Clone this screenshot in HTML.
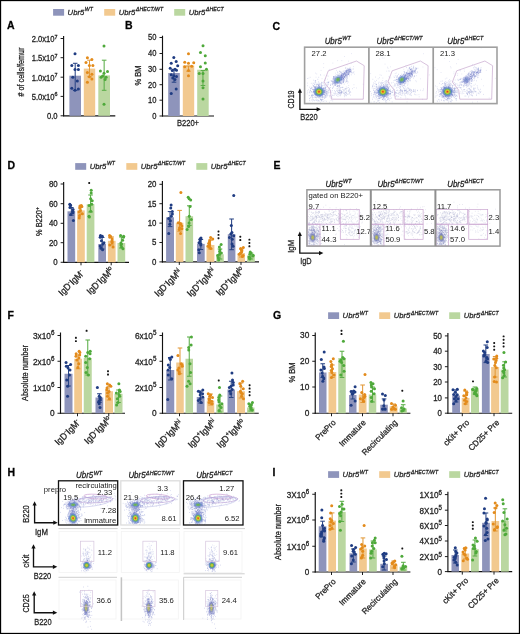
<!DOCTYPE html><html><head><meta charset="utf-8"><style>html,body{margin:0;padding:0;background:#fff;width:520px;height:634px;overflow:hidden}text{font-family:"Liberation Sans",sans-serif;stroke:#222;stroke-width:0.27px;paint-order:stroke}</style></head><body><svg width="520" height="634" viewBox="0 0 520 634" style="will-change:transform;position:absolute;left:0;top:0;font-family:'Liberation Sans', sans-serif">
<rect x="0.00" y="0.00" width="520.00" height="634.00" fill="#fff" stroke="none" stroke-width="1" />
<rect x="0.50" y="0.50" width="519.00" height="633.00" fill="none" stroke="#000" stroke-width="1.3" />
<rect x="53.10" y="9.00" width="11.00" height="6.70" fill="#8e94bb" stroke="none" stroke-width="1" />
<text transform="translate(67.60,14.70) scale(0.95,1)" font-size="8.1" text-anchor="start" font-weight="normal" font-style="italic" fill="#222" >Ubr5<tspan font-size="5.5" dx="0.6" dy="-3.4">WT</tspan></text>
<rect x="104.20" y="9.00" width="11.00" height="6.70" fill="#f2c98f" stroke="none" stroke-width="1" />
<text transform="translate(118.70,14.70) scale(0.95,1)" font-size="8.1" text-anchor="start" font-weight="normal" font-style="italic" fill="#222" >Ubr5<tspan font-size="5.5" dx="0.6" dy="-3.4">&#916;HECT/WT</tspan></text>
<rect x="174.20" y="9.00" width="11.00" height="6.70" fill="#bad7a0" stroke="none" stroke-width="1" />
<text transform="translate(188.70,14.70) scale(0.95,1)" font-size="8.1" text-anchor="start" font-weight="normal" font-style="italic" fill="#222" >Ubr5<tspan font-size="5.5" dx="0.6" dy="-3.4">&#916;HECT</tspan></text>
<text transform="translate(7.00,29.20) scale(1.0,1)" font-size="10.5" text-anchor="start" font-weight="bold" font-style="normal" fill="#000" class="pl">A</text>
<text transform="translate(125.00,29.20) scale(1.0,1)" font-size="10.5" text-anchor="start" font-weight="bold" font-style="normal" fill="#000" class="pl">B</text>
<text transform="translate(272.50,30.20) scale(1.0,1)" font-size="10.5" text-anchor="start" font-weight="bold" font-style="normal" fill="#000" class="pl">C</text>
<text transform="translate(7.50,169.40) scale(1.0,1)" font-size="10.5" text-anchor="start" font-weight="bold" font-style="normal" fill="#000" class="pl">D</text>
<text transform="translate(273.50,169.40) scale(1.0,1)" font-size="10.5" text-anchor="start" font-weight="bold" font-style="normal" fill="#000" class="pl">E</text>
<text transform="translate(7.50,318.80) scale(1.0,1)" font-size="10.5" text-anchor="start" font-weight="bold" font-style="normal" fill="#000" class="pl">F</text>
<text transform="translate(273.00,318.80) scale(1.0,1)" font-size="10.5" text-anchor="start" font-weight="bold" font-style="normal" fill="#000" class="pl">G</text>
<text transform="translate(7.50,476.40) scale(1.0,1)" font-size="10.5" text-anchor="start" font-weight="bold" font-style="normal" fill="#000" class="pl">H</text>
<text transform="translate(272.50,476.40) scale(1.0,1)" font-size="10.5" text-anchor="start" font-weight="bold" font-style="normal" fill="#000" class="pl">I</text>
<line x1="63.60" y1="36.00" x2="63.60" y2="116.30" stroke="#111" stroke-width="1.15"/>
<line x1="63.10" y1="115.80" x2="115.30" y2="115.80" stroke="#111" stroke-width="1.15"/>
<line x1="60.60" y1="38.50" x2="63.60" y2="38.50" stroke="#111" stroke-width="0.95"/>
<text transform="translate(57.60,41.90) scale(0.92,1)" font-size="8.3" text-anchor="end" font-weight="normal" font-style="normal" fill="#222" >2.0x10<tspan font-size="5.9" dy="-3.4">7</tspan></text>
<line x1="60.60" y1="57.70" x2="63.60" y2="57.70" stroke="#111" stroke-width="0.95"/>
<text transform="translate(57.60,61.10) scale(0.92,1)" font-size="8.3" text-anchor="end" font-weight="normal" font-style="normal" fill="#222" >1.5x10<tspan font-size="5.9" dy="-3.4">7</tspan></text>
<line x1="60.60" y1="77.20" x2="63.60" y2="77.20" stroke="#111" stroke-width="0.95"/>
<text transform="translate(57.60,80.60) scale(0.92,1)" font-size="8.3" text-anchor="end" font-weight="normal" font-style="normal" fill="#222" >1.0x10<tspan font-size="5.9" dy="-3.4">7</tspan></text>
<line x1="60.60" y1="96.40" x2="63.60" y2="96.40" stroke="#111" stroke-width="0.95"/>
<text transform="translate(57.60,99.80) scale(0.92,1)" font-size="8.3" text-anchor="end" font-weight="normal" font-style="normal" fill="#222" >5.0x10<tspan font-size="5.9" dy="-3.4">6</tspan></text>
<line x1="60.60" y1="115.80" x2="63.60" y2="115.80" stroke="#111" stroke-width="0.95"/>
<text transform="translate(57.60,118.70) scale(0.92,1)" font-size="8.3" text-anchor="end" font-weight="normal" font-style="normal" fill="#222" >0.0</text>
<rect x="69.40" y="75.70" width="11.60" height="40.10" fill="#8e94bb" stroke="none" stroke-width="1" />
<rect x="83.80" y="68.60" width="11.40" height="47.20" fill="#f2c98f" stroke="none" stroke-width="1" />
<rect x="98.30" y="75.40" width="11.70" height="40.40" fill="#bad7a0" stroke="none" stroke-width="1" />
<line x1="75.20" y1="63.30" x2="75.20" y2="90.30" stroke="#2a4585" stroke-width="1.05"/>
<line x1="72.90" y1="63.30" x2="77.50" y2="63.30" stroke="#2a4585" stroke-width="1.05"/>
<line x1="72.90" y1="90.30" x2="77.50" y2="90.30" stroke="#2a4585" stroke-width="1.05"/>
<circle cx="75.00" cy="53.80" r="1.5" fill="#1f3c82"/>
<circle cx="71.80" cy="65.50" r="1.5" fill="#1f3c82"/>
<circle cx="78.40" cy="65.50" r="1.5" fill="#1f3c82"/>
<circle cx="75.00" cy="69.40" r="1.5" fill="#1f3c82"/>
<circle cx="78.40" cy="69.40" r="1.5" fill="#1f3c82"/>
<circle cx="72.80" cy="77.20" r="1.5" fill="#1f3c82"/>
<circle cx="77.30" cy="81.10" r="1.5" fill="#1f3c82"/>
<circle cx="71.80" cy="88.20" r="1.5" fill="#1f3c82"/>
<circle cx="75.00" cy="90.30" r="1.5" fill="#1f3c82"/>
<circle cx="78.40" cy="88.90" r="1.5" fill="#1f3c82"/>
<line x1="89.50" y1="60.20" x2="89.50" y2="76.80" stroke="#e29a3a" stroke-width="1.05"/>
<line x1="87.20" y1="60.20" x2="91.80" y2="60.20" stroke="#e29a3a" stroke-width="1.05"/>
<line x1="87.20" y1="76.80" x2="91.80" y2="76.80" stroke="#e29a3a" stroke-width="1.05"/>
<circle cx="87.40" cy="57.70" r="1.5" fill="#e38b1b"/>
<circle cx="91.90" cy="59.50" r="1.5" fill="#e38b1b"/>
<circle cx="86.00" cy="62.60" r="1.5" fill="#e38b1b"/>
<circle cx="89.40" cy="65.50" r="1.5" fill="#e38b1b"/>
<circle cx="92.90" cy="65.50" r="1.5" fill="#e38b1b"/>
<circle cx="87.40" cy="72.60" r="1.5" fill="#e38b1b"/>
<circle cx="91.90" cy="74.30" r="1.5" fill="#e38b1b"/>
<circle cx="91.90" cy="78.90" r="1.5" fill="#e38b1b"/>
<circle cx="87.40" cy="82.20" r="1.5" fill="#e38b1b"/>
<circle cx="89.40" cy="76.80" r="1.5" fill="#e38b1b"/>
<line x1="104.15" y1="60.20" x2="104.15" y2="90.30" stroke="#5aae48" stroke-width="1.05"/>
<line x1="101.85" y1="60.20" x2="106.45" y2="60.20" stroke="#5aae48" stroke-width="1.05"/>
<line x1="101.85" y1="90.30" x2="106.45" y2="90.30" stroke="#5aae48" stroke-width="1.05"/>
<circle cx="104.00" cy="46.00" r="1.5" fill="#4ea93a"/>
<circle cx="100.40" cy="70.90" r="1.5" fill="#4ea93a"/>
<circle cx="107.50" cy="71.60" r="1.5" fill="#4ea93a"/>
<circle cx="104.00" cy="73.30" r="1.5" fill="#4ea93a"/>
<circle cx="101.10" cy="77.20" r="1.5" fill="#4ea93a"/>
<circle cx="106.10" cy="77.20" r="1.5" fill="#4ea93a"/>
<circle cx="105.10" cy="79.60" r="1.5" fill="#4ea93a"/>
<circle cx="102.60" cy="76.10" r="1.5" fill="#4ea93a"/>
<circle cx="104.00" cy="104.20" r="1.5" fill="#4ea93a"/>
<text font-size="8.4" text-anchor="middle" fill="#222" transform="translate(23.60,72.00) rotate(-90) scale(0.86,1)" ># of cells/femur</text>
<line x1="162.50" y1="35.70" x2="162.50" y2="116.50" stroke="#111" stroke-width="1.15"/>
<line x1="162.00" y1="116.00" x2="214.00" y2="116.00" stroke="#111" stroke-width="1.15"/>
<line x1="159.50" y1="37.50" x2="162.50" y2="37.50" stroke="#111" stroke-width="0.95"/>
<text transform="translate(156.50,40.40) scale(0.88,1)" font-size="8.6" text-anchor="end" font-weight="normal" font-style="normal" fill="#222" >50</text>
<line x1="159.50" y1="53.50" x2="162.50" y2="53.50" stroke="#111" stroke-width="0.95"/>
<text transform="translate(156.50,56.40) scale(0.88,1)" font-size="8.6" text-anchor="end" font-weight="normal" font-style="normal" fill="#222" >40</text>
<line x1="159.50" y1="69.30" x2="162.50" y2="69.30" stroke="#111" stroke-width="0.95"/>
<text transform="translate(156.50,72.20) scale(0.88,1)" font-size="8.6" text-anchor="end" font-weight="normal" font-style="normal" fill="#222" >30</text>
<line x1="159.50" y1="84.70" x2="162.50" y2="84.70" stroke="#111" stroke-width="0.95"/>
<text transform="translate(156.50,87.60) scale(0.88,1)" font-size="8.6" text-anchor="end" font-weight="normal" font-style="normal" fill="#222" >20</text>
<line x1="159.50" y1="100.20" x2="162.50" y2="100.20" stroke="#111" stroke-width="0.95"/>
<text transform="translate(156.50,103.10) scale(0.88,1)" font-size="8.6" text-anchor="end" font-weight="normal" font-style="normal" fill="#222" >10</text>
<line x1="159.50" y1="116.00" x2="162.50" y2="116.00" stroke="#111" stroke-width="0.95"/>
<text transform="translate(156.50,118.90) scale(0.88,1)" font-size="8.6" text-anchor="end" font-weight="normal" font-style="normal" fill="#222" >0</text>
<rect x="168.20" y="73.00" width="11.60" height="43.00" fill="#8e94bb" stroke="none" stroke-width="1" />
<rect x="182.80" y="65.50" width="11.40" height="50.50" fill="#f2c98f" stroke="none" stroke-width="1" />
<rect x="197.20" y="69.70" width="11.50" height="46.30" fill="#bad7a0" stroke="none" stroke-width="1" />
<line x1="174.00" y1="69.30" x2="174.00" y2="82.20" stroke="#2a4585" stroke-width="1.05"/>
<line x1="171.70" y1="69.30" x2="176.30" y2="69.30" stroke="#2a4585" stroke-width="1.05"/>
<line x1="171.70" y1="82.20" x2="176.30" y2="82.20" stroke="#2a4585" stroke-width="1.05"/>
<circle cx="173.79" cy="57.44" r="1.5" fill="#1f3c82"/>
<circle cx="171.24" cy="63.28" r="1.5" fill="#1f3c82"/>
<circle cx="176.19" cy="61.48" r="1.5" fill="#1f3c82"/>
<circle cx="177.69" cy="65.68" r="1.5" fill="#1f3c82"/>
<circle cx="170.19" cy="68.23" r="1.5" fill="#1f3c82"/>
<circle cx="174.99" cy="69.28" r="1.5" fill="#1f3c82"/>
<circle cx="172.29" cy="70.48" r="1.5" fill="#1f3c82"/>
<circle cx="176.49" cy="70.18" r="1.5" fill="#1f3c82"/>
<circle cx="171.24" cy="74.68" r="1.5" fill="#1f3c82"/>
<circle cx="173.79" cy="75.73" r="1.5" fill="#1f3c82"/>
<circle cx="176.49" cy="76.48" r="1.5" fill="#1f3c82"/>
<circle cx="172.74" cy="77.98" r="1.5" fill="#1f3c82"/>
<circle cx="174.99" cy="79.48" r="1.5" fill="#1f3c82"/>
<circle cx="176.19" cy="88.92" r="1.5" fill="#1f3c82"/>
<circle cx="171.24" cy="93.42" r="1.5" fill="#1f3c82"/>
<line x1="188.50" y1="66.00" x2="188.50" y2="71.20" stroke="#e29a3a" stroke-width="1.05"/>
<line x1="186.20" y1="66.00" x2="190.80" y2="66.00" stroke="#e29a3a" stroke-width="1.05"/>
<line x1="186.20" y1="71.20" x2="190.80" y2="71.20" stroke="#e29a3a" stroke-width="1.05"/>
<circle cx="188.49" cy="53.69" r="1.5" fill="#e38b1b"/>
<circle cx="184.74" cy="62.23" r="1.5" fill="#e38b1b"/>
<circle cx="188.49" cy="63.28" r="1.5" fill="#e38b1b"/>
<circle cx="193.73" cy="62.68" r="1.5" fill="#e38b1b"/>
<circle cx="184.74" cy="66.73" r="1.5" fill="#e38b1b"/>
<circle cx="191.78" cy="66.28" r="1.5" fill="#e38b1b"/>
<circle cx="188.49" cy="70.48" r="1.5" fill="#e38b1b"/>
<circle cx="188.49" cy="75.73" r="1.5" fill="#e38b1b"/>
<line x1="202.95" y1="70.50" x2="202.95" y2="85.50" stroke="#5aae48" stroke-width="1.05"/>
<line x1="200.65" y1="70.50" x2="205.25" y2="70.50" stroke="#5aae48" stroke-width="1.05"/>
<line x1="200.65" y1="85.50" x2="205.25" y2="85.50" stroke="#5aae48" stroke-width="1.05"/>
<circle cx="203.03" cy="45.74" r="1.5" fill="#4ea93a"/>
<circle cx="200.48" cy="52.49" r="1.5" fill="#4ea93a"/>
<circle cx="205.28" cy="55.79" r="1.5" fill="#4ea93a"/>
<circle cx="205.28" cy="62.98" r="1.5" fill="#4ea93a"/>
<circle cx="200.48" cy="66.73" r="1.5" fill="#4ea93a"/>
<circle cx="206.48" cy="69.28" r="1.5" fill="#4ea93a"/>
<circle cx="199.28" cy="73.48" r="1.5" fill="#4ea93a"/>
<circle cx="203.03" cy="73.48" r="1.5" fill="#4ea93a"/>
<circle cx="203.03" cy="80.97" r="1.5" fill="#4ea93a"/>
<circle cx="203.03" cy="87.72" r="1.5" fill="#4ea93a"/>
<circle cx="203.03" cy="98.97" r="1.5" fill="#4ea93a"/>
<text font-size="8.8" text-anchor="middle" fill="#222" transform="translate(141.00,75.50) rotate(-90) scale(0.86,1)" >% BM</text>
<text transform="translate(188.00,126.40) scale(0.88,1)" font-size="8.6" text-anchor="middle" font-weight="normal" font-style="normal" fill="#222" >B220+</text>
<defs>
<radialGradient id="gjet" cx="50%" cy="50%" r="50%">
<stop offset="0" stop-color="#d8241c"/>
<stop offset="0.12" stop-color="#ee8a1e"/>
<stop offset="0.25" stop-color="#d9d42e"/>
<stop offset="0.40" stop-color="#5cb04a"/>
<stop offset="0.58" stop-color="#4f7fc8"/>
<stop offset="0.78" stop-color="#7e8bd6" stop-opacity="0.55"/>
<stop offset="1" stop-color="#a8b0e6" stop-opacity="0"/>
</radialGradient>
<radialGradient id="ggrn" cx="50%" cy="50%" r="50%">
<stop offset="0" stop-color="#5cb04a"/>
<stop offset="0.22" stop-color="#78b858"/>
<stop offset="0.45" stop-color="#5584c8"/>
<stop offset="0.75" stop-color="#7d8ad4" stop-opacity="0.5"/>
<stop offset="1" stop-color="#a8b0e6" stop-opacity="0"/>
</radialGradient>
<radialGradient id="gyel" cx="50%" cy="50%" r="50%">
<stop offset="0" stop-color="#c8c040"/>
<stop offset="0.3" stop-color="#a8b060"/>
<stop offset="0.6" stop-color="#7078b8" stop-opacity="0.8"/>
<stop offset="1" stop-color="#a0a8d8" stop-opacity="0"/>
</radialGradient>
<radialGradient id="gblu" cx="50%" cy="50%" r="50%">
<stop offset="0" stop-color="#5a7cc0"/>
<stop offset="0.5" stop-color="#7f8cd0" stop-opacity="0.6"/>
<stop offset="1" stop-color="#a8b0e6" stop-opacity="0"/>
</radialGradient>
<radialGradient id="gjet2" cx="50%" cy="50%" r="50%">
<stop offset="0" stop-color="#d8281e"/>
<stop offset="0.14" stop-color="#ec7f22"/>
<stop offset="0.28" stop-color="#d8cf34"/>
<stop offset="0.45" stop-color="#6ab552" stop-opacity="0.95"/>
<stop offset="0.65" stop-color="#4f80c6" stop-opacity="0.7"/>
<stop offset="1" stop-color="#6a78cc" stop-opacity="0"/>
</radialGradient>
<radialGradient id="ggrn2" cx="50%" cy="50%" r="50%">
<stop offset="0" stop-color="#62b24e"/>
<stop offset="0.25" stop-color="#6fb25a" stop-opacity="0.9"/>
<stop offset="0.55" stop-color="#4f7fc6" stop-opacity="0.6"/>
<stop offset="1" stop-color="#6a78cc" stop-opacity="0"/>
</radialGradient>
<radialGradient id="gyg" cx="50%" cy="50%" r="50%">
<stop offset="0" stop-color="#e2c22e"/>
<stop offset="0.25" stop-color="#b8c438"/>
<stop offset="0.45" stop-color="#5fae58"/>
<stop offset="0.68" stop-color="#4f7fc8" stop-opacity="0.75"/>
<stop offset="1" stop-color="#6a78cc" stop-opacity="0"/>
</radialGradient>
</defs>
<path d="M326.5 86.6h.7M327.0 75.9h.7M315.7 77.2h.7M348.4 85.5h.7M347.2 83.2h.7M336.9 82.4h.7M338.7 86.5h.7M316.4 73.9h.7M335.5 79.4h.7M338.9 71.7h.7M335.5 85.1h.7M320.0 102.3h.7M339.5 95.6h.7M320.7 70.4h.7M325.1 78.6h.7M340.7 83.2h.7M323.4 67.6h.7M322.3 95.9h.7M317.7 83.2h.7M337.4 60.6h.7M331.4 97.0h.7M328.9 69.4h.7M338.6 79.2h.7M307.2 90.8h.7M341.3 92.3h.7M353.6 84.7h.7M332.5 63.1h.7M340.4 72.0h.7M323.4 63.6h.7M315.1 73.1h.7M351.2 53.6h.7M307.3 83.1h.7M353.7 87.5h.7M336.3 70.4h.7M312.7 92.7h.7M348.2 82.0h.7M334.5 85.6h.7M356.1 88.0h.7M338.9 87.1h.7M345.9 86.9h.7M344.1 56.5h.7M327.7 93.3h.7M309.6 100.9h.7M339.4 78.0h.7M335.8 88.4h.7M332.5 94.9h.7M320.0 74.6h.7M347.3 80.3h.7M316.5 92.3h.7M354.0 74.2h.7M308.5 78.2h.7M328.2 76.1h.7M353.1 66.6h.7M350.8 63.5h.7M318.0 88.2h.7M348.7 91.2h.7M336.1 81.9h.7M333.0 87.5h.7M327.8 83.6h.7M339.8 80.0h.7M342.8 87.4h.7M362.8 84.2h.7M323.8 75.2h.7M330.4 92.0h.7M325.2 85.0h.7M312.6 83.2h.7M337.0 83.1h.7M323.7 88.5h.7M335.1 73.2h.7M321.7 78.7h.7M327.0 79.2h.7M346.7 64.8h.7M329.5 92.4h.7M344.3 99.4h.7M325.1 88.1h.7M348.0 61.2h.7M341.5 60.6h.7M333.4 95.5h.7M328.2 82.5h.7" stroke="#9aa0d6" stroke-width="0.7" fill="none" opacity="0.45"/>
<path d="M322.2 92.2h.7M318.6 97.2h.7M323.2 90.6h.7M330.0 87.6h.7M322.7 90.7h.7M319.5 94.2h.7M319.9 94.0h.7M312.9 86.3h.7M321.5 88.2h.7M314.9 86.4h.7M324.1 94.4h.7M324.9 88.3h.7M319.0 87.6h.7M322.1 97.4h.7M315.4 97.3h.7M323.0 91.1h.7M311.1 96.8h.7M318.6 89.5h.7M320.6 93.2h.7M325.0 88.0h.7M323.5 97.1h.7M324.8 91.0h.7M316.0 95.4h.7M319.5 92.1h.7M324.7 90.8h.7M309.8 90.3h.7M311.6 94.6h.7M320.3 89.5h.7M319.0 94.7h.7M319.3 96.5h.7M318.8 95.4h.7M325.0 97.5h.7M316.3 94.9h.7M311.5 87.8h.7M311.1 95.5h.7M314.1 91.7h.7M318.2 91.6h.7M316.6 92.5h.7M326.2 91.9h.7M321.1 95.3h.7M318.2 87.2h.7M316.8 95.6h.7M312.4 89.5h.7M323.0 94.6h.7M319.0 94.6h.7M319.7 87.5h.7M312.7 89.4h.7M322.7 89.7h.7M315.4 88.9h.7M312.9 91.3h.7M314.3 93.0h.7M309.6 92.9h.7M316.4 84.7h.7M321.9 90.7h.7M310.1 88.5h.7M320.2 90.0h.7M322.1 94.4h.7M321.7 92.9h.7M324.3 94.1h.7M320.8 84.2h.7M322.6 96.4h.7M317.8 90.0h.7M326.8 85.4h.7M320.9 100.4h.7M315.3 94.2h.7M326.5 91.3h.7M321.2 94.9h.7M315.4 91.4h.7M320.2 94.7h.7M318.9 91.0h.7M314.9 90.4h.7M322.6 92.1h.7M315.6 88.7h.7M329.7 95.8h.7M321.5 82.4h.7M321.5 93.4h.7M325.7 93.2h.7M318.7 93.6h.7M311.2 95.4h.7M320.3 89.2h.7M324.3 98.2h.7M313.4 89.3h.7M320.2 92.4h.7M317.4 88.2h.7M327.5 95.4h.7M314.2 86.9h.7M325.8 95.3h.7M326.3 94.6h.7M315.5 92.6h.7M310.4 89.0h.7M318.8 93.6h.7M316.1 91.3h.7M320.8 93.1h.7M321.6 92.5h.7M317.7 94.5h.7M319.2 88.7h.7M316.5 91.7h.7M318.6 92.3h.7M319.0 92.3h.7M318.5 87.2h.7M320.7 95.5h.7M320.7 91.0h.7M320.8 88.2h.7M311.4 91.9h.7M315.3 94.4h.7M314.7 82.2h.7M314.8 97.4h.7M317.5 86.8h.7M315.9 93.6h.7M321.0 92.3h.7M324.9 94.2h.7M318.9 93.8h.7M325.6 95.2h.7M323.1 87.8h.7M318.4 94.3h.7M317.8 95.5h.7M321.4 95.0h.7M318.2 100.9h.7M324.0 90.9h.7M319.4 101.0h.7M317.6 94.8h.7M322.9 91.7h.7M314.3 92.4h.7M320.4 95.8h.7M322.1 91.8h.7M322.4 93.6h.7M319.8 91.9h.7M318.0 94.2h.7M314.8 89.4h.7M319.0 86.4h.7M317.3 84.5h.7M316.3 93.7h.7M321.3 91.5h.7M318.1 86.6h.7M326.3 93.6h.7M323.4 88.5h.7M318.3 85.1h.7M322.1 95.1h.7M311.4 91.5h.7M321.5 85.4h.7M311.7 87.9h.7M316.5 86.6h.7M319.1 92.6h.7M321.5 94.2h.7M325.0 95.9h.7M313.8 89.9h.7M314.8 87.8h.7M318.7 91.7h.7M321.0 86.0h.7M314.0 91.6h.7M318.2 90.6h.7M318.7 89.0h.7M321.8 93.0h.7M318.6 89.3h.7M318.3 81.9h.7M315.1 91.8h.7M313.0 92.4h.7M319.6 86.7h.7M318.0 90.6h.7M320.8 93.9h.7M318.9 88.6h.7M318.4 91.5h.7M321.9 92.8h.7M316.1 86.8h.7M317.5 89.0h.7M314.6 91.3h.7M317.0 92.1h.7M321.1 90.2h.7M328.3 90.5h.7M323.4 92.1h.7M323.5 83.1h.7M316.0 92.6h.7M321.4 100.1h.7M320.3 96.3h.7M322.1 95.1h.7M321.0 91.1h.7M321.0 87.8h.7M323.7 88.0h.7M320.0 99.3h.7M318.1 91.8h.7M323.7 91.8h.7M315.8 92.6h.7M321.3 94.3h.7M315.9 98.0h.7M325.7 91.8h.7M320.1 90.2h.7M324.7 89.2h.7M321.7 90.0h.7M316.2 94.3h.7M324.3 91.7h.7M316.3 94.6h.7M318.8 92.8h.7M325.1 95.8h.7M316.9 99.9h.7M319.0 94.5h.7M316.4 91.5h.7M312.0 98.1h.7M324.5 87.3h.7M313.0 85.9h.7M323.7 90.0h.7M318.8 90.6h.7M318.5 87.8h.7M319.1 86.5h.7M318.7 92.8h.7M320.9 90.9h.7M315.4 92.3h.7M317.1 97.3h.7M322.1 91.3h.7M317.1 89.2h.7M315.3 90.4h.7M320.2 93.6h.7M321.3 99.3h.7M316.2 91.7h.7M330.2 85.0h.7M316.9 92.3h.7M319.6 93.2h.7M318.0 93.0h.7M319.2 94.5h.7M311.4 88.5h.7M319.0 88.0h.7M314.8 94.0h.7M316.4 94.0h.7M322.0 92.8h.7M321.0 91.3h.7M313.4 91.6h.7M320.8 89.8h.7M318.6 94.4h.7M315.5 94.0h.7M326.5 89.7h.7M319.6 91.2h.7M325.2 92.8h.7M322.6 89.2h.7M318.9 91.7h.7M311.9 96.9h.7M322.6 85.4h.7M322.0 91.2h.7M320.8 93.0h.7M313.0 90.9h.7M325.0 89.6h.7M314.9 86.8h.7M314.1 92.9h.7M325.8 93.2h.7M320.0 99.7h.7M316.9 89.3h.7M321.1 93.7h.7M314.9 87.5h.7M320.2 92.6h.7M313.8 91.0h.7M316.8 93.4h.7M318.5 91.4h.7M317.6 95.5h.7M324.6 90.4h.7M322.4 89.0h.7M319.3 94.4h.7M325.1 90.3h.7M318.7 92.4h.7M313.0 91.8h.7M316.3 93.0h.7M314.5 84.6h.7M319.2 92.6h.7M316.8 94.9h.7M317.9 89.5h.7M320.9 86.1h.7M316.3 91.6h.7M322.4 91.1h.7M320.2 89.3h.7M320.2 97.7h.7M316.3 100.2h.7M316.4 91.8h.7M319.7 95.4h.7M314.1 84.1h.7M321.4 94.6h.7M321.5 101.2h.7M319.8 92.6h.7M322.7 93.0h.7M325.7 87.2h.7M317.5 79.3h.7M322.2 90.4h.7M322.7 99.5h.7M319.0 90.8h.7M317.0 88.7h.7M316.5 94.0h.7M319.1 91.9h.7M318.3 95.0h.7M321.0 91.2h.7M321.7 91.2h.7M314.4 96.9h.7M320.9 88.3h.7M323.3 92.9h.7M312.7 97.5h.7M320.3 94.9h.7M319.8 91.2h.7M312.8 95.2h.7M319.1 90.7h.7M320.4 92.0h.7M321.7 90.4h.7M318.9 84.0h.7M317.3 94.1h.7M324.3 90.4h.7M318.5 97.4h.7M317.7 94.3h.7M325.7 91.8h.7M323.9 89.1h.7M319.8 91.4h.7M319.5 95.8h.7M328.6 89.3h.7M316.7 93.5h.7M314.8 93.5h.7M321.3 90.7h.7M321.1 86.1h.7M322.0 86.1h.7M316.2 89.7h.7M317.4 94.8h.7M319.3 90.3h.7M321.2 97.4h.7M319.0 93.0h.7M324.0 92.7h.7M313.9 100.7h.7M327.8 84.6h.7M318.8 93.2h.7M322.9 94.1h.7M317.9 87.9h.7M319.4 95.4h.7M314.6 88.0h.7M318.9 84.7h.7M318.0 90.1h.7M320.8 89.2h.7M315.5 90.3h.7M318.8 89.3h.7M319.0 94.4h.7M323.7 97.8h.7M315.9 90.2h.7M309.1 98.5h.7M316.1 91.6h.7M321.1 86.8h.7M320.9 91.6h.7M311.7 92.8h.7M323.8 85.0h.7M322.2 92.5h.7M320.9 93.3h.7M324.2 90.9h.7M322.5 90.2h.7M321.9 88.8h.7M318.6 97.9h.7M320.8 91.1h.7M314.4 88.9h.7M319.8 95.1h.7M320.7 93.6h.7M318.8 96.6h.7M317.4 89.7h.7M322.6 91.9h.7M317.9 89.6h.7M318.0 93.9h.7M320.4 87.3h.7M320.7 92.3h.7M315.0 94.5h.7M317.9 90.5h.7M322.2 96.5h.7M316.2 93.3h.7M315.5 100.0h.7M317.0 96.0h.7M316.4 94.6h.7M327.9 82.6h.7M317.3 93.5h.7M318.6 89.3h.7M327.6 92.0h.7M312.4 94.8h.7M312.1 95.8h.7M316.7 92.2h.7M324.0 92.1h.7M313.4 85.6h.7M323.7 94.4h.7M315.7 94.8h.7M321.0 94.0h.7M310.0 90.6h.7M322.6 94.3h.7M322.5 82.9h.7M319.7 93.5h.7M329.2 88.3h.7M317.7 91.8h.7M322.5 90.1h.7M323.6 88.9h.7M320.1 89.8h.7M319.6 89.2h.7M312.6 95.6h.7M320.2 89.7h.7M319.8 95.3h.7M315.1 91.3h.7M321.2 93.6h.7M317.7 84.1h.7M324.0 92.9h.7M319.1 90.7h.7M320.1 90.2h.7M314.9 89.0h.7M316.6 89.5h.7M314.4 94.0h.7M313.8 94.1h.7M314.9 93.0h.7M324.5 92.4h.7M316.1 91.9h.7M319.6 85.5h.7M316.6 92.3h.7M317.1 92.0h.7M321.9 94.5h.7M322.6 93.8h.7M317.8 91.6h.7M317.9 90.6h.7M318.3 85.5h.7M317.7 91.6h.7M315.1 91.6h.7M321.1 91.1h.7M327.3 82.3h.7M318.2 85.1h.7M322.9 101.3h.7M309.0 92.2h.7M321.1 90.6h.7M321.2 83.6h.7M322.4 93.0h.7M319.1 89.6h.7M321.6 90.0h.7" stroke="#5565c0" stroke-width="0.7" fill="none" opacity="0.45"/>
<path d="M320.5 88.6h.7M320.3 96.2h.7M313.3 91.5h.7M323.0 92.6h.7M313.1 80.2h.7M324.6 100.9h.7M325.0 96.6h.7M315.0 87.4h.7M324.8 86.2h.7M307.2 85.7h.7M314.5 87.3h.7M320.5 87.2h.7M327.5 91.2h.7M311.9 99.6h.7M315.2 93.0h.7M318.9 89.8h.7M321.1 87.5h.7M307.0 78.5h.7M310.8 87.1h.7M318.9 92.0h.7M322.6 92.4h.7M313.8 87.4h.7M322.2 94.9h.7M318.2 90.7h.7M325.1 91.8h.7M323.8 95.2h.7M320.4 99.5h.7M315.3 89.5h.7M313.7 86.9h.7M329.1 102.3h.7M319.1 95.1h.7M326.6 96.5h.7M326.8 84.1h.7M314.8 94.4h.7M328.3 92.3h.7M313.4 89.6h.7M314.7 86.6h.7M328.8 87.9h.7M326.7 93.7h.7M315.0 94.2h.7M329.5 95.4h.7M327.2 92.3h.7M322.4 90.5h.7M321.8 99.5h.7M309.7 91.3h.7M320.6 88.3h.7M317.0 96.4h.7M332.0 95.5h.7M321.1 82.4h.7M331.5 92.2h.7M318.8 85.0h.7M318.6 85.1h.7M319.5 94.5h.7M319.2 93.4h.7M313.5 100.3h.7M314.8 80.8h.7M317.8 87.1h.7M312.4 89.6h.7M320.9 84.6h.7M318.1 100.3h.7M323.4 90.8h.7M319.8 91.0h.7M318.7 96.1h.7M318.4 77.3h.7M318.9 86.4h.7M323.2 88.0h.7M312.2 85.0h.7M309.8 77.3h.7M306.8 93.9h.7M314.9 80.5h.7M309.4 95.4h.7M314.0 89.5h.7M321.1 99.8h.7M331.6 97.9h.7M319.9 92.8h.7M330.7 100.3h.7M317.0 94.4h.7M320.9 92.0h.7M315.7 83.7h.7M315.5 82.4h.7M327.0 94.9h.7M311.2 100.1h.7M324.8 80.2h.7M331.0 96.6h.7M332.4 84.3h.7M322.4 94.2h.7M320.3 92.7h.7M325.8 82.7h.7M310.9 83.3h.7M315.4 88.1h.7M321.4 93.3h.7M319.2 87.6h.7M316.1 97.4h.7M324.0 92.3h.7M316.9 101.0h.7M315.1 95.6h.7M326.5 90.1h.7M324.4 85.0h.7M325.6 92.9h.7M308.7 95.7h.7M313.2 99.4h.7M314.6 90.7h.7M320.8 89.7h.7M320.7 88.4h.7M323.4 91.7h.7M320.4 75.2h.7M326.5 91.9h.7M307.4 92.3h.7M322.0 98.1h.7M312.0 101.0h.7M318.0 95.8h.7M316.6 85.0h.7M326.1 97.1h.7M329.0 96.8h.7M315.3 81.7h.7M314.8 87.6h.7M313.7 95.2h.7M321.1 90.1h.7M320.1 90.8h.7M320.4 96.2h.7M325.2 87.6h.7M309.2 100.3h.7M319.7 98.3h.7M308.3 89.7h.7M319.2 83.1h.7M315.6 96.0h.7M326.0 101.3h.7M313.4 83.3h.7M322.4 97.3h.7M320.3 83.9h.7M324.1 96.5h.7M322.6 88.8h.7M321.0 96.4h.7M315.4 80.6h.7M321.1 94.6h.7M319.1 97.0h.7M315.2 91.2h.7M317.0 95.1h.7M329.4 90.2h.7M332.4 100.9h.7M324.1 95.2h.7M330.5 90.6h.7M318.3 85.3h.7M322.1 99.8h.7M322.5 94.2h.7M317.7 92.7h.7M309.7 98.0h.7M316.3 85.1h.7M314.1 86.8h.7M324.6 98.0h.7M310.2 97.3h.7M324.8 88.2h.7M309.3 87.2h.7" stroke="#8088cc" stroke-width="0.7" fill="none" opacity="0.45"/>
<ellipse cx="0" cy="0" rx="6.2" ry="5.8" fill="url(#gjet2)" opacity="1" transform="translate(319.00,91.70) rotate(0)"/>
<path d="M334.3 82.9h.7M335.1 76.7h.7M336.8 78.0h.7M338.6 78.9h.7M334.2 79.8h.7M334.6 85.4h.7M338.5 83.6h.7M337.0 78.0h.7M334.6 80.6h.7M333.4 83.3h.7M334.0 80.2h.7M333.2 76.7h.7M337.8 85.5h.7M336.6 79.5h.7M328.5 82.4h.7M339.5 82.8h.7M338.7 85.8h.7M339.3 80.9h.7M339.0 84.0h.7M331.8 80.9h.7M332.1 81.7h.7M337.7 79.2h.7M330.3 85.4h.7M337.2 85.8h.7M332.4 84.8h.7M341.9 87.2h.7M335.5 82.7h.7M335.7 84.6h.7M339.0 82.2h.7M332.3 83.9h.7M334.8 83.6h.7M336.8 86.2h.7M339.3 80.8h.7M337.1 86.6h.7M334.6 83.1h.7M339.4 85.3h.7M337.6 78.6h.7M332.6 82.6h.7M337.2 88.6h.7M333.7 85.0h.7M338.3 77.7h.7M333.8 82.4h.7M334.7 81.6h.7M337.4 79.9h.7M337.4 80.3h.7M334.6 83.4h.7M334.5 82.7h.7M340.6 82.1h.7M335.7 83.9h.7M335.1 84.8h.7M332.5 83.6h.7M334.7 79.9h.7M341.1 79.8h.7M341.0 83.7h.7M340.2 79.5h.7M339.5 85.8h.7M335.8 81.7h.7M343.0 82.5h.7M334.9 80.4h.7M337.3 82.9h.7M336.6 86.5h.7M335.2 83.2h.7M340.2 79.4h.7M339.0 86.8h.7M332.3 79.1h.7M333.2 77.2h.7M337.4 77.2h.7M337.5 85.8h.7M331.6 81.2h.7M330.7 84.0h.7M334.0 81.3h.7M336.3 83.4h.7M335.1 82.0h.7M334.6 82.3h.7M332.8 82.2h.7M330.7 80.7h.7M341.5 82.2h.7M332.6 82.7h.7M333.4 77.7h.7M334.0 83.9h.7M337.2 81.7h.7M333.5 79.2h.7M339.9 82.6h.7M333.4 76.5h.7M332.3 88.4h.7M332.9 81.8h.7M336.7 81.6h.7M335.3 78.4h.7M333.2 86.4h.7M334.0 84.2h.7M331.4 81.3h.7M336.8 84.7h.7M333.0 83.5h.7M337.2 80.1h.7M337.4 79.7h.7M333.9 82.0h.7M328.5 81.7h.7M333.3 78.2h.7M334.9 84.0h.7M335.0 85.3h.7M332.9 78.6h.7M340.4 83.0h.7M338.7 79.9h.7M338.4 82.7h.7M337.9 82.1h.7M339.5 80.3h.7M333.4 78.2h.7M339.3 80.1h.7M333.2 79.6h.7M334.9 78.7h.7" stroke="#5a68c2" stroke-width="0.7" fill="none" opacity="0.42"/>
<path d="M338.0 78.2h.7M337.3 77.4h.7M338.9 78.6h.7M339.1 80.3h.7M339.7 74.4h.7M337.4 77.8h.7M340.8 75.9h.7M336.9 79.0h.7M337.9 82.1h.7M337.6 82.1h.7M334.9 75.3h.7M342.0 80.8h.7M340.1 80.0h.7M340.1 76.7h.7M341.3 78.4h.7M341.4 79.9h.7M333.6 76.6h.7M341.8 79.4h.7M337.8 80.3h.7M337.7 78.4h.7M339.1 80.1h.7M342.8 79.8h.7M343.8 84.1h.7M343.3 82.3h.7M339.1 80.0h.7M338.4 77.9h.7M338.6 78.1h.7M343.1 81.0h.7M337.6 75.0h.7M338.7 78.7h.7M335.9 76.9h.7M332.9 81.1h.7M338.6 86.0h.7M338.7 79.3h.7M342.6 80.0h.7M339.2 78.8h.7M337.2 83.4h.7M341.4 83.9h.7M337.9 79.8h.7M336.5 82.1h.7M335.1 81.1h.7M341.7 83.1h.7M336.3 82.4h.7M336.9 77.9h.7M335.3 82.5h.7M343.2 78.2h.7M336.8 78.9h.7M345.4 82.2h.7M337.4 75.3h.7M337.0 82.6h.7M343.7 79.0h.7M337.0 78.5h.7M333.8 81.9h.7M335.9 82.3h.7M334.3 76.6h.7M339.6 77.8h.7M340.9 79.7h.7M335.7 81.2h.7M341.0 75.0h.7M343.6 80.9h.7M340.8 75.2h.7M336.9 78.8h.7M341.6 76.1h.7M336.5 74.7h.7M338.2 80.5h.7M334.3 78.3h.7M340.1 83.6h.7M340.6 79.0h.7M335.7 77.4h.7M337.0 80.1h.7M338.7 83.8h.7M339.6 77.1h.7M342.9 82.0h.7M339.1 77.9h.7M333.9 77.2h.7M341.2 77.7h.7M335.3 80.2h.7M339.4 81.2h.7M340.5 83.1h.7M336.6 82.1h.7M336.2 81.4h.7M339.3 80.3h.7M341.4 79.7h.7M341.7 81.8h.7M339.2 78.3h.7M336.8 78.4h.7M338.3 79.6h.7M346.7 81.3h.7M340.8 77.6h.7M336.9 78.9h.7M339.3 77.2h.7M343.1 78.3h.7M341.6 74.0h.7M338.8 80.4h.7M339.3 81.2h.7M339.5 80.1h.7M333.8 78.0h.7M332.6 81.2h.7" stroke="#5a68c2" stroke-width="0.7" fill="none" opacity="0.42"/>
<path d="M342.3 77.0h.7M339.5 76.1h.7M346.1 81.3h.7M341.4 80.3h.7M337.6 73.0h.7M340.3 75.4h.7M340.1 77.8h.7M349.0 75.9h.7M341.6 78.0h.7M341.4 79.5h.7M345.9 74.6h.7M341.9 76.8h.7M342.4 73.9h.7M337.1 72.1h.7M342.8 77.8h.7M341.7 72.0h.7M340.6 75.7h.7M338.0 75.3h.7M343.2 78.6h.7M341.4 78.6h.7M340.0 77.6h.7M341.6 78.7h.7M341.3 77.1h.7M341.2 75.9h.7M347.0 78.6h.7M342.6 82.6h.7M345.0 73.9h.7M343.2 79.3h.7M346.2 80.4h.7M343.4 74.7h.7M339.3 78.0h.7M342.8 75.1h.7M340.5 76.5h.7M341.7 78.2h.7M340.8 74.6h.7M344.6 81.0h.7M341.2 79.7h.7M342.6 78.9h.7M342.7 75.7h.7M342.9 79.7h.7M339.3 81.9h.7M346.7 81.6h.7M346.4 79.1h.7M340.7 76.0h.7M339.5 77.7h.7M341.4 78.9h.7M336.5 82.7h.7M347.1 77.3h.7M343.2 78.5h.7M342.2 76.9h.7M341.2 75.5h.7M341.9 77.3h.7M342.3 75.5h.7M341.6 77.5h.7M343.0 75.0h.7M342.5 79.6h.7M343.0 76.6h.7M340.3 76.9h.7M343.3 80.9h.7M341.1 75.9h.7M342.4 77.9h.7M339.2 75.7h.7M341.2 78.9h.7M338.5 75.1h.7M342.7 74.6h.7M341.8 78.2h.7M341.2 75.1h.7M341.4 76.6h.7M342.3 75.5h.7M344.2 73.6h.7M341.1 77.4h.7M343.9 76.0h.7M342.9 76.1h.7M343.3 81.4h.7M340.5 78.4h.7M339.2 79.6h.7M344.5 77.5h.7M338.7 78.3h.7M344.3 79.9h.7M343.5 73.2h.7M339.8 80.6h.7M338.5 80.0h.7M346.2 79.1h.7M344.3 76.6h.7M338.5 77.2h.7M341.0 77.3h.7" stroke="#5a68c2" stroke-width="0.7" fill="none" opacity="0.42"/>
<path d="M345.8 74.8h.7M344.6 76.0h.7M344.2 79.0h.7M345.2 75.3h.7M343.7 73.8h.7M347.3 75.4h.7M341.7 73.9h.7M343.9 74.2h.7M346.7 72.6h.7M345.3 75.4h.7M341.5 75.2h.7M344.0 76.2h.7M343.2 75.7h.7M340.3 72.8h.7M346.0 77.3h.7M344.2 73.8h.7M346.7 70.7h.7M342.3 76.5h.7M345.7 72.9h.7M339.8 78.2h.7M344.6 73.2h.7M344.3 77.0h.7M338.2 77.5h.7M345.9 70.7h.7M346.0 71.3h.7M346.8 75.9h.7M349.4 73.8h.7M344.2 77.3h.7M342.7 73.6h.7M343.3 74.9h.7M341.7 76.1h.7M345.5 75.3h.7M348.1 74.4h.7M347.2 73.9h.7M346.0 71.0h.7M344.7 74.7h.7M343.1 73.8h.7M343.4 73.6h.7M339.1 73.8h.7M342.9 74.0h.7M341.7 74.8h.7M346.0 74.6h.7M343.1 78.0h.7M346.5 77.1h.7M346.9 74.4h.7M343.9 77.5h.7M342.9 74.8h.7M345.1 75.9h.7M343.6 77.2h.7M343.8 76.6h.7M346.7 76.5h.7M345.9 72.6h.7M341.2 73.8h.7M345.3 78.3h.7M341.4 75.8h.7M342.2 73.5h.7M343.6 76.6h.7M344.7 77.6h.7M341.9 77.0h.7M346.4 75.2h.7M345.3 73.9h.7M341.7 74.2h.7M342.7 81.2h.7M343.1 78.6h.7M344.7 75.8h.7M345.9 73.4h.7M346.3 75.9h.7M340.7 76.4h.7M345.5 76.1h.7M347.9 74.2h.7M345.4 76.7h.7M342.1 77.6h.7M340.8 72.3h.7M345.4 72.8h.7" stroke="#5a68c2" stroke-width="0.7" fill="none" opacity="0.42"/>
<path d="M346.6 69.6h.7M347.0 70.6h.7M347.6 69.8h.7M347.9 72.3h.7M347.0 72.7h.7M347.2 70.2h.7M341.4 72.9h.7M344.9 71.9h.7M347.8 68.9h.7M345.3 71.6h.7M344.6 73.4h.7M346.6 71.2h.7M344.8 74.4h.7M345.5 73.9h.7M347.9 69.1h.7M344.6 72.8h.7M347.6 74.3h.7M348.6 74.8h.7M346.1 72.4h.7M348.6 72.0h.7M349.2 69.7h.7M348.3 72.5h.7M342.7 74.7h.7M347.6 72.8h.7M344.6 71.9h.7M350.2 71.2h.7M339.4 71.1h.7M344.3 72.5h.7M346.1 71.0h.7M345.1 74.9h.7M343.8 76.6h.7M345.7 70.7h.7M348.6 73.9h.7M344.6 74.3h.7M342.9 71.0h.7M349.3 72.3h.7M344.1 73.8h.7M348.9 72.8h.7M343.0 72.1h.7M347.8 74.3h.7M350.9 72.3h.7M345.9 72.7h.7M349.5 71.0h.7M349.7 67.4h.7M348.6 71.5h.7M347.9 74.1h.7M344.3 72.6h.7M347.4 74.0h.7M344.9 70.9h.7M342.7 77.8h.7M346.5 72.4h.7M343.7 74.6h.7M345.7 75.6h.7M348.7 72.8h.7M348.5 70.6h.7M346.2 71.7h.7M344.2 72.8h.7M346.6 75.6h.7M339.7 71.5h.7M344.9 71.9h.7M347.8 73.6h.7M347.0 71.9h.7" stroke="#5a68c2" stroke-width="0.7" fill="none" opacity="0.42"/>
<path d="M350.6 71.1h.7M345.9 70.0h.7M346.9 68.4h.7M349.9 70.6h.7M349.8 68.9h.7M349.2 68.9h.7M350.4 71.7h.7M353.1 72.8h.7M348.0 69.7h.7M347.7 71.1h.7M353.6 71.8h.7M345.2 68.2h.7M347.0 71.4h.7M349.6 71.0h.7M353.2 69.0h.7M347.9 74.0h.7M350.3 69.1h.7M345.5 67.8h.7M344.7 70.6h.7M349.7 72.3h.7M349.3 69.3h.7M348.1 73.9h.7M346.1 70.8h.7M349.7 71.6h.7M348.8 71.4h.7M351.2 70.2h.7M348.7 70.2h.7M347.7 70.1h.7M349.0 70.9h.7M352.3 72.9h.7M348.7 71.6h.7M350.2 71.9h.7M349.6 71.0h.7M348.7 69.1h.7M351.3 72.8h.7M350.9 71.3h.7M350.1 69.7h.7M346.0 71.7h.7M350.0 69.5h.7M347.7 72.8h.7M346.0 73.7h.7M350.9 74.8h.7M348.2 70.5h.7M348.6 70.8h.7M349.2 69.2h.7M351.7 69.1h.7M348.6 71.5h.7M348.5 69.7h.7M350.3 69.8h.7M347.1 70.3h.7" stroke="#5a68c2" stroke-width="0.7" fill="none" opacity="0.42"/>
<ellipse cx="0" cy="0" rx="5.5" ry="4.5" fill="url(#ggrn2)" opacity="1.0" transform="translate(337.90,79.60) rotate(-40)"/>
<path d="M339.9 95.7h.7M335.1 94.0h.7M336.8 91.0h.7M339.3 92.4h.7M345.8 95.8h.7M337.6 94.9h.7M346.6 93.7h.7M336.9 93.9h.7M340.5 92.6h.7M339.6 93.3h.7M347.2 94.4h.7M340.0 94.1h.7M349.1 89.6h.7M349.2 88.7h.7M344.1 93.2h.7M349.3 92.4h.7M338.5 90.0h.7M334.2 93.6h.7M339.8 90.1h.7M344.0 90.0h.7M338.7 90.7h.7M350.2 95.2h.7M340.2 88.2h.7M342.6 92.0h.7M343.0 93.1h.7M339.3 93.9h.7M345.7 92.3h.7M338.9 90.7h.7M344.9 89.3h.7M340.2 90.1h.7M333.4 93.2h.7M341.0 91.9h.7M345.9 88.4h.7M340.7 92.5h.7M345.7 89.3h.7M345.0 92.3h.7M348.6 94.4h.7M344.1 96.7h.7M341.1 90.8h.7M339.2 89.6h.7M340.9 87.5h.7M340.6 92.8h.7M346.6 91.0h.7M348.7 90.3h.7M340.4 87.5h.7M336.9 90.0h.7M349.1 93.0h.7M335.2 93.0h.7M343.7 91.3h.7M341.2 91.1h.7M338.2 87.8h.7M340.6 94.7h.7M348.8 91.2h.7M337.1 91.3h.7M345.9 92.6h.7M338.0 92.6h.7M340.0 93.0h.7M338.9 88.5h.7M341.4 93.5h.7M335.2 91.6h.7M345.8 91.0h.7M337.6 96.4h.7M345.5 94.1h.7M336.0 95.5h.7M332.2 90.6h.7M345.1 94.8h.7M336.1 90.3h.7M342.2 87.5h.7M344.5 93.1h.7M338.7 93.0h.7M345.2 92.5h.7M343.9 95.2h.7M338.5 92.2h.7M338.3 94.1h.7M338.9 92.9h.7M341.8 91.9h.7M350.3 91.6h.7M348.7 93.6h.7M348.1 91.4h.7M346.0 93.5h.7M337.8 92.4h.7M340.4 91.7h.7M348.0 90.2h.7M332.2 87.9h.7M338.7 90.4h.7M341.2 93.1h.7M350.4 92.5h.7M343.6 90.2h.7M344.2 94.8h.7M348.2 87.5h.7M345.8 95.3h.7M345.5 88.5h.7M339.5 93.1h.7M343.3 90.0h.7M336.4 93.9h.7M334.0 95.0h.7M341.2 92.5h.7M334.0 90.5h.7M344.7 88.5h.7M352.1 88.7h.7M334.6 91.9h.7M343.6 93.4h.7M339.1 91.3h.7M339.9 90.5h.7M327.5 93.9h.7M342.4 92.2h.7M337.8 92.4h.7M341.0 91.6h.7M346.9 88.0h.7M342.4 89.4h.7" stroke="#7a84c8" stroke-width="0.7" fill="none" opacity="0.45"/>
<polygon points="324.0,82.0 328.3,70.8 356.5,61.0 364.2,65.7 363.3,99.2 331.4,99.2 330.3,90.1" fill="none" stroke="#c3a0cb" stroke-width="0.65"/>
<text transform="translate(311.60,55.70) scale(0.95,1)" font-size="8.1" text-anchor="start" font-weight="normal" font-style="normal" fill="#1a1a1a" style="stroke:none">27.2</text>
<text transform="translate(337.70,43.70) scale(0.92,1)" font-size="8.6" font-style="italic" fill="#222" text-anchor="middle">Ubr5<tspan font-size="5.9" dx="0.6" dy="-3.4">WT</tspan></text>
<path d="M389.6 98.7h.7M377.8 78.8h.7M385.4 91.9h.7M379.4 59.0h.7M402.4 75.6h.7M389.6 93.5h.7M380.9 75.3h.7M396.8 85.2h.7M386.6 92.9h.7M428.9 74.9h.7M423.2 53.7h.7M416.1 75.7h.7M396.6 75.8h.7M384.7 64.1h.7M388.4 96.2h.7M412.0 75.7h.7M386.4 71.2h.7M376.1 102.5h.7M404.7 81.5h.7M387.0 67.2h.7M414.7 89.7h.7M379.9 92.3h.7M377.5 88.0h.7M379.7 74.8h.7M402.1 85.4h.7M410.0 69.6h.7M418.8 96.8h.7M394.3 85.8h.7M382.5 78.1h.7M374.2 81.1h.7M397.6 96.8h.7M409.1 90.2h.7M388.9 77.2h.7M389.3 82.8h.7M370.4 73.6h.7M394.8 73.6h.7M420.0 78.8h.7M418.6 94.6h.7M386.9 85.0h.7M414.4 75.8h.7M395.9 73.0h.7M395.4 75.6h.7M395.8 92.5h.7M415.9 81.7h.7M397.6 90.7h.7M390.0 66.8h.7M411.6 68.3h.7M408.8 68.0h.7M422.6 67.0h.7M407.5 98.7h.7M379.7 98.5h.7M381.9 58.0h.7M405.6 88.8h.7M391.4 48.5h.7M393.7 76.2h.7M388.7 76.4h.7M422.1 99.3h.7M388.9 71.1h.7M400.6 93.3h.7M405.6 65.4h.7M397.0 81.8h.7M416.6 94.9h.7M402.5 95.2h.7M388.4 99.2h.7M388.0 84.9h.7M408.6 68.6h.7M383.7 58.1h.7M397.0 79.3h.7M389.5 86.2h.7M395.8 76.7h.7M406.7 101.9h.7M387.7 68.3h.7M385.2 81.2h.7M403.5 69.3h.7M409.8 67.2h.7M407.2 85.3h.7M390.5 77.9h.7M401.8 90.8h.7M373.9 83.4h.7M383.1 87.9h.7M415.5 80.6h.7M392.9 82.3h.7M403.1 82.1h.7M388.4 70.9h.7M391.7 95.1h.7" stroke="#9aa0d6" stroke-width="0.7" fill="none" opacity="0.45"/>
<path d="M382.5 96.4h.7M373.0 90.1h.7M384.0 91.7h.7M376.5 89.4h.7M387.7 87.2h.7M379.1 87.9h.7M380.8 93.9h.7M385.2 84.7h.7M388.5 89.7h.7M380.6 97.5h.7M382.6 87.4h.7M380.4 89.2h.7M379.0 90.5h.7M386.3 92.9h.7M377.6 101.3h.7M379.1 92.1h.7M383.0 94.3h.7M381.6 93.3h.7M391.0 92.0h.7M378.7 92.8h.7M379.8 90.4h.7M383.6 92.9h.7M381.8 94.6h.7M382.2 87.2h.7M386.3 90.4h.7M387.6 89.4h.7M385.1 92.8h.7M372.5 86.5h.7M378.6 96.6h.7M375.6 94.9h.7M387.1 93.4h.7M385.5 90.0h.7M382.9 92.5h.7M384.5 94.1h.7M382.1 89.3h.7M380.7 93.1h.7M376.5 87.4h.7M381.3 89.8h.7M381.9 82.5h.7M381.6 90.8h.7M385.9 84.9h.7M381.7 93.3h.7M384.8 95.8h.7M387.0 88.1h.7M385.3 90.5h.7M379.8 97.0h.7M380.5 88.7h.7M381.3 88.8h.7M386.8 93.0h.7M388.3 93.1h.7M380.5 95.3h.7M380.4 90.1h.7M382.3 91.8h.7M387.5 89.6h.7M384.3 91.6h.7M378.1 87.9h.7M382.1 93.1h.7M384.1 93.4h.7M383.1 90.1h.7M384.5 88.2h.7M377.7 90.5h.7M377.4 89.9h.7M380.0 89.8h.7M382.7 88.9h.7M381.3 85.8h.7M383.5 88.6h.7M384.5 81.9h.7M379.8 92.5h.7M373.5 90.4h.7M383.3 92.1h.7M377.1 92.5h.7M383.5 88.3h.7M385.8 91.5h.7M383.0 90.1h.7M385.0 92.0h.7M387.3 93.3h.7M380.5 90.9h.7M386.4 90.4h.7M384.4 93.5h.7M382.2 83.6h.7M383.4 92.4h.7M383.4 89.1h.7M387.6 91.2h.7M380.5 89.2h.7M384.3 87.9h.7M379.0 98.7h.7M388.0 95.4h.7M388.2 93.8h.7M376.4 95.9h.7M387.7 93.4h.7M375.3 96.0h.7M388.2 90.0h.7M383.4 94.4h.7M382.6 95.5h.7M383.2 94.1h.7M383.2 86.5h.7M379.0 102.7h.7M384.0 96.3h.7M387.3 97.7h.7M385.0 89.6h.7M383.0 85.0h.7M382.2 94.9h.7M374.5 92.4h.7M386.1 96.3h.7M379.3 89.4h.7M375.6 88.1h.7M385.0 98.9h.7M378.5 96.5h.7M384.6 90.0h.7M391.4 82.9h.7M382.6 92.5h.7M391.2 98.0h.7M391.7 92.2h.7M386.7 96.5h.7M384.9 93.0h.7M382.2 90.3h.7M378.1 98.5h.7M381.2 84.4h.7M383.9 91.6h.7M383.6 98.1h.7M382.5 90.8h.7M380.0 91.6h.7M381.2 92.4h.7M395.0 93.1h.7M379.6 98.5h.7M386.3 94.6h.7M385.7 94.6h.7M385.5 96.6h.7M386.8 96.4h.7M380.9 91.7h.7M380.1 95.1h.7M386.1 90.1h.7M385.2 100.9h.7M387.7 87.8h.7M382.5 93.9h.7M382.8 93.1h.7M387.5 92.9h.7M378.6 94.2h.7M382.5 92.1h.7M380.7 86.9h.7M378.0 90.5h.7M378.7 82.2h.7M387.4 87.6h.7M380.1 93.6h.7M373.5 96.4h.7M379.9 94.0h.7M381.0 92.8h.7M383.3 91.7h.7M375.8 86.5h.7M382.7 96.6h.7M380.8 93.6h.7M383.5 93.4h.7M386.8 86.4h.7M384.0 91.1h.7M381.7 88.7h.7M379.8 88.1h.7M378.6 100.5h.7M389.5 91.7h.7M385.8 88.3h.7M372.1 85.3h.7M383.5 96.7h.7M382.7 88.2h.7M382.0 88.2h.7M377.5 90.9h.7M381.3 88.9h.7M379.4 88.4h.7M383.8 96.6h.7M382.1 99.5h.7M376.6 92.7h.7M378.4 91.1h.7M383.3 93.7h.7M387.3 89.8h.7M378.1 91.0h.7M384.0 89.2h.7M386.4 97.6h.7M377.4 93.0h.7M386.9 85.0h.7M383.7 90.9h.7M377.4 96.3h.7M383.7 90.0h.7M384.6 94.0h.7M385.9 93.7h.7M384.5 87.6h.7M381.3 92.2h.7M372.1 99.2h.7M381.4 88.0h.7M375.8 92.6h.7M383.0 89.7h.7M381.3 88.6h.7M380.0 91.4h.7M380.4 94.1h.7M382.3 92.2h.7M384.5 96.2h.7M385.2 92.5h.7M382.3 88.9h.7M381.6 94.1h.7M383.8 90.3h.7M377.7 86.3h.7M384.2 95.3h.7M384.4 86.9h.7M382.1 92.5h.7M379.3 92.9h.7M382.1 88.8h.7M378.1 94.5h.7M384.3 88.6h.7M378.9 94.8h.7M385.2 90.6h.7M389.1 90.7h.7M378.8 95.5h.7M382.2 92.9h.7M383.0 88.2h.7M378.3 91.0h.7M388.4 88.2h.7M388.2 92.5h.7M378.6 92.6h.7M385.1 88.5h.7M374.6 92.9h.7M378.6 93.2h.7M375.5 91.2h.7M379.7 86.5h.7M382.0 92.3h.7M380.7 87.6h.7M383.7 85.6h.7M385.0 93.4h.7M389.4 94.8h.7M384.3 92.6h.7M383.0 87.1h.7M388.6 93.5h.7M381.8 87.7h.7M388.7 93.6h.7M378.3 94.1h.7M390.3 91.6h.7M384.5 90.2h.7M380.5 95.5h.7M394.9 92.1h.7M382.4 94.5h.7M381.7 94.2h.7M386.1 88.1h.7M378.7 91.4h.7M386.1 92.7h.7M387.7 86.9h.7M384.8 89.5h.7M383.3 92.8h.7M379.1 90.9h.7M378.4 92.6h.7M379.6 90.0h.7M383.7 89.4h.7M387.4 89.5h.7M386.2 92.7h.7M378.9 90.9h.7M379.7 90.4h.7M381.8 98.0h.7M381.3 97.2h.7M384.6 87.1h.7M373.9 94.1h.7M375.2 94.2h.7M386.9 93.1h.7M382.1 90.8h.7M383.9 90.6h.7M380.8 90.4h.7M387.4 89.5h.7M384.4 87.7h.7M380.1 86.9h.7M382.1 94.1h.7M384.1 90.0h.7M385.3 90.5h.7M384.3 92.7h.7M385.0 83.1h.7M377.9 94.4h.7M382.5 99.5h.7M382.0 89.8h.7M388.7 93.6h.7M390.2 93.5h.7M382.1 94.2h.7M379.9 90.1h.7M380.8 90.9h.7M385.9 90.0h.7M384.1 90.0h.7M386.3 82.1h.7M382.1 92.3h.7M378.7 95.2h.7M383.7 96.2h.7M386.6 93.9h.7M382.3 87.9h.7M382.0 90.1h.7M383.9 90.1h.7M394.7 86.1h.7M387.4 90.1h.7M382.0 94.9h.7M382.9 87.5h.7M384.5 91.0h.7M374.9 92.4h.7M378.8 89.1h.7M384.8 92.7h.7M381.8 99.2h.7M384.5 89.6h.7M383.8 91.3h.7M374.4 86.2h.7M377.5 98.9h.7M382.2 90.7h.7M380.7 95.1h.7M383.0 97.6h.7M385.9 97.4h.7M382.4 93.0h.7M381.2 91.1h.7M376.2 89.7h.7M379.2 89.4h.7M387.6 92.6h.7M387.6 94.7h.7M386.4 95.2h.7M380.6 94.5h.7M381.7 89.9h.7M387.5 99.2h.7M379.1 97.7h.7M386.1 88.8h.7M384.0 93.0h.7M384.3 90.5h.7M377.9 91.8h.7M386.2 94.4h.7M385.4 95.5h.7M379.1 91.6h.7M384.2 95.2h.7M383.5 93.5h.7M383.4 99.0h.7M374.5 91.6h.7M392.4 92.5h.7M375.8 92.2h.7M377.4 89.3h.7M383.8 97.6h.7M384.7 94.0h.7M386.8 92.4h.7M379.6 91.4h.7M384.2 90.7h.7M380.3 90.5h.7M377.1 88.1h.7M382.6 90.4h.7M383.0 96.6h.7M384.1 91.6h.7M378.4 88.0h.7M384.3 88.7h.7M384.6 88.0h.7M383.4 91.4h.7M386.7 90.3h.7M381.5 92.6h.7M383.1 97.6h.7M381.9 89.8h.7M381.7 93.3h.7M383.8 94.1h.7M377.6 100.3h.7M390.0 91.6h.7M378.2 92.2h.7M384.5 84.0h.7M383.0 86.6h.7M384.7 96.5h.7M386.9 86.5h.7M388.2 94.8h.7M381.5 93.4h.7M388.7 90.6h.7M382.8 89.8h.7M387.4 84.2h.7M388.4 88.3h.7M386.5 86.1h.7M379.3 89.6h.7M386.1 86.1h.7M385.2 89.5h.7M387.7 90.6h.7M384.8 91.1h.7M389.8 90.5h.7M382.8 98.6h.7M383.2 94.1h.7M380.1 92.4h.7M374.2 92.1h.7M380.4 86.5h.7M377.4 95.7h.7M384.5 86.4h.7M389.9 89.3h.7M381.5 92.6h.7M378.5 86.1h.7M380.0 95.8h.7M386.6 86.2h.7M387.5 91.8h.7M384.8 91.9h.7M384.5 88.2h.7M379.4 89.3h.7M381.5 93.8h.7M378.2 97.2h.7M380.5 89.7h.7M385.6 93.2h.7M381.6 88.0h.7M379.1 86.2h.7M387.3 95.5h.7M390.1 93.4h.7M384.2 94.3h.7M386.6 90.8h.7M384.3 99.2h.7M376.4 86.8h.7M379.2 94.3h.7M387.5 90.5h.7M385.5 91.5h.7M384.1 89.8h.7M382.8 91.7h.7M387.3 99.4h.7M375.9 93.5h.7M382.9 95.1h.7M387.0 94.4h.7M386.0 88.4h.7M376.3 97.5h.7M387.6 88.4h.7M387.9 94.0h.7M373.4 94.8h.7M379.1 95.7h.7M380.3 89.1h.7M376.9 90.9h.7M386.8 89.4h.7M375.7 99.1h.7M390.0 94.1h.7M380.8 87.5h.7M376.6 93.6h.7M387.9 88.0h.7M382.9 90.7h.7" stroke="#5565c0" stroke-width="0.7" fill="none" opacity="0.45"/>
<path d="M381.3 94.6h.7M396.0 88.0h.7M388.2 98.0h.7M381.1 90.8h.7M374.5 97.9h.7M379.6 87.9h.7M383.3 86.7h.7M376.4 90.0h.7M392.2 90.5h.7M386.2 83.2h.7M370.7 102.2h.7M380.4 82.8h.7M382.2 95.2h.7M372.1 86.6h.7M384.5 86.4h.7M387.9 97.3h.7M385.7 89.2h.7M382.6 88.0h.7M382.1 93.5h.7M381.0 97.3h.7M399.2 88.5h.7M385.1 96.5h.7M386.9 90.3h.7M379.9 97.5h.7M386.8 94.6h.7M377.9 95.4h.7M387.9 90.6h.7M371.1 95.2h.7M375.5 83.8h.7M381.4 94.9h.7M383.2 84.9h.7M373.9 88.5h.7M383.0 86.9h.7M373.5 101.9h.7M377.6 90.8h.7M379.5 88.3h.7M383.2 90.0h.7M386.8 84.8h.7M382.4 96.2h.7M390.3 94.9h.7M383.1 82.7h.7M372.8 97.4h.7M387.2 95.0h.7M372.5 79.3h.7M376.3 84.8h.7M383.9 85.8h.7M392.9 88.1h.7M379.4 96.7h.7M385.0 86.5h.7M375.2 90.3h.7M376.1 80.4h.7M386.8 95.8h.7M389.0 94.2h.7M370.2 91.5h.7M378.7 84.8h.7M375.9 96.2h.7M385.9 80.6h.7M388.5 99.0h.7M383.1 84.6h.7M394.1 84.0h.7M382.4 80.6h.7M375.0 81.8h.7M389.8 98.6h.7M380.3 83.8h.7M382.5 93.9h.7M373.2 84.9h.7M382.3 95.8h.7M383.4 94.3h.7M375.0 77.1h.7M384.9 86.3h.7M382.1 89.5h.7M385.9 87.2h.7M392.1 91.9h.7M386.3 95.4h.7M389.5 94.1h.7M371.8 88.0h.7M394.7 94.5h.7M386.5 94.4h.7M378.8 87.7h.7M378.8 98.5h.7M385.2 102.1h.7M386.1 102.8h.7M385.8 84.8h.7M394.0 93.7h.7M390.5 93.0h.7M380.8 92.7h.7M375.8 84.7h.7M377.2 88.6h.7M374.3 91.1h.7M394.6 91.4h.7M388.5 90.4h.7M385.4 91.5h.7M379.5 92.1h.7M373.5 94.3h.7M381.1 85.3h.7M380.6 95.0h.7M378.6 94.5h.7M386.5 100.9h.7M376.0 91.0h.7M386.2 100.6h.7M384.6 96.2h.7M373.5 88.3h.7M393.5 90.0h.7M396.7 87.4h.7M381.1 82.3h.7M387.0 93.3h.7M395.8 92.7h.7M381.3 83.4h.7M382.4 97.3h.7M387.6 99.0h.7M388.4 91.4h.7M386.8 92.7h.7M374.4 101.8h.7M385.3 85.5h.7M385.4 93.4h.7M389.3 100.3h.7M392.7 86.1h.7M371.0 93.4h.7M385.1 93.8h.7M375.8 88.9h.7M384.2 96.1h.7M397.0 93.4h.7M379.0 77.7h.7M389.8 90.9h.7M382.2 85.8h.7M387.6 81.0h.7M383.6 92.4h.7M384.8 99.5h.7M382.3 92.3h.7M388.4 82.5h.7M381.0 92.1h.7M389.1 86.9h.7M388.1 94.0h.7M373.3 82.9h.7M373.7 92.5h.7M384.2 96.0h.7M388.2 88.4h.7M389.8 96.6h.7M385.9 94.6h.7M374.6 93.9h.7M376.2 84.6h.7M380.6 92.5h.7M382.6 89.7h.7M376.4 92.8h.7M378.1 83.3h.7M383.5 100.4h.7M380.3 85.4h.7M391.8 101.9h.7M381.0 90.4h.7M383.8 97.6h.7M385.8 80.8h.7M375.8 84.3h.7M385.7 92.3h.7" stroke="#8088cc" stroke-width="0.7" fill="none" opacity="0.45"/>
<ellipse cx="0" cy="0" rx="6.2" ry="5.8" fill="url(#gjet2)" opacity="1" transform="translate(382.90,91.70) rotate(0)"/>
<path d="M405.0 81.3h.7M400.9 82.2h.7M400.4 88.0h.7M400.8 85.8h.7M403.6 80.4h.7M401.9 81.0h.7M400.3 82.4h.7M400.1 80.8h.7M404.3 81.3h.7M402.0 86.4h.7M401.7 84.7h.7M403.9 84.8h.7M404.8 78.3h.7M405.5 82.1h.7M395.1 80.3h.7M396.1 81.9h.7M395.8 79.4h.7M400.8 82.4h.7M397.8 81.4h.7M399.7 82.2h.7M400.0 81.4h.7M402.5 77.8h.7M398.6 82.3h.7M398.9 80.6h.7M398.8 82.5h.7M403.5 81.5h.7M399.3 82.9h.7M399.3 77.0h.7M400.8 81.0h.7M398.4 83.6h.7M400.1 80.5h.7M393.9 77.5h.7M400.0 81.7h.7M401.2 82.6h.7M398.7 78.7h.7M396.9 81.6h.7M396.8 84.0h.7M396.3 77.3h.7M399.5 77.4h.7M404.6 79.4h.7M399.9 81.4h.7M397.7 77.4h.7M394.8 84.2h.7M402.9 87.6h.7M395.9 83.5h.7M400.0 84.2h.7M398.6 83.9h.7M402.5 83.6h.7M404.1 81.5h.7M404.3 80.2h.7M404.7 74.9h.7M400.0 79.9h.7M400.0 84.7h.7M402.0 82.2h.7M404.8 78.2h.7M397.7 85.9h.7M400.9 76.6h.7M401.0 78.9h.7M404.1 85.0h.7M398.5 85.4h.7M397.7 84.4h.7M401.6 81.7h.7M396.0 81.3h.7M393.6 80.5h.7M394.8 85.2h.7M397.3 75.7h.7M401.6 83.0h.7M398.6 87.5h.7M402.2 82.2h.7M398.2 74.3h.7M401.3 84.5h.7M398.3 78.3h.7M399.9 77.7h.7M400.0 84.0h.7M404.2 82.7h.7M400.6 83.9h.7M403.9 81.2h.7M396.6 79.9h.7M396.5 79.7h.7M399.7 82.9h.7M400.4 82.2h.7M399.0 83.1h.7M402.5 84.0h.7M404.2 81.2h.7M399.3 86.4h.7M400.6 83.1h.7M399.1 84.5h.7M398.9 79.4h.7M399.8 80.9h.7M402.3 81.0h.7M400.3 81.4h.7M401.0 80.4h.7M403.1 78.3h.7M398.9 80.2h.7M401.8 82.1h.7M401.4 81.1h.7M398.0 79.1h.7M399.1 80.6h.7M400.8 82.9h.7M402.7 81.7h.7M397.9 79.2h.7M400.2 82.9h.7M405.5 82.5h.7M404.9 86.9h.7M397.1 85.1h.7M403.2 85.5h.7M400.0 84.5h.7M398.7 81.8h.7M400.1 86.6h.7M399.4 84.5h.7" stroke="#5a68c2" stroke-width="0.7" fill="none" opacity="0.42"/>
<path d="M402.9 78.0h.7M403.3 81.3h.7M400.8 81.2h.7M400.8 77.6h.7M403.3 79.1h.7M400.1 75.7h.7M402.8 80.3h.7M401.5 80.2h.7M398.7 80.7h.7M403.8 80.4h.7M401.1 79.9h.7M403.0 82.3h.7M403.4 80.3h.7M400.8 81.8h.7M405.8 78.5h.7M404.4 80.5h.7M402.6 76.6h.7M407.3 75.1h.7M403.5 78.8h.7M405.7 78.7h.7M402.8 81.2h.7M403.9 78.4h.7M404.5 80.7h.7M405.3 78.5h.7M402.6 78.7h.7M400.5 80.3h.7M403.8 83.2h.7M401.8 80.6h.7M405.7 79.4h.7M402.9 80.0h.7M400.9 77.3h.7M405.6 80.1h.7M402.5 76.7h.7M403.0 82.6h.7M399.7 77.5h.7M405.6 83.2h.7M406.8 78.4h.7M404.3 77.9h.7M404.1 78.8h.7M403.2 83.0h.7M403.6 79.1h.7M402.8 80.3h.7M401.4 80.2h.7M404.3 83.5h.7M397.3 76.8h.7M399.5 81.8h.7M409.1 80.2h.7M403.0 82.5h.7M396.3 79.3h.7M394.5 80.1h.7M401.4 78.5h.7M403.6 78.3h.7M405.6 79.7h.7M403.7 85.9h.7M401.5 81.9h.7M400.5 82.7h.7M405.2 80.0h.7M405.3 83.6h.7M406.3 79.7h.7M402.6 82.4h.7M398.8 78.2h.7M404.0 81.1h.7M407.6 84.0h.7M403.5 80.8h.7M399.2 79.3h.7M403.4 79.2h.7M402.9 81.2h.7M400.2 78.3h.7M398.1 82.5h.7M399.9 75.6h.7M404.7 79.2h.7M405.2 78.8h.7M408.3 81.4h.7M403.1 80.0h.7M402.2 81.7h.7M407.9 78.7h.7M399.9 81.1h.7M405.5 76.1h.7M400.9 77.3h.7M404.2 80.9h.7M400.8 77.0h.7M404.5 74.7h.7M404.4 79.3h.7M407.7 82.1h.7M401.2 79.0h.7M402.0 77.9h.7M402.9 82.0h.7M398.8 79.2h.7M406.6 81.5h.7M400.6 77.8h.7M400.5 75.8h.7M405.7 79.9h.7M400.9 76.3h.7M401.7 78.5h.7M407.2 78.6h.7M403.0 82.3h.7M404.4 79.3h.7M397.0 83.1h.7" stroke="#5a68c2" stroke-width="0.7" fill="none" opacity="0.42"/>
<path d="M406.9 76.4h.7M405.2 75.3h.7M403.2 74.1h.7M406.6 78.6h.7M405.8 79.1h.7M406.7 77.7h.7M403.2 78.7h.7M408.3 78.8h.7M408.4 76.3h.7M403.0 80.2h.7M404.0 77.9h.7M404.9 77.4h.7M404.7 76.2h.7M401.1 81.7h.7M405.9 73.1h.7M403.2 74.9h.7M403.6 71.7h.7M406.8 81.1h.7M404.8 79.1h.7M406.9 74.6h.7M408.4 73.6h.7M404.0 76.6h.7M408.5 77.7h.7M405.1 75.6h.7M405.6 77.5h.7M407.2 80.5h.7M407.2 77.4h.7M405.0 81.0h.7M405.9 77.4h.7M409.8 80.9h.7M406.8 77.2h.7M403.9 79.8h.7M404.3 79.5h.7M403.5 77.6h.7M406.4 77.7h.7M406.0 78.3h.7M402.7 74.9h.7M405.0 81.4h.7M405.1 75.3h.7M403.8 77.5h.7M408.3 76.1h.7M406.8 77.8h.7M404.5 75.3h.7M405.0 75.8h.7M406.7 73.5h.7M408.1 79.1h.7M406.8 80.7h.7M406.9 73.6h.7M405.5 78.4h.7M403.7 74.9h.7M406.4 78.5h.7M404.4 76.9h.7M404.2 76.1h.7M405.3 79.8h.7M401.5 76.6h.7M409.3 78.1h.7M405.8 79.3h.7M403.0 74.7h.7M401.4 74.2h.7M406.0 79.3h.7M404.4 75.9h.7M406.4 78.8h.7M406.0 73.2h.7M404.1 71.8h.7M406.0 75.5h.7M403.8 80.7h.7M408.6 78.5h.7M406.1 77.8h.7M404.0 77.3h.7M410.0 75.5h.7M403.8 77.8h.7M407.6 79.3h.7M403.1 77.1h.7M404.8 74.7h.7M405.6 76.3h.7M407.6 78.4h.7M403.5 77.6h.7M404.5 76.0h.7M404.2 79.8h.7M404.4 73.6h.7M403.5 79.2h.7M410.6 75.1h.7M404.5 76.7h.7M402.0 78.3h.7M405.3 78.0h.7M410.8 76.8h.7" stroke="#5a68c2" stroke-width="0.7" fill="none" opacity="0.42"/>
<path d="M409.9 76.8h.7M406.7 73.9h.7M411.6 76.6h.7M408.4 72.8h.7M410.1 76.2h.7M413.1 78.1h.7M409.9 75.7h.7M408.2 74.0h.7M408.8 75.6h.7M409.6 77.3h.7M408.8 74.0h.7M409.9 78.3h.7M406.2 76.0h.7M409.3 76.2h.7M409.2 74.9h.7M407.9 78.6h.7M412.0 72.2h.7M402.4 76.0h.7M406.6 74.0h.7M404.5 75.8h.7M408.0 74.0h.7M410.1 80.1h.7M411.4 77.5h.7M407.2 76.5h.7M408.0 77.5h.7M409.4 75.0h.7M409.3 73.6h.7M409.9 78.2h.7M407.3 76.2h.7M404.3 77.0h.7M410.1 73.0h.7M412.0 75.3h.7M404.2 72.3h.7M410.1 74.5h.7M410.6 71.9h.7M407.9 77.1h.7M406.6 76.5h.7M407.3 75.8h.7M408.8 79.7h.7M405.3 76.7h.7M411.1 72.8h.7M408.3 79.9h.7M410.5 69.0h.7M407.6 71.6h.7M408.8 73.6h.7M406.8 73.4h.7M408.8 74.1h.7M406.1 74.6h.7M409.0 73.3h.7M410.6 71.7h.7M409.0 74.3h.7M411.6 73.8h.7M406.6 72.3h.7M412.6 76.4h.7M405.7 74.4h.7M405.9 78.2h.7M409.0 70.9h.7M408.6 77.0h.7M408.1 76.1h.7M407.9 75.5h.7M408.6 73.6h.7M408.9 75.4h.7M408.0 73.7h.7M405.8 75.6h.7M410.0 70.1h.7M406.9 77.9h.7M410.2 73.6h.7M411.1 73.1h.7M406.3 79.1h.7M407.1 74.7h.7M404.4 73.0h.7M405.4 74.8h.7M404.0 77.3h.7M407.3 73.9h.7" stroke="#5a68c2" stroke-width="0.7" fill="none" opacity="0.42"/>
<path d="M409.5 74.2h.7M414.0 72.0h.7M414.2 75.9h.7M413.6 73.4h.7M407.7 74.1h.7M409.9 73.2h.7M406.8 72.3h.7M411.3 71.0h.7M411.4 76.0h.7M411.3 71.5h.7M415.8 68.7h.7M408.9 73.6h.7M409.6 68.4h.7M411.3 74.4h.7M409.1 75.6h.7M411.9 75.1h.7M407.6 72.8h.7M414.2 76.6h.7M413.6 72.8h.7M411.2 71.6h.7M413.1 71.5h.7M411.1 68.9h.7M407.6 76.2h.7M410.9 73.2h.7M406.2 72.7h.7M415.2 69.9h.7M405.8 72.5h.7M409.7 72.4h.7M408.2 70.2h.7M408.2 74.0h.7M410.7 74.4h.7M408.5 73.9h.7M409.9 73.0h.7M412.8 72.9h.7M410.1 69.6h.7M410.9 74.3h.7M409.5 72.7h.7M407.1 70.2h.7M411.7 75.3h.7M410.1 69.6h.7M410.0 69.8h.7M410.2 76.5h.7M411.4 72.5h.7M413.0 72.1h.7M411.5 73.2h.7M411.7 70.0h.7M412.3 74.5h.7M406.0 67.6h.7M408.9 75.7h.7M410.8 74.1h.7M412.0 74.5h.7M409.4 71.7h.7M411.6 74.0h.7M412.0 73.5h.7M409.8 74.9h.7M411.8 74.8h.7M405.4 74.7h.7M405.6 73.2h.7M409.4 73.0h.7M409.8 72.2h.7M411.2 73.5h.7M409.1 67.9h.7" stroke="#5a68c2" stroke-width="0.7" fill="none" opacity="0.42"/>
<path d="M412.0 71.5h.7M411.8 71.3h.7M412.8 68.8h.7M415.8 73.4h.7M413.3 70.4h.7M415.4 68.1h.7M411.8 72.5h.7M415.3 69.6h.7M412.0 71.1h.7M410.7 69.6h.7M413.0 66.1h.7M414.7 71.9h.7M415.6 67.9h.7M411.0 69.0h.7M410.9 74.2h.7M411.6 69.9h.7M413.9 71.3h.7M416.4 68.6h.7M415.2 70.8h.7M411.2 70.8h.7M410.7 73.4h.7M412.1 72.3h.7M416.1 69.4h.7M411.7 70.7h.7M411.4 72.1h.7M413.8 69.1h.7M412.1 71.8h.7M410.6 73.5h.7M411.9 70.1h.7M411.7 73.4h.7M415.1 72.8h.7M414.8 70.7h.7M416.9 71.7h.7M414.4 71.5h.7M415.0 71.0h.7M413.2 67.6h.7M417.6 68.2h.7M409.2 69.2h.7M417.4 72.7h.7M412.3 71.0h.7M413.5 66.9h.7M412.8 71.0h.7M415.8 68.3h.7M409.0 67.7h.7M414.2 70.6h.7M413.8 70.8h.7M412.8 68.0h.7M414.4 71.2h.7M414.7 72.7h.7M411.0 66.3h.7" stroke="#5a68c2" stroke-width="0.7" fill="none" opacity="0.42"/>
<ellipse cx="0" cy="0" rx="5.5" ry="4.5" fill="url(#ggrn2)" opacity="1.0" transform="translate(401.80,79.60) rotate(-40)"/>
<path d="M395.2 96.7h.7M400.0 92.7h.7M404.9 93.5h.7M422.6 90.6h.7M404.1 90.4h.7M406.3 93.0h.7M399.7 94.8h.7M411.3 92.8h.7M404.4 91.3h.7M396.0 93.3h.7M399.6 90.6h.7M410.5 89.7h.7M402.1 93.8h.7M415.2 90.2h.7M411.1 90.3h.7M407.1 92.9h.7M398.7 94.2h.7M414.9 91.9h.7M406.5 89.1h.7M414.8 91.9h.7M398.0 93.6h.7M397.0 90.2h.7M393.3 95.0h.7M417.2 90.3h.7M401.4 90.5h.7M401.9 93.1h.7M413.0 89.5h.7M407.4 87.7h.7M413.4 91.6h.7M401.1 95.3h.7M404.4 95.0h.7M410.9 95.6h.7M400.6 91.9h.7M407.0 91.4h.7M413.4 90.2h.7M410.5 94.9h.7M394.3 89.6h.7M400.0 90.5h.7M407.1 91.4h.7M405.4 90.7h.7M404.5 92.9h.7M409.1 90.0h.7M404.4 90.0h.7M404.0 88.5h.7M410.2 93.3h.7M404.3 90.2h.7M402.5 90.3h.7M396.5 95.6h.7M423.1 89.0h.7M398.6 93.1h.7M408.3 88.2h.7M394.4 93.0h.7M394.0 95.1h.7M402.3 92.0h.7M405.0 90.5h.7M404.2 91.1h.7M411.8 91.6h.7M404.8 90.6h.7M401.5 90.1h.7M405.1 96.0h.7M411.1 92.3h.7M414.2 94.1h.7M406.1 91.4h.7M399.0 92.4h.7M403.3 88.2h.7M397.9 96.3h.7M406.2 92.9h.7M406.1 90.7h.7M407.5 94.3h.7M403.3 93.0h.7M410.6 90.7h.7M405.9 90.1h.7M408.3 91.0h.7M411.3 90.0h.7M414.3 91.1h.7M400.4 89.7h.7M408.6 89.8h.7M414.9 94.7h.7M407.8 88.5h.7M404.9 90.1h.7M395.0 92.8h.7M417.1 90.6h.7M409.5 94.8h.7M399.7 91.0h.7M406.5 92.9h.7M398.7 92.3h.7M404.4 94.0h.7M396.2 90.5h.7M402.2 91.1h.7M409.0 90.4h.7M420.1 90.2h.7M409.6 94.1h.7M410.3 91.3h.7M400.4 91.2h.7M408.7 92.1h.7M408.2 93.1h.7M400.1 89.6h.7M412.9 90.7h.7M396.3 96.1h.7M400.4 89.7h.7M410.3 89.2h.7M400.2 94.2h.7M400.5 97.6h.7M405.5 98.0h.7M405.7 91.9h.7M401.5 91.3h.7M402.2 91.7h.7M409.2 88.9h.7M400.0 87.0h.7M413.3 91.6h.7" stroke="#7a84c8" stroke-width="0.7" fill="none" opacity="0.45"/>
<polygon points="387.9,82.0 392.2,70.8 420.4,61.0 428.1,65.7 427.2,99.2 395.3,99.2 394.2,90.1" fill="none" stroke="#c3a0cb" stroke-width="0.65"/>
<text transform="translate(375.50,55.70) scale(0.95,1)" font-size="8.1" text-anchor="start" font-weight="normal" font-style="normal" fill="#1a1a1a" style="stroke:none">28.1</text>
<text transform="translate(399.60,43.70) scale(0.92,1)" font-size="8.6" font-style="italic" fill="#222" text-anchor="middle">Ubr5<tspan font-size="5.9" dx="0.6" dy="-3.4">&#916;HECT/WT</tspan></text>
<path d="M458.8 79.2h.7M475.1 84.2h.7M472.6 77.8h.7M457.1 79.3h.7M469.7 80.7h.7M472.0 102.2h.7M488.8 98.0h.7M444.9 78.9h.7M474.9 77.2h.7M457.1 75.4h.7M480.8 47.9h.7M479.4 93.8h.7M457.8 87.3h.7M443.5 94.4h.7M481.3 79.3h.7M453.6 73.7h.7M456.0 63.7h.7M437.3 101.6h.7M458.7 87.2h.7M464.0 86.2h.7M434.6 67.7h.7M469.1 93.0h.7M440.7 72.5h.7M441.9 88.5h.7M464.5 80.4h.7M448.6 84.5h.7M459.5 70.3h.7M464.3 71.4h.7M474.2 88.1h.7M448.0 87.6h.7M460.1 70.8h.7M444.4 58.4h.7M440.9 84.5h.7M478.3 71.8h.7M461.6 84.5h.7M471.5 85.8h.7M478.6 90.0h.7M446.8 85.2h.7M459.3 87.5h.7M454.2 90.8h.7M480.1 69.1h.7M450.3 83.4h.7M466.8 81.9h.7M472.3 64.6h.7M471.4 95.2h.7M476.8 85.5h.7M455.2 85.2h.7M457.8 59.4h.7M449.3 79.5h.7M450.7 67.9h.7M455.3 75.2h.7M460.1 79.4h.7M461.8 92.9h.7M461.2 85.3h.7M452.6 88.8h.7M453.6 71.9h.7M439.2 91.6h.7M450.6 83.2h.7M477.1 87.0h.7M494.9 78.3h.7M474.3 89.0h.7M448.5 80.6h.7M450.0 66.7h.7M463.8 69.9h.7M485.9 70.4h.7M450.3 81.2h.7M450.7 80.7h.7M449.3 61.5h.7M483.3 85.8h.7M461.5 74.0h.7M456.7 83.9h.7M436.8 69.6h.7M444.8 96.4h.7M442.1 95.2h.7M457.7 80.4h.7M480.6 91.4h.7M474.0 66.1h.7M477.2 101.8h.7M457.4 73.7h.7M441.5 93.2h.7M463.7 80.1h.7M439.2 101.1h.7" stroke="#9aa0d6" stroke-width="0.7" fill="none" opacity="0.45"/>
<path d="M450.9 91.6h.7M453.3 88.3h.7M450.9 88.1h.7M453.0 90.7h.7M452.3 90.2h.7M449.0 95.8h.7M443.8 92.0h.7M444.0 94.8h.7M445.0 90.4h.7M446.6 95.9h.7M443.2 91.6h.7M446.1 89.7h.7M444.3 91.1h.7M448.2 86.1h.7M448.3 87.4h.7M447.5 99.9h.7M443.5 91.5h.7M446.4 95.2h.7M445.5 85.3h.7M441.0 92.3h.7M448.4 95.5h.7M445.3 94.1h.7M443.1 96.4h.7M447.1 89.3h.7M448.1 98.0h.7M444.0 87.2h.7M443.3 87.5h.7M447.2 93.0h.7M446.7 92.4h.7M452.1 90.7h.7M442.4 83.5h.7M448.4 89.3h.7M446.4 93.2h.7M449.3 86.1h.7M443.6 92.0h.7M446.8 95.8h.7M445.4 84.3h.7M452.1 85.8h.7M443.5 93.1h.7M443.2 100.7h.7M448.4 93.6h.7M445.7 99.7h.7M449.6 89.1h.7M452.4 85.6h.7M445.1 92.7h.7M448.0 88.2h.7M453.7 97.0h.7M443.7 93.0h.7M444.9 90.1h.7M451.3 92.2h.7M447.0 92.1h.7M442.7 96.1h.7M444.4 96.4h.7M445.6 90.1h.7M453.3 92.4h.7M444.8 89.8h.7M449.8 98.4h.7M449.9 90.3h.7M442.9 89.3h.7M446.9 92.6h.7M444.8 96.3h.7M443.6 89.1h.7M449.4 93.4h.7M445.8 95.2h.7M441.8 97.6h.7M456.1 98.7h.7M447.9 98.8h.7M447.6 96.5h.7M446.6 92.4h.7M449.5 85.4h.7M446.6 97.9h.7M435.7 93.1h.7M451.1 92.9h.7M448.2 96.7h.7M448.7 84.9h.7M443.6 90.6h.7M448.0 90.1h.7M447.0 97.7h.7M435.7 95.8h.7M451.1 93.9h.7M447.5 91.9h.7M448.9 92.6h.7M444.5 94.5h.7M444.1 91.6h.7M446.0 87.6h.7M449.8 91.5h.7M442.7 91.4h.7M441.9 96.9h.7M449.5 98.8h.7M445.1 94.2h.7M443.5 88.6h.7M447.0 93.2h.7M451.1 90.7h.7M451.8 95.2h.7M443.9 91.1h.7M443.7 97.8h.7M445.2 94.9h.7M451.0 90.8h.7M445.5 92.9h.7M444.3 87.2h.7M443.5 92.9h.7M448.2 98.0h.7M440.1 93.5h.7M442.8 95.8h.7M450.2 92.2h.7M453.3 90.4h.7M445.3 87.9h.7M444.8 92.1h.7M450.1 96.3h.7M446.3 89.1h.7M446.1 90.2h.7M445.5 90.3h.7M443.9 91.5h.7M445.4 91.1h.7M441.9 92.2h.7M449.7 94.0h.7M445.2 87.6h.7M442.2 87.5h.7M444.8 90.6h.7M440.4 94.1h.7M441.3 89.3h.7M444.5 94.7h.7M454.7 90.4h.7M446.3 90.3h.7M446.6 91.1h.7M457.2 87.8h.7M447.0 88.9h.7M448.8 89.8h.7M449.7 87.8h.7M455.8 92.4h.7M440.4 94.2h.7M445.5 87.6h.7M449.1 89.9h.7M450.3 89.8h.7M451.0 92.2h.7M448.8 92.3h.7M446.0 90.4h.7M449.2 94.2h.7M445.8 99.7h.7M454.1 87.6h.7M451.7 91.5h.7M448.3 88.9h.7M453.9 88.8h.7M447.1 89.1h.7M455.0 96.2h.7M442.2 90.1h.7M448.8 90.2h.7M446.0 87.9h.7M448.4 87.8h.7M450.7 100.2h.7M446.1 97.5h.7M448.9 89.3h.7M446.0 88.3h.7M447.9 94.2h.7M451.1 90.7h.7M442.7 91.4h.7M454.0 92.7h.7M447.2 84.3h.7M445.7 93.6h.7M443.7 96.5h.7M445.2 88.6h.7M445.1 91.4h.7M451.3 89.7h.7M440.4 91.4h.7M449.5 97.2h.7M443.0 96.9h.7M450.1 93.3h.7M444.4 88.6h.7M443.6 95.0h.7M448.3 95.5h.7M454.6 91.8h.7M447.2 98.5h.7M442.3 90.1h.7M445.9 90.4h.7M448.0 88.8h.7M452.0 86.9h.7M444.2 85.7h.7M441.9 93.8h.7M449.9 91.0h.7M450.7 93.9h.7M445.1 91.6h.7M448.8 98.8h.7M445.7 93.0h.7M449.5 96.0h.7M449.1 95.5h.7M443.2 90.8h.7M439.8 91.5h.7M456.6 92.6h.7M447.8 92.7h.7M448.0 87.1h.7M444.7 91.1h.7M448.1 88.7h.7M447.0 89.1h.7M442.2 89.4h.7M444.2 94.7h.7M452.7 93.8h.7M446.6 89.8h.7M441.2 89.9h.7M453.6 95.8h.7M448.3 90.9h.7M447.4 93.2h.7M447.4 93.2h.7M444.4 91.9h.7M446.0 95.5h.7M442.5 96.3h.7M447.1 90.0h.7M447.5 92.2h.7M446.5 93.2h.7M445.1 85.8h.7M450.1 91.6h.7M453.9 93.1h.7M439.5 96.1h.7M444.7 93.6h.7M456.1 95.6h.7M443.1 91.4h.7M441.1 94.1h.7M449.6 88.1h.7M449.2 95.0h.7M450.6 89.4h.7M444.7 87.8h.7M442.3 92.8h.7M447.6 96.3h.7M448.5 90.6h.7M441.8 97.1h.7M448.0 91.6h.7M443.5 88.1h.7M449.9 88.3h.7M449.7 93.9h.7M445.9 86.0h.7M449.0 96.7h.7M444.2 87.3h.7M451.7 92.2h.7M445.0 96.0h.7M446.3 93.3h.7M445.8 89.1h.7M448.3 88.7h.7M440.4 89.8h.7M452.2 95.6h.7M455.9 95.2h.7M453.7 92.6h.7M445.7 93.4h.7M443.7 94.3h.7M445.6 92.6h.7M444.1 91.3h.7M451.2 91.0h.7M444.8 92.7h.7M450.9 91.1h.7M442.8 86.3h.7M442.1 95.5h.7M447.1 93.4h.7M451.6 92.7h.7M449.3 90.0h.7M441.1 93.9h.7M447.0 93.7h.7M443.2 91.2h.7M455.3 88.8h.7M447.8 96.3h.7M446.5 92.2h.7M439.0 94.4h.7M445.7 96.2h.7M447.0 90.4h.7M449.1 90.9h.7M445.4 97.1h.7M451.3 92.1h.7M450.6 94.6h.7M449.7 91.9h.7M447.7 93.2h.7M449.6 93.0h.7M445.2 91.5h.7M449.2 88.3h.7M447.4 94.4h.7M448.1 90.8h.7M447.3 90.1h.7M451.3 90.4h.7M440.9 87.6h.7M448.6 92.5h.7M445.6 87.2h.7M446.8 88.8h.7M444.8 91.7h.7M444.4 92.8h.7M444.5 90.1h.7M446.5 96.8h.7M453.6 95.0h.7M444.5 91.8h.7M451.0 94.5h.7M441.0 91.6h.7M444.5 94.3h.7M449.9 89.9h.7M455.8 90.8h.7M457.0 91.2h.7M447.1 98.3h.7M445.3 90.1h.7M453.2 91.6h.7M449.3 87.4h.7M454.4 95.1h.7M448.8 94.2h.7M445.4 90.1h.7M441.2 93.0h.7M452.2 94.7h.7M451.0 94.2h.7M443.8 87.3h.7M449.9 92.3h.7M451.3 90.8h.7M443.9 93.3h.7M445.2 86.1h.7M445.0 88.7h.7M443.0 89.9h.7M451.1 99.8h.7M454.2 90.3h.7M451.9 91.5h.7M449.0 89.4h.7M447.1 86.0h.7M454.4 89.1h.7M449.7 89.7h.7M448.5 87.7h.7M445.9 94.9h.7M449.7 85.1h.7M450.7 87.3h.7M448.5 93.5h.7M444.9 90.7h.7M446.4 93.1h.7M451.0 96.4h.7M448.7 98.6h.7M443.7 97.9h.7M446.4 94.4h.7M446.9 92.0h.7M443.8 93.1h.7M455.3 92.3h.7M447.3 91.8h.7M450.2 91.1h.7M447.4 92.5h.7M452.5 95.0h.7M443.3 89.6h.7M447.5 94.7h.7M451.2 91.1h.7M455.7 91.2h.7M452.9 96.6h.7M453.6 92.4h.7M449.7 86.5h.7M440.4 89.7h.7M450.2 95.4h.7M447.0 95.3h.7M449.7 97.0h.7M441.2 88.9h.7M443.7 88.2h.7M453.9 88.6h.7M444.2 90.4h.7M450.9 90.2h.7M450.3 93.6h.7M444.9 83.7h.7M443.8 87.5h.7M453.8 89.3h.7M443.2 93.0h.7M447.6 88.6h.7M451.7 94.9h.7M448.5 89.2h.7M444.0 84.7h.7M448.9 93.1h.7M443.8 91.8h.7M460.2 87.9h.7M440.7 93.8h.7M445.7 90.1h.7M449.8 91.3h.7M451.3 93.5h.7M452.0 92.2h.7M438.9 96.4h.7M440.7 95.3h.7M448.4 87.0h.7M447.7 94.8h.7M443.4 91.9h.7M444.5 88.3h.7M445.0 96.1h.7M450.1 91.6h.7M447.1 92.2h.7M448.5 92.4h.7M440.7 94.9h.7M444.0 82.8h.7M450.2 87.6h.7M446.8 91.4h.7M445.1 93.6h.7M446.3 90.8h.7M443.7 90.8h.7M443.3 91.9h.7M452.6 95.2h.7M449.1 87.1h.7M451.4 94.9h.7M455.5 84.0h.7M447.5 90.6h.7M451.7 88.0h.7M445.9 99.7h.7M451.3 84.9h.7M447.5 96.4h.7M445.0 93.8h.7M447.8 86.7h.7M444.9 95.6h.7M452.1 89.7h.7M451.8 89.3h.7M448.4 91.7h.7M442.5 92.8h.7M445.9 82.3h.7M444.1 88.8h.7M444.1 88.4h.7M444.7 83.3h.7M450.9 92.0h.7M448.4 90.8h.7M447.7 90.8h.7M443.1 86.5h.7M447.7 95.2h.7M448.3 97.3h.7M442.0 90.8h.7M445.0 96.0h.7M454.1 89.9h.7M450.3 90.9h.7M443.5 91.3h.7M443.3 97.0h.7M449.7 95.8h.7M448.8 83.4h.7M450.6 92.0h.7M438.0 92.1h.7M451.4 97.6h.7" stroke="#5565c0" stroke-width="0.7" fill="none" opacity="0.45"/>
<path d="M440.9 96.3h.7M449.5 90.7h.7M445.6 94.8h.7M451.1 95.5h.7M444.8 84.2h.7M455.8 99.2h.7M443.8 91.5h.7M452.6 81.6h.7M449.1 87.7h.7M460.5 91.8h.7M448.8 89.3h.7M448.6 81.4h.7M439.2 83.3h.7M453.2 91.2h.7M454.8 80.0h.7M443.6 100.1h.7M442.3 81.0h.7M442.6 89.7h.7M447.3 99.2h.7M455.9 100.6h.7M451.1 88.8h.7M444.2 83.2h.7M455.5 98.9h.7M448.0 86.6h.7M451.7 94.5h.7M448.4 85.0h.7M448.9 88.5h.7M452.1 95.1h.7M450.2 89.3h.7M457.1 96.2h.7M455.5 96.5h.7M451.6 94.0h.7M440.6 81.3h.7M441.4 95.2h.7M453.2 92.8h.7M448.0 102.3h.7M444.9 81.5h.7M437.5 89.9h.7M451.9 95.9h.7M446.0 96.4h.7M447.1 87.5h.7M445.0 96.1h.7M453.5 85.2h.7M441.1 92.4h.7M461.0 85.0h.7M439.4 94.1h.7M450.6 88.2h.7M447.2 94.5h.7M436.3 91.6h.7M451.2 97.0h.7M454.8 91.3h.7M438.2 99.4h.7M452.3 88.0h.7M454.0 97.7h.7M446.5 78.1h.7M444.4 87.4h.7M442.1 91.2h.7M440.5 93.9h.7M459.4 84.9h.7M454.0 88.6h.7M450.9 91.0h.7M455.6 87.6h.7M452.1 87.2h.7M448.9 91.6h.7M454.3 82.6h.7M438.8 99.7h.7M449.9 101.5h.7M440.8 92.9h.7M451.2 101.9h.7M447.1 89.1h.7M452.0 91.1h.7M442.6 96.1h.7M435.3 85.9h.7M456.1 88.8h.7M445.3 93.8h.7M454.5 94.7h.7M441.3 88.4h.7M454.1 91.0h.7M443.4 96.7h.7M440.6 87.6h.7M443.0 93.7h.7M444.4 98.1h.7M443.3 90.1h.7M451.0 92.9h.7M441.0 100.3h.7M451.1 88.9h.7M448.7 85.3h.7M439.6 90.0h.7M449.7 92.3h.7M442.5 83.7h.7M436.8 100.9h.7M449.7 87.1h.7M454.9 94.8h.7M444.8 88.2h.7M454.6 93.6h.7M457.8 93.8h.7M443.7 88.3h.7M442.9 93.2h.7M449.0 95.2h.7M450.3 85.7h.7M446.1 86.3h.7M450.5 84.1h.7M443.7 86.8h.7M443.5 90.2h.7M457.0 90.2h.7M438.3 90.0h.7M452.1 94.9h.7M454.4 92.2h.7M455.1 84.0h.7M446.3 86.7h.7M448.5 101.0h.7M444.3 100.9h.7M440.9 99.9h.7M436.7 86.8h.7M453.7 91.2h.7M448.3 91.6h.7M448.5 90.7h.7M441.2 90.0h.7M448.1 86.5h.7M450.4 101.8h.7M437.0 88.6h.7M445.6 91.8h.7M448.0 87.5h.7M447.2 91.7h.7M446.9 100.6h.7M448.2 83.2h.7M437.5 95.1h.7M445.2 88.1h.7M438.8 89.9h.7M446.8 87.8h.7M445.2 96.8h.7M452.4 94.8h.7M446.3 83.9h.7M452.3 100.3h.7M455.5 98.4h.7M449.2 93.9h.7M447.3 98.9h.7M452.3 89.9h.7M447.4 82.4h.7M442.8 90.0h.7M462.9 87.0h.7M453.2 92.1h.7M445.5 95.3h.7M434.8 97.1h.7M459.6 93.4h.7M447.0 92.6h.7M451.6 88.9h.7M448.2 94.6h.7M445.2 93.9h.7M449.5 95.8h.7M441.2 88.6h.7M444.7 98.6h.7M449.0 82.2h.7M449.5 84.3h.7" stroke="#8088cc" stroke-width="0.7" fill="none" opacity="0.45"/>
<ellipse cx="0" cy="0" rx="6.2" ry="5.8" fill="url(#gjet2)" opacity="1" transform="translate(447.40,91.70) rotate(0)"/>
<path d="M462.0 82.4h.7M468.4 86.0h.7M463.5 81.3h.7M469.7 79.6h.7M468.8 82.8h.7M464.8 85.2h.7M465.8 79.9h.7M460.4 82.0h.7M465.9 85.4h.7M457.4 85.3h.7M466.2 85.8h.7M466.7 82.5h.7M465.7 83.0h.7M462.8 81.7h.7M464.8 80.9h.7M460.5 78.4h.7M465.9 83.3h.7M464.8 79.1h.7M466.8 81.0h.7M458.9 85.9h.7M460.4 87.6h.7M465.9 80.9h.7M458.1 80.2h.7M468.5 85.4h.7M465.2 77.7h.7M463.5 81.3h.7M465.8 81.7h.7M465.4 77.9h.7M462.8 85.6h.7M460.5 84.3h.7M470.8 83.6h.7M460.7 85.1h.7M459.5 82.8h.7M463.4 85.1h.7M467.7 82.5h.7M469.4 84.5h.7M463.2 79.5h.7M471.2 81.0h.7M465.6 81.7h.7M463.2 78.0h.7M464.1 81.7h.7M467.2 80.7h.7M460.2 79.3h.7M464.4 82.6h.7M466.5 81.0h.7M466.0 82.4h.7M469.1 81.9h.7M464.9 83.4h.7M467.8 79.7h.7M463.2 81.3h.7M458.7 85.3h.7M467.4 82.1h.7M473.7 85.2h.7M470.0 85.9h.7M467.0 78.5h.7M468.7 83.1h.7M461.2 82.1h.7M466.6 84.5h.7M465.0 80.7h.7M466.6 80.1h.7M464.3 83.9h.7M460.6 82.9h.7M459.2 79.7h.7M461.2 81.8h.7M466.4 81.9h.7M467.0 82.2h.7M463.9 83.2h.7M463.9 82.3h.7M467.3 80.6h.7M467.6 79.2h.7M463.9 77.7h.7M463.1 86.0h.7M465.5 85.2h.7M460.5 79.5h.7M465.8 84.1h.7M466.8 77.8h.7M465.9 81.8h.7M464.8 83.2h.7M463.7 77.8h.7M461.6 78.4h.7" stroke="#5a68c2" stroke-width="0.7" fill="none" opacity="0.42"/>
<path d="M463.8 79.4h.7M470.6 78.0h.7M465.2 77.0h.7M462.8 79.9h.7M466.0 79.1h.7M464.7 80.8h.7M464.1 81.0h.7M465.5 81.6h.7M464.9 80.7h.7M468.3 79.5h.7M471.4 80.1h.7M464.9 81.3h.7M465.1 78.4h.7M467.2 80.1h.7M471.6 75.6h.7M466.5 82.4h.7M466.8 80.5h.7M471.1 76.8h.7M467.3 81.6h.7M465.7 75.6h.7M464.6 80.2h.7M467.7 84.0h.7M470.6 76.1h.7M469.9 81.9h.7M471.4 79.3h.7M465.8 80.0h.7M471.2 81.2h.7M471.6 81.6h.7M465.7 77.3h.7M472.0 76.1h.7M466.3 79.0h.7M464.9 78.4h.7M467.2 85.3h.7M467.0 78.5h.7M467.5 81.9h.7M465.1 78.7h.7M462.7 81.4h.7M469.0 83.2h.7M464.1 84.8h.7M469.4 79.1h.7M466.2 79.0h.7M464.1 81.5h.7M465.6 78.0h.7M468.5 80.0h.7M465.7 79.1h.7M465.9 82.9h.7M469.8 78.0h.7M467.1 82.9h.7M466.5 83.9h.7M468.3 81.3h.7M461.9 81.7h.7M468.1 81.1h.7M468.4 80.9h.7M465.9 81.8h.7M467.4 77.2h.7M464.6 80.1h.7M468.1 74.5h.7M461.9 82.2h.7M467.2 86.4h.7M463.3 79.1h.7M465.7 81.0h.7M470.8 83.5h.7M464.6 82.6h.7M464.1 80.4h.7M467.6 81.2h.7M465.1 82.9h.7M467.0 79.7h.7M466.5 77.2h.7M469.1 80.5h.7M468.4 84.1h.7M465.0 79.0h.7M467.2 81.7h.7" stroke="#5a68c2" stroke-width="0.7" fill="none" opacity="0.42"/>
<path d="M469.5 79.5h.7M471.0 73.5h.7M468.2 72.9h.7M469.2 76.5h.7M471.3 77.8h.7M469.7 80.2h.7M471.3 74.7h.7M468.2 78.1h.7M474.0 77.0h.7M469.5 78.0h.7M471.8 77.2h.7M470.6 76.5h.7M468.6 75.6h.7M471.5 76.2h.7M471.2 78.3h.7M472.3 71.5h.7M467.6 74.7h.7M469.5 79.2h.7M476.0 80.8h.7M473.2 78.2h.7M469.0 78.6h.7M464.6 79.5h.7M469.9 78.8h.7M467.4 75.0h.7M468.3 77.3h.7M470.7 76.6h.7M470.7 78.9h.7M467.1 77.2h.7M466.1 76.2h.7M472.1 75.8h.7M474.4 78.5h.7M472.1 77.6h.7M472.0 79.8h.7M470.2 76.2h.7M468.6 81.7h.7M469.5 76.4h.7M468.2 73.7h.7M468.7 78.1h.7M468.7 75.7h.7M470.9 78.4h.7M468.8 78.1h.7M467.5 79.3h.7M467.5 76.7h.7M470.2 76.5h.7M467.1 82.1h.7M473.6 73.5h.7M470.2 74.6h.7M470.7 74.5h.7M471.3 78.6h.7M474.0 80.1h.7M468.8 79.5h.7M468.8 77.1h.7M468.7 73.5h.7M471.4 72.9h.7M469.3 78.6h.7M470.2 73.9h.7M468.3 78.9h.7M472.6 80.9h.7M465.5 78.4h.7M468.7 79.1h.7M465.8 77.1h.7M471.6 76.0h.7M469.0 75.2h.7M472.6 74.5h.7" stroke="#5a68c2" stroke-width="0.7" fill="none" opacity="0.42"/>
<path d="M470.5 74.4h.7M471.9 79.5h.7M473.2 73.4h.7M473.9 75.8h.7M473.2 75.0h.7M473.6 72.7h.7M469.9 74.2h.7M470.1 76.5h.7M477.0 77.7h.7M473.6 75.8h.7M471.0 72.4h.7M473.8 72.0h.7M473.3 74.8h.7M474.3 75.2h.7M472.8 73.9h.7M468.7 74.4h.7M474.2 77.3h.7M475.7 73.0h.7M470.5 76.5h.7M471.6 80.4h.7M473.3 72.0h.7M471.3 78.3h.7M468.5 75.4h.7M469.5 78.4h.7M471.6 73.0h.7M468.7 73.6h.7M466.8 74.1h.7M477.5 75.3h.7M472.0 72.7h.7M473.4 74.1h.7M470.7 78.0h.7M473.6 73.3h.7M476.0 75.0h.7M473.7 75.4h.7M475.3 76.4h.7M471.8 76.6h.7M471.7 75.4h.7M476.3 72.9h.7M470.3 74.3h.7M471.5 77.8h.7M469.0 79.8h.7M476.2 74.2h.7M473.0 74.4h.7M474.1 76.5h.7M474.3 76.7h.7M477.0 74.7h.7M474.2 74.7h.7M472.7 75.6h.7M472.5 75.8h.7M470.7 74.8h.7M471.2 72.7h.7M471.0 74.1h.7M472.3 71.9h.7M472.0 72.8h.7M470.7 75.5h.7M475.1 75.7h.7" stroke="#5a68c2" stroke-width="0.7" fill="none" opacity="0.42"/>
<path d="M474.3 72.0h.7M478.1 69.7h.7M477.7 69.9h.7M474.0 72.9h.7M474.8 76.0h.7M476.3 72.7h.7M477.3 72.9h.7M473.6 74.9h.7M478.5 75.2h.7M472.8 76.4h.7M474.4 74.3h.7M477.8 77.3h.7M471.9 70.8h.7M477.8 73.7h.7M474.6 67.2h.7M476.2 72.4h.7M469.8 77.9h.7M470.0 71.7h.7M475.3 73.2h.7M476.9 72.3h.7M473.4 72.1h.7M470.9 70.7h.7M479.5 71.5h.7M475.1 76.4h.7M477.5 73.0h.7M476.9 72.3h.7M473.4 74.7h.7M475.6 75.9h.7M474.7 72.1h.7M476.0 72.4h.7M474.6 71.1h.7M475.8 73.4h.7M479.2 72.8h.7M471.6 73.7h.7M480.1 72.0h.7M473.6 72.5h.7M469.2 72.2h.7M474.9 69.9h.7M476.5 71.1h.7M471.4 71.4h.7M476.6 76.5h.7M477.9 73.2h.7M474.2 72.3h.7M477.4 71.8h.7M476.2 74.7h.7M473.4 71.7h.7M476.3 72.8h.7M475.0 71.8h.7" stroke="#5a68c2" stroke-width="0.7" fill="none" opacity="0.42"/>
<path d="M477.9 73.8h.7M480.7 67.7h.7M478.1 70.7h.7M478.1 68.1h.7M477.7 70.8h.7M476.7 71.1h.7M473.2 67.8h.7M478.2 71.2h.7M477.7 69.7h.7M478.4 72.4h.7M479.8 70.4h.7M477.1 72.4h.7M479.1 72.1h.7M477.5 69.0h.7M478.4 69.4h.7M480.3 72.0h.7M473.7 71.7h.7M480.6 72.3h.7M477.1 69.0h.7M479.9 72.3h.7M478.1 68.5h.7M475.0 71.0h.7M476.4 69.3h.7M478.9 72.3h.7M473.9 69.3h.7M480.6 70.4h.7M477.3 71.6h.7M475.8 68.3h.7M478.0 73.3h.7M480.0 70.5h.7M480.0 69.8h.7M475.7 67.5h.7M478.5 72.1h.7M478.7 70.4h.7M477.2 72.4h.7M477.9 68.0h.7M480.7 69.4h.7M478.8 70.5h.7M480.1 70.9h.7M480.4 70.9h.7" stroke="#5a68c2" stroke-width="0.7" fill="none" opacity="0.42"/>
<ellipse cx="0" cy="0" rx="5.5" ry="4.5" fill="url(#gblu)" opacity="0.8" transform="translate(466.30,79.60) rotate(-40)"/>
<path d="M467.0 90.7h.7M473.0 89.9h.7M474.5 91.3h.7M464.5 89.8h.7M468.7 95.8h.7M473.7 91.8h.7M464.6 96.1h.7M468.0 91.8h.7M467.2 94.8h.7M470.5 90.8h.7M470.5 89.5h.7M463.8 91.4h.7M454.0 94.4h.7M480.2 89.3h.7M468.7 88.2h.7M470.4 92.3h.7M473.5 88.8h.7M466.3 90.3h.7M468.2 97.0h.7M468.4 91.7h.7M466.8 93.6h.7M483.3 94.4h.7M477.8 89.4h.7M475.2 91.9h.7M476.3 94.2h.7M473.0 88.0h.7M470.2 90.7h.7M471.9 91.9h.7M475.2 88.2h.7M465.5 91.6h.7M471.2 90.9h.7M469.3 91.9h.7M475.2 91.5h.7M470.8 87.7h.7M455.4 88.5h.7M471.4 86.6h.7M471.7 91.6h.7M469.5 90.2h.7M467.2 93.7h.7M471.4 91.7h.7M466.9 92.3h.7M475.9 91.8h.7M467.5 89.1h.7M470.0 89.7h.7M461.7 93.8h.7M466.1 87.2h.7M465.6 96.0h.7M468.9 88.8h.7M463.5 93.4h.7M471.7 92.3h.7M468.4 92.9h.7M477.8 92.9h.7M468.6 88.6h.7M471.9 95.3h.7M473.0 89.0h.7M470.5 94.7h.7M466.1 92.9h.7M476.0 95.5h.7M460.9 87.9h.7M471.5 93.4h.7M467.6 91.8h.7M467.3 94.5h.7M457.5 92.4h.7M462.6 90.3h.7M461.2 89.7h.7M469.4 91.9h.7M479.2 91.3h.7M471.4 92.6h.7M470.9 95.1h.7M470.3 92.1h.7M468.9 91.8h.7M469.2 94.1h.7M469.6 92.0h.7M469.2 93.5h.7M466.9 93.9h.7M466.4 93.4h.7M479.9 92.3h.7M469.0 89.1h.7M473.5 91.8h.7M474.4 90.3h.7M472.3 95.9h.7M471.7 91.1h.7M462.4 91.8h.7M473.1 93.2h.7M463.4 89.5h.7M464.2 89.5h.7M468.0 92.4h.7M479.9 92.2h.7M477.4 88.1h.7M477.9 93.6h.7" stroke="#7a84c8" stroke-width="0.7" fill="none" opacity="0.45"/>
<polygon points="452.4,82.0 456.7,70.8 484.9,61.0 492.6,65.7 491.7,99.2 459.8,99.2 458.7,90.1" fill="none" stroke="#c3a0cb" stroke-width="0.65"/>
<text transform="translate(440.00,55.70) scale(0.95,1)" font-size="8.1" text-anchor="start" font-weight="normal" font-style="normal" fill="#1a1a1a" style="stroke:none">21.3</text>
<text transform="translate(465.20,43.70) scale(0.92,1)" font-size="8.6" font-style="italic" fill="#222" text-anchor="middle">Ubr5<tspan font-size="5.9" dx="0.6" dy="-3.4">&#916;HECT</tspan></text>
<rect x="304.60" y="47.20" width="192.40" height="56.40" fill="none" stroke="#a0a0a0" stroke-width="1.6" />
<line x1="368.90" y1="47.20" x2="368.90" y2="103.60" stroke="#9c9c9c" stroke-width="1.7"/>
<line x1="433.20" y1="47.20" x2="433.20" y2="103.60" stroke="#9c9c9c" stroke-width="1.7"/>
<path d="M299.9 91.3V109.3H318" fill="none" stroke="#111" stroke-width="1.35"/>
<path d="M297.79999999999995 92.7L299.9 88.3L302.0 92.7z" fill="#111"/>
<path d="M316.6 107.2L321 109.3L316.6 111.39999999999999z" fill="#111"/>
<text font-size="9.8" text-anchor="middle" fill="#222" transform="translate(294.40,99.50) rotate(-90) scale(0.72,1)" >CD19</text>
<text transform="translate(300.20,120.20) scale(0.78,1)" font-size="9.6" text-anchor="start" font-weight="normal" font-style="normal" fill="#222" >B220</text>
<rect x="75.20" y="163.10" width="11.00" height="6.70" fill="#8e94bb" stroke="none" stroke-width="1" />
<text transform="translate(89.70,168.80) scale(0.95,1)" font-size="8.1" text-anchor="start" font-weight="normal" font-style="italic" fill="#222" >Ubr5<tspan font-size="5.5" dx="0.6" dy="-3.4">WT</tspan></text>
<rect x="126.30" y="163.10" width="11.00" height="6.70" fill="#f2c98f" stroke="none" stroke-width="1" />
<text transform="translate(140.80,168.80) scale(0.95,1)" font-size="8.1" text-anchor="start" font-weight="normal" font-style="italic" fill="#222" >Ubr5<tspan font-size="5.5" dx="0.6" dy="-3.4">&#916;HECT/WT</tspan></text>
<rect x="196.30" y="163.10" width="11.00" height="6.70" fill="#bad7a0" stroke="none" stroke-width="1" />
<text transform="translate(210.80,168.80) scale(0.95,1)" font-size="8.1" text-anchor="start" font-weight="normal" font-style="italic" fill="#222" >Ubr5<tspan font-size="5.5" dx="0.6" dy="-3.4">&#916;HECT</tspan></text>
<line x1="63.65" y1="181.90" x2="63.65" y2="262.80" stroke="#111" stroke-width="1.15"/>
<line x1="63.15" y1="262.30" x2="129.00" y2="262.30" stroke="#111" stroke-width="1.15"/>
<line x1="60.65" y1="184.00" x2="63.65" y2="184.00" stroke="#111" stroke-width="0.95"/>
<text transform="translate(57.65,186.90) scale(0.95,1)" font-size="8.3" text-anchor="end" font-weight="normal" font-style="normal" fill="#222" >80</text>
<line x1="60.65" y1="203.70" x2="63.65" y2="203.70" stroke="#111" stroke-width="0.95"/>
<text transform="translate(57.65,206.60) scale(0.95,1)" font-size="8.3" text-anchor="end" font-weight="normal" font-style="normal" fill="#222" >60</text>
<line x1="60.65" y1="223.30" x2="63.65" y2="223.30" stroke="#111" stroke-width="0.95"/>
<text transform="translate(57.65,226.20) scale(0.95,1)" font-size="8.3" text-anchor="end" font-weight="normal" font-style="normal" fill="#222" >40</text>
<line x1="60.65" y1="242.70" x2="63.65" y2="242.70" stroke="#111" stroke-width="0.95"/>
<text transform="translate(57.65,245.60) scale(0.95,1)" font-size="8.3" text-anchor="end" font-weight="normal" font-style="normal" fill="#222" >20</text>
<line x1="60.65" y1="262.30" x2="63.65" y2="262.30" stroke="#111" stroke-width="0.95"/>
<text transform="translate(57.65,265.20) scale(0.95,1)" font-size="8.3" text-anchor="end" font-weight="normal" font-style="normal" fill="#222" >0</text>
<rect x="67.50" y="211.30" width="7.70" height="51.00" fill="#8e94bb" stroke="none" stroke-width="1" />
<rect x="77.10" y="210.40" width="7.70" height="51.90" fill="#f2c98f" stroke="none" stroke-width="1" />
<rect x="86.70" y="204.20" width="7.70" height="58.10" fill="#bad7a0" stroke="none" stroke-width="1" />
<rect x="98.30" y="244.00" width="7.70" height="18.30" fill="#8e94bb" stroke="none" stroke-width="1" />
<rect x="107.90" y="240.80" width="7.70" height="21.50" fill="#f2c98f" stroke="none" stroke-width="1" />
<rect x="117.50" y="243.00" width="7.70" height="19.30" fill="#bad7a0" stroke="none" stroke-width="1" />
<line x1="71.35" y1="207.50" x2="71.35" y2="215.20" stroke="#2a4585" stroke-width="1.05"/>
<line x1="69.05" y1="207.50" x2="73.65" y2="207.50" stroke="#2a4585" stroke-width="1.05"/>
<line x1="69.05" y1="215.20" x2="73.65" y2="215.20" stroke="#2a4585" stroke-width="1.05"/>
<circle cx="69.81" cy="204.20" r="1.5" fill="#1f3c82"/>
<circle cx="70.63" cy="205.60" r="1.5" fill="#1f3c82"/>
<circle cx="69.94" cy="207.50" r="1.5" fill="#1f3c82"/>
<circle cx="73.04" cy="209.40" r="1.5" fill="#1f3c82"/>
<circle cx="72.85" cy="211.30" r="1.5" fill="#1f3c82"/>
<circle cx="72.91" cy="212.70" r="1.5" fill="#1f3c82"/>
<circle cx="70.79" cy="214.60" r="1.5" fill="#1f3c82"/>
<circle cx="73.40" cy="220.40" r="1.5" fill="#1f3c82"/>
<circle cx="70.22" cy="204.90" r="1.5" fill="#1f3c82"/>
<line x1="80.95" y1="207.00" x2="80.95" y2="214.50" stroke="#e29a3a" stroke-width="1.05"/>
<line x1="78.65" y1="207.00" x2="83.25" y2="207.00" stroke="#e29a3a" stroke-width="1.05"/>
<line x1="78.65" y1="214.50" x2="83.25" y2="214.50" stroke="#e29a3a" stroke-width="1.05"/>
<circle cx="81.30" cy="205.60" r="1.5" fill="#e38b1b"/>
<circle cx="81.76" cy="206.50" r="1.5" fill="#e38b1b"/>
<circle cx="79.70" cy="208.00" r="1.5" fill="#e38b1b"/>
<circle cx="80.39" cy="210.40" r="1.5" fill="#e38b1b"/>
<circle cx="79.07" cy="211.90" r="1.5" fill="#e38b1b"/>
<circle cx="82.34" cy="213.80" r="1.5" fill="#e38b1b"/>
<circle cx="79.47" cy="215.80" r="1.5" fill="#e38b1b"/>
<circle cx="79.24" cy="218.00" r="1.5" fill="#e38b1b"/>
<circle cx="79.91" cy="206.05" r="1.5" fill="#e38b1b"/>
<line x1="90.55" y1="195.00" x2="90.55" y2="212.00" stroke="#5aae48" stroke-width="1.05"/>
<line x1="88.25" y1="195.00" x2="92.85" y2="195.00" stroke="#5aae48" stroke-width="1.05"/>
<line x1="88.25" y1="212.00" x2="92.85" y2="212.00" stroke="#5aae48" stroke-width="1.05"/>
<circle cx="91.21" cy="190.20" r="1.5" fill="#4ea93a"/>
<circle cx="91.19" cy="193.10" r="1.5" fill="#4ea93a"/>
<circle cx="90.67" cy="198.80" r="1.5" fill="#4ea93a"/>
<circle cx="92.21" cy="200.80" r="1.5" fill="#4ea93a"/>
<circle cx="91.74" cy="204.20" r="1.5" fill="#4ea93a"/>
<circle cx="89.19" cy="205.60" r="1.5" fill="#4ea93a"/>
<circle cx="90.71" cy="211.30" r="1.5" fill="#4ea93a"/>
<circle cx="89.00" cy="216.20" r="1.5" fill="#4ea93a"/>
<circle cx="89.34" cy="217.10" r="1.5" fill="#4ea93a"/>
<line x1="102.15" y1="237.50" x2="102.15" y2="249.00" stroke="#2a4585" stroke-width="1.05"/>
<line x1="99.85" y1="237.50" x2="104.45" y2="237.50" stroke="#2a4585" stroke-width="1.05"/>
<line x1="99.85" y1="249.00" x2="104.45" y2="249.00" stroke="#2a4585" stroke-width="1.05"/>
<circle cx="100.49" cy="235.40" r="1.5" fill="#1f3c82"/>
<circle cx="100.16" cy="237.30" r="1.5" fill="#1f3c82"/>
<circle cx="101.45" cy="240.80" r="1.5" fill="#1f3c82"/>
<circle cx="103.97" cy="242.70" r="1.5" fill="#1f3c82"/>
<circle cx="102.88" cy="244.00" r="1.5" fill="#1f3c82"/>
<circle cx="100.21" cy="246.00" r="1.5" fill="#1f3c82"/>
<circle cx="100.83" cy="247.90" r="1.5" fill="#1f3c82"/>
<circle cx="102.58" cy="249.80" r="1.5" fill="#1f3c82"/>
<circle cx="102.29" cy="236.35" r="1.5" fill="#1f3c82"/>
<line x1="111.75" y1="237.00" x2="111.75" y2="245.00" stroke="#e29a3a" stroke-width="1.05"/>
<line x1="109.45" y1="237.00" x2="114.05" y2="237.00" stroke="#e29a3a" stroke-width="1.05"/>
<line x1="109.45" y1="245.00" x2="114.05" y2="245.00" stroke="#e29a3a" stroke-width="1.05"/>
<circle cx="109.53" cy="235.40" r="1.5" fill="#e38b1b"/>
<circle cx="109.84" cy="237.30" r="1.5" fill="#e38b1b"/>
<circle cx="112.06" cy="240.80" r="1.5" fill="#e38b1b"/>
<circle cx="112.23" cy="242.70" r="1.5" fill="#e38b1b"/>
<circle cx="109.78" cy="245.00" r="1.5" fill="#e38b1b"/>
<circle cx="113.03" cy="246.90" r="1.5" fill="#e38b1b"/>
<circle cx="110.53" cy="236.35" r="1.5" fill="#e38b1b"/>
<circle cx="112.17" cy="239.05" r="1.5" fill="#e38b1b"/>
<circle cx="111.89" cy="241.75" r="1.5" fill="#e38b1b"/>
<line x1="121.35" y1="237.00" x2="121.35" y2="248.00" stroke="#5aae48" stroke-width="1.05"/>
<line x1="119.05" y1="237.00" x2="123.65" y2="237.00" stroke="#5aae48" stroke-width="1.05"/>
<line x1="119.05" y1="248.00" x2="123.65" y2="248.00" stroke="#5aae48" stroke-width="1.05"/>
<circle cx="120.60" cy="235.40" r="1.5" fill="#4ea93a"/>
<circle cx="123.45" cy="237.30" r="1.5" fill="#4ea93a"/>
<circle cx="120.86" cy="243.00" r="1.5" fill="#4ea93a"/>
<circle cx="120.99" cy="245.00" r="1.5" fill="#4ea93a"/>
<circle cx="121.54" cy="246.90" r="1.5" fill="#4ea93a"/>
<circle cx="122.95" cy="248.80" r="1.5" fill="#4ea93a"/>
<circle cx="123.64" cy="236.35" r="1.5" fill="#4ea93a"/>
<circle cx="122.62" cy="240.15" r="1.5" fill="#4ea93a"/>
<circle cx="121.53" cy="244.00" r="1.5" fill="#4ea93a"/>
<line x1="81.00" y1="262.30" x2="81.00" y2="265.30" stroke="#111" stroke-width="0.95"/>
<line x1="111.20" y1="262.30" x2="111.20" y2="265.30" stroke="#111" stroke-width="0.95"/>
<rect x="88.25" y="182.05" width="1.9" height="1.9" rx="0.6" fill="#151515"/>
<text font-size="8.6" text-anchor="middle" fill="#222" transform="translate(42.20,221.50) rotate(-90) scale(0.86,1)" >% B220<tspan font-size="6" dy="-3.4">+</tspan></text>
<text font-size="9.4" text-anchor="end" fill="#222" transform="translate(84.70,274.00) rotate(-45) scale(0.92,1)">IgD<tspan font-size="6.4" dy="-3.6">-</tspan><tspan dy="3.6">IgM</tspan><tspan font-size="6.4" dy="-3.6">-</tspan></text>
<text font-size="9.4" text-anchor="end" fill="#222" transform="translate(114.70,271.00) rotate(-45) scale(0.92,1)">IgD<tspan font-size="6.4" dy="-3.6">-</tspan><tspan dy="3.6">IgM</tspan><tspan font-size="6.4" dy="-3.6">lo</tspan></text>
<line x1="162.40" y1="181.10" x2="162.40" y2="262.40" stroke="#111" stroke-width="1.15"/>
<line x1="161.90" y1="261.90" x2="259.00" y2="261.90" stroke="#111" stroke-width="1.15"/>
<line x1="159.40" y1="184.30" x2="162.40" y2="184.30" stroke="#111" stroke-width="0.95"/>
<text transform="translate(156.40,187.20) scale(0.95,1)" font-size="8.3" text-anchor="end" font-weight="normal" font-style="normal" fill="#222" >20</text>
<line x1="159.40" y1="203.70" x2="162.40" y2="203.70" stroke="#111" stroke-width="0.95"/>
<text transform="translate(156.40,206.60) scale(0.95,1)" font-size="8.3" text-anchor="end" font-weight="normal" font-style="normal" fill="#222" >15</text>
<line x1="159.40" y1="223.10" x2="162.40" y2="223.10" stroke="#111" stroke-width="0.95"/>
<text transform="translate(156.40,226.00) scale(0.95,1)" font-size="8.3" text-anchor="end" font-weight="normal" font-style="normal" fill="#222" >10</text>
<line x1="159.40" y1="242.50" x2="162.40" y2="242.50" stroke="#111" stroke-width="0.95"/>
<text transform="translate(156.40,245.40) scale(0.95,1)" font-size="8.3" text-anchor="end" font-weight="normal" font-style="normal" fill="#222" >5</text>
<line x1="159.40" y1="261.90" x2="162.40" y2="261.90" stroke="#111" stroke-width="0.95"/>
<text transform="translate(156.40,264.80) scale(0.95,1)" font-size="8.3" text-anchor="end" font-weight="normal" font-style="normal" fill="#222" >0</text>
<rect x="166.10" y="217.30" width="7.90" height="44.60" fill="#8e94bb" stroke="none" stroke-width="1" />
<rect x="175.80" y="222.70" width="7.60" height="39.20" fill="#f2c98f" stroke="none" stroke-width="1" />
<rect x="185.50" y="216.20" width="7.60" height="45.70" fill="#bad7a0" stroke="none" stroke-width="1" />
<rect x="197.00" y="243.90" width="7.70" height="18.00" fill="#8e94bb" stroke="none" stroke-width="1" />
<rect x="206.50" y="245.00" width="7.90" height="16.90" fill="#f2c98f" stroke="none" stroke-width="1" />
<rect x="216.20" y="254.30" width="7.60" height="7.60" fill="#bad7a0" stroke="none" stroke-width="1" />
<rect x="227.80" y="234.20" width="7.60" height="27.70" fill="#8e94bb" stroke="none" stroke-width="1" />
<rect x="237.50" y="253.10" width="7.50" height="8.80" fill="#f2c98f" stroke="none" stroke-width="1" />
<rect x="247.00" y="255.50" width="7.80" height="6.40" fill="#bad7a0" stroke="none" stroke-width="1" />
<line x1="170.05" y1="211.60" x2="170.05" y2="226.60" stroke="#2a4585" stroke-width="1.05"/>
<line x1="167.75" y1="211.60" x2="172.35" y2="211.60" stroke="#2a4585" stroke-width="1.05"/>
<line x1="167.75" y1="226.60" x2="172.35" y2="226.60" stroke="#2a4585" stroke-width="1.05"/>
<circle cx="171.11" cy="205.10" r="1.5" fill="#1f3c82"/>
<circle cx="170.73" cy="208.10" r="1.5" fill="#1f3c82"/>
<circle cx="172.30" cy="211.60" r="1.5" fill="#1f3c82"/>
<circle cx="172.36" cy="213.90" r="1.5" fill="#1f3c82"/>
<circle cx="171.32" cy="216.20" r="1.5" fill="#1f3c82"/>
<circle cx="168.66" cy="218.50" r="1.5" fill="#1f3c82"/>
<circle cx="170.39" cy="220.80" r="1.5" fill="#1f3c82"/>
<circle cx="169.75" cy="224.30" r="1.5" fill="#1f3c82"/>
<circle cx="168.73" cy="233.50" r="1.5" fill="#1f3c82"/>
<line x1="179.60" y1="210.40" x2="179.60" y2="231.20" stroke="#e29a3a" stroke-width="1.05"/>
<line x1="177.30" y1="210.40" x2="181.90" y2="210.40" stroke="#e29a3a" stroke-width="1.05"/>
<line x1="177.30" y1="231.20" x2="181.90" y2="231.20" stroke="#e29a3a" stroke-width="1.05"/>
<circle cx="180.89" cy="192.60" r="1.5" fill="#e38b1b"/>
<circle cx="178.32" cy="222.70" r="1.5" fill="#e38b1b"/>
<circle cx="180.56" cy="224.30" r="1.5" fill="#e38b1b"/>
<circle cx="179.55" cy="227.70" r="1.5" fill="#e38b1b"/>
<circle cx="179.26" cy="229.60" r="1.5" fill="#e38b1b"/>
<circle cx="180.55" cy="233.50" r="1.5" fill="#e38b1b"/>
<circle cx="180.63" cy="223.50" r="1.5" fill="#e38b1b"/>
<circle cx="181.85" cy="226.00" r="1.5" fill="#e38b1b"/>
<circle cx="181.89" cy="228.65" r="1.5" fill="#e38b1b"/>
<line x1="189.30" y1="205.80" x2="189.30" y2="225.40" stroke="#5aae48" stroke-width="1.05"/>
<line x1="187.00" y1="205.80" x2="191.60" y2="205.80" stroke="#5aae48" stroke-width="1.05"/>
<line x1="187.00" y1="225.40" x2="191.60" y2="225.40" stroke="#5aae48" stroke-width="1.05"/>
<circle cx="190.68" cy="200.00" r="1.5" fill="#4ea93a"/>
<circle cx="188.21" cy="197.30" r="1.5" fill="#4ea93a"/>
<circle cx="190.08" cy="206.50" r="1.5" fill="#4ea93a"/>
<circle cx="189.28" cy="216.20" r="1.5" fill="#4ea93a"/>
<circle cx="191.33" cy="219.60" r="1.5" fill="#4ea93a"/>
<circle cx="189.06" cy="223.10" r="1.5" fill="#4ea93a"/>
<circle cx="188.64" cy="226.60" r="1.5" fill="#4ea93a"/>
<circle cx="187.12" cy="229.60" r="1.5" fill="#4ea93a"/>
<circle cx="189.16" cy="198.65" r="1.5" fill="#4ea93a"/>
<line x1="200.85" y1="239.50" x2="200.85" y2="249.50" stroke="#2a4585" stroke-width="1.05"/>
<line x1="198.55" y1="239.50" x2="203.15" y2="239.50" stroke="#2a4585" stroke-width="1.05"/>
<line x1="198.55" y1="249.50" x2="203.15" y2="249.50" stroke="#2a4585" stroke-width="1.05"/>
<circle cx="201.00" cy="238.10" r="1.5" fill="#1f3c82"/>
<circle cx="199.95" cy="239.30" r="1.5" fill="#1f3c82"/>
<circle cx="198.99" cy="242.70" r="1.5" fill="#1f3c82"/>
<circle cx="200.77" cy="245.00" r="1.5" fill="#1f3c82"/>
<circle cx="198.83" cy="249.70" r="1.5" fill="#1f3c82"/>
<circle cx="199.31" cy="252.70" r="1.5" fill="#1f3c82"/>
<circle cx="200.59" cy="238.70" r="1.5" fill="#1f3c82"/>
<circle cx="200.14" cy="241.00" r="1.5" fill="#1f3c82"/>
<circle cx="200.85" cy="243.85" r="1.5" fill="#1f3c82"/>
<line x1="210.45" y1="240.00" x2="210.45" y2="249.00" stroke="#e29a3a" stroke-width="1.05"/>
<line x1="208.15" y1="240.00" x2="212.75" y2="240.00" stroke="#e29a3a" stroke-width="1.05"/>
<line x1="208.15" y1="249.00" x2="212.75" y2="249.00" stroke="#e29a3a" stroke-width="1.05"/>
<circle cx="210.60" cy="237.40" r="1.5" fill="#e38b1b"/>
<circle cx="209.90" cy="240.40" r="1.5" fill="#e38b1b"/>
<circle cx="208.65" cy="243.40" r="1.5" fill="#e38b1b"/>
<circle cx="208.09" cy="246.20" r="1.5" fill="#e38b1b"/>
<circle cx="210.74" cy="248.50" r="1.5" fill="#e38b1b"/>
<circle cx="212.75" cy="238.90" r="1.5" fill="#e38b1b"/>
<circle cx="209.38" cy="241.90" r="1.5" fill="#e38b1b"/>
<circle cx="209.72" cy="244.80" r="1.5" fill="#e38b1b"/>
<circle cx="209.57" cy="247.35" r="1.5" fill="#e38b1b"/>
<line x1="220.00" y1="249.00" x2="220.00" y2="259.00" stroke="#5aae48" stroke-width="1.05"/>
<line x1="217.70" y1="249.00" x2="222.30" y2="249.00" stroke="#5aae48" stroke-width="1.05"/>
<line x1="217.70" y1="259.00" x2="222.30" y2="259.00" stroke="#5aae48" stroke-width="1.05"/>
<circle cx="221.12" cy="244.40" r="1.5" fill="#4ea93a"/>
<circle cx="219.97" cy="249.70" r="1.5" fill="#4ea93a"/>
<circle cx="221.36" cy="253.10" r="1.5" fill="#4ea93a"/>
<circle cx="217.72" cy="255.50" r="1.5" fill="#4ea93a"/>
<circle cx="218.31" cy="257.80" r="1.5" fill="#4ea93a"/>
<circle cx="218.65" cy="260.00" r="1.5" fill="#4ea93a"/>
<circle cx="219.40" cy="247.05" r="1.5" fill="#4ea93a"/>
<circle cx="219.54" cy="251.40" r="1.5" fill="#4ea93a"/>
<circle cx="219.47" cy="254.30" r="1.5" fill="#4ea93a"/>
<line x1="231.60" y1="219.00" x2="231.60" y2="249.70" stroke="#2a4585" stroke-width="1.05"/>
<line x1="229.30" y1="219.00" x2="233.90" y2="219.00" stroke="#2a4585" stroke-width="1.05"/>
<line x1="229.30" y1="249.70" x2="233.90" y2="249.70" stroke="#2a4585" stroke-width="1.05"/>
<circle cx="233.74" cy="195.40" r="1.5" fill="#1f3c82"/>
<circle cx="231.32" cy="225.40" r="1.5" fill="#1f3c82"/>
<circle cx="231.95" cy="232.40" r="1.5" fill="#1f3c82"/>
<circle cx="233.73" cy="235.80" r="1.5" fill="#1f3c82"/>
<circle cx="232.25" cy="239.30" r="1.5" fill="#1f3c82"/>
<circle cx="232.04" cy="243.90" r="1.5" fill="#1f3c82"/>
<circle cx="233.11" cy="246.20" r="1.5" fill="#1f3c82"/>
<circle cx="230.84" cy="234.10" r="1.5" fill="#1f3c82"/>
<circle cx="229.47" cy="237.55" r="1.5" fill="#1f3c82"/>
<line x1="241.25" y1="249.00" x2="241.25" y2="257.00" stroke="#e29a3a" stroke-width="1.05"/>
<line x1="238.95" y1="249.00" x2="243.55" y2="249.00" stroke="#e29a3a" stroke-width="1.05"/>
<line x1="238.95" y1="257.00" x2="243.55" y2="257.00" stroke="#e29a3a" stroke-width="1.05"/>
<circle cx="243.31" cy="247.40" r="1.5" fill="#e38b1b"/>
<circle cx="241.40" cy="249.70" r="1.5" fill="#e38b1b"/>
<circle cx="241.62" cy="252.00" r="1.5" fill="#e38b1b"/>
<circle cx="239.30" cy="254.30" r="1.5" fill="#e38b1b"/>
<circle cx="242.35" cy="256.60" r="1.5" fill="#e38b1b"/>
<circle cx="240.68" cy="248.55" r="1.5" fill="#e38b1b"/>
<circle cx="241.89" cy="250.85" r="1.5" fill="#e38b1b"/>
<circle cx="240.28" cy="253.15" r="1.5" fill="#e38b1b"/>
<circle cx="243.13" cy="255.45" r="1.5" fill="#e38b1b"/>
<line x1="250.90" y1="253.00" x2="250.90" y2="259.00" stroke="#5aae48" stroke-width="1.05"/>
<line x1="248.60" y1="253.00" x2="253.20" y2="253.00" stroke="#5aae48" stroke-width="1.05"/>
<line x1="248.60" y1="259.00" x2="253.20" y2="259.00" stroke="#5aae48" stroke-width="1.05"/>
<circle cx="250.27" cy="252.00" r="1.5" fill="#4ea93a"/>
<circle cx="249.82" cy="254.30" r="1.5" fill="#4ea93a"/>
<circle cx="252.79" cy="256.00" r="1.5" fill="#4ea93a"/>
<circle cx="249.57" cy="257.80" r="1.5" fill="#4ea93a"/>
<circle cx="249.80" cy="258.90" r="1.5" fill="#4ea93a"/>
<circle cx="250.84" cy="253.15" r="1.5" fill="#4ea93a"/>
<circle cx="253.21" cy="255.15" r="1.5" fill="#4ea93a"/>
<circle cx="249.05" cy="256.90" r="1.5" fill="#4ea93a"/>
<circle cx="249.51" cy="258.35" r="1.5" fill="#4ea93a"/>
<line x1="179.30" y1="261.90" x2="179.30" y2="264.90" stroke="#111" stroke-width="0.95"/>
<line x1="210.40" y1="261.90" x2="210.40" y2="264.90" stroke="#111" stroke-width="0.95"/>
<line x1="241.00" y1="261.90" x2="241.00" y2="264.90" stroke="#111" stroke-width="0.95"/>
<rect x="217.55" y="230.55" width="1.9" height="1.9" rx="0.6" fill="#151515"/>
<rect x="217.55" y="233.90" width="1.9" height="1.9" rx="0.6" fill="#151515"/>
<rect x="217.55" y="237.25" width="1.9" height="1.9" rx="0.6" fill="#151515"/>
<rect x="239.35" y="235.75" width="1.9" height="1.9" rx="0.6" fill="#151515"/>
<rect x="239.35" y="239.10" width="1.9" height="1.9" rx="0.6" fill="#151515"/>
<rect x="248.45" y="238.65" width="1.9" height="1.9" rx="0.6" fill="#151515"/>
<rect x="248.45" y="242.00" width="1.9" height="1.9" rx="0.6" fill="#151515"/>
<rect x="248.45" y="245.35" width="1.9" height="1.9" rx="0.6" fill="#151515"/>
<text font-size="9.4" text-anchor="end" fill="#222" transform="translate(182.50,273.00) rotate(-45) scale(0.92,1)">IgD<tspan font-size="6.4" dy="-3.6">-</tspan><tspan dy="3.6">IgM</tspan><tspan font-size="6.4" dy="-3.6">hi</tspan></text>
<text font-size="9.4" text-anchor="end" fill="#222" transform="translate(216.20,272.00) rotate(-45) scale(0.92,1)">IgD<tspan font-size="6.4" dy="-3.6">+</tspan><tspan dy="3.6">IgM</tspan><tspan font-size="6.4" dy="-3.6">hi</tspan></text>
<text font-size="9.4" text-anchor="end" fill="#222" transform="translate(245.00,271.00) rotate(-45) scale(0.92,1)">IgD<tspan font-size="6.4" dy="-3.6">+</tspan><tspan dy="3.6">IgM</tspan><tspan font-size="6.4" dy="-3.6">lo</tspan></text>
<path d="M325.0 215.3h.7M308.9 221.0h.7M319.8 209.2h.7M339.5 223.4h.7M312.5 223.5h.7M316.3 217.5h.7M330.7 221.3h.7M329.6 217.8h.7M333.1 212.8h.7M327.6 215.0h.7M312.7 217.6h.7M330.0 219.2h.7M338.0 213.6h.7M310.2 216.7h.7M339.8 208.4h.7M321.2 216.2h.7M328.1 215.1h.7M324.2 219.4h.7M310.7 216.5h.7M313.0 218.3h.7M334.0 222.5h.7M315.5 216.1h.7M335.8 207.8h.7M349.5 210.9h.7M332.9 218.9h.7M316.6 218.1h.7M323.1 207.2h.7M331.6 221.1h.7M344.4 215.1h.7M319.4 217.6h.7M312.3 218.5h.7M325.3 214.2h.7M318.6 229.8h.7M337.6 217.5h.7M337.7 221.2h.7M327.3 226.1h.7M324.3 218.4h.7M327.3 217.9h.7M314.2 222.7h.7M335.7 218.2h.7M319.5 216.5h.7M314.4 214.6h.7M315.1 224.5h.7M322.1 214.9h.7M326.5 217.9h.7M322.7 223.4h.7M349.7 214.7h.7M327.3 215.3h.7M328.3 209.6h.7M319.8 215.7h.7M325.0 219.3h.7M313.1 213.0h.7M324.8 216.5h.7M350.7 217.7h.7M323.3 220.5h.7M327.2 215.4h.7M329.6 207.8h.7M311.2 214.7h.7M337.6 217.2h.7M310.9 211.9h.7M319.0 216.8h.7M326.4 223.5h.7M328.1 218.0h.7M323.8 225.0h.7M314.9 215.8h.7M336.8 215.7h.7M324.8 222.8h.7M329.8 213.6h.7M311.9 219.4h.7M338.1 216.5h.7M329.4 222.4h.7M319.0 221.6h.7M323.4 216.1h.7M315.2 216.8h.7M308.8 212.1h.7M310.1 218.3h.7M322.0 220.4h.7M311.6 216.6h.7M326.7 224.6h.7M314.5 217.0h.7M323.5 225.6h.7M343.2 210.9h.7M323.9 218.7h.7M322.4 216.3h.7M333.2 211.7h.7M318.3 221.2h.7M321.5 214.6h.7M312.3 222.9h.7M318.3 211.6h.7M329.5 218.9h.7M323.8 218.1h.7M315.6 212.5h.7M335.2 214.4h.7M333.7 214.5h.7M315.8 216.6h.7M323.2 217.0h.7M319.9 219.4h.7M315.4 213.2h.7M324.2 215.1h.7M339.1 218.3h.7M312.0 213.3h.7M321.2 217.0h.7M321.5 216.2h.7M339.3 223.9h.7M318.1 216.2h.7M317.8 207.1h.7M333.4 212.1h.7M325.4 215.2h.7M320.9 219.1h.7M334.3 211.7h.7M327.5 217.1h.7M308.8 210.8h.7M334.2 220.6h.7M327.6 220.7h.7M330.5 221.1h.7M337.9 218.9h.7M310.8 209.2h.7M324.3 215.2h.7M332.4 212.9h.7M334.6 215.0h.7M337.5 220.4h.7M337.2 228.5h.7M315.0 217.2h.7M315.7 211.0h.7M316.1 217.9h.7M310.0 220.4h.7M324.7 219.6h.7M309.3 217.7h.7M331.2 218.5h.7M331.7 216.4h.7M325.1 213.2h.7M333.8 219.7h.7M335.7 211.3h.7M338.8 219.1h.7M315.6 213.4h.7M317.7 212.3h.7M330.2 223.3h.7M329.8 219.8h.7M331.6 212.3h.7M308.2 216.5h.7M314.1 217.2h.7M321.9 216.7h.7M322.2 218.0h.7M345.7 216.7h.7M320.6 214.8h.7M328.9 214.1h.7M328.8 210.9h.7M310.9 212.5h.7M321.8 225.5h.7M328.0 214.1h.7M315.9 219.3h.7M342.0 221.3h.7M319.3 212.2h.7M332.4 218.8h.7M319.1 211.9h.7M316.2 217.1h.7M326.4 223.6h.7M311.2 225.9h.7M345.5 210.1h.7M321.9 222.3h.7M331.4 219.6h.7M334.4 219.4h.7M340.2 215.0h.7M318.6 219.7h.7M326.9 216.4h.7M335.0 209.7h.7M346.2 221.6h.7M317.9 213.5h.7M311.7 219.8h.7M330.9 214.6h.7M341.2 217.4h.7M315.2 211.7h.7M327.4 217.8h.7M331.5 214.5h.7M328.7 223.0h.7M335.8 219.2h.7M323.5 214.4h.7M325.5 205.2h.7M332.0 209.9h.7M338.9 214.7h.7M328.8 211.1h.7M320.8 214.5h.7M319.2 220.4h.7M334.9 210.9h.7M315.8 230.9h.7M327.2 217.6h.7M322.0 218.6h.7M332.9 215.7h.7M308.9 222.7h.7M310.1 215.7h.7M313.6 218.8h.7M331.7 216.0h.7M312.6 216.2h.7M327.5 219.0h.7M320.7 217.6h.7M328.9 216.0h.7M326.2 216.1h.7M320.6 215.0h.7M323.2 221.7h.7M324.3 212.2h.7M315.1 219.2h.7M315.9 216.5h.7M330.1 216.2h.7M332.4 221.2h.7M314.4 222.8h.7M338.5 218.7h.7M308.8 224.8h.7M320.6 221.6h.7M318.8 222.1h.7M321.0 223.6h.7M310.6 220.7h.7M321.1 221.8h.7M309.0 214.5h.7M317.8 213.1h.7M328.1 218.1h.7M327.8 219.3h.7M329.9 223.1h.7M312.1 225.3h.7M324.7 220.4h.7M326.2 219.3h.7M318.5 211.6h.7M323.8 225.2h.7M319.1 212.7h.7M312.5 212.9h.7M319.8 217.7h.7M308.0 225.2h.7M313.9 221.6h.7M338.6 221.1h.7M330.3 213.7h.7M315.6 220.9h.7M323.8 220.1h.7M334.4 222.0h.7M343.7 214.9h.7M341.8 214.1h.7M329.1 217.4h.7M344.0 215.6h.7M313.5 212.8h.7M314.2 218.8h.7M331.6 221.5h.7M323.1 219.3h.7M332.9 212.7h.7M329.8 214.4h.7M316.8 215.3h.7M327.2 214.3h.7M316.3 212.4h.7M322.0 218.6h.7M311.8 217.5h.7M326.7 214.2h.7M327.3 220.5h.7M326.3 213.9h.7M322.2 216.1h.7M337.6 220.5h.7M319.0 217.0h.7M314.0 220.6h.7M313.5 219.6h.7M343.8 219.5h.7M315.8 215.0h.7M322.5 219.8h.7M341.4 213.5h.7M314.1 221.2h.7M317.6 216.0h.7M339.9 218.5h.7M330.6 222.0h.7M326.0 217.1h.7M331.4 222.6h.7M317.4 212.4h.7M349.0 217.9h.7M342.2 219.2h.7M317.0 217.5h.7M320.6 218.0h.7M317.8 215.5h.7M322.1 214.3h.7M318.8 211.2h.7M318.1 206.3h.7M319.6 223.5h.7M331.6 210.2h.7M317.6 214.9h.7M345.9 210.5h.7M332.5 215.7h.7" stroke="#8a8cbc" stroke-width="0.7" fill="none" opacity="0.4"/>
<path d="M354.5 211.2h.7M356.6 210.4h.7M343.2 219.4h.7M352.8 211.0h.7M336.1 215.5h.7M351.0 218.2h.7M346.8 218.5h.7M351.5 216.2h.7M353.6 215.6h.7M357.7 224.2h.7M346.7 213.4h.7M342.6 214.4h.7M357.8 216.1h.7M342.3 216.6h.7M340.8 222.0h.7M358.1 222.9h.7M360.6 214.3h.7M343.6 216.8h.7M352.4 219.3h.7M335.9 215.5h.7M352.9 215.6h.7M349.8 208.9h.7M336.2 219.2h.7M352.4 222.2h.7M338.7 217.3h.7M344.3 219.3h.7M354.6 214.3h.7M345.5 219.7h.7M339.0 218.8h.7M343.2 223.6h.7M348.8 218.0h.7M355.5 217.0h.7M332.9 214.4h.7M350.6 219.8h.7M351.0 220.8h.7M354.9 213.1h.7M355.3 219.0h.7M345.6 217.8h.7M344.6 228.2h.7M345.1 219.2h.7M347.1 216.6h.7M339.9 217.1h.7M357.4 221.3h.7M345.7 225.7h.7M338.4 210.7h.7M346.4 216.0h.7M354.2 225.2h.7M350.8 216.3h.7M345.0 220.0h.7M336.0 220.1h.7M339.1 215.0h.7M350.4 214.0h.7M344.9 214.7h.7M341.4 219.0h.7M347.8 215.4h.7M352.1 215.5h.7M344.6 227.0h.7M356.6 217.6h.7M351.7 217.6h.7M354.4 217.1h.7M361.5 219.8h.7M356.1 225.1h.7M353.5 218.1h.7M348.1 219.6h.7M343.6 218.8h.7M349.3 212.2h.7M363.1 215.9h.7M357.3 227.8h.7M357.0 214.0h.7M345.7 217.5h.7M347.8 221.2h.7M353.1 224.5h.7M344.5 225.6h.7M338.1 213.8h.7M361.5 223.1h.7M340.0 217.7h.7M350.7 225.7h.7M340.6 222.4h.7M346.6 216.6h.7M346.2 225.9h.7M359.7 218.7h.7M339.3 215.8h.7M346.1 223.0h.7M338.4 219.2h.7M357.4 220.6h.7M349.3 224.7h.7M349.6 221.4h.7M351.6 228.5h.7M340.5 225.8h.7M349.4 214.1h.7M349.0 217.8h.7M358.9 215.1h.7M356.3 221.9h.7M339.5 218.2h.7M346.1 228.6h.7M347.9 216.6h.7M356.0 208.6h.7M346.2 225.4h.7M359.1 210.0h.7M361.9 222.1h.7M350.0 227.0h.7M346.9 212.8h.7M360.2 212.8h.7M367.6 217.6h.7M339.7 214.4h.7M346.5 213.6h.7M341.6 218.0h.7M351.1 221.8h.7M357.5 210.0h.7M346.4 210.8h.7" stroke="#9092c0" stroke-width="0.7" fill="none" opacity="0.4"/>
<path d="M342.1 230.7h.7M349.5 230.6h.7M335.0 234.7h.7M351.8 235.3h.7M354.0 232.4h.7M350.6 230.1h.7M353.1 224.2h.7M353.0 228.7h.7M355.2 229.4h.7M335.9 234.0h.7M341.2 229.3h.7M350.4 231.2h.7M349.6 232.9h.7M351.9 228.3h.7M358.6 229.4h.7M353.3 236.9h.7M346.9 235.5h.7M360.0 234.5h.7M351.7 225.9h.7M347.9 227.6h.7M353.6 233.6h.7M349.4 225.9h.7M352.9 233.2h.7M348.9 231.1h.7M356.2 232.2h.7M358.3 237.3h.7M356.8 235.8h.7M351.3 227.7h.7M331.9 227.8h.7M345.5 228.3h.7M354.5 230.5h.7M354.9 230.0h.7M345.3 232.6h.7M342.7 224.2h.7M348.5 228.6h.7M359.5 230.6h.7M338.2 230.7h.7M356.2 234.4h.7M352.2 224.2h.7M348.9 229.7h.7M345.2 231.4h.7M345.2 228.5h.7M342.7 232.4h.7M339.2 226.6h.7M348.9 234.1h.7M351.1 232.8h.7M357.8 223.7h.7M353.9 233.7h.7M359.8 226.5h.7M368.5 229.3h.7M349.2 232.4h.7M349.9 235.7h.7M354.5 231.3h.7M341.0 232.0h.7M351.6 232.7h.7M348.6 232.5h.7M351.9 232.3h.7M353.7 223.2h.7M360.4 232.9h.7M354.7 226.2h.7M346.5 238.0h.7M351.5 231.6h.7M354.0 230.2h.7M358.6 227.6h.7M352.5 231.5h.7M347.9 229.2h.7M345.4 225.8h.7M350.7 235.5h.7M352.8 238.9h.7M343.6 226.5h.7M348.4 230.0h.7M357.8 226.4h.7M341.9 230.5h.7M339.8 231.3h.7M345.2 230.3h.7M345.8 230.7h.7M357.2 231.2h.7M356.5 226.4h.7M351.7 235.6h.7M343.1 228.4h.7M343.0 232.2h.7M345.2 223.4h.7M339.4 230.3h.7M348.6 229.2h.7M349.6 234.5h.7M345.7 234.7h.7M344.1 244.5h.7M349.3 227.2h.7M345.7 222.4h.7M354.4 235.7h.7M355.5 230.0h.7M357.7 226.0h.7M348.5 233.0h.7M352.1 227.1h.7M346.0 234.6h.7M348.2 222.6h.7M358.8 227.6h.7M352.5 234.4h.7M353.9 231.1h.7M347.9 233.1h.7" stroke="#9092c0" stroke-width="0.7" fill="none" opacity="0.4"/>
<path d="M311.1 236.5h.7M310.9 230.9h.7M313.0 245.1h.7M312.5 237.2h.7M315.9 227.5h.7M314.9 232.5h.7M312.4 245.2h.7M310.5 229.8h.7M315.5 237.6h.7M315.7 242.3h.7M320.9 243.5h.7M312.8 225.0h.7M312.9 232.2h.7M313.0 237.7h.7M311.6 235.2h.7M313.7 239.4h.7M318.2 230.9h.7M313.9 238.8h.7M308.4 243.4h.7M317.8 242.1h.7M312.4 237.5h.7M317.3 241.6h.7M313.8 240.6h.7M312.3 232.7h.7M312.8 234.3h.7M310.3 237.0h.7M313.4 226.5h.7M312.0 232.4h.7M317.6 238.3h.7M312.7 235.2h.7M316.7 225.1h.7M310.3 241.6h.7M308.4 224.9h.7M310.5 230.2h.7M313.4 229.1h.7M317.1 237.5h.7M310.3 238.8h.7M311.0 238.6h.7M310.8 245.2h.7M315.7 231.6h.7M313.9 233.4h.7M313.6 230.2h.7M309.1 230.5h.7M312.0 238.4h.7M309.8 233.4h.7M316.8 230.4h.7M313.1 228.2h.7M312.9 232.8h.7M317.4 235.8h.7M311.1 233.8h.7M317.4 241.1h.7M312.2 227.2h.7M312.8 242.9h.7M313.5 227.5h.7M314.1 234.6h.7M313.0 235.0h.7M309.9 230.8h.7M316.1 238.8h.7M309.5 225.5h.7M316.5 239.3h.7M313.4 233.1h.7M319.2 227.1h.7M311.6 239.4h.7M314.4 239.3h.7M308.2 240.6h.7M316.9 233.0h.7M316.3 234.2h.7M312.9 235.9h.7M312.3 236.6h.7M317.1 244.1h.7M315.1 239.3h.7M308.8 234.8h.7M314.5 236.6h.7M311.4 230.5h.7M316.1 239.7h.7M314.9 237.1h.7M316.7 239.4h.7M318.6 233.4h.7M316.1 240.8h.7M311.7 228.1h.7M312.7 242.4h.7M309.6 235.0h.7M311.5 235.0h.7M309.6 240.2h.7M313.0 225.0h.7M312.6 230.1h.7M312.4 232.1h.7M312.4 235.3h.7M313.6 239.5h.7M309.6 243.9h.7M319.8 237.6h.7M319.9 244.0h.7M317.4 233.4h.7M317.3 224.0h.7M318.7 238.3h.7M309.4 227.7h.7M313.7 238.0h.7M308.3 234.8h.7M312.1 232.5h.7M317.8 233.8h.7M309.6 238.3h.7M311.2 236.6h.7M315.4 238.2h.7M308.4 245.3h.7M317.2 230.3h.7M310.5 237.4h.7M310.2 234.0h.7M313.4 234.4h.7M310.9 231.9h.7M309.2 239.6h.7M323.6 233.9h.7M316.9 234.0h.7M310.8 234.5h.7M313.9 229.3h.7M313.5 222.5h.7M309.2 229.5h.7M311.2 235.0h.7M311.7 236.5h.7M311.6 238.2h.7M311.8 236.8h.7M311.0 233.3h.7M313.9 244.4h.7M313.4 235.6h.7M311.9 228.3h.7M309.4 236.5h.7M316.1 236.4h.7M309.9 235.2h.7M316.0 235.8h.7M316.4 227.0h.7M314.0 229.3h.7M314.7 238.9h.7M316.8 236.6h.7M316.0 233.4h.7M311.3 236.1h.7M313.0 228.7h.7M315.0 237.0h.7M314.6 239.6h.7M313.7 230.7h.7M313.5 235.5h.7M313.1 241.2h.7M313.8 233.7h.7M309.6 224.9h.7M319.0 234.3h.7M316.6 238.2h.7M313.2 239.0h.7M311.3 234.6h.7M312.6 238.2h.7M318.0 231.5h.7M315.2 235.4h.7M312.8 239.9h.7M309.7 230.2h.7M310.0 235.0h.7M308.8 223.2h.7M316.6 238.1h.7M316.5 243.6h.7M308.7 222.7h.7M308.9 232.1h.7M319.0 234.3h.7M312.1 238.4h.7M314.0 235.0h.7M319.9 229.5h.7M308.5 223.6h.7M308.5 229.8h.7M310.9 233.6h.7M317.8 240.7h.7M311.2 236.9h.7M310.4 234.3h.7M308.7 229.3h.7M314.4 230.1h.7M309.5 237.9h.7M309.2 244.1h.7M315.0 232.6h.7M312.3 231.9h.7M318.1 236.5h.7M313.4 230.7h.7M318.3 235.7h.7M310.4 245.1h.7M313.9 233.3h.7M316.0 232.6h.7M312.4 241.8h.7M308.8 234.7h.7M312.6 238.0h.7M309.2 229.0h.7M311.7 230.3h.7M313.3 235.1h.7M313.3 236.8h.7M309.0 233.6h.7M313.5 243.3h.7M313.8 236.0h.7M319.8 233.1h.7M317.4 239.7h.7M308.7 235.6h.7M315.5 228.8h.7M317.7 232.7h.7M314.4 234.5h.7M314.2 231.3h.7M318.2 230.9h.7M318.5 233.9h.7M309.7 240.6h.7M313.1 234.0h.7M308.6 234.1h.7M312.3 230.6h.7M308.5 229.9h.7M309.1 242.1h.7M315.6 232.7h.7M309.0 234.9h.7M314.3 232.0h.7M312.1 241.8h.7M311.8 233.2h.7M316.9 235.0h.7M312.5 229.9h.7M316.2 237.0h.7M311.6 234.9h.7M317.4 235.0h.7M312.1 236.4h.7M313.0 241.4h.7M311.7 233.0h.7M310.2 236.4h.7M308.1 232.4h.7M311.9 234.3h.7M310.7 230.3h.7M313.4 221.9h.7M309.0 245.4h.7M313.5 244.6h.7M319.2 236.4h.7M309.4 238.2h.7M309.6 236.1h.7M313.6 245.1h.7M312.1 234.6h.7M312.3 240.9h.7M310.0 233.3h.7M322.1 230.5h.7M314.6 239.1h.7M314.7 241.7h.7M311.8 244.8h.7M313.9 234.5h.7M314.5 236.5h.7M312.2 239.0h.7M310.0 238.4h.7M311.6 220.5h.7M316.4 235.1h.7M311.8 233.5h.7M314.3 233.8h.7M311.0 226.4h.7M317.2 239.4h.7M318.4 237.4h.7M313.7 230.9h.7M318.4 236.2h.7M317.6 235.9h.7M310.9 240.0h.7M316.3 221.4h.7M311.3 239.2h.7M316.5 235.9h.7M310.2 237.8h.7M311.4 219.1h.7M310.0 239.7h.7M315.8 220.9h.7M313.1 226.6h.7M316.5 224.1h.7M316.9 233.9h.7M312.6 236.5h.7M309.8 235.1h.7M323.6 236.0h.7M316.1 236.6h.7M314.0 227.2h.7M311.1 229.9h.7M318.3 242.1h.7M313.2 229.2h.7M309.0 236.2h.7M312.6 230.6h.7M313.4 230.3h.7M311.4 230.8h.7M319.4 227.6h.7M313.5 230.2h.7M310.7 241.1h.7M312.2 235.0h.7M319.5 241.0h.7M312.0 226.6h.7M313.0 229.7h.7M317.8 244.0h.7M316.8 229.3h.7M313.7 242.9h.7M309.7 235.5h.7M309.1 236.4h.7M317.6 235.0h.7M320.3 234.1h.7M315.5 245.3h.7M309.5 241.5h.7M307.8 232.2h.7M311.3 244.6h.7M308.8 243.7h.7M308.0 236.3h.7M315.7 235.9h.7M320.1 236.4h.7M308.1 234.7h.7M316.4 225.0h.7M308.7 242.1h.7M314.5 231.0h.7M310.1 238.8h.7M311.0 241.2h.7M313.6 234.3h.7M318.9 235.3h.7M308.4 232.9h.7M315.2 231.8h.7M310.5 236.0h.7M310.6 230.9h.7M311.5 233.0h.7M316.1 236.1h.7M311.0 234.3h.7M310.0 234.6h.7M309.3 243.6h.7M312.9 230.2h.7M319.3 238.3h.7M308.7 233.5h.7M311.2 229.0h.7M313.3 235.6h.7M317.5 234.4h.7M316.5 231.1h.7M317.6 236.5h.7M309.1 240.1h.7M313.8 233.2h.7M314.5 231.7h.7M312.9 237.7h.7M315.0 238.9h.7M314.2 240.4h.7M309.5 242.1h.7M309.8 243.1h.7M313.5 237.5h.7M308.1 231.4h.7M313.6 237.4h.7M312.3 234.1h.7M317.6 231.9h.7M314.8 241.2h.7M314.3 236.9h.7M317.7 230.6h.7M310.0 230.0h.7M307.9 235.4h.7M309.5 236.1h.7M314.4 231.7h.7M308.6 241.0h.7M315.9 234.8h.7M309.8 238.5h.7M313.7 241.4h.7M313.4 232.2h.7M310.1 236.7h.7M307.7 231.1h.7M315.8 240.6h.7M314.8 244.0h.7M311.8 232.2h.7M313.3 241.1h.7M317.1 228.4h.7M309.9 240.1h.7M314.0 242.4h.7M314.3 235.2h.7M311.1 238.4h.7M314.5 231.8h.7M311.8 236.2h.7M311.4 229.3h.7M314.6 226.9h.7M312.8 231.3h.7M312.9 244.1h.7M320.5 240.3h.7M312.2 229.1h.7M312.0 237.8h.7M314.0 237.8h.7M311.4 229.8h.7M313.8 230.0h.7M319.8 234.6h.7M311.1 242.7h.7M309.7 232.6h.7M315.1 227.5h.7M314.0 231.8h.7M308.6 235.8h.7M312.4 235.5h.7M314.3 230.0h.7M312.6 227.6h.7M313.9 235.0h.7M311.9 239.1h.7M311.3 232.8h.7M314.7 236.6h.7M314.8 242.7h.7M309.2 237.9h.7M317.1 236.6h.7M312.9 238.6h.7M314.7 237.2h.7M311.2 238.1h.7M310.9 236.8h.7M312.2 223.8h.7M312.3 238.1h.7M314.3 235.5h.7M309.5 227.8h.7M316.2 243.7h.7M318.9 228.9h.7M315.0 230.8h.7M311.0 239.2h.7M315.2 236.8h.7M311.8 241.2h.7M318.0 234.5h.7M311.4 237.1h.7" stroke="#7478b8" stroke-width="0.7" fill="none" opacity="0.45"/>
<path d="M310.7 237.6h.7M316.9 229.0h.7M316.0 230.8h.7M321.1 237.7h.7M319.2 239.2h.7M310.2 227.9h.7M315.0 223.8h.7M318.0 230.8h.7M321.6 224.8h.7M308.5 241.7h.7M312.1 219.0h.7M318.9 234.0h.7M313.1 226.1h.7M314.1 233.9h.7M311.1 230.8h.7M315.3 224.4h.7M319.4 231.6h.7M310.6 234.5h.7M308.0 237.5h.7M318.3 217.5h.7M312.5 233.7h.7M309.8 220.2h.7M308.6 219.0h.7M315.0 220.3h.7M313.8 227.8h.7M318.5 227.6h.7M314.9 235.1h.7M310.7 226.0h.7M315.9 229.2h.7M308.2 232.9h.7M316.1 229.2h.7M317.9 223.0h.7M317.9 222.0h.7M311.8 231.2h.7M314.0 244.8h.7M317.2 240.7h.7M310.6 239.3h.7M316.3 216.5h.7M312.8 222.2h.7M317.8 226.5h.7M320.5 241.2h.7M314.8 233.3h.7M311.5 227.0h.7M313.0 218.3h.7M318.8 231.9h.7M320.0 230.2h.7M318.6 226.8h.7M316.2 236.4h.7M311.8 223.8h.7M315.1 240.6h.7M315.8 239.9h.7M318.1 240.4h.7M317.3 239.9h.7M311.2 227.3h.7M309.4 223.9h.7M311.0 228.2h.7M310.7 227.5h.7M317.2 235.4h.7M308.7 231.2h.7M314.8 232.1h.7M315.3 223.7h.7M311.8 241.5h.7M314.5 233.2h.7M316.1 218.6h.7M314.0 239.4h.7M316.0 235.6h.7M318.1 231.9h.7M315.0 233.3h.7M311.9 227.8h.7M314.0 230.2h.7M325.3 242.2h.7M308.7 238.3h.7M311.2 229.4h.7M310.9 239.4h.7M312.4 216.3h.7M312.0 226.7h.7M314.6 239.4h.7M319.0 234.2h.7M308.1 234.7h.7" stroke="#9092c0" stroke-width="0.7" fill="none" opacity="0.4"/>
<ellipse cx="0" cy="0" rx="3.6" ry="5.2" fill="url(#gyel)" opacity="0.9" transform="translate(312.70,237.50) rotate(0)"/>
<rect x="307.70" y="209.60" width="31.50" height="14.60" fill="none" stroke="#c9a4cf" stroke-width="0.7" />
<rect x="340.30" y="209.60" width="18.90" height="14.60" fill="none" stroke="#c9a4cf" stroke-width="0.7" />
<rect x="307.70" y="224.20" width="12.30" height="21.80" fill="none" stroke="#c9a4cf" stroke-width="0.7" />
<rect x="340.30" y="224.20" width="18.90" height="15.10" fill="none" stroke="#c9a4cf" stroke-width="0.7" />
<text transform="translate(308.50,209.30) scale(0.95,1)" font-size="8.1" text-anchor="start" font-weight="normal" font-style="normal" fill="#1a1a1a" style="stroke:none">9.7</text>
<text transform="translate(370.00,219.80) scale(0.95,1)" font-size="8.1" text-anchor="end" font-weight="normal" font-style="normal" fill="#1a1a1a" style="stroke:none">5.2</text>
<text transform="translate(321.50,230.80) scale(0.95,1)" font-size="8.1" text-anchor="start" font-weight="normal" font-style="normal" fill="#1a1a1a" style="stroke:none">11.1</text>
<text transform="translate(321.50,241.60) scale(0.95,1)" font-size="8.1" text-anchor="start" font-weight="normal" font-style="normal" fill="#1a1a1a" style="stroke:none">44.3</text>
<text transform="translate(371.10,234.30) scale(0.95,1)" font-size="8.1" text-anchor="end" font-weight="normal" font-style="normal" fill="#1a1a1a" style="stroke:none">12.7</text>
<text transform="translate(338.50,186.60) scale(0.92,1)" font-size="8.6" font-style="italic" fill="#222" text-anchor="middle">Ubr5<tspan font-size="5.9" dx="0.6" dy="-3.4">WT</tspan></text>
<path d="M390.2 215.3h.7M380.7 214.7h.7M388.3 209.9h.7M382.8 218.3h.7M389.2 210.0h.7M372.6 214.1h.7M394.9 215.9h.7M381.1 209.4h.7M385.6 226.7h.7M378.1 227.4h.7M400.8 211.8h.7M380.2 220.6h.7M372.4 212.8h.7M390.3 222.3h.7M391.5 219.2h.7M387.0 218.4h.7M375.2 214.3h.7M373.6 221.9h.7M373.3 215.1h.7M395.5 219.1h.7M393.7 217.4h.7M391.0 215.0h.7M379.8 214.5h.7M378.3 208.9h.7M400.2 206.8h.7M397.7 216.0h.7M404.7 216.4h.7M386.2 221.0h.7M404.9 222.5h.7M381.4 211.7h.7M379.6 219.4h.7M374.6 221.0h.7M373.0 219.5h.7M390.8 215.7h.7M411.4 218.3h.7M394.2 224.7h.7M381.9 218.8h.7M398.3 217.4h.7M385.1 216.1h.7M396.0 217.3h.7M400.0 211.9h.7M387.4 221.6h.7M374.2 220.5h.7M385.8 221.1h.7M380.4 216.9h.7M372.8 220.2h.7M384.4 217.0h.7M380.2 221.8h.7M388.9 221.4h.7M378.9 215.4h.7M396.2 225.4h.7M407.7 220.9h.7M398.3 220.2h.7M377.9 215.7h.7M373.2 210.4h.7M386.3 218.4h.7M394.2 225.8h.7M374.2 212.6h.7M381.0 219.5h.7M383.0 211.6h.7M392.9 215.6h.7M379.3 222.7h.7M397.1 214.2h.7M388.9 214.9h.7M382.1 213.9h.7M384.9 213.5h.7M390.9 220.3h.7M385.2 210.0h.7M396.6 214.6h.7M404.5 220.3h.7M387.2 224.2h.7M377.0 217.3h.7M394.8 217.6h.7M387.7 212.0h.7M401.2 211.5h.7M397.9 217.1h.7M384.5 216.7h.7M391.7 215.1h.7M380.8 215.3h.7M379.6 220.4h.7M386.3 219.7h.7M380.8 211.5h.7M411.3 222.9h.7M393.4 219.0h.7M385.9 221.2h.7M398.3 220.5h.7M382.3 214.6h.7M381.1 220.9h.7M400.9 211.9h.7M384.0 217.2h.7M376.3 223.5h.7M378.7 218.8h.7M386.0 216.0h.7M378.7 211.5h.7M395.7 220.0h.7M392.6 214.2h.7M378.8 216.2h.7M378.4 215.5h.7M375.1 225.5h.7M375.0 201.6h.7M382.1 221.3h.7M374.5 223.8h.7M377.7 222.0h.7M393.3 222.0h.7M385.1 226.9h.7M379.5 215.3h.7M381.3 209.1h.7M375.1 214.5h.7M399.8 223.5h.7M378.6 212.0h.7M382.2 224.2h.7M379.1 216.3h.7M405.0 216.6h.7M379.5 209.2h.7M384.5 212.8h.7M408.7 214.3h.7M382.7 212.8h.7M384.7 217.0h.7M402.3 211.6h.7M378.5 214.2h.7M388.5 216.1h.7M381.6 219.0h.7M380.5 214.4h.7M383.6 218.2h.7M406.7 217.7h.7M377.2 218.0h.7M392.4 217.4h.7M409.1 217.0h.7M396.2 218.2h.7M374.9 218.0h.7M390.3 223.4h.7M394.8 219.1h.7M394.4 219.2h.7M388.4 218.1h.7M390.6 213.6h.7M387.2 208.8h.7M388.4 216.0h.7M378.6 212.5h.7M378.7 216.1h.7M376.5 217.1h.7M393.5 223.2h.7M395.2 211.3h.7M398.0 217.3h.7M388.3 214.6h.7M372.6 216.8h.7M379.0 216.1h.7M403.3 217.7h.7M394.6 222.3h.7M372.0 215.9h.7M408.4 224.9h.7M387.5 207.9h.7M394.2 223.6h.7M376.6 221.8h.7M384.5 212.6h.7M398.0 215.4h.7M372.3 218.5h.7M400.1 224.8h.7M377.5 225.2h.7M391.0 218.8h.7M381.5 215.2h.7M381.6 218.1h.7M385.2 209.7h.7M385.7 214.8h.7M400.4 218.7h.7M401.6 220.5h.7M393.9 211.0h.7M393.4 212.3h.7M386.9 218.5h.7M383.5 210.6h.7M379.7 213.0h.7M383.9 218.7h.7M403.9 214.7h.7M410.9 209.1h.7M382.4 218.0h.7M376.2 217.2h.7M374.4 222.1h.7M387.8 228.9h.7M389.7 220.6h.7M391.3 214.1h.7M386.5 213.4h.7M378.3 219.7h.7M388.2 225.4h.7M409.0 213.3h.7M389.0 217.9h.7M372.5 219.7h.7M402.9 216.5h.7M387.1 221.5h.7M397.0 218.8h.7M387.9 213.1h.7M392.7 222.1h.7M399.2 213.1h.7M396.0 220.0h.7M390.2 225.2h.7M378.4 219.4h.7M393.8 214.4h.7M383.5 222.3h.7M382.4 213.7h.7M380.6 213.6h.7M394.0 212.0h.7M385.9 211.2h.7M384.6 212.8h.7M393.5 220.4h.7M387.0 217.7h.7M389.3 211.6h.7M372.3 217.9h.7M392.5 217.9h.7M387.2 215.7h.7M395.9 213.1h.7M407.2 215.2h.7M380.1 219.3h.7M372.1 220.1h.7M372.3 218.7h.7M404.4 216.6h.7M374.6 217.2h.7M400.7 216.5h.7M383.4 216.2h.7M388.6 224.8h.7M387.3 224.1h.7M385.1 222.9h.7M388.2 215.9h.7M394.3 212.4h.7M388.1 220.9h.7M372.3 214.5h.7M389.5 218.5h.7M389.5 223.3h.7M373.9 221.4h.7M386.4 212.7h.7M383.1 215.7h.7M376.6 212.9h.7M389.1 223.6h.7M405.0 226.2h.7M384.4 214.3h.7M386.3 210.8h.7M376.7 221.8h.7M388.8 210.2h.7M393.0 228.4h.7M396.8 214.4h.7M416.2 210.7h.7M384.2 219.4h.7M388.2 222.2h.7M392.3 219.6h.7M387.6 216.1h.7M380.0 214.0h.7M385.9 213.6h.7M380.9 217.4h.7M407.7 217.9h.7M382.2 219.8h.7M396.6 215.3h.7M382.5 216.4h.7M396.1 209.6h.7M394.0 215.3h.7M392.8 217.8h.7M380.5 212.4h.7M377.1 222.2h.7M390.4 223.0h.7M383.0 218.2h.7M388.8 214.2h.7M393.1 209.8h.7M377.7 218.9h.7M389.3 219.4h.7M384.6 212.9h.7M379.0 215.3h.7M387.2 219.7h.7M388.6 212.2h.7M399.5 224.5h.7M391.9 219.7h.7M394.9 221.8h.7M388.2 215.9h.7M401.7 213.8h.7M392.9 212.9h.7M383.7 217.8h.7M386.2 226.1h.7M383.1 226.4h.7M399.1 208.2h.7M394.5 220.6h.7M392.1 213.6h.7M387.9 217.9h.7M375.4 215.8h.7M389.6 220.4h.7M383.7 214.9h.7" stroke="#8a8cbc" stroke-width="0.7" fill="none" opacity="0.4"/>
<path d="M417.0 208.1h.7M410.6 219.3h.7M408.5 216.2h.7M422.5 222.8h.7M408.6 216.6h.7M414.0 226.0h.7M419.4 215.7h.7M409.6 216.2h.7M404.8 219.4h.7M410.6 224.4h.7M411.8 217.6h.7M419.1 221.5h.7M419.1 223.0h.7M405.6 214.1h.7M421.0 213.5h.7M414.3 215.5h.7M425.1 209.7h.7M402.8 212.9h.7M406.7 216.3h.7M418.1 222.8h.7M411.0 209.3h.7M420.4 214.3h.7M420.2 216.4h.7M421.1 218.6h.7M402.1 215.8h.7M414.0 219.1h.7M413.0 214.8h.7M419.2 212.8h.7M419.4 222.6h.7M414.5 214.5h.7M416.1 217.5h.7M419.4 223.4h.7M409.6 211.9h.7M418.0 216.4h.7M422.1 219.8h.7M409.6 222.0h.7M402.3 224.3h.7M411.4 225.5h.7M408.6 216.3h.7M418.4 216.0h.7M412.4 221.1h.7M410.5 210.7h.7M411.5 219.9h.7M408.6 215.4h.7M404.1 215.7h.7M415.9 218.0h.7M419.7 208.9h.7M418.0 219.9h.7M402.0 222.2h.7M407.5 229.7h.7M426.6 223.9h.7M422.7 220.4h.7M424.8 216.6h.7M419.4 215.6h.7M428.3 215.0h.7M412.0 226.5h.7M418.0 216.3h.7M404.5 223.4h.7M399.8 213.0h.7M406.8 220.2h.7M416.6 221.5h.7M417.6 215.2h.7M423.8 212.5h.7M408.4 216.2h.7M417.3 218.0h.7M422.1 206.9h.7M419.3 217.1h.7M420.8 215.9h.7M403.5 226.1h.7M418.3 211.2h.7M413.1 220.3h.7M416.0 221.6h.7M417.0 224.1h.7M411.9 221.2h.7M418.6 214.7h.7M414.8 218.0h.7M412.2 217.6h.7M412.3 217.6h.7M404.3 219.3h.7M409.1 217.1h.7M423.7 206.6h.7M420.1 207.3h.7M420.4 217.2h.7M406.8 216.6h.7M414.8 215.0h.7M414.9 223.4h.7M393.2 213.8h.7M413.5 218.4h.7M402.9 224.6h.7M420.8 221.4h.7M403.0 212.4h.7M409.3 224.0h.7M431.7 214.1h.7M408.0 216.2h.7M407.2 211.4h.7M409.3 211.2h.7M405.5 223.3h.7M410.8 220.9h.7M421.0 221.7h.7M416.5 221.6h.7M411.8 222.6h.7M397.4 224.8h.7M405.1 217.0h.7M406.7 221.7h.7M417.1 212.4h.7M407.3 217.6h.7M415.7 221.2h.7M418.6 220.2h.7M420.8 219.3h.7M410.7 216.9h.7" stroke="#9092c0" stroke-width="0.7" fill="none" opacity="0.4"/>
<path d="M414.0 226.6h.7M409.3 228.0h.7M416.3 225.2h.7M419.3 234.5h.7M412.9 237.6h.7M410.9 233.1h.7M430.9 233.5h.7M417.1 233.1h.7M415.6 230.5h.7M408.4 233.3h.7M409.4 224.7h.7M419.0 230.4h.7M417.4 232.4h.7M418.5 231.1h.7M404.5 225.2h.7M417.6 232.8h.7M419.9 227.6h.7M411.9 231.9h.7M417.7 232.0h.7M412.3 230.1h.7M402.7 230.9h.7M418.7 231.0h.7M406.8 233.8h.7M413.0 225.0h.7M408.8 232.5h.7M409.1 227.8h.7M420.4 228.9h.7M406.2 228.0h.7M406.9 231.5h.7M409.6 226.4h.7M418.9 231.0h.7M397.6 231.4h.7M416.8 226.3h.7M412.5 233.4h.7M408.3 233.1h.7M409.6 232.3h.7M406.0 231.6h.7M420.9 234.5h.7M412.8 228.4h.7M413.8 232.1h.7M404.9 232.1h.7M407.0 233.8h.7M412.4 230.3h.7M420.5 232.6h.7M422.2 228.1h.7M409.4 232.0h.7M419.6 235.2h.7M414.3 227.0h.7M418.0 232.6h.7M411.1 224.4h.7M403.6 235.9h.7M412.8 231.6h.7M417.3 239.1h.7M413.1 229.4h.7M412.4 234.9h.7M412.5 231.1h.7M420.3 228.7h.7M413.7 232.0h.7M401.2 227.0h.7M411.5 223.2h.7M420.0 226.8h.7M418.6 232.2h.7M408.4 229.0h.7M414.3 232.5h.7M419.7 226.6h.7M411.8 235.3h.7M416.1 229.4h.7M410.8 228.9h.7M422.7 227.0h.7M419.4 229.7h.7M408.5 230.8h.7M405.0 239.0h.7M432.7 228.6h.7M419.6 228.5h.7M406.8 223.6h.7M401.6 234.8h.7M415.2 227.9h.7M408.0 235.7h.7M416.2 233.6h.7M414.8 232.8h.7M431.3 223.4h.7M416.8 226.7h.7M413.6 224.9h.7M407.0 232.7h.7M416.9 233.1h.7M410.7 234.1h.7M411.4 228.5h.7M414.7 239.1h.7M416.6 221.9h.7M414.5 228.4h.7M402.5 231.6h.7M415.3 228.3h.7M405.8 231.6h.7M418.3 231.2h.7M413.3 225.1h.7M406.4 232.7h.7M408.4 230.4h.7M422.3 234.4h.7M414.7 226.8h.7M415.2 223.6h.7" stroke="#9092c0" stroke-width="0.7" fill="none" opacity="0.4"/>
<path d="M374.6 225.8h.7M377.7 235.6h.7M380.3 233.7h.7M377.8 226.3h.7M380.5 240.6h.7M381.5 241.2h.7M375.1 240.9h.7M375.0 232.1h.7M376.7 232.2h.7M378.3 228.3h.7M377.3 227.7h.7M382.0 235.2h.7M372.4 237.8h.7M374.3 234.0h.7M380.4 221.8h.7M375.2 229.4h.7M372.6 241.7h.7M372.0 224.4h.7M376.7 230.1h.7M376.6 237.8h.7M377.5 229.8h.7M375.9 237.2h.7M377.1 227.2h.7M374.7 233.4h.7M374.7 228.9h.7M380.8 234.5h.7M374.6 232.1h.7M375.6 233.2h.7M377.6 242.6h.7M374.0 232.6h.7M375.0 238.7h.7M378.1 244.9h.7M376.2 238.6h.7M374.0 240.3h.7M380.1 235.6h.7M376.1 229.5h.7M374.9 238.6h.7M379.0 241.6h.7M375.8 233.8h.7M374.7 236.5h.7M374.3 232.7h.7M373.8 226.9h.7M374.0 239.3h.7M378.9 238.0h.7M372.3 228.5h.7M379.6 233.1h.7M371.9 233.8h.7M375.2 241.0h.7M376.1 229.2h.7M372.8 239.0h.7M379.7 240.5h.7M376.2 239.5h.7M372.9 234.9h.7M375.1 230.5h.7M379.1 235.5h.7M381.2 236.4h.7M375.7 230.5h.7M374.3 239.3h.7M378.6 232.3h.7M373.3 233.4h.7M380.5 243.2h.7M383.0 229.0h.7M376.7 238.9h.7M377.4 233.3h.7M376.0 232.6h.7M376.5 234.1h.7M382.6 242.3h.7M373.1 235.4h.7M382.7 234.2h.7M377.6 245.3h.7M373.9 240.4h.7M375.9 240.0h.7M375.9 240.5h.7M373.6 241.3h.7M378.7 227.6h.7M382.7 231.2h.7M376.3 234.8h.7M373.0 242.5h.7M378.4 225.0h.7M379.9 235.3h.7M377.0 235.8h.7M377.2 233.5h.7M373.1 236.0h.7M381.2 239.7h.7M377.4 231.9h.7M376.2 235.8h.7M376.3 240.9h.7M378.0 230.5h.7M376.4 234.8h.7M379.8 238.3h.7M375.6 233.5h.7M383.2 239.1h.7M377.2 237.9h.7M378.0 237.2h.7M375.8 243.7h.7M375.3 231.9h.7M373.8 235.5h.7M375.4 234.6h.7M376.7 235.9h.7M378.9 234.1h.7M374.7 234.7h.7M374.3 237.6h.7M373.1 227.9h.7M381.9 222.6h.7M372.7 238.1h.7M375.1 240.0h.7M382.1 239.4h.7M374.8 243.3h.7M373.9 236.1h.7M376.5 236.2h.7M382.9 243.6h.7M379.8 239.0h.7M376.4 234.6h.7M378.9 234.3h.7M380.3 234.5h.7M372.8 231.8h.7M380.2 239.8h.7M376.8 225.4h.7M376.3 227.0h.7M379.2 240.4h.7M375.8 235.9h.7M377.0 233.2h.7M374.3 234.1h.7M372.8 229.3h.7M373.4 231.2h.7M377.7 234.4h.7M375.1 238.9h.7M374.0 232.6h.7M379.0 233.9h.7M376.1 229.8h.7M372.9 243.0h.7M380.0 243.7h.7M383.5 242.0h.7M377.3 235.0h.7M378.0 231.5h.7M378.2 228.5h.7M376.9 245.2h.7M375.2 237.7h.7M380.0 228.3h.7M376.9 242.3h.7M375.5 230.7h.7M376.6 243.3h.7M378.2 235.2h.7M376.8 242.9h.7M387.4 234.2h.7M381.7 236.5h.7M378.3 239.1h.7M379.4 241.3h.7M385.6 235.4h.7M376.3 233.8h.7M379.0 233.2h.7M378.6 235.6h.7M380.1 231.8h.7M374.6 235.6h.7M380.5 243.3h.7M374.9 241.7h.7M377.8 231.7h.7M372.2 244.4h.7M374.5 230.4h.7M382.5 237.0h.7M374.6 238.3h.7M375.4 238.1h.7M380.1 227.0h.7M381.8 234.1h.7M378.7 241.3h.7M376.9 236.0h.7M375.7 238.9h.7M378.1 240.2h.7M375.9 234.5h.7M379.2 231.3h.7M377.5 238.5h.7M373.7 235.1h.7M375.2 236.0h.7M374.3 241.6h.7M380.3 239.6h.7M379.2 229.3h.7M380.1 242.1h.7M378.4 237.7h.7M381.0 236.4h.7M378.0 240.4h.7M382.0 244.8h.7M379.9 243.1h.7M378.1 229.9h.7M374.1 233.3h.7M379.0 227.7h.7M381.5 240.4h.7M379.3 241.3h.7M378.4 242.3h.7M373.7 227.9h.7M376.3 237.8h.7M372.3 233.3h.7M377.3 227.5h.7M384.8 231.3h.7M376.4 225.1h.7M378.5 239.7h.7M375.7 228.3h.7M380.6 228.1h.7M375.8 239.2h.7M375.9 233.6h.7M374.1 236.2h.7M372.8 241.1h.7M373.7 229.8h.7M383.5 240.7h.7M374.7 223.4h.7M373.1 230.4h.7M381.1 229.6h.7M376.2 234.7h.7M382.1 237.4h.7M378.7 231.1h.7M377.7 242.3h.7M379.9 227.5h.7M378.4 238.9h.7M374.9 238.1h.7M375.2 237.7h.7M377.3 235.1h.7M373.9 238.9h.7M379.1 237.0h.7M383.5 235.2h.7M382.4 229.5h.7M376.1 228.3h.7M376.9 229.5h.7M378.4 232.0h.7M373.3 241.0h.7M379.3 235.2h.7M379.7 228.8h.7M379.3 233.6h.7M373.1 225.2h.7M380.7 229.8h.7M379.4 228.8h.7M374.7 234.7h.7M377.7 235.4h.7M376.0 240.2h.7M378.0 232.8h.7M377.0 232.1h.7M380.0 241.6h.7M381.5 239.7h.7M374.4 243.9h.7M384.7 238.6h.7M371.8 226.1h.7M376.8 233.9h.7M376.7 230.1h.7M375.2 231.2h.7M381.2 239.8h.7M379.1 237.6h.7M378.8 237.1h.7M376.8 231.3h.7M379.5 235.6h.7M378.5 226.7h.7M373.9 229.6h.7M380.9 244.7h.7M380.5 232.5h.7M377.4 238.3h.7M375.7 240.4h.7M375.9 235.7h.7M378.3 225.9h.7M376.5 237.4h.7M381.8 229.6h.7M377.0 231.9h.7M381.5 233.6h.7M386.2 239.4h.7M376.1 232.4h.7M380.3 230.9h.7M376.3 234.9h.7M379.0 236.3h.7M380.9 239.4h.7M380.7 244.0h.7M384.6 227.7h.7M378.0 241.3h.7M377.6 230.8h.7M379.6 233.9h.7M375.0 232.7h.7M376.3 231.2h.7M372.0 240.5h.7M377.7 233.1h.7M377.9 239.7h.7M377.4 227.1h.7M375.5 225.3h.7M377.2 243.0h.7M380.0 236.2h.7M374.7 233.2h.7M377.5 232.0h.7M372.0 239.2h.7M377.7 244.7h.7M375.9 237.1h.7M380.7 241.4h.7M379.1 227.9h.7M380.1 229.3h.7M378.0 224.7h.7M373.3 231.8h.7M378.1 239.7h.7M378.2 237.5h.7M374.6 239.1h.7M377.9 232.6h.7M374.9 233.9h.7M379.0 237.7h.7M376.9 236.7h.7M382.9 237.7h.7M381.3 227.0h.7M377.5 236.6h.7M378.9 231.5h.7M373.8 243.7h.7M373.8 235.0h.7M377.8 238.4h.7M375.1 223.3h.7M379.1 237.0h.7M374.2 235.3h.7M372.8 236.5h.7M376.7 239.0h.7M379.5 241.7h.7M378.4 228.8h.7M379.1 216.0h.7M375.6 242.6h.7M373.7 230.8h.7M375.7 238.5h.7M377.9 240.0h.7M384.5 245.3h.7M372.8 238.1h.7M373.8 238.9h.7M376.5 223.9h.7M380.7 235.9h.7M374.8 237.8h.7M373.9 236.7h.7M374.0 242.8h.7M376.3 238.8h.7M377.9 225.8h.7M375.5 228.1h.7M378.6 242.3h.7M379.8 226.9h.7M372.8 231.4h.7M377.3 237.8h.7M377.2 235.1h.7M376.7 242.1h.7M375.2 227.2h.7M382.0 225.7h.7M376.5 240.5h.7M379.0 239.7h.7M383.7 245.2h.7M373.3 232.8h.7M383.8 240.7h.7M377.6 240.6h.7M379.5 241.6h.7M375.9 243.6h.7M376.3 231.8h.7M379.6 241.3h.7M373.8 239.8h.7M375.4 238.7h.7M380.7 242.7h.7M373.4 229.2h.7M374.2 230.5h.7M373.1 234.6h.7M376.6 241.8h.7M380.2 235.3h.7M377.4 233.1h.7M374.6 233.2h.7M377.1 241.1h.7M372.9 241.2h.7M374.7 238.8h.7M380.6 230.7h.7M376.1 228.8h.7M374.7 221.4h.7M376.3 220.2h.7M375.1 240.1h.7M381.6 228.4h.7M379.6 231.9h.7M377.4 239.5h.7M378.2 240.5h.7M373.9 238.9h.7M375.9 236.4h.7M374.6 242.0h.7M380.5 238.3h.7M380.9 231.1h.7M383.2 232.0h.7M376.1 236.0h.7M380.9 238.9h.7M378.5 231.5h.7M380.7 243.4h.7M373.1 234.4h.7M379.8 241.5h.7M372.0 231.8h.7M377.9 234.6h.7M378.3 231.4h.7M374.1 238.8h.7M378.1 229.9h.7M380.3 238.9h.7M377.2 236.9h.7M380.0 237.8h.7M376.7 236.1h.7" stroke="#7478b8" stroke-width="0.7" fill="none" opacity="0.45"/>
<path d="M375.4 223.7h.7M379.0 233.6h.7M378.3 219.2h.7M376.1 237.1h.7M374.1 230.7h.7M379.4 244.9h.7M379.2 229.3h.7M377.0 237.0h.7M377.5 238.2h.7M374.2 235.3h.7M375.3 226.3h.7M376.4 241.3h.7M377.4 234.5h.7M377.1 232.5h.7M376.2 229.5h.7M374.2 226.9h.7M373.4 237.5h.7M376.2 234.7h.7M378.0 236.2h.7M377.7 239.8h.7M381.2 239.5h.7M378.3 242.2h.7M375.2 222.1h.7M376.4 216.4h.7M374.2 234.0h.7M382.7 235.6h.7M374.6 237.5h.7M379.0 234.8h.7M380.3 225.6h.7M381.2 217.8h.7M376.8 238.4h.7M379.0 227.7h.7M372.7 234.0h.7M384.5 227.3h.7M382.4 225.8h.7M377.0 234.8h.7M385.8 234.8h.7M379.6 230.3h.7M379.9 230.7h.7M378.2 238.5h.7M386.3 231.4h.7M374.0 240.3h.7M380.0 217.5h.7M379.8 226.9h.7M377.3 242.7h.7M381.8 227.0h.7M378.6 227.7h.7M378.3 222.9h.7M374.5 219.2h.7M372.3 236.0h.7M379.8 214.7h.7M380.6 231.3h.7M374.5 221.8h.7M378.6 226.6h.7M373.8 233.4h.7M378.9 218.6h.7M378.7 232.2h.7M380.2 241.4h.7M377.4 223.8h.7M381.5 237.7h.7M373.6 225.7h.7M376.3 240.2h.7M372.1 241.6h.7M374.0 230.0h.7M375.7 245.2h.7M382.6 216.8h.7M378.6 237.7h.7M378.9 235.4h.7M372.0 241.4h.7M381.4 225.9h.7M379.2 238.9h.7M378.8 237.7h.7M372.6 227.2h.7M378.3 238.4h.7M381.3 224.3h.7M374.0 227.3h.7M382.6 233.2h.7M382.3 228.5h.7M377.8 232.7h.7" stroke="#9092c0" stroke-width="0.7" fill="none" opacity="0.4"/>
<ellipse cx="0" cy="0" rx="3.6" ry="5.2" fill="url(#gyel)" opacity="0.9" transform="translate(376.60,237.50) rotate(0)"/>
<rect x="371.60" y="209.60" width="31.50" height="14.60" fill="none" stroke="#c9a4cf" stroke-width="0.7" />
<rect x="404.20" y="209.60" width="18.90" height="14.60" fill="none" stroke="#c9a4cf" stroke-width="0.7" />
<rect x="371.60" y="224.20" width="12.30" height="21.80" fill="none" stroke="#c9a4cf" stroke-width="0.7" />
<rect x="404.20" y="224.20" width="18.90" height="15.10" fill="none" stroke="#c9a4cf" stroke-width="0.7" />
<text transform="translate(372.40,209.30) scale(0.95,1)" font-size="8.1" text-anchor="start" font-weight="normal" font-style="normal" fill="#1a1a1a" style="stroke:none">12.5</text>
<text transform="translate(434.60,219.80) scale(0.95,1)" font-size="8.1" text-anchor="end" font-weight="normal" font-style="normal" fill="#1a1a1a" style="stroke:none">3.6</text>
<text transform="translate(385.40,230.80) scale(0.95,1)" font-size="8.1" text-anchor="start" font-weight="normal" font-style="normal" fill="#1a1a1a" style="stroke:none">11.6</text>
<text transform="translate(385.40,241.60) scale(0.95,1)" font-size="8.1" text-anchor="start" font-weight="normal" font-style="normal" fill="#1a1a1a" style="stroke:none">50.9</text>
<text transform="translate(434.60,234.30) scale(0.95,1)" font-size="8.1" text-anchor="end" font-weight="normal" font-style="normal" fill="#1a1a1a" style="stroke:none">5.8</text>
<text transform="translate(400.40,186.60) scale(0.92,1)" font-size="8.6" font-style="italic" fill="#222" text-anchor="middle">Ubr5<tspan font-size="5.9" dx="0.6" dy="-3.4">&#916;HECT/WT</tspan></text>
<path d="M453.8 214.2h.7M439.6 220.1h.7M448.7 213.7h.7M443.3 207.9h.7M442.6 217.9h.7M444.4 208.6h.7M443.6 207.5h.7M457.3 205.9h.7M452.4 223.7h.7M453.7 219.2h.7M439.3 226.1h.7M450.0 220.7h.7M477.8 211.3h.7M452.8 212.8h.7M454.0 215.5h.7M456.0 217.1h.7M448.6 219.9h.7M459.3 213.2h.7M459.3 212.8h.7M446.1 219.9h.7M462.9 218.5h.7M477.8 213.4h.7M456.5 216.2h.7M454.5 218.4h.7M453.5 218.8h.7M451.4 209.9h.7M455.6 216.9h.7M447.2 209.4h.7M454.2 218.6h.7M469.9 216.0h.7M458.2 218.2h.7M449.1 214.7h.7M447.2 218.0h.7M462.1 219.8h.7M461.8 217.1h.7M463.8 219.5h.7M457.0 220.5h.7M466.6 215.8h.7M445.7 211.6h.7M456.9 223.5h.7M456.7 216.6h.7M457.3 213.5h.7M456.8 223.3h.7M456.0 214.8h.7M456.2 222.0h.7M455.7 222.1h.7M454.7 216.9h.7M446.4 218.3h.7M459.1 222.2h.7M463.1 215.4h.7M437.9 214.5h.7M468.9 207.9h.7M449.3 219.4h.7M464.2 213.9h.7M456.6 215.3h.7M453.6 214.8h.7M455.8 218.7h.7M445.7 220.6h.7M439.5 208.1h.7M440.5 219.5h.7M444.1 219.3h.7M452.3 217.5h.7M451.8 224.2h.7M457.0 210.5h.7M442.8 218.7h.7M455.2 220.1h.7M465.7 216.9h.7M442.2 220.2h.7M444.1 217.2h.7M443.2 219.4h.7M469.3 211.4h.7M449.8 221.8h.7M456.7 227.9h.7M459.9 220.9h.7M463.5 217.4h.7M450.8 217.2h.7M459.2 221.3h.7M444.0 217.6h.7M460.7 218.3h.7M449.7 218.7h.7M446.7 215.1h.7M437.0 215.6h.7M464.1 217.5h.7M438.6 209.8h.7M445.4 209.0h.7M448.7 214.3h.7M458.9 210.0h.7M473.2 220.0h.7M444.6 221.4h.7M454.2 214.4h.7M450.7 217.0h.7M476.8 219.5h.7M454.4 221.7h.7M469.3 224.2h.7M450.9 222.0h.7M452.7 223.0h.7M448.9 211.3h.7M445.0 215.0h.7M454.3 216.7h.7M459.8 222.8h.7M471.5 215.5h.7M453.0 227.8h.7M439.9 218.6h.7M444.1 212.0h.7M468.0 210.4h.7M443.9 225.7h.7M446.3 223.3h.7M460.2 222.4h.7M442.3 230.8h.7M447.4 213.2h.7M457.2 216.5h.7M452.1 210.5h.7M463.4 217.5h.7M483.3 229.5h.7M463.9 220.7h.7M447.4 216.4h.7M464.4 214.6h.7M446.6 214.6h.7M457.4 220.3h.7M458.9 217.7h.7M442.5 217.1h.7M452.8 214.5h.7M455.7 222.3h.7M449.1 213.4h.7M453.8 219.2h.7M446.0 220.3h.7M454.6 213.8h.7M443.5 223.3h.7M453.1 218.2h.7M474.2 215.3h.7M449.1 220.4h.7M445.7 217.8h.7M457.1 207.9h.7M450.0 212.6h.7M465.0 208.1h.7M458.4 223.1h.7M466.1 228.6h.7M455.3 212.6h.7M451.9 213.3h.7M463.5 219.1h.7M462.2 219.3h.7M460.3 212.3h.7M451.7 220.1h.7M441.3 215.1h.7M457.4 215.4h.7M441.8 218.0h.7M447.8 219.0h.7M443.1 220.8h.7M455.4 220.7h.7M443.2 217.5h.7M464.2 218.2h.7M449.6 218.9h.7M438.7 218.0h.7M442.7 222.9h.7M450.0 215.8h.7M464.0 218.7h.7M442.3 213.5h.7M453.6 221.1h.7M450.4 212.6h.7M445.3 216.4h.7M444.5 213.3h.7M469.2 217.1h.7M462.0 204.5h.7M467.0 214.5h.7M444.7 217.7h.7M449.4 212.5h.7M450.2 219.0h.7M440.0 212.6h.7M453.1 214.4h.7M456.4 223.2h.7M466.7 223.8h.7M465.1 214.2h.7M451.5 222.8h.7M453.3 212.9h.7M444.4 212.1h.7M466.9 212.8h.7M446.3 212.1h.7M462.9 213.1h.7M449.2 213.4h.7M462.4 220.6h.7M457.0 228.7h.7M456.2 226.4h.7M449.1 219.5h.7M444.6 215.1h.7M466.3 216.8h.7M459.3 219.3h.7M461.3 220.4h.7M443.8 216.3h.7M447.3 212.7h.7M458.8 210.9h.7M451.4 225.5h.7M459.6 217.6h.7M476.6 219.0h.7M456.8 216.9h.7M454.1 216.5h.7M447.0 209.4h.7M436.7 223.3h.7M453.6 211.7h.7M451.3 219.6h.7M463.5 219.6h.7M446.0 216.5h.7M448.4 216.7h.7M447.6 223.3h.7M459.5 221.5h.7M466.2 223.9h.7M458.0 227.1h.7M474.9 211.3h.7M449.4 223.7h.7M476.6 222.1h.7M451.4 215.8h.7M455.4 218.6h.7M438.8 225.7h.7M454.6 213.1h.7M452.9 216.4h.7M442.9 215.8h.7M472.4 221.6h.7M443.5 212.2h.7M460.3 220.7h.7M462.6 213.5h.7M445.2 213.2h.7M451.4 217.5h.7M453.7 219.8h.7M455.2 217.8h.7M453.6 202.2h.7M446.3 209.0h.7M457.3 225.5h.7M438.0 223.0h.7M453.0 220.8h.7M445.4 216.5h.7M451.5 224.2h.7M459.4 204.5h.7M447.2 213.5h.7M439.4 218.2h.7M441.6 217.7h.7M461.1 217.7h.7M450.9 217.1h.7M447.8 217.8h.7M450.1 226.3h.7M456.7 215.9h.7M442.6 214.3h.7M460.3 218.2h.7M442.1 216.0h.7M449.1 216.3h.7M442.0 213.0h.7M457.2 222.4h.7M471.7 213.2h.7M443.4 213.3h.7M452.4 212.1h.7M449.8 212.8h.7M437.1 214.5h.7M440.7 213.9h.7M445.5 219.8h.7M446.3 213.0h.7M443.3 218.6h.7M448.9 223.1h.7M457.1 214.9h.7M445.1 212.5h.7M442.8 212.0h.7M451.2 217.4h.7M444.5 221.1h.7M436.7 209.5h.7M444.4 211.5h.7M441.9 223.5h.7M466.7 223.8h.7M441.4 217.3h.7M447.9 211.7h.7M457.5 216.9h.7M464.8 219.4h.7M453.5 220.2h.7M464.7 216.9h.7M449.9 221.1h.7M453.6 220.4h.7M470.5 226.2h.7M451.5 212.8h.7M473.5 224.7h.7M455.8 215.7h.7M461.0 212.8h.7M463.1 216.5h.7M451.2 217.2h.7M445.8 215.5h.7M457.6 214.8h.7M459.1 214.3h.7M457.9 210.3h.7M464.4 214.6h.7M447.4 219.7h.7M452.8 219.1h.7M449.7 220.7h.7M452.9 216.5h.7M440.5 216.9h.7M460.8 222.8h.7M456.8 224.2h.7" stroke="#8a8cbc" stroke-width="0.7" fill="none" opacity="0.4"/>
<path d="M485.4 227.0h.7M477.2 220.1h.7M481.2 220.7h.7M482.5 221.2h.7M485.1 217.1h.7M469.2 223.2h.7M481.1 219.0h.7M482.7 214.8h.7M480.4 220.8h.7M477.6 204.2h.7M469.5 222.7h.7M473.8 218.8h.7M475.9 222.2h.7M478.4 226.9h.7M484.2 220.7h.7M478.2 216.7h.7M487.8 216.4h.7M475.8 215.3h.7M482.3 227.2h.7M479.6 217.9h.7M480.3 215.0h.7M486.8 221.1h.7M489.5 223.4h.7M481.6 214.6h.7M483.6 222.7h.7M478.4 216.6h.7M477.4 215.5h.7M475.4 220.1h.7M486.0 221.0h.7M473.7 228.5h.7M487.7 213.4h.7M468.3 217.5h.7M474.5 222.9h.7M471.4 216.5h.7M465.5 221.3h.7M489.8 217.4h.7M482.2 214.7h.7M482.8 219.6h.7M466.5 218.0h.7M476.8 207.0h.7M479.5 213.9h.7M486.0 220.0h.7M471.6 226.9h.7M485.6 214.5h.7M480.1 210.0h.7M470.9 217.3h.7M490.4 215.4h.7M459.8 211.6h.7M485.5 224.9h.7M472.5 216.6h.7M484.9 222.7h.7M481.4 215.7h.7M495.0 209.2h.7M481.5 224.0h.7M472.1 218.4h.7M482.4 220.7h.7M490.9 214.6h.7M486.2 216.2h.7M475.9 218.0h.7M470.1 220.9h.7" stroke="#9092c0" stroke-width="0.7" fill="none" opacity="0.4"/>
<path d="M480.6 230.9h.7M477.4 230.0h.7M482.4 230.5h.7M475.5 225.7h.7M480.2 235.3h.7M475.1 232.2h.7M476.7 231.9h.7M474.2 220.7h.7M472.5 230.0h.7M475.1 230.8h.7M477.8 224.9h.7M483.0 233.4h.7M485.1 235.3h.7M490.5 231.8h.7M488.9 234.0h.7M481.0 235.6h.7M475.0 221.8h.7M480.8 229.4h.7M477.0 226.9h.7M481.7 234.9h.7M479.5 230.7h.7M476.0 226.3h.7M483.4 227.9h.7M478.5 238.8h.7M485.5 234.8h.7M477.9 232.3h.7M484.2 237.8h.7M485.8 238.5h.7M486.7 238.3h.7M486.7 232.9h.7M470.5 229.9h.7M482.2 229.7h.7M486.2 230.8h.7M480.0 228.2h.7M488.0 230.9h.7" stroke="#9092c0" stroke-width="0.7" fill="none" opacity="0.4"/>
<path d="M439.1 236.8h.7M444.6 230.7h.7M448.4 235.2h.7M441.4 226.4h.7M441.1 233.3h.7M442.8 237.2h.7M442.0 226.8h.7M442.8 239.5h.7M438.9 237.7h.7M440.8 224.7h.7M441.3 230.7h.7M438.8 233.5h.7M437.4 233.8h.7M445.2 245.5h.7M443.7 226.4h.7M443.5 238.4h.7M441.4 225.1h.7M439.2 237.9h.7M438.6 236.8h.7M437.1 243.1h.7M439.0 244.5h.7M440.8 235.3h.7M437.4 226.6h.7M444.9 237.5h.7M440.0 244.5h.7M441.0 235.1h.7M439.1 232.5h.7M441.3 244.6h.7M439.8 232.9h.7M441.1 233.7h.7M448.1 240.3h.7M448.8 229.7h.7M447.0 235.7h.7M437.6 232.9h.7M445.0 234.7h.7M442.7 243.1h.7M445.6 232.1h.7M445.1 239.7h.7M444.3 241.4h.7M443.5 227.9h.7M439.4 236.7h.7M447.7 230.9h.7M440.3 236.1h.7M439.9 230.6h.7M438.8 239.5h.7M441.1 239.3h.7M439.0 230.1h.7M436.3 240.2h.7M439.4 235.9h.7M440.9 243.6h.7M439.0 228.6h.7M441.3 230.4h.7M441.9 228.1h.7M441.4 239.1h.7M436.8 227.7h.7M447.4 232.6h.7M443.4 228.8h.7M441.5 241.0h.7M443.2 232.3h.7M437.1 236.8h.7M443.0 236.3h.7M441.7 233.5h.7M444.5 245.3h.7M441.3 233.3h.7M442.1 226.6h.7M449.2 239.7h.7M440.4 242.5h.7M437.1 234.8h.7M440.3 235.1h.7M443.9 230.2h.7M444.7 240.1h.7M442.7 241.9h.7M440.3 226.1h.7M442.9 240.2h.7M446.1 234.3h.7M443.2 243.6h.7M441.4 238.4h.7M440.5 233.5h.7M444.7 243.0h.7M442.7 235.5h.7M441.4 232.7h.7M442.0 236.4h.7M446.9 237.2h.7M441.9 235.5h.7M442.0 237.5h.7M438.9 238.9h.7M445.2 241.2h.7M444.5 242.9h.7M442.9 238.9h.7M444.1 235.7h.7M436.6 238.7h.7M445.7 236.0h.7M445.2 242.0h.7M439.6 228.7h.7M436.7 243.4h.7M445.3 238.9h.7M441.9 231.6h.7M438.0 241.4h.7M440.5 237.5h.7M445.1 235.7h.7M442.6 238.7h.7M448.8 237.3h.7M444.2 241.9h.7M446.9 232.5h.7M439.1 233.3h.7M438.6 226.3h.7M442.1 240.2h.7M437.5 240.3h.7M444.9 230.9h.7M442.3 238.3h.7M445.8 236.5h.7M438.1 232.8h.7M439.3 234.7h.7M442.5 243.7h.7M438.1 240.0h.7M444.7 232.6h.7M441.4 233.9h.7M440.3 236.1h.7M442.1 239.7h.7M439.9 238.3h.7M444.0 234.0h.7M441.0 238.2h.7M437.3 243.7h.7M437.8 230.2h.7M439.6 237.0h.7M443.4 237.3h.7M437.8 229.5h.7M436.6 237.9h.7M437.4 239.9h.7M444.8 237.5h.7M445.8 234.7h.7M438.8 243.1h.7M445.2 235.0h.7M442.8 232.5h.7M440.0 231.6h.7M437.7 244.6h.7M443.8 240.4h.7M448.0 238.5h.7M444.4 231.6h.7M439.2 239.4h.7M442.7 229.1h.7M440.6 224.7h.7M440.6 233.5h.7M437.3 226.2h.7M437.9 237.0h.7M440.0 232.9h.7M442.2 245.0h.7M443.1 235.9h.7M439.4 229.9h.7M443.4 236.8h.7M439.6 244.7h.7M443.6 240.3h.7M437.3 229.1h.7M447.9 235.7h.7M443.0 243.2h.7M438.0 231.3h.7M438.7 232.6h.7M441.8 244.9h.7M445.0 229.5h.7M436.7 223.4h.7M441.3 243.8h.7M443.7 228.3h.7M445.5 236.1h.7M442.3 232.3h.7M437.3 238.1h.7M440.4 230.2h.7M439.2 232.6h.7M445.1 238.2h.7M444.1 237.4h.7M446.4 222.7h.7M442.1 239.4h.7M439.2 241.2h.7M445.3 244.5h.7M443.7 242.2h.7M440.7 244.6h.7M444.4 240.7h.7M441.8 235.1h.7M441.9 238.2h.7M444.0 228.3h.7M443.2 242.2h.7M440.8 227.9h.7M442.4 236.7h.7M443.7 233.0h.7M446.0 238.5h.7M446.6 230.9h.7M442.4 225.7h.7M443.0 230.9h.7M441.3 235.1h.7M440.1 229.9h.7M447.3 235.0h.7M436.3 238.7h.7M437.4 231.8h.7M443.8 236.2h.7M441.2 245.3h.7M445.5 231.8h.7M441.6 227.5h.7M443.0 239.7h.7M436.4 231.1h.7M436.8 240.5h.7M439.9 240.5h.7M443.1 241.4h.7M440.0 234.6h.7M441.8 235.7h.7M441.0 230.5h.7M444.0 234.1h.7M446.5 237.5h.7M436.9 243.7h.7M439.6 230.4h.7M438.7 228.3h.7M440.3 239.5h.7M438.9 229.6h.7M443.3 237.1h.7M440.1 237.1h.7M438.0 235.1h.7M441.3 233.8h.7M441.7 240.2h.7M440.2 239.9h.7M442.8 239.9h.7M441.5 234.3h.7M441.9 227.5h.7M441.4 236.7h.7M442.6 233.5h.7M441.3 241.1h.7M443.8 222.1h.7M447.1 230.1h.7M443.6 230.4h.7M443.7 237.5h.7M442.5 238.3h.7M443.4 239.9h.7M444.1 237.6h.7M443.0 232.5h.7M446.9 236.9h.7M440.6 235.6h.7M446.1 229.2h.7M448.4 245.1h.7M437.1 232.0h.7M441.6 237.5h.7M439.9 226.9h.7M441.8 237.4h.7M438.8 233.7h.7M439.8 234.8h.7M439.7 226.9h.7M436.5 237.3h.7M444.1 237.7h.7M440.3 242.0h.7M439.7 235.8h.7M441.0 234.1h.7M441.3 244.0h.7M444.4 236.8h.7M443.4 226.9h.7M439.9 238.6h.7M441.4 223.9h.7M444.5 239.1h.7M436.4 233.3h.7M436.7 229.2h.7M446.3 233.1h.7M440.0 231.6h.7M440.9 241.7h.7M443.1 228.5h.7M438.2 228.0h.7M436.4 237.1h.7M438.0 240.2h.7M442.9 241.2h.7M436.6 241.1h.7M442.6 239.3h.7M439.0 230.7h.7M441.9 235.2h.7M441.5 230.4h.7M438.0 235.4h.7M442.8 236.1h.7M442.4 240.6h.7M436.5 232.7h.7M439.7 231.9h.7M441.1 236.8h.7M442.3 230.4h.7M440.8 239.9h.7M439.5 236.1h.7M440.7 238.5h.7M442.9 242.8h.7M440.6 238.5h.7M442.2 234.5h.7M439.0 238.6h.7M444.1 237.8h.7M436.6 239.3h.7M441.2 241.9h.7M445.3 231.0h.7M439.2 237.4h.7M443.1 222.5h.7M438.7 240.9h.7M443.9 236.7h.7M441.5 240.0h.7M445.2 222.9h.7M440.0 243.5h.7M436.9 235.2h.7M442.5 229.0h.7M437.0 237.3h.7M440.8 239.3h.7M440.8 235.4h.7M443.1 243.3h.7M442.5 234.7h.7M444.8 219.9h.7M441.2 221.2h.7M437.9 241.7h.7M439.0 226.2h.7M440.1 225.1h.7M438.2 245.1h.7M439.3 243.5h.7M445.1 228.2h.7M440.8 232.8h.7M443.1 240.4h.7M440.9 234.7h.7M440.5 233.4h.7M442.4 240.5h.7M436.2 233.1h.7M443.7 234.6h.7M447.2 242.1h.7M441.0 232.9h.7M439.9 239.2h.7M438.7 237.5h.7M446.1 226.2h.7M444.7 234.6h.7M447.2 225.7h.7M441.1 230.3h.7M437.4 228.6h.7M439.3 241.8h.7M443.1 237.9h.7M442.2 231.1h.7M440.3 229.9h.7M440.7 231.2h.7M445.7 240.6h.7M441.3 240.1h.7M437.5 237.6h.7M445.5 230.1h.7M438.0 238.5h.7M439.9 234.1h.7M440.0 243.8h.7M445.7 233.0h.7M442.1 231.9h.7M440.8 237.2h.7M441.6 231.8h.7M443.9 227.5h.7M442.1 228.4h.7M441.4 237.6h.7M440.9 235.5h.7M443.7 241.0h.7M439.5 235.1h.7M442.8 243.9h.7M442.3 239.1h.7M442.7 234.2h.7M438.3 233.3h.7M443.9 236.9h.7M441.0 235.0h.7M444.1 234.7h.7M442.6 238.4h.7M438.5 236.9h.7M439.5 243.2h.7M444.7 234.1h.7M444.6 237.6h.7M443.6 230.9h.7M443.8 237.7h.7M441.9 241.5h.7M439.3 244.1h.7M441.2 234.2h.7M445.3 244.8h.7M445.7 228.5h.7M443.7 244.3h.7M445.9 240.1h.7M443.5 230.4h.7M440.1 221.7h.7M445.2 230.6h.7M439.0 232.2h.7M440.6 233.0h.7M440.0 236.7h.7M445.6 240.9h.7M439.3 237.8h.7M444.1 234.4h.7M437.6 234.3h.7M441.8 223.4h.7M448.2 228.3h.7M442.3 239.1h.7M442.7 237.3h.7M441.1 234.2h.7M438.3 237.2h.7M441.3 234.2h.7M439.8 221.1h.7M440.4 241.8h.7M441.2 230.9h.7M447.9 219.5h.7M442.1 242.7h.7M444.0 242.1h.7M439.9 217.5h.7" stroke="#7478b8" stroke-width="0.7" fill="none" opacity="0.45"/>
<path d="M444.2 216.4h.7M437.0 241.0h.7M444.2 237.4h.7M451.2 220.0h.7M443.6 241.3h.7M436.8 239.0h.7M438.8 228.1h.7M444.6 225.3h.7M442.4 217.8h.7M446.2 230.7h.7M441.6 234.7h.7M443.8 219.2h.7M441.4 215.8h.7M443.7 233.9h.7M440.2 234.3h.7M442.6 229.7h.7M443.6 227.8h.7M439.9 220.4h.7M441.7 240.0h.7M441.7 243.1h.7M440.5 243.1h.7M441.0 236.5h.7M440.4 225.4h.7M445.3 229.1h.7M444.5 227.0h.7M441.0 224.0h.7M444.8 231.7h.7M441.7 232.2h.7M440.5 241.1h.7M438.2 236.6h.7M443.3 242.5h.7M440.9 230.2h.7M443.7 227.3h.7M438.6 233.0h.7M439.5 223.9h.7M437.8 227.5h.7M439.7 231.8h.7M445.6 230.9h.7M439.6 234.1h.7M438.5 228.7h.7M445.6 228.1h.7M443.5 219.5h.7M440.7 236.5h.7M439.1 229.1h.7M441.6 219.9h.7M445.9 229.9h.7M445.7 230.2h.7M445.8 233.1h.7M443.5 239.5h.7M442.7 232.3h.7M441.1 229.7h.7M442.1 241.5h.7M444.0 228.8h.7M447.6 232.4h.7M440.7 227.4h.7M448.6 224.1h.7M448.3 225.5h.7M445.5 241.1h.7M439.2 238.4h.7M440.8 235.4h.7M443.9 217.8h.7M446.2 232.6h.7M446.4 233.6h.7M439.4 242.0h.7M444.8 232.4h.7M440.4 236.1h.7M439.8 233.1h.7M444.2 241.0h.7M438.9 229.2h.7M443.5 241.9h.7M437.1 235.5h.7M440.3 227.6h.7" stroke="#9092c0" stroke-width="0.7" fill="none" opacity="0.4"/>
<ellipse cx="0" cy="0" rx="3.6" ry="5.2" fill="url(#gyel)" opacity="0.9" transform="translate(441.20,237.50) rotate(0)"/>
<rect x="436.20" y="209.60" width="31.50" height="14.60" fill="none" stroke="#c9a4cf" stroke-width="0.7" />
<rect x="468.80" y="209.60" width="18.90" height="14.60" fill="none" stroke="#c9a4cf" stroke-width="0.7" />
<rect x="436.20" y="224.20" width="12.30" height="21.80" fill="none" stroke="#c9a4cf" stroke-width="0.7" />
<rect x="468.80" y="224.20" width="18.90" height="15.10" fill="none" stroke="#c9a4cf" stroke-width="0.7" />
<text transform="translate(437.00,209.30) scale(0.95,1)" font-size="8.1" text-anchor="start" font-weight="normal" font-style="normal" fill="#1a1a1a" style="stroke:none">11.7</text>
<text transform="translate(499.20,219.80) scale(0.95,1)" font-size="8.1" text-anchor="end" font-weight="normal" font-style="normal" fill="#1a1a1a" style="stroke:none">2.3</text>
<text transform="translate(450.00,230.80) scale(0.95,1)" font-size="8.1" text-anchor="start" font-weight="normal" font-style="normal" fill="#1a1a1a" style="stroke:none">14.6</text>
<text transform="translate(450.00,241.60) scale(0.95,1)" font-size="8.1" text-anchor="start" font-weight="normal" font-style="normal" fill="#1a1a1a" style="stroke:none">57.0</text>
<text transform="translate(499.20,234.30) scale(0.95,1)" font-size="8.1" text-anchor="end" font-weight="normal" font-style="normal" fill="#1a1a1a" style="stroke:none">1.4</text>
<text transform="translate(465.20,186.60) scale(0.92,1)" font-size="8.6" font-style="italic" fill="#222" text-anchor="middle">Ubr5<tspan font-size="5.9" dx="0.6" dy="-3.4">&#916;HECT</tspan></text>
<rect x="306.90" y="189.80" width="193.10" height="56.30" fill="none" stroke="#9a9a9a" stroke-width="1.5" />
<line x1="370.80" y1="189.80" x2="370.80" y2="246.10" stroke="#8f8f8f" stroke-width="2.0"/>
<line x1="435.40" y1="189.80" x2="435.40" y2="246.10" stroke="#8f8f8f" stroke-width="2.0"/>
<text transform="translate(308.50,198.10) scale(0.95,1)" font-size="8.1" text-anchor="start" font-weight="normal" font-style="normal" fill="#1a1a1a" style="stroke:none">gated on B220+</text>
<path d="M299.8 234.6V253.1H320.4" fill="none" stroke="#111" stroke-width="1.35"/>
<path d="M297.7 236.0L299.8 231.6L301.90000000000003 236.0z" fill="#111"/>
<path d="M319.0 251.0L323.4 253.1L319.0 255.2z" fill="#111"/>
<text font-size="9.2" text-anchor="middle" fill="#222" transform="translate(294.20,246.30) rotate(-90) scale(0.85,1)" >IgM</text>
<text transform="translate(300.20,263.90) scale(0.8,1)" font-size="9.2" text-anchor="start" font-weight="normal" font-style="normal" fill="#222" >IgD</text>
<line x1="60.50" y1="332.50" x2="60.50" y2="413.75" stroke="#111" stroke-width="1.15"/>
<line x1="60.00" y1="413.25" x2="125.00" y2="413.25" stroke="#111" stroke-width="1.15"/>
<line x1="57.50" y1="335.50" x2="60.50" y2="335.50" stroke="#111" stroke-width="0.95"/>
<text transform="translate(54.50,338.90) scale(1.0,1)" font-size="8.3" text-anchor="end" font-weight="normal" font-style="normal" fill="#222" >3x10<tspan font-size="6.3" dy="-3.5">6</tspan></text>
<line x1="57.50" y1="361.25" x2="60.50" y2="361.25" stroke="#111" stroke-width="0.95"/>
<text transform="translate(54.50,364.65) scale(1.0,1)" font-size="8.3" text-anchor="end" font-weight="normal" font-style="normal" fill="#222" >2x10<tspan font-size="6.3" dy="-3.5">6</tspan></text>
<line x1="57.50" y1="387.50" x2="60.50" y2="387.50" stroke="#111" stroke-width="0.95"/>
<text transform="translate(54.50,390.90) scale(1.0,1)" font-size="8.3" text-anchor="end" font-weight="normal" font-style="normal" fill="#222" >1x10<tspan font-size="6.3" dy="-3.5">6</tspan></text>
<line x1="57.50" y1="413.25" x2="60.50" y2="413.25" stroke="#111" stroke-width="0.95"/>
<text transform="translate(54.50,416.15) scale(1.0,1)" font-size="8.3" text-anchor="end" font-weight="normal" font-style="normal" fill="#222" >0</text>
<rect x="64.50" y="373.75" width="8.00" height="39.50" fill="#8e94bb" stroke="none" stroke-width="1" />
<rect x="74.25" y="358.75" width="7.75" height="54.50" fill="#f2c98f" stroke="none" stroke-width="1" />
<rect x="83.75" y="358.00" width="8.00" height="55.25" fill="#bad7a0" stroke="none" stroke-width="1" />
<rect x="95.50" y="397.50" width="7.75" height="15.75" fill="#8e94bb" stroke="none" stroke-width="1" />
<rect x="105.00" y="391.25" width="8.00" height="22.00" fill="#f2c98f" stroke="none" stroke-width="1" />
<rect x="114.50" y="393.75" width="8.00" height="19.50" fill="#bad7a0" stroke="none" stroke-width="1" />
<line x1="68.50" y1="365.50" x2="68.50" y2="386.00" stroke="#2a4585" stroke-width="1.05"/>
<line x1="66.20" y1="365.50" x2="70.80" y2="365.50" stroke="#2a4585" stroke-width="1.05"/>
<line x1="66.20" y1="386.00" x2="70.80" y2="386.00" stroke="#2a4585" stroke-width="1.05"/>
<circle cx="66.06" cy="362.50" r="1.5" fill="#1f3c82"/>
<circle cx="66.32" cy="366.25" r="1.5" fill="#1f3c82"/>
<circle cx="69.97" cy="370.00" r="1.5" fill="#1f3c82"/>
<circle cx="69.51" cy="375.00" r="1.5" fill="#1f3c82"/>
<circle cx="66.77" cy="380.00" r="1.5" fill="#1f3c82"/>
<circle cx="67.65" cy="386.25" r="1.5" fill="#1f3c82"/>
<circle cx="67.54" cy="396.25" r="1.5" fill="#1f3c82"/>
<circle cx="70.61" cy="364.38" r="1.5" fill="#1f3c82"/>
<circle cx="68.06" cy="368.12" r="1.5" fill="#1f3c82"/>
<line x1="78.12" y1="355.00" x2="78.12" y2="368.75" stroke="#e29a3a" stroke-width="1.05"/>
<line x1="75.83" y1="355.00" x2="80.42" y2="355.00" stroke="#e29a3a" stroke-width="1.05"/>
<line x1="75.83" y1="368.75" x2="80.42" y2="368.75" stroke="#e29a3a" stroke-width="1.05"/>
<circle cx="79.14" cy="351.25" r="1.5" fill="#e38b1b"/>
<circle cx="76.16" cy="353.75" r="1.5" fill="#e38b1b"/>
<circle cx="75.95" cy="356.25" r="1.5" fill="#e38b1b"/>
<circle cx="76.82" cy="360.00" r="1.5" fill="#e38b1b"/>
<circle cx="78.80" cy="363.75" r="1.5" fill="#e38b1b"/>
<circle cx="77.87" cy="367.50" r="1.5" fill="#e38b1b"/>
<circle cx="79.89" cy="352.50" r="1.5" fill="#e38b1b"/>
<circle cx="79.66" cy="355.00" r="1.5" fill="#e38b1b"/>
<circle cx="78.91" cy="358.12" r="1.5" fill="#e38b1b"/>
<line x1="87.75" y1="340.00" x2="87.75" y2="375.00" stroke="#5aae48" stroke-width="1.05"/>
<line x1="85.45" y1="340.00" x2="90.05" y2="340.00" stroke="#5aae48" stroke-width="1.05"/>
<line x1="85.45" y1="375.00" x2="90.05" y2="375.00" stroke="#5aae48" stroke-width="1.05"/>
<circle cx="90.24" cy="351.25" r="1.5" fill="#4ea93a"/>
<circle cx="90.05" cy="353.75" r="1.5" fill="#4ea93a"/>
<circle cx="89.66" cy="358.75" r="1.5" fill="#4ea93a"/>
<circle cx="85.70" cy="362.50" r="1.5" fill="#4ea93a"/>
<circle cx="87.25" cy="367.50" r="1.5" fill="#4ea93a"/>
<circle cx="85.98" cy="372.50" r="1.5" fill="#4ea93a"/>
<circle cx="88.31" cy="375.00" r="1.5" fill="#4ea93a"/>
<circle cx="87.78" cy="352.50" r="1.5" fill="#4ea93a"/>
<circle cx="85.71" cy="356.25" r="1.5" fill="#4ea93a"/>
<line x1="99.38" y1="393.75" x2="99.38" y2="402.50" stroke="#2a4585" stroke-width="1.05"/>
<line x1="97.08" y1="393.75" x2="101.67" y2="393.75" stroke="#2a4585" stroke-width="1.05"/>
<line x1="97.08" y1="402.50" x2="101.67" y2="402.50" stroke="#2a4585" stroke-width="1.05"/>
<circle cx="97.38" cy="387.50" r="1.5" fill="#1f3c82"/>
<circle cx="99.21" cy="396.25" r="1.5" fill="#1f3c82"/>
<circle cx="99.97" cy="398.75" r="1.5" fill="#1f3c82"/>
<circle cx="98.93" cy="401.25" r="1.5" fill="#1f3c82"/>
<circle cx="99.24" cy="403.75" r="1.5" fill="#1f3c82"/>
<circle cx="100.01" cy="407.50" r="1.5" fill="#1f3c82"/>
<circle cx="100.32" cy="397.50" r="1.5" fill="#1f3c82"/>
<circle cx="100.36" cy="400.00" r="1.5" fill="#1f3c82"/>
<circle cx="98.97" cy="402.50" r="1.5" fill="#1f3c82"/>
<line x1="109.00" y1="386.25" x2="109.00" y2="400.00" stroke="#e29a3a" stroke-width="1.05"/>
<line x1="106.70" y1="386.25" x2="111.30" y2="386.25" stroke="#e29a3a" stroke-width="1.05"/>
<line x1="106.70" y1="400.00" x2="111.30" y2="400.00" stroke="#e29a3a" stroke-width="1.05"/>
<circle cx="107.36" cy="383.75" r="1.5" fill="#e38b1b"/>
<circle cx="110.85" cy="386.25" r="1.5" fill="#e38b1b"/>
<circle cx="106.70" cy="390.00" r="1.5" fill="#e38b1b"/>
<circle cx="107.53" cy="393.00" r="1.5" fill="#e38b1b"/>
<circle cx="107.45" cy="396.25" r="1.5" fill="#e38b1b"/>
<circle cx="109.47" cy="398.75" r="1.5" fill="#e38b1b"/>
<circle cx="109.61" cy="385.00" r="1.5" fill="#e38b1b"/>
<circle cx="107.00" cy="388.12" r="1.5" fill="#e38b1b"/>
<circle cx="109.07" cy="391.50" r="1.5" fill="#e38b1b"/>
<line x1="118.50" y1="390.00" x2="118.50" y2="402.50" stroke="#5aae48" stroke-width="1.05"/>
<line x1="116.20" y1="390.00" x2="120.80" y2="390.00" stroke="#5aae48" stroke-width="1.05"/>
<line x1="116.20" y1="402.50" x2="120.80" y2="402.50" stroke="#5aae48" stroke-width="1.05"/>
<circle cx="118.87" cy="383.75" r="1.5" fill="#4ea93a"/>
<circle cx="119.43" cy="390.00" r="1.5" fill="#4ea93a"/>
<circle cx="116.37" cy="393.00" r="1.5" fill="#4ea93a"/>
<circle cx="119.64" cy="396.25" r="1.5" fill="#4ea93a"/>
<circle cx="117.35" cy="398.75" r="1.5" fill="#4ea93a"/>
<circle cx="117.92" cy="402.50" r="1.5" fill="#4ea93a"/>
<circle cx="116.62" cy="405.00" r="1.5" fill="#4ea93a"/>
<circle cx="120.21" cy="391.50" r="1.5" fill="#4ea93a"/>
<circle cx="119.09" cy="394.62" r="1.5" fill="#4ea93a"/>
<line x1="77.50" y1="413.25" x2="77.50" y2="416.25" stroke="#111" stroke-width="0.95"/>
<line x1="108.75" y1="413.25" x2="108.75" y2="416.25" stroke="#111" stroke-width="0.95"/>
<rect x="74.95" y="336.85" width="1.9" height="1.9" rx="0.6" fill="#151515"/>
<rect x="74.95" y="340.20" width="1.9" height="1.9" rx="0.6" fill="#151515"/>
<rect x="85.65" y="329.85" width="1.9" height="1.9" rx="0.6" fill="#151515"/>
<rect x="107.05" y="370.25" width="1.9" height="1.9" rx="0.6" fill="#151515"/>
<rect x="107.05" y="373.60" width="1.9" height="1.9" rx="0.6" fill="#151515"/>
<text font-size="8.6" text-anchor="middle" fill="#222" transform="translate(28.00,373.10) rotate(-90) scale(0.86,1)" >Absolute number</text>
<text font-size="9.4" text-anchor="end" fill="#222" transform="translate(81.00,423.40) rotate(-45) scale(0.92,1)">IgD<tspan font-size="6.4" dy="-3.6">-</tspan><tspan dy="3.6">IgM</tspan><tspan font-size="6.4" dy="-3.6">-</tspan></text>
<text font-size="9.4" text-anchor="end" fill="#222" transform="translate(112.30,420.40) rotate(-45) scale(0.92,1)">IgD<tspan font-size="6.4" dy="-3.6">-</tspan><tspan dy="3.6">IgM</tspan><tspan font-size="6.4" dy="-3.6">lo</tspan></text>
<line x1="162.50" y1="332.50" x2="162.50" y2="413.75" stroke="#111" stroke-width="1.15"/>
<line x1="162.00" y1="413.25" x2="258.75" y2="413.25" stroke="#111" stroke-width="1.15"/>
<line x1="159.50" y1="335.50" x2="162.50" y2="335.50" stroke="#111" stroke-width="0.95"/>
<text transform="translate(156.50,338.90) scale(1.0,1)" font-size="8.3" text-anchor="end" font-weight="normal" font-style="normal" fill="#222" >6x10<tspan font-size="6.3" dy="-3.5">5</tspan></text>
<line x1="159.50" y1="361.25" x2="162.50" y2="361.25" stroke="#111" stroke-width="0.95"/>
<text transform="translate(156.50,364.65) scale(1.0,1)" font-size="8.3" text-anchor="end" font-weight="normal" font-style="normal" fill="#222" >4x10<tspan font-size="6.3" dy="-3.5">5</tspan></text>
<line x1="159.50" y1="387.50" x2="162.50" y2="387.50" stroke="#111" stroke-width="0.95"/>
<text transform="translate(156.50,390.90) scale(1.0,1)" font-size="8.3" text-anchor="end" font-weight="normal" font-style="normal" fill="#222" >2x10<tspan font-size="6.3" dy="-3.5">5</tspan></text>
<line x1="159.50" y1="413.25" x2="162.50" y2="413.25" stroke="#111" stroke-width="0.95"/>
<text transform="translate(156.50,416.15) scale(1.0,1)" font-size="8.3" text-anchor="end" font-weight="normal" font-style="normal" fill="#222" >0</text>
<rect x="166.25" y="370.00" width="8.00" height="43.25" fill="#8e94bb" stroke="none" stroke-width="1" />
<rect x="176.25" y="362.50" width="7.50" height="50.75" fill="#f2c98f" stroke="none" stroke-width="1" />
<rect x="185.50" y="358.75" width="7.50" height="54.50" fill="#bad7a0" stroke="none" stroke-width="1" />
<rect x="196.75" y="397.00" width="7.75" height="16.25" fill="#8e94bb" stroke="none" stroke-width="1" />
<rect x="206.75" y="400.50" width="7.50" height="12.75" fill="#f2c98f" stroke="none" stroke-width="1" />
<rect x="216.25" y="404.50" width="7.50" height="8.75" fill="#bad7a0" stroke="none" stroke-width="1" />
<rect x="227.50" y="389.50" width="7.50" height="23.75" fill="#8e94bb" stroke="none" stroke-width="1" />
<rect x="237.00" y="391.25" width="8.00" height="22.00" fill="#f2c98f" stroke="none" stroke-width="1" />
<rect x="247.00" y="407.50" width="7.50" height="5.75" fill="#bad7a0" stroke="none" stroke-width="1" />
<line x1="170.25" y1="357.50" x2="170.25" y2="380.00" stroke="#2a4585" stroke-width="1.05"/>
<line x1="167.95" y1="357.50" x2="172.55" y2="357.50" stroke="#2a4585" stroke-width="1.05"/>
<line x1="167.95" y1="380.00" x2="172.55" y2="380.00" stroke="#2a4585" stroke-width="1.05"/>
<circle cx="171.81" cy="357.00" r="1.5" fill="#1f3c82"/>
<circle cx="170.32" cy="359.50" r="1.5" fill="#1f3c82"/>
<circle cx="168.30" cy="365.00" r="1.5" fill="#1f3c82"/>
<circle cx="169.76" cy="367.50" r="1.5" fill="#1f3c82"/>
<circle cx="168.14" cy="370.00" r="1.5" fill="#1f3c82"/>
<circle cx="168.24" cy="375.00" r="1.5" fill="#1f3c82"/>
<circle cx="171.78" cy="378.75" r="1.5" fill="#1f3c82"/>
<circle cx="167.75" cy="399.50" r="1.5" fill="#1f3c82"/>
<circle cx="169.70" cy="358.25" r="1.5" fill="#1f3c82"/>
<line x1="180.00" y1="348.00" x2="180.00" y2="373.75" stroke="#e29a3a" stroke-width="1.05"/>
<line x1="177.70" y1="348.00" x2="182.30" y2="348.00" stroke="#e29a3a" stroke-width="1.05"/>
<line x1="177.70" y1="373.75" x2="182.30" y2="373.75" stroke="#e29a3a" stroke-width="1.05"/>
<circle cx="177.94" cy="355.50" r="1.5" fill="#e38b1b"/>
<circle cx="181.19" cy="363.75" r="1.5" fill="#e38b1b"/>
<circle cx="182.21" cy="366.25" r="1.5" fill="#e38b1b"/>
<circle cx="177.90" cy="370.00" r="1.5" fill="#e38b1b"/>
<circle cx="179.39" cy="373.75" r="1.5" fill="#e38b1b"/>
<circle cx="182.14" cy="365.00" r="1.5" fill="#e38b1b"/>
<circle cx="178.88" cy="368.12" r="1.5" fill="#e38b1b"/>
<circle cx="179.15" cy="371.88" r="1.5" fill="#e38b1b"/>
<line x1="189.25" y1="337.00" x2="189.25" y2="376.25" stroke="#5aae48" stroke-width="1.05"/>
<line x1="186.95" y1="337.00" x2="191.55" y2="337.00" stroke="#5aae48" stroke-width="1.05"/>
<line x1="186.95" y1="376.25" x2="191.55" y2="376.25" stroke="#5aae48" stroke-width="1.05"/>
<circle cx="191.44" cy="337.00" r="1.5" fill="#4ea93a"/>
<circle cx="191.15" cy="345.00" r="1.5" fill="#4ea93a"/>
<circle cx="188.74" cy="350.00" r="1.5" fill="#4ea93a"/>
<circle cx="190.02" cy="363.75" r="1.5" fill="#4ea93a"/>
<circle cx="190.57" cy="372.50" r="1.5" fill="#4ea93a"/>
<circle cx="188.60" cy="381.25" r="1.5" fill="#4ea93a"/>
<circle cx="187.01" cy="386.25" r="1.5" fill="#4ea93a"/>
<circle cx="188.68" cy="347.50" r="1.5" fill="#4ea93a"/>
<circle cx="190.12" cy="383.75" r="1.5" fill="#4ea93a"/>
<line x1="200.62" y1="391.00" x2="200.62" y2="403.00" stroke="#2a4585" stroke-width="1.05"/>
<line x1="198.32" y1="391.00" x2="202.93" y2="391.00" stroke="#2a4585" stroke-width="1.05"/>
<line x1="198.32" y1="403.00" x2="202.93" y2="403.00" stroke="#2a4585" stroke-width="1.05"/>
<circle cx="202.83" cy="390.00" r="1.5" fill="#1f3c82"/>
<circle cx="200.35" cy="392.50" r="1.5" fill="#1f3c82"/>
<circle cx="200.20" cy="395.00" r="1.5" fill="#1f3c82"/>
<circle cx="200.06" cy="398.75" r="1.5" fill="#1f3c82"/>
<circle cx="201.13" cy="402.50" r="1.5" fill="#1f3c82"/>
<circle cx="198.36" cy="391.25" r="1.5" fill="#1f3c82"/>
<circle cx="202.59" cy="393.75" r="1.5" fill="#1f3c82"/>
<circle cx="202.78" cy="396.88" r="1.5" fill="#1f3c82"/>
<circle cx="198.40" cy="400.62" r="1.5" fill="#1f3c82"/>
<line x1="210.50" y1="394.00" x2="210.50" y2="405.00" stroke="#e29a3a" stroke-width="1.05"/>
<line x1="208.20" y1="394.00" x2="212.80" y2="394.00" stroke="#e29a3a" stroke-width="1.05"/>
<line x1="208.20" y1="405.00" x2="212.80" y2="405.00" stroke="#e29a3a" stroke-width="1.05"/>
<circle cx="208.28" cy="393.75" r="1.5" fill="#e38b1b"/>
<circle cx="209.66" cy="396.25" r="1.5" fill="#e38b1b"/>
<circle cx="208.91" cy="398.75" r="1.5" fill="#e38b1b"/>
<circle cx="211.71" cy="401.25" r="1.5" fill="#e38b1b"/>
<circle cx="212.16" cy="403.75" r="1.5" fill="#e38b1b"/>
<circle cx="210.71" cy="395.00" r="1.5" fill="#e38b1b"/>
<circle cx="212.50" cy="397.50" r="1.5" fill="#e38b1b"/>
<circle cx="209.28" cy="400.00" r="1.5" fill="#e38b1b"/>
<circle cx="209.13" cy="402.50" r="1.5" fill="#e38b1b"/>
<line x1="220.00" y1="396.00" x2="220.00" y2="412.00" stroke="#5aae48" stroke-width="1.05"/>
<line x1="217.70" y1="396.00" x2="222.30" y2="396.00" stroke="#5aae48" stroke-width="1.05"/>
<line x1="217.70" y1="412.00" x2="222.30" y2="412.00" stroke="#5aae48" stroke-width="1.05"/>
<circle cx="219.48" cy="387.50" r="1.5" fill="#4ea93a"/>
<circle cx="219.78" cy="395.00" r="1.5" fill="#4ea93a"/>
<circle cx="218.64" cy="400.00" r="1.5" fill="#4ea93a"/>
<circle cx="221.89" cy="403.75" r="1.5" fill="#4ea93a"/>
<circle cx="221.13" cy="407.50" r="1.5" fill="#4ea93a"/>
<circle cx="219.05" cy="410.50" r="1.5" fill="#4ea93a"/>
<circle cx="218.77" cy="397.50" r="1.5" fill="#4ea93a"/>
<circle cx="219.03" cy="401.88" r="1.5" fill="#4ea93a"/>
<circle cx="219.53" cy="405.62" r="1.5" fill="#4ea93a"/>
<line x1="231.25" y1="381.25" x2="231.25" y2="397.50" stroke="#2a4585" stroke-width="1.05"/>
<line x1="228.95" y1="381.25" x2="233.55" y2="381.25" stroke="#2a4585" stroke-width="1.05"/>
<line x1="228.95" y1="397.50" x2="233.55" y2="397.50" stroke="#2a4585" stroke-width="1.05"/>
<circle cx="231.94" cy="373.00" r="1.5" fill="#1f3c82"/>
<circle cx="232.49" cy="380.00" r="1.5" fill="#1f3c82"/>
<circle cx="233.27" cy="385.00" r="1.5" fill="#1f3c82"/>
<circle cx="229.36" cy="387.50" r="1.5" fill="#1f3c82"/>
<circle cx="229.88" cy="391.25" r="1.5" fill="#1f3c82"/>
<circle cx="230.71" cy="393.75" r="1.5" fill="#1f3c82"/>
<circle cx="233.28" cy="382.50" r="1.5" fill="#1f3c82"/>
<circle cx="231.06" cy="386.25" r="1.5" fill="#1f3c82"/>
<circle cx="232.24" cy="389.38" r="1.5" fill="#1f3c82"/>
<line x1="241.00" y1="383.00" x2="241.00" y2="398.00" stroke="#e29a3a" stroke-width="1.05"/>
<line x1="238.70" y1="383.00" x2="243.30" y2="383.00" stroke="#e29a3a" stroke-width="1.05"/>
<line x1="238.70" y1="398.00" x2="243.30" y2="398.00" stroke="#e29a3a" stroke-width="1.05"/>
<circle cx="242.65" cy="381.25" r="1.5" fill="#e38b1b"/>
<circle cx="240.80" cy="386.25" r="1.5" fill="#e38b1b"/>
<circle cx="240.39" cy="391.25" r="1.5" fill="#e38b1b"/>
<circle cx="242.38" cy="393.75" r="1.5" fill="#e38b1b"/>
<circle cx="241.70" cy="396.25" r="1.5" fill="#e38b1b"/>
<circle cx="243.46" cy="398.75" r="1.5" fill="#e38b1b"/>
<circle cx="239.85" cy="383.75" r="1.5" fill="#e38b1b"/>
<circle cx="243.27" cy="388.75" r="1.5" fill="#e38b1b"/>
<circle cx="240.93" cy="392.50" r="1.5" fill="#e38b1b"/>
<line x1="250.75" y1="404.00" x2="250.75" y2="411.00" stroke="#5aae48" stroke-width="1.05"/>
<line x1="248.45" y1="404.00" x2="253.05" y2="404.00" stroke="#5aae48" stroke-width="1.05"/>
<line x1="248.45" y1="411.00" x2="253.05" y2="411.00" stroke="#5aae48" stroke-width="1.05"/>
<circle cx="252.41" cy="402.50" r="1.5" fill="#4ea93a"/>
<circle cx="251.39" cy="405.00" r="1.5" fill="#4ea93a"/>
<circle cx="251.04" cy="407.50" r="1.5" fill="#4ea93a"/>
<circle cx="252.35" cy="410.00" r="1.5" fill="#4ea93a"/>
<circle cx="248.86" cy="403.75" r="1.5" fill="#4ea93a"/>
<circle cx="249.76" cy="406.25" r="1.5" fill="#4ea93a"/>
<circle cx="250.69" cy="408.75" r="1.5" fill="#4ea93a"/>
<line x1="179.50" y1="413.25" x2="179.50" y2="416.25" stroke="#111" stroke-width="0.95"/>
<line x1="209.50" y1="413.25" x2="209.50" y2="416.25" stroke="#111" stroke-width="0.95"/>
<line x1="240.00" y1="413.25" x2="240.00" y2="416.25" stroke="#111" stroke-width="0.95"/>
<rect x="217.80" y="379.55" width="1.9" height="1.9" rx="0.6" fill="#151515"/>
<rect x="248.65" y="384.25" width="1.9" height="1.9" rx="0.6" fill="#151515"/>
<rect x="248.65" y="387.60" width="1.9" height="1.9" rx="0.6" fill="#151515"/>
<rect x="248.65" y="390.95" width="1.9" height="1.9" rx="0.6" fill="#151515"/>
<rect x="248.65" y="394.30" width="1.9" height="1.9" rx="0.6" fill="#151515"/>
<text font-size="9.4" text-anchor="end" fill="#222" transform="translate(183.30,424.20) rotate(-45) scale(0.92,1)">IgD<tspan font-size="6.4" dy="-3.6">-</tspan><tspan dy="3.6">IgM</tspan><tspan font-size="6.4" dy="-3.6">hi</tspan></text>
<text font-size="9.4" text-anchor="end" fill="#222" transform="translate(217.00,423.20) rotate(-45) scale(0.92,1)">IgD<tspan font-size="6.4" dy="-3.6">+</tspan><tspan dy="3.6">IgM</tspan><tspan font-size="6.4" dy="-3.6">hi</tspan></text>
<text font-size="9.4" text-anchor="end" fill="#222" transform="translate(245.80,423.20) rotate(-45) scale(0.92,1)">IgD<tspan font-size="6.4" dy="-3.6">+</tspan><tspan dy="3.6">IgM</tspan><tspan font-size="6.4" dy="-3.6">lo</tspan></text>
<rect x="328.10" y="312.30" width="11.00" height="6.70" fill="#8e94bb" stroke="none" stroke-width="1" />
<text transform="translate(342.60,318.00) scale(0.95,1)" font-size="8.1" text-anchor="start" font-weight="normal" font-style="italic" fill="#222" >Ubr5<tspan font-size="5.5" dx="0.6" dy="-3.4">WT</tspan></text>
<rect x="379.20" y="312.30" width="11.00" height="6.70" fill="#f2c98f" stroke="none" stroke-width="1" />
<text transform="translate(393.70,318.00) scale(0.95,1)" font-size="8.1" text-anchor="start" font-weight="normal" font-style="italic" fill="#222" >Ubr5<tspan font-size="5.5" dx="0.6" dy="-3.4">&#916;HECT/WT</tspan></text>
<rect x="449.20" y="312.30" width="11.00" height="6.70" fill="#bad7a0" stroke="none" stroke-width="1" />
<text transform="translate(463.70,318.00) scale(0.95,1)" font-size="8.1" text-anchor="start" font-weight="normal" font-style="italic" fill="#222" >Ubr5<tspan font-size="5.5" dx="0.6" dy="-3.4">&#916;HECT</tspan></text>
<line x1="315.25" y1="332.50" x2="315.25" y2="413.75" stroke="#111" stroke-width="1.15"/>
<line x1="314.75" y1="413.25" x2="410.40" y2="413.25" stroke="#111" stroke-width="1.15"/>
<line x1="312.25" y1="335.50" x2="315.25" y2="335.50" stroke="#111" stroke-width="0.95"/>
<text transform="translate(309.25,338.40) scale(1.0,1)" font-size="8.3" text-anchor="end" font-weight="normal" font-style="normal" fill="#222" >30</text>
<line x1="312.25" y1="361.25" x2="315.25" y2="361.25" stroke="#111" stroke-width="0.95"/>
<text transform="translate(309.25,364.15) scale(1.0,1)" font-size="8.3" text-anchor="end" font-weight="normal" font-style="normal" fill="#222" >20</text>
<line x1="312.25" y1="387.00" x2="315.25" y2="387.00" stroke="#111" stroke-width="0.95"/>
<text transform="translate(309.25,389.90) scale(1.0,1)" font-size="8.3" text-anchor="end" font-weight="normal" font-style="normal" fill="#222" >10</text>
<line x1="312.25" y1="413.25" x2="315.25" y2="413.25" stroke="#111" stroke-width="0.95"/>
<text transform="translate(309.25,416.15) scale(1.0,1)" font-size="8.3" text-anchor="end" font-weight="normal" font-style="normal" fill="#222" >0</text>
<rect x="319.00" y="372.50" width="7.50" height="40.75" fill="#8e94bb" stroke="none" stroke-width="1" />
<rect x="328.50" y="372.00" width="7.75" height="41.25" fill="#f2c98f" stroke="none" stroke-width="1" />
<rect x="338.25" y="358.00" width="7.50" height="55.25" fill="#bad7a0" stroke="none" stroke-width="1" />
<rect x="349.00" y="395.00" width="7.50" height="18.25" fill="#8e94bb" stroke="none" stroke-width="1" />
<rect x="358.75" y="394.50" width="7.75" height="18.75" fill="#f2c98f" stroke="none" stroke-width="1" />
<rect x="368.75" y="394.50" width="7.50" height="18.75" fill="#bad7a0" stroke="none" stroke-width="1" />
<rect x="380.30" y="404.70" width="7.50" height="8.55" fill="#8e94bb" stroke="none" stroke-width="1" />
<rect x="389.70" y="406.30" width="7.80" height="6.95" fill="#f2c98f" stroke="none" stroke-width="1" />
<rect x="399.50" y="408.50" width="7.40" height="4.75" fill="#bad7a0" stroke="none" stroke-width="1" />
<line x1="322.75" y1="363.75" x2="322.75" y2="377.50" stroke="#2a4585" stroke-width="1.05"/>
<line x1="320.45" y1="363.75" x2="325.05" y2="363.75" stroke="#2a4585" stroke-width="1.05"/>
<line x1="320.45" y1="377.50" x2="325.05" y2="377.50" stroke="#2a4585" stroke-width="1.05"/>
<circle cx="324.19" cy="352.00" r="1.5" fill="#1f3c82"/>
<circle cx="321.34" cy="359.50" r="1.5" fill="#1f3c82"/>
<circle cx="324.01" cy="367.00" r="1.5" fill="#1f3c82"/>
<circle cx="320.90" cy="370.00" r="1.5" fill="#1f3c82"/>
<circle cx="322.08" cy="373.00" r="1.5" fill="#1f3c82"/>
<circle cx="322.59" cy="376.25" r="1.5" fill="#1f3c82"/>
<circle cx="323.72" cy="378.75" r="1.5" fill="#1f3c82"/>
<circle cx="322.85" cy="381.25" r="1.5" fill="#1f3c82"/>
<circle cx="324.32" cy="368.50" r="1.5" fill="#1f3c82"/>
<line x1="332.38" y1="365.00" x2="332.38" y2="377.50" stroke="#e29a3a" stroke-width="1.05"/>
<line x1="330.07" y1="365.00" x2="334.68" y2="365.00" stroke="#e29a3a" stroke-width="1.05"/>
<line x1="330.07" y1="377.50" x2="334.68" y2="377.50" stroke="#e29a3a" stroke-width="1.05"/>
<circle cx="333.29" cy="358.75" r="1.5" fill="#e38b1b"/>
<circle cx="331.82" cy="364.50" r="1.5" fill="#e38b1b"/>
<circle cx="332.47" cy="368.75" r="1.5" fill="#e38b1b"/>
<circle cx="331.85" cy="372.50" r="1.5" fill="#e38b1b"/>
<circle cx="334.14" cy="375.00" r="1.5" fill="#e38b1b"/>
<circle cx="331.44" cy="377.50" r="1.5" fill="#e38b1b"/>
<circle cx="330.86" cy="361.62" r="1.5" fill="#e38b1b"/>
<circle cx="331.16" cy="366.62" r="1.5" fill="#e38b1b"/>
<circle cx="331.19" cy="370.62" r="1.5" fill="#e38b1b"/>
<line x1="342.00" y1="351.25" x2="342.00" y2="377.50" stroke="#5aae48" stroke-width="1.05"/>
<line x1="339.70" y1="351.25" x2="344.30" y2="351.25" stroke="#5aae48" stroke-width="1.05"/>
<line x1="339.70" y1="377.50" x2="344.30" y2="377.50" stroke="#5aae48" stroke-width="1.05"/>
<circle cx="343.39" cy="341.25" r="1.5" fill="#4ea93a"/>
<circle cx="342.84" cy="357.50" r="1.5" fill="#4ea93a"/>
<circle cx="340.85" cy="360.00" r="1.5" fill="#4ea93a"/>
<circle cx="341.64" cy="362.50" r="1.5" fill="#4ea93a"/>
<circle cx="343.78" cy="365.50" r="1.5" fill="#4ea93a"/>
<circle cx="344.07" cy="371.25" r="1.5" fill="#4ea93a"/>
<circle cx="340.75" cy="375.00" r="1.5" fill="#4ea93a"/>
<circle cx="344.00" cy="358.75" r="1.5" fill="#4ea93a"/>
<circle cx="340.01" cy="361.25" r="1.5" fill="#4ea93a"/>
<line x1="352.75" y1="391.00" x2="352.75" y2="399.00" stroke="#2a4585" stroke-width="1.05"/>
<line x1="350.45" y1="391.00" x2="355.05" y2="391.00" stroke="#2a4585" stroke-width="1.05"/>
<line x1="350.45" y1="399.00" x2="355.05" y2="399.00" stroke="#2a4585" stroke-width="1.05"/>
<circle cx="355.10" cy="386.80" r="1.5" fill="#1f3c82"/>
<circle cx="351.10" cy="391.50" r="1.5" fill="#1f3c82"/>
<circle cx="353.70" cy="390.90" r="1.5" fill="#1f3c82"/>
<circle cx="353.10" cy="393.50" r="1.5" fill="#1f3c82"/>
<circle cx="355.10" cy="401.00" r="1.5" fill="#1f3c82"/>
<circle cx="351.10" cy="405.30" r="1.5" fill="#1f3c82"/>
<circle cx="352.00" cy="394.00" r="1.5" fill="#1f3c82"/>
<circle cx="355.00" cy="392.00" r="1.5" fill="#1f3c82"/>
<line x1="362.62" y1="385.00" x2="362.62" y2="402.50" stroke="#e29a3a" stroke-width="1.05"/>
<line x1="360.32" y1="385.00" x2="364.93" y2="385.00" stroke="#e29a3a" stroke-width="1.05"/>
<line x1="360.32" y1="402.50" x2="364.93" y2="402.50" stroke="#e29a3a" stroke-width="1.05"/>
<circle cx="364.99" cy="374.50" r="1.5" fill="#e38b1b"/>
<circle cx="361.77" cy="392.50" r="1.5" fill="#e38b1b"/>
<circle cx="364.78" cy="396.25" r="1.5" fill="#e38b1b"/>
<circle cx="360.40" cy="398.75" r="1.5" fill="#e38b1b"/>
<circle cx="363.52" cy="401.25" r="1.5" fill="#e38b1b"/>
<circle cx="364.64" cy="394.38" r="1.5" fill="#e38b1b"/>
<circle cx="364.15" cy="397.50" r="1.5" fill="#e38b1b"/>
<circle cx="362.97" cy="400.00" r="1.5" fill="#e38b1b"/>
<line x1="372.50" y1="387.00" x2="372.50" y2="402.00" stroke="#5aae48" stroke-width="1.05"/>
<line x1="370.20" y1="387.00" x2="374.80" y2="387.00" stroke="#5aae48" stroke-width="1.05"/>
<line x1="370.20" y1="402.00" x2="374.80" y2="402.00" stroke="#5aae48" stroke-width="1.05"/>
<circle cx="370.95" cy="382.50" r="1.5" fill="#4ea93a"/>
<circle cx="371.32" cy="385.00" r="1.5" fill="#4ea93a"/>
<circle cx="374.49" cy="388.75" r="1.5" fill="#4ea93a"/>
<circle cx="374.15" cy="393.75" r="1.5" fill="#4ea93a"/>
<circle cx="371.25" cy="397.50" r="1.5" fill="#4ea93a"/>
<circle cx="371.80" cy="401.25" r="1.5" fill="#4ea93a"/>
<circle cx="373.01" cy="383.75" r="1.5" fill="#4ea93a"/>
<circle cx="371.61" cy="386.88" r="1.5" fill="#4ea93a"/>
<circle cx="371.21" cy="391.25" r="1.5" fill="#4ea93a"/>
<line x1="384.05" y1="398.90" x2="384.05" y2="410.00" stroke="#2a4585" stroke-width="1.05"/>
<line x1="381.75" y1="398.90" x2="386.35" y2="398.90" stroke="#2a4585" stroke-width="1.05"/>
<line x1="381.75" y1="410.00" x2="386.35" y2="410.00" stroke="#2a4585" stroke-width="1.05"/>
<circle cx="382.50" cy="394.00" r="1.5" fill="#1f3c82"/>
<circle cx="385.30" cy="395.60" r="1.5" fill="#1f3c82"/>
<circle cx="383.80" cy="405.70" r="1.5" fill="#1f3c82"/>
<circle cx="382.50" cy="409.00" r="1.5" fill="#1f3c82"/>
<circle cx="385.20" cy="409.00" r="1.5" fill="#1f3c82"/>
<circle cx="384.00" cy="400.00" r="1.5" fill="#1f3c82"/>
<line x1="393.60" y1="404.00" x2="393.60" y2="410.00" stroke="#e29a3a" stroke-width="1.05"/>
<line x1="391.30" y1="404.00" x2="395.90" y2="404.00" stroke="#e29a3a" stroke-width="1.05"/>
<line x1="391.30" y1="410.00" x2="395.90" y2="410.00" stroke="#e29a3a" stroke-width="1.05"/>
<circle cx="391.50" cy="403.60" r="1.5" fill="#e38b1b"/>
<circle cx="395.50" cy="405.30" r="1.5" fill="#e38b1b"/>
<circle cx="392.80" cy="407.00" r="1.5" fill="#e38b1b"/>
<circle cx="394.10" cy="408.40" r="1.5" fill="#e38b1b"/>
<circle cx="391.50" cy="409.30" r="1.5" fill="#e38b1b"/>
<circle cx="395.50" cy="409.30" r="1.5" fill="#e38b1b"/>
<line x1="403.20" y1="404.70" x2="403.20" y2="411.00" stroke="#5aae48" stroke-width="1.05"/>
<line x1="400.90" y1="404.70" x2="405.50" y2="404.70" stroke="#5aae48" stroke-width="1.05"/>
<line x1="400.90" y1="411.00" x2="405.50" y2="411.00" stroke="#5aae48" stroke-width="1.05"/>
<circle cx="403.10" cy="401.00" r="1.5" fill="#4ea93a"/>
<circle cx="401.50" cy="407.70" r="1.5" fill="#4ea93a"/>
<circle cx="404.20" cy="409.00" r="1.5" fill="#4ea93a"/>
<circle cx="402.90" cy="410.40" r="1.5" fill="#4ea93a"/>
<circle cx="401.80" cy="411.00" r="1.5" fill="#4ea93a"/>
<line x1="331.50" y1="413.25" x2="331.50" y2="416.25" stroke="#111" stroke-width="0.95"/>
<line x1="362.50" y1="413.25" x2="362.50" y2="416.25" stroke="#111" stroke-width="0.95"/>
<line x1="393.00" y1="413.25" x2="393.00" y2="416.25" stroke="#111" stroke-width="0.95"/>
<rect x="340.55" y="329.75" width="1.9" height="1.9" rx="0.6" fill="#151515"/>
<rect x="340.55" y="333.10" width="1.9" height="1.9" rx="0.6" fill="#151515"/>
<rect x="401.35" y="389.75" width="1.9" height="1.9" rx="0.6" fill="#151515"/>
<text font-size="8.8" text-anchor="middle" fill="#222" transform="translate(294.60,372.50) rotate(-90) scale(0.86,1)" >% BM</text>
<text font-size="8.4" text-anchor="end" fill="#222" transform="translate(336.30,423.20) rotate(-45) scale(0.95,1)">PrePro</text>
<text font-size="8.4" text-anchor="end" fill="#222" transform="translate(366.30,423.20) rotate(-45) scale(0.95,1)">Immature</text>
<text font-size="8.4" text-anchor="end" fill="#222" transform="translate(397.80,423.20) rotate(-45) scale(0.95,1)">Recirculating</text>
<line x1="447.90" y1="333.00" x2="447.90" y2="413.70" stroke="#111" stroke-width="1.15"/>
<line x1="447.40" y1="413.20" x2="512.20" y2="413.20" stroke="#111" stroke-width="1.15"/>
<line x1="444.90" y1="335.90" x2="447.90" y2="335.90" stroke="#111" stroke-width="0.95"/>
<text transform="translate(441.90,338.80) scale(0.95,1)" font-size="8.3" text-anchor="end" font-weight="normal" font-style="normal" fill="#222" >50</text>
<line x1="444.90" y1="351.20" x2="447.90" y2="351.20" stroke="#111" stroke-width="0.95"/>
<text transform="translate(441.90,354.10) scale(0.95,1)" font-size="8.3" text-anchor="end" font-weight="normal" font-style="normal" fill="#222" >40</text>
<line x1="444.90" y1="366.70" x2="447.90" y2="366.70" stroke="#111" stroke-width="0.95"/>
<text transform="translate(441.90,369.60) scale(0.95,1)" font-size="8.3" text-anchor="end" font-weight="normal" font-style="normal" fill="#222" >30</text>
<line x1="444.90" y1="382.00" x2="447.90" y2="382.00" stroke="#111" stroke-width="0.95"/>
<text transform="translate(441.90,384.90) scale(0.95,1)" font-size="8.3" text-anchor="end" font-weight="normal" font-style="normal" fill="#222" >20</text>
<line x1="444.90" y1="397.90" x2="447.90" y2="397.90" stroke="#111" stroke-width="0.95"/>
<text transform="translate(441.90,400.80) scale(0.95,1)" font-size="8.3" text-anchor="end" font-weight="normal" font-style="normal" fill="#222" >10</text>
<line x1="444.90" y1="413.20" x2="447.90" y2="413.20" stroke="#111" stroke-width="0.95"/>
<text transform="translate(441.90,416.10) scale(0.95,1)" font-size="8.3" text-anchor="end" font-weight="normal" font-style="normal" fill="#222" >0</text>
<rect x="452.20" y="395.60" width="7.80" height="17.60" fill="#8e94bb" stroke="none" stroke-width="1" />
<rect x="461.70" y="397.90" width="7.80" height="15.30" fill="#f2c98f" stroke="none" stroke-width="1" />
<rect x="471.00" y="389.20" width="8.00" height="24.00" fill="#bad7a0" stroke="none" stroke-width="1" />
<rect x="481.90" y="354.00" width="7.80" height="59.20" fill="#8e94bb" stroke="none" stroke-width="1" />
<rect x="491.10" y="367.00" width="8.10" height="46.20" fill="#f2c98f" stroke="none" stroke-width="1" />
<rect x="500.70" y="369.60" width="7.80" height="43.60" fill="#bad7a0" stroke="none" stroke-width="1" />
<line x1="456.10" y1="390.00" x2="456.10" y2="402.00" stroke="#2a4585" stroke-width="1.05"/>
<line x1="453.80" y1="390.00" x2="458.40" y2="390.00" stroke="#2a4585" stroke-width="1.05"/>
<line x1="453.80" y1="402.00" x2="458.40" y2="402.00" stroke="#2a4585" stroke-width="1.05"/>
<circle cx="453.00" cy="389.80" r="1.5" fill="#1f3c82"/>
<circle cx="457.30" cy="389.30" r="1.5" fill="#1f3c82"/>
<circle cx="455.20" cy="392.20" r="1.5" fill="#1f3c82"/>
<circle cx="453.70" cy="394.40" r="1.5" fill="#1f3c82"/>
<circle cx="457.30" cy="394.70" r="1.5" fill="#1f3c82"/>
<circle cx="455.90" cy="396.50" r="1.5" fill="#1f3c82"/>
<circle cx="458.00" cy="398.70" r="1.5" fill="#1f3c82"/>
<circle cx="454.40" cy="398.70" r="1.5" fill="#1f3c82"/>
<circle cx="453.70" cy="403.80" r="1.5" fill="#1f3c82"/>
<circle cx="456.00" cy="401.00" r="1.5" fill="#1f3c82"/>
<line x1="465.60" y1="391.00" x2="465.60" y2="404.00" stroke="#e29a3a" stroke-width="1.05"/>
<line x1="463.30" y1="391.00" x2="467.90" y2="391.00" stroke="#e29a3a" stroke-width="1.05"/>
<line x1="463.30" y1="404.00" x2="467.90" y2="404.00" stroke="#e29a3a" stroke-width="1.05"/>
<circle cx="464.80" cy="390.00" r="1.5" fill="#e38b1b"/>
<circle cx="466.70" cy="394.70" r="1.5" fill="#e38b1b"/>
<circle cx="463.80" cy="395.80" r="1.5" fill="#e38b1b"/>
<circle cx="466.00" cy="398.00" r="1.5" fill="#e38b1b"/>
<circle cx="464.50" cy="400.20" r="1.5" fill="#e38b1b"/>
<circle cx="466.70" cy="401.60" r="1.5" fill="#e38b1b"/>
<circle cx="465.30" cy="403.80" r="1.5" fill="#e38b1b"/>
<circle cx="467.00" cy="392.50" r="1.5" fill="#e38b1b"/>
<line x1="475.00" y1="387.00" x2="475.00" y2="394.00" stroke="#5aae48" stroke-width="1.05"/>
<line x1="472.70" y1="387.00" x2="477.30" y2="387.00" stroke="#5aae48" stroke-width="1.05"/>
<line x1="472.70" y1="394.00" x2="477.30" y2="394.00" stroke="#5aae48" stroke-width="1.05"/>
<circle cx="476.84" cy="388.60" r="1.5" fill="#4ea93a"/>
<circle cx="473.06" cy="389.80" r="1.5" fill="#4ea93a"/>
<circle cx="475.66" cy="391.50" r="1.5" fill="#4ea93a"/>
<circle cx="474.53" cy="393.70" r="1.5" fill="#4ea93a"/>
<circle cx="474.85" cy="392.20" r="1.5" fill="#4ea93a"/>
<circle cx="476.86" cy="395.80" r="1.5" fill="#4ea93a"/>
<circle cx="476.23" cy="390.50" r="1.5" fill="#4ea93a"/>
<circle cx="476.37" cy="394.50" r="1.5" fill="#4ea93a"/>
<circle cx="472.58" cy="389.20" r="1.5" fill="#4ea93a"/>
<line x1="485.80" y1="345.00" x2="485.80" y2="362.60" stroke="#2a4585" stroke-width="1.05"/>
<line x1="483.50" y1="345.00" x2="488.10" y2="345.00" stroke="#2a4585" stroke-width="1.05"/>
<line x1="483.50" y1="362.60" x2="488.10" y2="362.60" stroke="#2a4585" stroke-width="1.05"/>
<circle cx="487.29" cy="341.70" r="1.5" fill="#1f3c82"/>
<circle cx="487.20" cy="347.50" r="1.5" fill="#1f3c82"/>
<circle cx="483.40" cy="351.10" r="1.5" fill="#1f3c82"/>
<circle cx="484.48" cy="354.70" r="1.5" fill="#1f3c82"/>
<circle cx="486.91" cy="357.60" r="1.5" fill="#1f3c82"/>
<circle cx="487.57" cy="359.00" r="1.5" fill="#1f3c82"/>
<circle cx="485.99" cy="361.20" r="1.5" fill="#1f3c82"/>
<circle cx="487.67" cy="362.60" r="1.5" fill="#1f3c82"/>
<circle cx="483.82" cy="356.00" r="1.5" fill="#1f3c82"/>
<circle cx="484.65" cy="352.50" r="1.5" fill="#1f3c82"/>
<line x1="495.15" y1="356.50" x2="495.15" y2="377.00" stroke="#e29a3a" stroke-width="1.05"/>
<line x1="492.85" y1="356.50" x2="497.45" y2="356.50" stroke="#e29a3a" stroke-width="1.05"/>
<line x1="492.85" y1="377.00" x2="497.45" y2="377.00" stroke="#e29a3a" stroke-width="1.05"/>
<circle cx="496.78" cy="356.10" r="1.5" fill="#e38b1b"/>
<circle cx="496.65" cy="358.30" r="1.5" fill="#e38b1b"/>
<circle cx="493.74" cy="359.00" r="1.5" fill="#e38b1b"/>
<circle cx="495.50" cy="362.60" r="1.5" fill="#e38b1b"/>
<circle cx="494.84" cy="365.50" r="1.5" fill="#e38b1b"/>
<circle cx="496.37" cy="367.70" r="1.5" fill="#e38b1b"/>
<circle cx="494.63" cy="377.10" r="1.5" fill="#e38b1b"/>
<circle cx="494.23" cy="381.40" r="1.5" fill="#e38b1b"/>
<circle cx="496.49" cy="382.10" r="1.5" fill="#e38b1b"/>
<circle cx="496.15" cy="360.50" r="1.5" fill="#e38b1b"/>
<line x1="504.60" y1="361.80" x2="504.60" y2="377.00" stroke="#5aae48" stroke-width="1.05"/>
<line x1="502.30" y1="361.80" x2="506.90" y2="361.80" stroke="#5aae48" stroke-width="1.05"/>
<line x1="502.30" y1="377.00" x2="506.90" y2="377.00" stroke="#5aae48" stroke-width="1.05"/>
<circle cx="503.94" cy="352.50" r="1.5" fill="#4ea93a"/>
<circle cx="505.63" cy="361.90" r="1.5" fill="#4ea93a"/>
<circle cx="503.46" cy="365.20" r="1.5" fill="#4ea93a"/>
<circle cx="504.60" cy="369.80" r="1.5" fill="#4ea93a"/>
<circle cx="503.10" cy="371.30" r="1.5" fill="#4ea93a"/>
<circle cx="503.85" cy="372.70" r="1.5" fill="#4ea93a"/>
<circle cx="504.21" cy="375.60" r="1.5" fill="#4ea93a"/>
<circle cx="502.62" cy="377.80" r="1.5" fill="#4ea93a"/>
<circle cx="503.70" cy="368.00" r="1.5" fill="#4ea93a"/>
<line x1="462.30" y1="413.20" x2="462.30" y2="416.20" stroke="#111" stroke-width="0.95"/>
<line x1="494.00" y1="413.20" x2="494.00" y2="416.20" stroke="#111" stroke-width="0.95"/>
<rect x="472.05" y="380.45" width="1.9" height="1.9" rx="0.6" fill="#151515"/>
<rect x="493.25" y="342.05" width="1.9" height="1.9" rx="0.6" fill="#151515"/>
<rect x="493.25" y="345.40" width="1.9" height="1.9" rx="0.6" fill="#151515"/>
<rect x="493.25" y="348.75" width="1.9" height="1.9" rx="0.6" fill="#151515"/>
<rect x="502.65" y="335.45" width="1.9" height="1.9" rx="0.6" fill="#151515"/>
<rect x="502.65" y="338.80" width="1.9" height="1.9" rx="0.6" fill="#151515"/>
<rect x="502.65" y="342.15" width="1.9" height="1.9" rx="0.6" fill="#151515"/>
<rect x="502.65" y="345.50" width="1.9" height="1.9" rx="0.6" fill="#151515"/>
<text font-size="8.4" text-anchor="end" fill="#222" transform="translate(469.80,423.20) rotate(-45) scale(0.95,1)">cKit+ Pro</text>
<text font-size="8.4" text-anchor="end" fill="#222" transform="translate(499.80,423.20) rotate(-45) scale(0.95,1)">CD25+ Pre</text>
<rect x="328.10" y="471.20" width="11.00" height="6.70" fill="#8e94bb" stroke="none" stroke-width="1" />
<text transform="translate(342.60,476.90) scale(0.95,1)" font-size="8.1" text-anchor="start" font-weight="normal" font-style="italic" fill="#222" >Ubr5<tspan font-size="5.5" dx="0.6" dy="-3.4">WT</tspan></text>
<rect x="379.20" y="471.20" width="11.00" height="6.70" fill="#f2c98f" stroke="none" stroke-width="1" />
<text transform="translate(393.70,476.90) scale(0.95,1)" font-size="8.1" text-anchor="start" font-weight="normal" font-style="italic" fill="#222" >Ubr5<tspan font-size="5.5" dx="0.6" dy="-3.4">&#916;HECT/WT</tspan></text>
<rect x="449.20" y="471.20" width="11.00" height="6.70" fill="#bad7a0" stroke="none" stroke-width="1" />
<text transform="translate(463.70,476.90) scale(0.95,1)" font-size="8.1" text-anchor="start" font-weight="normal" font-style="italic" fill="#222" >Ubr5<tspan font-size="5.5" dx="0.6" dy="-3.4">&#916;HECT</tspan></text>
<line x1="315.25" y1="492.00" x2="315.25" y2="572.50" stroke="#111" stroke-width="1.15"/>
<line x1="314.75" y1="572.00" x2="410.40" y2="572.00" stroke="#111" stroke-width="1.15"/>
<line x1="312.25" y1="494.25" x2="315.25" y2="494.25" stroke="#111" stroke-width="0.95"/>
<text transform="translate(309.25,497.65) scale(0.98,1)" font-size="8.3" text-anchor="end" font-weight="normal" font-style="normal" fill="#222" >3X10<tspan font-size="6.3" dy="-3.5">6</tspan></text>
<line x1="312.25" y1="520.00" x2="315.25" y2="520.00" stroke="#111" stroke-width="0.95"/>
<text transform="translate(309.25,523.40) scale(0.98,1)" font-size="8.3" text-anchor="end" font-weight="normal" font-style="normal" fill="#222" >2X10<tspan font-size="6.3" dy="-3.5">6</tspan></text>
<line x1="312.25" y1="546.25" x2="315.25" y2="546.25" stroke="#111" stroke-width="0.95"/>
<text transform="translate(309.25,549.65) scale(0.98,1)" font-size="8.3" text-anchor="end" font-weight="normal" font-style="normal" fill="#222" >1X10<tspan font-size="6.3" dy="-3.5">6</tspan></text>
<line x1="312.25" y1="572.00" x2="315.25" y2="572.00" stroke="#111" stroke-width="0.95"/>
<text transform="translate(309.25,574.90) scale(0.98,1)" font-size="8.3" text-anchor="end" font-weight="normal" font-style="normal" fill="#222" >0</text>
<rect x="318.70" y="526.30" width="7.70" height="45.20" fill="#8e94bb" stroke="none" stroke-width="1" />
<rect x="328.30" y="520.60" width="7.70" height="50.90" fill="#f2c98f" stroke="none" stroke-width="1" />
<rect x="338.00" y="511.90" width="7.70" height="59.60" fill="#bad7a0" stroke="none" stroke-width="1" />
<rect x="349.50" y="553.30" width="7.70" height="18.20" fill="#8e94bb" stroke="none" stroke-width="1" />
<rect x="359.10" y="548.50" width="7.70" height="23.00" fill="#f2c98f" stroke="none" stroke-width="1" />
<rect x="369.10" y="549.40" width="7.70" height="22.10" fill="#bad7a0" stroke="none" stroke-width="1" />
<rect x="380.30" y="563.80" width="7.70" height="7.70" fill="#8e94bb" stroke="none" stroke-width="1" />
<rect x="389.90" y="564.80" width="7.70" height="6.70" fill="#f2c98f" stroke="none" stroke-width="1" />
<rect x="399.50" y="566.70" width="7.70" height="4.80" fill="#bad7a0" stroke="none" stroke-width="1" />
<line x1="322.55" y1="521.20" x2="322.55" y2="537.00" stroke="#2a4585" stroke-width="1.05"/>
<line x1="320.25" y1="521.20" x2="324.85" y2="521.20" stroke="#2a4585" stroke-width="1.05"/>
<line x1="320.25" y1="537.00" x2="324.85" y2="537.00" stroke="#2a4585" stroke-width="1.05"/>
<circle cx="321.85" cy="510.00" r="1.5" fill="#1f3c82"/>
<circle cx="321.74" cy="517.70" r="1.5" fill="#1f3c82"/>
<circle cx="322.58" cy="525.40" r="1.5" fill="#1f3c82"/>
<circle cx="324.43" cy="528.30" r="1.5" fill="#1f3c82"/>
<circle cx="324.19" cy="530.20" r="1.5" fill="#1f3c82"/>
<circle cx="321.59" cy="532.10" r="1.5" fill="#1f3c82"/>
<circle cx="320.83" cy="534.00" r="1.5" fill="#1f3c82"/>
<circle cx="320.61" cy="536.00" r="1.5" fill="#1f3c82"/>
<circle cx="324.36" cy="537.90" r="1.5" fill="#1f3c82"/>
<circle cx="323.77" cy="539.80" r="1.5" fill="#1f3c82"/>
<circle cx="323.67" cy="541.20" r="1.5" fill="#1f3c82"/>
<circle cx="324.47" cy="531.00" r="1.5" fill="#1f3c82"/>
<line x1="332.15" y1="512.90" x2="332.15" y2="529.20" stroke="#e29a3a" stroke-width="1.05"/>
<line x1="329.85" y1="512.90" x2="334.45" y2="512.90" stroke="#e29a3a" stroke-width="1.05"/>
<line x1="329.85" y1="529.20" x2="334.45" y2="529.20" stroke="#e29a3a" stroke-width="1.05"/>
<circle cx="331.69" cy="505.80" r="1.5" fill="#e38b1b"/>
<circle cx="330.60" cy="512.90" r="1.5" fill="#e38b1b"/>
<circle cx="330.23" cy="518.70" r="1.5" fill="#e38b1b"/>
<circle cx="331.68" cy="520.60" r="1.5" fill="#e38b1b"/>
<circle cx="333.41" cy="523.50" r="1.5" fill="#e38b1b"/>
<circle cx="330.20" cy="525.40" r="1.5" fill="#e38b1b"/>
<circle cx="331.86" cy="528.30" r="1.5" fill="#e38b1b"/>
<circle cx="330.18" cy="529.20" r="1.5" fill="#e38b1b"/>
<circle cx="330.81" cy="522.00" r="1.5" fill="#e38b1b"/>
<line x1="341.85" y1="501.30" x2="341.85" y2="521.50" stroke="#5aae48" stroke-width="1.05"/>
<line x1="339.55" y1="501.30" x2="344.15" y2="501.30" stroke="#5aae48" stroke-width="1.05"/>
<line x1="339.55" y1="521.50" x2="344.15" y2="521.50" stroke="#5aae48" stroke-width="1.05"/>
<circle cx="342.10" cy="504.20" r="1.5" fill="#4ea93a"/>
<circle cx="342.56" cy="509.00" r="1.5" fill="#4ea93a"/>
<circle cx="343.93" cy="509.00" r="1.5" fill="#4ea93a"/>
<circle cx="341.01" cy="511.90" r="1.5" fill="#4ea93a"/>
<circle cx="340.59" cy="515.80" r="1.5" fill="#4ea93a"/>
<circle cx="339.79" cy="521.50" r="1.5" fill="#4ea93a"/>
<circle cx="340.38" cy="530.20" r="1.5" fill="#4ea93a"/>
<circle cx="339.66" cy="513.50" r="1.5" fill="#4ea93a"/>
<circle cx="339.51" cy="506.60" r="1.5" fill="#4ea93a"/>
<line x1="353.35" y1="549.00" x2="353.35" y2="562.00" stroke="#2a4585" stroke-width="1.05"/>
<line x1="351.05" y1="549.00" x2="355.65" y2="549.00" stroke="#2a4585" stroke-width="1.05"/>
<line x1="351.05" y1="562.00" x2="355.65" y2="562.00" stroke="#2a4585" stroke-width="1.05"/>
<circle cx="351.54" cy="545.60" r="1.5" fill="#1f3c82"/>
<circle cx="353.52" cy="549.40" r="1.5" fill="#1f3c82"/>
<circle cx="353.15" cy="551.30" r="1.5" fill="#1f3c82"/>
<circle cx="355.26" cy="554.20" r="1.5" fill="#1f3c82"/>
<circle cx="353.28" cy="560.00" r="1.5" fill="#1f3c82"/>
<circle cx="351.41" cy="563.80" r="1.5" fill="#1f3c82"/>
<circle cx="351.69" cy="556.00" r="1.5" fill="#1f3c82"/>
<circle cx="354.29" cy="552.00" r="1.5" fill="#1f3c82"/>
<circle cx="355.61" cy="547.50" r="1.5" fill="#1f3c82"/>
<line x1="362.95" y1="537.90" x2="362.95" y2="558.00" stroke="#e29a3a" stroke-width="1.05"/>
<line x1="360.65" y1="537.90" x2="365.25" y2="537.90" stroke="#e29a3a" stroke-width="1.05"/>
<line x1="360.65" y1="558.00" x2="365.25" y2="558.00" stroke="#e29a3a" stroke-width="1.05"/>
<circle cx="364.12" cy="525.40" r="1.5" fill="#e38b1b"/>
<circle cx="361.70" cy="544.60" r="1.5" fill="#e38b1b"/>
<circle cx="362.22" cy="547.50" r="1.5" fill="#e38b1b"/>
<circle cx="362.66" cy="551.30" r="1.5" fill="#e38b1b"/>
<circle cx="362.64" cy="555.20" r="1.5" fill="#e38b1b"/>
<circle cx="361.93" cy="557.10" r="1.5" fill="#e38b1b"/>
<circle cx="361.33" cy="558.10" r="1.5" fill="#e38b1b"/>
<circle cx="360.72" cy="549.00" r="1.5" fill="#e38b1b"/>
<circle cx="364.74" cy="546.05" r="1.5" fill="#e38b1b"/>
<line x1="372.95" y1="541.00" x2="372.95" y2="558.00" stroke="#5aae48" stroke-width="1.05"/>
<line x1="370.65" y1="541.00" x2="375.25" y2="541.00" stroke="#5aae48" stroke-width="1.05"/>
<line x1="370.65" y1="558.00" x2="375.25" y2="558.00" stroke="#5aae48" stroke-width="1.05"/>
<circle cx="375.18" cy="537.90" r="1.5" fill="#4ea93a"/>
<circle cx="375.20" cy="542.70" r="1.5" fill="#4ea93a"/>
<circle cx="372.39" cy="542.70" r="1.5" fill="#4ea93a"/>
<circle cx="373.83" cy="548.50" r="1.5" fill="#4ea93a"/>
<circle cx="371.57" cy="551.30" r="1.5" fill="#4ea93a"/>
<circle cx="371.13" cy="553.30" r="1.5" fill="#4ea93a"/>
<circle cx="370.61" cy="558.10" r="1.5" fill="#4ea93a"/>
<circle cx="372.17" cy="546.00" r="1.5" fill="#4ea93a"/>
<circle cx="374.35" cy="540.30" r="1.5" fill="#4ea93a"/>
<line x1="384.15" y1="556.00" x2="384.15" y2="570.00" stroke="#2a4585" stroke-width="1.05"/>
<line x1="381.85" y1="556.00" x2="386.45" y2="556.00" stroke="#2a4585" stroke-width="1.05"/>
<line x1="381.85" y1="570.00" x2="386.45" y2="570.00" stroke="#2a4585" stroke-width="1.05"/>
<circle cx="384.28" cy="553.30" r="1.5" fill="#1f3c82"/>
<circle cx="382.90" cy="554.20" r="1.5" fill="#1f3c82"/>
<circle cx="384.06" cy="561.00" r="1.5" fill="#1f3c82"/>
<circle cx="384.34" cy="563.80" r="1.5" fill="#1f3c82"/>
<circle cx="382.72" cy="566.70" r="1.5" fill="#1f3c82"/>
<circle cx="383.90" cy="558.00" r="1.5" fill="#1f3c82"/>
<circle cx="386.17" cy="553.75" r="1.5" fill="#1f3c82"/>
<circle cx="383.90" cy="556.10" r="1.5" fill="#1f3c82"/>
<circle cx="386.45" cy="559.50" r="1.5" fill="#1f3c82"/>
<line x1="393.75" y1="561.00" x2="393.75" y2="568.00" stroke="#e29a3a" stroke-width="1.05"/>
<line x1="391.45" y1="561.00" x2="396.05" y2="561.00" stroke="#e29a3a" stroke-width="1.05"/>
<line x1="391.45" y1="568.00" x2="396.05" y2="568.00" stroke="#e29a3a" stroke-width="1.05"/>
<circle cx="394.80" cy="561.00" r="1.5" fill="#e38b1b"/>
<circle cx="392.00" cy="562.90" r="1.5" fill="#e38b1b"/>
<circle cx="395.72" cy="564.80" r="1.5" fill="#e38b1b"/>
<circle cx="394.65" cy="567.70" r="1.5" fill="#e38b1b"/>
<circle cx="393.48" cy="561.95" r="1.5" fill="#e38b1b"/>
<circle cx="392.29" cy="563.85" r="1.5" fill="#e38b1b"/>
<circle cx="394.49" cy="566.25" r="1.5" fill="#e38b1b"/>
<line x1="403.35" y1="562.30" x2="403.35" y2="570.00" stroke="#5aae48" stroke-width="1.05"/>
<line x1="401.05" y1="562.30" x2="405.65" y2="562.30" stroke="#5aae48" stroke-width="1.05"/>
<line x1="401.05" y1="570.00" x2="405.65" y2="570.00" stroke="#5aae48" stroke-width="1.05"/>
<circle cx="401.89" cy="556.20" r="1.5" fill="#4ea93a"/>
<circle cx="403.17" cy="565.80" r="1.5" fill="#4ea93a"/>
<circle cx="401.71" cy="568.70" r="1.5" fill="#4ea93a"/>
<circle cx="402.94" cy="567.00" r="1.5" fill="#4ea93a"/>
<circle cx="405.55" cy="566.40" r="1.5" fill="#4ea93a"/>
<circle cx="403.81" cy="567.85" r="1.5" fill="#4ea93a"/>
<line x1="331.50" y1="572.00" x2="331.50" y2="575.00" stroke="#111" stroke-width="0.95"/>
<line x1="362.50" y1="572.00" x2="362.50" y2="575.00" stroke="#111" stroke-width="0.95"/>
<line x1="393.00" y1="572.00" x2="393.00" y2="575.00" stroke="#111" stroke-width="0.95"/>
<rect x="340.35" y="489.35" width="1.9" height="1.9" rx="0.6" fill="#151515"/>
<rect x="340.35" y="492.70" width="1.9" height="1.9" rx="0.6" fill="#151515"/>
<rect x="340.35" y="496.05" width="1.9" height="1.9" rx="0.6" fill="#151515"/>
<rect x="401.35" y="547.55" width="1.9" height="1.9" rx="0.6" fill="#151515"/>
<text font-size="8.6" text-anchor="middle" fill="#222" transform="translate(281.20,532.00) rotate(-90) scale(0.86,1)" >Absolute number</text>
<text font-size="8.4" text-anchor="end" fill="#222" transform="translate(336.30,582.20) rotate(-45) scale(0.95,1)">PrePro</text>
<text font-size="8.4" text-anchor="end" fill="#222" transform="translate(366.30,582.20) rotate(-45) scale(0.95,1)">Immature</text>
<text font-size="8.4" text-anchor="end" fill="#222" transform="translate(397.80,582.20) rotate(-45) scale(0.95,1)">Recirculating</text>
<line x1="447.90" y1="491.70" x2="447.90" y2="572.10" stroke="#111" stroke-width="1.15"/>
<line x1="447.40" y1="571.60" x2="512.20" y2="571.60" stroke="#111" stroke-width="1.15"/>
<line x1="444.90" y1="494.60" x2="447.90" y2="494.60" stroke="#111" stroke-width="0.95"/>
<text transform="translate(441.90,498.00) scale(0.98,1)" font-size="8.3" text-anchor="end" font-weight="normal" font-style="normal" fill="#222" >1X10<tspan font-size="6.3" dy="-3.5">6</tspan></text>
<line x1="444.90" y1="510.20" x2="447.90" y2="510.20" stroke="#111" stroke-width="0.95"/>
<text transform="translate(441.90,513.60) scale(0.98,1)" font-size="8.3" text-anchor="end" font-weight="normal" font-style="normal" fill="#222" >8X10<tspan font-size="6.3" dy="-3.5">5</tspan></text>
<line x1="444.90" y1="525.50" x2="447.90" y2="525.50" stroke="#111" stroke-width="0.95"/>
<text transform="translate(441.90,528.90) scale(0.98,1)" font-size="8.3" text-anchor="end" font-weight="normal" font-style="normal" fill="#222" >6X10<tspan font-size="6.3" dy="-3.5">5</tspan></text>
<line x1="444.90" y1="541.00" x2="447.90" y2="541.00" stroke="#111" stroke-width="0.95"/>
<text transform="translate(441.90,544.40) scale(0.98,1)" font-size="8.3" text-anchor="end" font-weight="normal" font-style="normal" fill="#222" >4X10<tspan font-size="6.3" dy="-3.5">5</tspan></text>
<line x1="444.90" y1="556.60" x2="447.90" y2="556.60" stroke="#111" stroke-width="0.95"/>
<text transform="translate(441.90,560.00) scale(0.98,1)" font-size="8.3" text-anchor="end" font-weight="normal" font-style="normal" fill="#222" >2X10<tspan font-size="6.3" dy="-3.5">5</tspan></text>
<line x1="444.90" y1="571.60" x2="447.90" y2="571.60" stroke="#111" stroke-width="0.95"/>
<text transform="translate(441.90,574.50) scale(0.98,1)" font-size="8.3" text-anchor="end" font-weight="normal" font-style="normal" fill="#222" >0</text>
<rect x="451.50" y="555.00" width="7.50" height="16.60" fill="#8e94bb" stroke="none" stroke-width="1" />
<rect x="461.30" y="553.50" width="7.90" height="18.10" fill="#f2c98f" stroke="none" stroke-width="1" />
<rect x="471.00" y="549.20" width="7.80" height="22.40" fill="#bad7a0" stroke="none" stroke-width="1" />
<rect x="482.10" y="522.80" width="7.70" height="48.80" fill="#8e94bb" stroke="none" stroke-width="1" />
<rect x="491.50" y="521.00" width="7.70" height="50.60" fill="#f2c98f" stroke="none" stroke-width="1" />
<rect x="501.00" y="520.80" width="7.80" height="50.80" fill="#bad7a0" stroke="none" stroke-width="1" />
<line x1="455.25" y1="550.00" x2="455.25" y2="563.00" stroke="#2a4585" stroke-width="1.05"/>
<line x1="452.95" y1="550.00" x2="457.55" y2="550.00" stroke="#2a4585" stroke-width="1.05"/>
<line x1="452.95" y1="563.00" x2="457.55" y2="563.00" stroke="#2a4585" stroke-width="1.05"/>
<circle cx="455.31" cy="547.80" r="1.5" fill="#1f3c82"/>
<circle cx="455.78" cy="551.40" r="1.5" fill="#1f3c82"/>
<circle cx="455.95" cy="555.00" r="1.5" fill="#1f3c82"/>
<circle cx="455.71" cy="556.40" r="1.5" fill="#1f3c82"/>
<circle cx="454.28" cy="557.20" r="1.5" fill="#1f3c82"/>
<circle cx="453.96" cy="560.00" r="1.5" fill="#1f3c82"/>
<circle cx="455.73" cy="562.20" r="1.5" fill="#1f3c82"/>
<circle cx="457.18" cy="565.10" r="1.5" fill="#1f3c82"/>
<circle cx="456.92" cy="553.00" r="1.5" fill="#1f3c82"/>
<circle cx="455.20" cy="558.50" r="1.5" fill="#1f3c82"/>
<line x1="465.25" y1="548.00" x2="465.25" y2="559.00" stroke="#e29a3a" stroke-width="1.05"/>
<line x1="462.95" y1="548.00" x2="467.55" y2="548.00" stroke="#e29a3a" stroke-width="1.05"/>
<line x1="462.95" y1="559.00" x2="467.55" y2="559.00" stroke="#e29a3a" stroke-width="1.05"/>
<circle cx="464.25" cy="548.50" r="1.5" fill="#e38b1b"/>
<circle cx="465.68" cy="547.80" r="1.5" fill="#e38b1b"/>
<circle cx="463.03" cy="552.10" r="1.5" fill="#e38b1b"/>
<circle cx="465.23" cy="555.00" r="1.5" fill="#e38b1b"/>
<circle cx="466.64" cy="557.90" r="1.5" fill="#e38b1b"/>
<circle cx="467.54" cy="559.30" r="1.5" fill="#e38b1b"/>
<circle cx="463.25" cy="560.80" r="1.5" fill="#e38b1b"/>
<circle cx="463.78" cy="554.00" r="1.5" fill="#e38b1b"/>
<circle cx="465.15" cy="550.00" r="1.5" fill="#e38b1b"/>
<line x1="474.90" y1="540.00" x2="474.90" y2="556.00" stroke="#5aae48" stroke-width="1.05"/>
<line x1="472.60" y1="540.00" x2="477.20" y2="540.00" stroke="#5aae48" stroke-width="1.05"/>
<line x1="472.60" y1="556.00" x2="477.20" y2="556.00" stroke="#5aae48" stroke-width="1.05"/>
<circle cx="475.42" cy="538.10" r="1.5" fill="#4ea93a"/>
<circle cx="477.13" cy="541.30" r="1.5" fill="#4ea93a"/>
<circle cx="473.02" cy="544.90" r="1.5" fill="#4ea93a"/>
<circle cx="473.12" cy="548.50" r="1.5" fill="#4ea93a"/>
<circle cx="474.83" cy="548.50" r="1.5" fill="#4ea93a"/>
<circle cx="476.31" cy="551.40" r="1.5" fill="#4ea93a"/>
<circle cx="472.64" cy="560.00" r="1.5" fill="#4ea93a"/>
<circle cx="474.33" cy="546.00" r="1.5" fill="#4ea93a"/>
<circle cx="475.91" cy="553.00" r="1.5" fill="#4ea93a"/>
<line x1="485.95" y1="513.00" x2="485.95" y2="535.50" stroke="#2a4585" stroke-width="1.05"/>
<line x1="483.65" y1="513.00" x2="488.25" y2="513.00" stroke="#2a4585" stroke-width="1.05"/>
<line x1="483.65" y1="535.50" x2="488.25" y2="535.50" stroke="#2a4585" stroke-width="1.05"/>
<circle cx="485.58" cy="498.30" r="1.5" fill="#1f3c82"/>
<circle cx="484.44" cy="508.80" r="1.5" fill="#1f3c82"/>
<circle cx="483.93" cy="513.10" r="1.5" fill="#1f3c82"/>
<circle cx="487.18" cy="518.90" r="1.5" fill="#1f3c82"/>
<circle cx="486.00" cy="522.50" r="1.5" fill="#1f3c82"/>
<circle cx="486.13" cy="523.20" r="1.5" fill="#1f3c82"/>
<circle cx="486.81" cy="528.30" r="1.5" fill="#1f3c82"/>
<circle cx="487.18" cy="532.60" r="1.5" fill="#1f3c82"/>
<circle cx="485.49" cy="534.80" r="1.5" fill="#1f3c82"/>
<circle cx="485.32" cy="540.60" r="1.5" fill="#1f3c82"/>
<circle cx="487.92" cy="539.10" r="1.5" fill="#1f3c82"/>
<circle cx="483.96" cy="526.00" r="1.5" fill="#1f3c82"/>
<circle cx="487.25" cy="520.00" r="1.5" fill="#1f3c82"/>
<line x1="495.35" y1="508.00" x2="495.35" y2="531.00" stroke="#e29a3a" stroke-width="1.05"/>
<line x1="493.05" y1="508.00" x2="497.65" y2="508.00" stroke="#e29a3a" stroke-width="1.05"/>
<line x1="493.05" y1="531.00" x2="497.65" y2="531.00" stroke="#e29a3a" stroke-width="1.05"/>
<circle cx="495.17" cy="503.00" r="1.5" fill="#e38b1b"/>
<circle cx="495.50" cy="508.10" r="1.5" fill="#e38b1b"/>
<circle cx="494.18" cy="512.40" r="1.5" fill="#e38b1b"/>
<circle cx="497.43" cy="526.80" r="1.5" fill="#e38b1b"/>
<circle cx="494.43" cy="529.70" r="1.5" fill="#e38b1b"/>
<circle cx="494.51" cy="529.70" r="1.5" fill="#e38b1b"/>
<circle cx="493.28" cy="524.00" r="1.5" fill="#e38b1b"/>
<circle cx="497.19" cy="527.50" r="1.5" fill="#e38b1b"/>
<circle cx="496.90" cy="505.55" r="1.5" fill="#e38b1b"/>
<line x1="504.90" y1="508.80" x2="504.90" y2="531.00" stroke="#5aae48" stroke-width="1.05"/>
<line x1="502.60" y1="508.80" x2="507.20" y2="508.80" stroke="#5aae48" stroke-width="1.05"/>
<line x1="502.60" y1="531.00" x2="507.20" y2="531.00" stroke="#5aae48" stroke-width="1.05"/>
<circle cx="502.74" cy="499.70" r="1.5" fill="#4ea93a"/>
<circle cx="503.21" cy="503.80" r="1.5" fill="#4ea93a"/>
<circle cx="503.88" cy="512.40" r="1.5" fill="#4ea93a"/>
<circle cx="502.64" cy="521.10" r="1.5" fill="#4ea93a"/>
<circle cx="504.89" cy="524.70" r="1.5" fill="#4ea93a"/>
<circle cx="506.57" cy="528.30" r="1.5" fill="#4ea93a"/>
<circle cx="505.96" cy="534.10" r="1.5" fill="#4ea93a"/>
<circle cx="504.91" cy="534.80" r="1.5" fill="#4ea93a"/>
<circle cx="507.20" cy="519.00" r="1.5" fill="#4ea93a"/>
<circle cx="503.96" cy="530.00" r="1.5" fill="#4ea93a"/>
<line x1="462.30" y1="571.60" x2="462.30" y2="574.60" stroke="#111" stroke-width="0.95"/>
<line x1="494.00" y1="571.60" x2="494.00" y2="574.60" stroke="#111" stroke-width="0.95"/>
<rect x="471.85" y="521.15" width="1.9" height="1.9" rx="0.6" fill="#151515"/>
<rect x="471.85" y="524.50" width="1.9" height="1.9" rx="0.6" fill="#151515"/>
<rect x="471.85" y="527.85" width="1.9" height="1.9" rx="0.6" fill="#151515"/>
<text font-size="8.4" text-anchor="end" fill="#222" transform="translate(468.80,581.20) rotate(-45) scale(0.95,1)">cKit+ Pro</text>
<text font-size="8.4" text-anchor="end" fill="#222" transform="translate(499.30,581.20) rotate(-45) scale(0.95,1)">CD25+ Pre</text>
<path d="M87.8 502.4h.7M80.6 499.8h.7M101.6 501.2h.7M115.3 496.8h.7M74.2 498.7h.7M77.6 502.0h.7M88.7 499.1h.7M79.6 500.0h.7M87.6 503.4h.7M99.3 502.6h.7M101.4 501.0h.7M105.6 499.9h.7M110.0 500.9h.7M113.1 498.5h.7M83.1 506.9h.7M88.5 501.8h.7M87.0 499.2h.7M96.5 497.2h.7M90.1 503.7h.7M93.3 502.0h.7M99.2 500.4h.7M93.0 501.5h.7M80.4 502.8h.7M78.8 499.9h.7M84.4 498.0h.7M68.6 503.6h.7M97.7 501.2h.7M100.2 497.7h.7M99.7 496.9h.7M114.6 495.7h.7M87.0 502.5h.7M66.1 506.0h.7M80.5 501.9h.7M103.2 499.4h.7M102.5 498.0h.7M98.1 494.7h.7M109.2 496.9h.7M81.4 501.4h.7M111.4 496.6h.7M91.2 499.5h.7M80.3 498.5h.7M98.7 501.2h.7M82.8 501.7h.7M96.9 500.6h.7M89.6 500.6h.7M94.6 497.6h.7M90.1 502.3h.7M85.3 503.9h.7M88.5 498.1h.7M87.8 497.6h.7M98.4 496.0h.7M91.7 499.7h.7M88.1 501.6h.7M94.8 498.7h.7M101.1 498.3h.7M102.4 502.2h.7M96.2 501.9h.7M76.0 503.2h.7M73.9 501.7h.7M99.1 493.4h.7M82.2 499.5h.7M80.5 501.5h.7M98.8 496.9h.7M83.8 496.9h.7M82.8 496.5h.7M73.9 503.2h.7M101.7 497.4h.7M95.5 498.1h.7M104.5 502.9h.7M62.4 501.4h.7M83.9 500.0h.7M110.3 501.9h.7M91.5 501.7h.7M72.7 501.6h.7M88.1 500.3h.7M94.7 496.4h.7M79.8 506.4h.7M71.1 502.6h.7M100.2 500.5h.7M91.8 496.6h.7M85.6 497.4h.7M114.7 498.7h.7M100.1 499.9h.7M87.2 503.4h.7M102.1 500.6h.7M98.6 501.2h.7M88.3 501.6h.7M92.4 499.6h.7M99.6 504.3h.7M68.0 506.0h.7M86.7 503.5h.7M79.5 501.1h.7M103.6 498.9h.7M95.3 497.1h.7M78.4 505.5h.7M93.3 499.9h.7M75.0 499.7h.7M79.4 501.5h.7M90.0 499.1h.7M83.7 501.4h.7M105.0 495.7h.7M75.1 504.6h.7M74.6 501.1h.7M93.3 504.2h.7M66.8 496.3h.7M90.8 502.8h.7M93.0 498.3h.7M93.3 495.4h.7M101.5 502.6h.7M89.3 502.4h.7M79.4 504.9h.7M83.7 499.3h.7M82.1 497.3h.7M99.9 504.0h.7M74.6 501.6h.7M96.7 498.5h.7M73.2 503.0h.7M103.4 499.3h.7M78.8 500.9h.7M68.8 502.6h.7M106.1 501.3h.7M90.6 501.4h.7M85.4 501.2h.7M84.5 501.4h.7M85.5 501.4h.7M99.7 499.4h.7M76.4 503.0h.7M88.5 499.5h.7M97.9 497.7h.7M102.6 500.4h.7M83.2 499.6h.7M89.9 498.4h.7M102.1 494.1h.7M93.2 499.3h.7M78.8 503.1h.7M85.9 501.9h.7M86.3 500.2h.7M97.9 501.8h.7M103.2 499.0h.7M108.9 497.7h.7M75.1 497.8h.7M74.3 500.1h.7M70.6 503.2h.7M91.9 500.2h.7M94.3 499.8h.7M88.5 499.9h.7M91.7 497.7h.7M106.9 502.2h.7M92.4 505.4h.7M80.3 503.5h.7M72.6 503.7h.7M83.0 503.5h.7M93.1 502.3h.7M98.8 500.7h.7M88.7 504.2h.7M95.8 500.9h.7M108.3 497.9h.7M112.2 500.6h.7M92.1 496.9h.7M105.8 498.1h.7M92.7 500.5h.7M102.9 500.6h.7M70.0 501.1h.7M95.7 500.3h.7M101.0 500.6h.7M110.5 496.7h.7M107.0 499.6h.7M95.2 501.5h.7M87.8 502.3h.7M89.3 502.2h.7M82.9 503.9h.7M73.5 500.7h.7M91.0 500.9h.7M82.1 500.4h.7M94.8 502.4h.7M106.6 497.6h.7M90.7 499.7h.7M73.6 501.2h.7M104.5 495.9h.7M111.9 498.6h.7M64.6 504.1h.7M110.1 497.0h.7M106.6 500.4h.7M100.9 501.0h.7M98.6 501.0h.7M105.7 499.8h.7M99.1 500.5h.7M93.0 498.2h.7M70.3 500.2h.7M76.7 498.5h.7M99.6 498.7h.7M107.2 505.8h.7M100.5 498.3h.7M96.0 499.4h.7M95.4 504.7h.7M110.6 501.2h.7M95.4 504.0h.7M101.5 501.3h.7M77.7 500.4h.7M93.5 499.6h.7M85.0 496.4h.7M82.8 501.0h.7M95.0 497.5h.7M90.5 504.6h.7M93.0 495.7h.7M89.4 500.5h.7M106.5 499.2h.7M107.8 499.4h.7M105.6 501.9h.7M109.7 498.9h.7M100.1 508.4h.7M77.3 502.3h.7M97.0 498.1h.7M101.3 498.9h.7M101.0 499.8h.7M80.9 503.8h.7M115.4 499.9h.7M94.5 496.1h.7M95.4 499.8h.7M81.9 496.9h.7M97.1 502.0h.7M100.5 504.6h.7M69.5 503.4h.7M91.6 503.6h.7M91.0 498.1h.7M91.0 501.4h.7M82.8 499.4h.7M94.9 502.0h.7M89.0 501.7h.7M85.6 500.1h.7M94.1 502.3h.7M110.2 498.1h.7M97.4 504.2h.7M101.3 498.5h.7M96.1 496.6h.7M66.9 501.1h.7M82.9 498.1h.7M103.5 498.0h.7M92.7 500.4h.7M89.0 497.9h.7M113.8 493.4h.7M91.4 501.9h.7M89.3 500.3h.7M95.3 500.5h.7M88.0 503.2h.7M97.9 503.1h.7M92.3 495.7h.7M72.2 501.2h.7M96.6 496.0h.7M85.4 503.8h.7M95.4 498.3h.7M90.4 500.7h.7M86.7 500.1h.7M84.3 501.6h.7M110.5 501.7h.7M77.7 507.1h.7M90.0 497.3h.7M74.3 502.4h.7" stroke="#6f78c6" stroke-width="0.7" fill="none" opacity="0.42"/>
<path d="M74.0 503.2h.7M69.8 504.3h.7M74.1 506.5h.7M75.4 498.9h.7M70.6 505.5h.7M74.6 506.8h.7M67.0 508.7h.7M68.2 504.3h.7M71.2 503.6h.7M69.9 506.8h.7M76.3 505.7h.7M67.9 503.3h.7M72.8 505.8h.7M70.8 504.2h.7M83.8 505.0h.7M71.9 498.7h.7M70.0 508.9h.7M76.5 501.9h.7M76.3 505.2h.7M69.8 506.8h.7M70.6 504.1h.7M73.2 505.3h.7M71.3 505.6h.7M73.1 505.3h.7M74.7 503.2h.7M67.5 504.6h.7M78.1 505.6h.7M74.0 503.0h.7M68.4 501.7h.7M69.3 503.9h.7M66.8 504.5h.7M66.7 506.4h.7M73.0 500.5h.7M70.8 505.4h.7M74.6 506.7h.7M71.6 504.5h.7M72.1 506.2h.7M70.3 504.4h.7M73.7 504.0h.7M68.7 508.2h.7M75.1 502.6h.7M81.1 502.9h.7M69.5 503.9h.7M75.3 508.5h.7M78.7 506.2h.7M73.3 506.5h.7M69.9 503.1h.7M75.2 505.3h.7M74.0 502.3h.7M74.1 501.3h.7M76.8 504.8h.7M70.5 503.7h.7M84.4 512.6h.7M70.2 508.2h.7M61.3 507.6h.7M73.2 505.5h.7M69.2 501.6h.7M74.0 503.7h.7M75.1 507.4h.7M72.6 506.1h.7M73.8 505.4h.7M71.0 505.4h.7M74.8 505.0h.7M71.2 501.2h.7M68.7 508.7h.7M77.2 505.6h.7M74.3 504.4h.7M75.8 507.2h.7M72.1 505.6h.7M77.0 500.9h.7M69.3 503.4h.7M68.4 503.7h.7M69.6 503.8h.7M75.0 501.9h.7M73.5 508.2h.7M73.9 501.8h.7M70.6 507.7h.7M72.0 503.3h.7M76.3 503.1h.7M68.6 506.3h.7M73.2 503.2h.7M75.0 507.6h.7M77.5 505.1h.7M74.9 506.0h.7M67.1 508.9h.7M70.4 503.4h.7M69.8 502.4h.7M77.5 504.8h.7M70.7 500.3h.7M73.8 504.7h.7M68.9 504.6h.7M65.7 506.4h.7M68.2 506.1h.7M73.5 499.6h.7M68.6 503.2h.7M76.3 506.3h.7M75.6 509.0h.7M71.9 503.6h.7M65.5 502.3h.7M75.4 502.7h.7M69.5 507.2h.7M63.1 508.3h.7M78.3 500.4h.7M75.0 504.8h.7M76.8 504.0h.7M72.6 508.3h.7M70.7 505.9h.7M75.6 504.5h.7M76.6 506.1h.7M76.4 500.6h.7M68.9 505.6h.7M77.8 508.4h.7M73.1 503.0h.7M68.7 500.0h.7M71.1 506.3h.7M72.8 501.2h.7M72.7 505.0h.7M70.1 508.4h.7M74.9 507.5h.7M73.5 502.4h.7M77.5 507.6h.7M70.7 501.5h.7M76.4 503.4h.7M68.4 504.6h.7M75.3 503.0h.7M73.2 507.3h.7M76.1 501.0h.7M76.0 509.2h.7M76.8 504.6h.7M74.6 500.9h.7M70.7 503.5h.7M81.5 504.8h.7M69.2 509.0h.7M78.0 500.7h.7M72.3 500.6h.7M77.3 499.2h.7M80.6 502.2h.7M68.9 510.1h.7M75.2 505.7h.7M76.5 502.4h.7M76.6 504.1h.7M75.2 505.4h.7M78.7 501.6h.7M67.5 506.4h.7M82.6 506.2h.7M72.4 506.5h.7M68.2 505.1h.7M66.3 505.1h.7M76.0 509.0h.7M71.1 507.1h.7M78.5 502.2h.7M72.0 500.2h.7M69.6 505.9h.7M64.9 504.1h.7M76.0 508.4h.7M63.0 505.8h.7M70.6 499.1h.7M69.0 506.3h.7M73.0 506.6h.7M71.9 506.5h.7M69.2 502.4h.7M72.4 500.5h.7M78.1 504.2h.7M69.1 502.7h.7M69.2 505.1h.7M71.6 507.0h.7M68.5 504.6h.7M67.0 503.7h.7M78.5 504.5h.7M76.7 504.7h.7M68.7 502.6h.7M68.6 505.7h.7M74.0 512.1h.7M79.8 506.9h.7M69.2 505.1h.7M69.4 510.7h.7M70.2 507.7h.7M67.7 506.7h.7M68.2 503.7h.7M73.8 505.2h.7M72.8 504.7h.7M69.6 504.6h.7M72.8 502.5h.7M75.4 505.3h.7M70.0 508.1h.7M70.8 500.1h.7M78.2 503.9h.7M79.0 505.9h.7M69.5 507.6h.7M74.9 507.1h.7M73.2 508.7h.7M76.8 504.0h.7M67.0 504.7h.7M73.3 502.4h.7M72.3 508.6h.7M71.2 507.6h.7M69.3 502.4h.7M76.8 504.4h.7M73.9 507.4h.7M79.6 501.7h.7M75.4 505.4h.7M73.6 509.3h.7M72.1 503.3h.7M75.1 499.8h.7M74.5 502.6h.7M74.4 503.0h.7M75.1 504.2h.7M70.2 506.2h.7M76.1 500.8h.7M67.9 504.2h.7M71.5 508.1h.7M79.4 506.0h.7M77.5 504.0h.7M67.6 505.6h.7M66.0 508.9h.7M74.1 507.7h.7M70.5 500.8h.7M72.3 506.0h.7M72.2 503.5h.7M73.4 504.3h.7M78.6 501.5h.7M64.2 504.6h.7M74.1 501.0h.7M72.9 505.9h.7M74.4 505.6h.7M70.0 501.2h.7M76.9 503.9h.7M67.5 508.7h.7M76.0 497.8h.7M83.4 505.2h.7M66.6 507.2h.7M74.4 507.9h.7M73.1 500.7h.7M72.4 503.7h.7M74.2 504.4h.7M75.3 501.8h.7M70.9 503.5h.7M74.7 500.5h.7M73.1 510.8h.7M65.8 507.4h.7M73.4 507.3h.7M73.3 505.5h.7M74.5 506.0h.7M68.2 504.5h.7M80.4 508.4h.7M69.6 502.4h.7M72.4 507.5h.7M76.7 503.3h.7M63.5 504.7h.7M66.4 507.8h.7M79.0 506.5h.7M75.4 506.2h.7M80.4 507.5h.7M78.8 501.9h.7M71.0 504.8h.7M64.1 504.1h.7M73.0 504.6h.7M83.2 504.3h.7M72.2 504.5h.7M71.7 501.3h.7" stroke="#5f6cc2" stroke-width="0.7" fill="none" opacity="0.45"/>
<path d="M76.0 511.6h.7M74.0 511.6h.7M70.9 505.7h.7M72.3 513.5h.7M72.7 514.2h.7M70.9 510.4h.7M73.4 511.1h.7M73.5 516.8h.7M71.9 512.0h.7M71.3 513.5h.7M73.6 508.8h.7M70.3 507.1h.7M72.3 512.1h.7M71.7 511.1h.7M73.4 520.1h.7M76.2 520.0h.7M73.4 512.3h.7M78.3 512.9h.7M74.8 509.7h.7M71.6 514.4h.7M71.4 509.1h.7M69.0 512.6h.7M72.8 513.5h.7M70.7 507.0h.7M76.0 511.6h.7M75.1 507.3h.7M69.5 502.2h.7M73.8 515.1h.7M76.6 518.0h.7M68.1 507.5h.7M71.6 508.6h.7M72.4 508.6h.7M69.1 511.4h.7M73.3 508.7h.7M73.1 506.7h.7M72.1 510.3h.7M71.8 511.2h.7M69.6 506.6h.7M70.8 514.2h.7M70.5 508.1h.7M78.3 510.6h.7M72.0 508.3h.7M77.0 513.4h.7M73.7 517.4h.7M69.8 505.3h.7M76.0 513.1h.7M71.6 514.4h.7M72.8 518.7h.7M69.6 512.8h.7M75.6 514.8h.7M72.0 510.0h.7M71.8 514.0h.7M71.9 511.0h.7M75.8 511.1h.7M73.7 511.0h.7M73.0 503.4h.7M70.5 512.9h.7M71.3 509.2h.7M73.1 519.9h.7M71.0 508.0h.7M68.2 513.2h.7M72.9 508.4h.7M71.9 515.1h.7M75.7 512.9h.7M76.1 515.2h.7M71.8 514.4h.7M73.4 514.3h.7M73.8 519.4h.7M69.6 512.8h.7M70.1 520.0h.7M71.6 510.2h.7M72.9 511.3h.7M77.6 511.3h.7M73.7 515.4h.7M77.1 508.0h.7M73.8 506.6h.7M74.3 516.7h.7M71.6 510.5h.7M76.2 513.1h.7M75.2 509.8h.7M72.1 510.1h.7M77.2 506.0h.7M71.6 517.2h.7M72.8 507.5h.7M73.6 510.7h.7M72.7 513.3h.7M75.1 506.0h.7M73.5 517.0h.7M69.4 511.1h.7M69.9 514.0h.7M70.7 510.3h.7M71.9 513.2h.7M69.5 506.3h.7M73.5 516.5h.7M71.6 513.0h.7M73.7 511.9h.7M72.9 509.5h.7M72.3 515.9h.7M74.2 516.2h.7M71.0 511.9h.7M71.3 506.6h.7M75.4 510.5h.7M73.6 506.3h.7M72.3 511.0h.7M71.9 515.3h.7M74.2 512.0h.7M73.6 509.9h.7M71.1 510.5h.7M70.2 510.9h.7M72.7 515.7h.7M71.8 520.5h.7M71.6 512.0h.7M72.9 509.2h.7M72.8 504.9h.7M76.0 509.4h.7M72.9 504.8h.7M74.5 506.7h.7M76.6 507.6h.7M71.0 514.0h.7M76.4 504.2h.7M68.4 517.5h.7M74.2 505.9h.7M71.8 514.1h.7M71.9 517.1h.7M71.1 512.1h.7M76.1 517.0h.7M73.6 513.7h.7M72.1 511.3h.7M71.4 512.9h.7M75.2 507.8h.7M69.9 511.7h.7M78.4 512.3h.7M73.3 511.3h.7M68.5 508.9h.7M77.0 503.7h.7M77.8 507.0h.7M78.5 521.3h.7M77.0 511.0h.7M74.6 509.4h.7M71.8 512.3h.7" stroke="#6f78c6" stroke-width="0.7" fill="none" opacity="0.45"/>
<path d="M62.1 520.5h.7M71.9 513.7h.7M72.0 520.9h.7M70.3 519.7h.7M68.3 518.6h.7M69.0 521.4h.7M69.4 520.7h.7M66.1 518.9h.7M76.8 514.8h.7M73.2 514.6h.7M74.6 521.3h.7M76.9 523.7h.7M77.5 515.2h.7M73.4 520.4h.7M73.6 512.8h.7M73.2 507.4h.7M79.3 517.4h.7M80.8 513.9h.7M74.8 521.5h.7M68.0 516.8h.7M74.7 520.9h.7M74.3 507.4h.7M64.7 519.7h.7M78.5 511.8h.7M74.3 522.0h.7M69.6 511.6h.7M73.9 516.3h.7M72.6 517.3h.7M72.6 519.5h.7M71.1 518.0h.7M71.0 514.6h.7M74.2 514.7h.7M74.8 518.1h.7M76.7 520.6h.7M66.0 518.1h.7M75.2 518.6h.7M73.1 522.7h.7M75.3 512.6h.7M73.3 522.3h.7M73.5 512.9h.7M75.7 520.7h.7M76.9 518.9h.7M73.4 521.7h.7M74.3 519.1h.7M75.6 521.5h.7M65.4 522.0h.7M72.6 514.9h.7M76.1 522.1h.7M74.3 515.6h.7M73.3 514.2h.7M81.7 515.4h.7M70.0 516.0h.7M65.2 517.2h.7M68.4 518.8h.7M72.2 518.2h.7M73.1 516.2h.7M73.3 517.9h.7M70.5 516.9h.7M71.0 512.8h.7M72.9 510.4h.7M74.8 518.0h.7M73.5 523.0h.7M76.3 516.4h.7M74.2 523.1h.7M72.4 519.8h.7M74.4 513.9h.7M73.9 516.6h.7M72.1 520.0h.7M75.2 514.4h.7M72.1 517.4h.7M69.7 519.7h.7M72.3 515.2h.7M76.2 517.8h.7M69.0 517.8h.7M72.3 519.4h.7M80.7 520.5h.7M77.9 517.5h.7M74.6 520.2h.7M72.6 519.2h.7M71.4 521.1h.7M60.1 512.4h.7M72.5 519.7h.7M73.5 511.4h.7M74.4 514.5h.7M73.6 516.4h.7M72.0 511.9h.7M68.4 515.9h.7M69.3 519.2h.7M68.1 519.1h.7M74.9 515.1h.7M69.6 516.7h.7M75.7 524.0h.7M80.4 518.5h.7M75.1 519.0h.7M72.9 513.7h.7M71.7 522.8h.7M77.7 515.7h.7M73.1 520.1h.7M72.4 510.7h.7M74.0 514.2h.7M72.0 515.6h.7M78.1 510.0h.7M67.6 516.1h.7M70.7 521.4h.7M78.3 515.1h.7M74.9 517.3h.7M66.1 523.1h.7M79.0 514.8h.7M75.1 516.0h.7M72.6 516.3h.7M72.5 518.4h.7M70.8 519.3h.7M68.5 521.6h.7M69.7 510.4h.7M75.8 516.7h.7M71.1 522.0h.7M74.4 512.2h.7M71.2 515.4h.7M74.5 520.5h.7M73.5 509.0h.7M71.1 518.1h.7M70.5 517.3h.7M70.0 513.5h.7M77.1 510.1h.7M76.5 513.4h.7M72.1 509.8h.7M75.2 514.0h.7M81.6 514.3h.7M73.8 520.9h.7M69.6 514.7h.7M69.3 520.5h.7M74.0 522.4h.7M68.0 514.3h.7M72.5 516.3h.7M74.0 522.9h.7M73.4 514.9h.7M72.8 515.2h.7M72.2 517.9h.7M68.6 519.2h.7M75.5 521.1h.7M68.9 518.6h.7M76.1 516.2h.7M75.4 516.1h.7M72.9 515.8h.7M67.8 514.7h.7M73.5 517.0h.7M72.9 515.8h.7M76.0 517.4h.7M74.3 516.2h.7M77.5 517.8h.7M74.4 511.7h.7M70.7 519.5h.7M68.4 512.0h.7M72.5 511.6h.7M76.7 520.0h.7M71.9 523.2h.7M70.6 513.2h.7M76.1 518.3h.7M72.2 522.5h.7M72.5 520.9h.7M73.7 523.0h.7M74.9 516.2h.7M78.2 516.7h.7M78.9 512.9h.7M73.1 508.9h.7M74.8 523.8h.7M71.6 520.2h.7M72.2 524.2h.7M74.1 519.7h.7M76.8 511.8h.7M75.4 518.7h.7M77.4 518.3h.7M75.1 518.0h.7M69.6 516.1h.7M72.3 512.6h.7M72.8 516.2h.7M79.3 517.2h.7M73.4 518.6h.7M75.4 511.5h.7M70.1 514.5h.7M77.0 519.4h.7M70.2 521.3h.7M71.9 519.6h.7M69.7 517.8h.7M80.4 509.7h.7M71.3 519.3h.7M72.2 520.0h.7M77.0 513.5h.7M70.7 523.7h.7M79.7 507.1h.7M74.8 522.3h.7M70.7 514.6h.7M69.1 517.4h.7M69.0 521.1h.7M70.6 520.4h.7M67.6 521.9h.7M75.3 522.1h.7M76.3 518.4h.7M78.5 516.7h.7M71.4 518.2h.7M73.9 519.0h.7M72.2 522.4h.7M80.4 516.6h.7M67.9 516.3h.7M68.2 512.9h.7M69.4 522.6h.7M73.5 521.2h.7M72.6 522.4h.7M71.6 523.6h.7M76.0 519.1h.7M67.9 513.6h.7M73.9 513.9h.7M72.4 517.5h.7M77.7 515.4h.7M73.5 516.3h.7M70.4 520.0h.7M76.3 512.3h.7M73.5 520.4h.7M69.4 516.5h.7M74.1 517.8h.7M77.8 514.5h.7M72.2 520.4h.7M72.8 517.2h.7M72.6 519.9h.7M75.6 513.8h.7M69.9 513.5h.7M74.5 510.5h.7M81.4 515.9h.7M73.0 520.3h.7M72.3 517.1h.7M80.1 510.0h.7M73.9 515.1h.7M71.8 517.9h.7M66.7 520.8h.7M73.7 520.5h.7M70.9 521.3h.7M71.4 521.4h.7M77.7 520.8h.7M68.1 518.5h.7M73.7 512.9h.7M67.8 523.7h.7M69.6 519.9h.7M71.9 517.6h.7M71.5 518.2h.7M78.6 514.6h.7M74.8 520.2h.7M70.7 513.7h.7M69.9 520.6h.7M73.6 522.5h.7M74.3 518.7h.7M73.1 519.2h.7M73.2 521.0h.7M70.0 522.7h.7M78.6 517.8h.7M75.0 513.3h.7M73.4 512.3h.7M76.4 518.4h.7M76.7 522.9h.7M70.5 521.6h.7M72.7 520.5h.7M70.8 520.8h.7M75.1 524.2h.7M72.5 518.5h.7M74.7 517.5h.7M80.1 509.1h.7M67.1 516.1h.7M75.4 518.3h.7M74.5 512.0h.7M75.1 520.5h.7M78.7 521.6h.7M70.9 515.2h.7M69.1 516.2h.7M72.7 523.4h.7M78.7 518.5h.7M75.1 517.5h.7M68.6 520.4h.7M70.5 511.6h.7M70.1 524.4h.7M69.0 523.8h.7M68.3 517.9h.7M74.8 516.6h.7M69.7 518.2h.7M78.8 520.9h.7M73.7 520.6h.7M77.1 523.7h.7M72.1 514.6h.7M69.6 518.5h.7M72.0 518.3h.7M70.6 524.1h.7M70.1 515.0h.7M69.0 513.7h.7M67.4 514.8h.7M72.2 521.1h.7M66.9 520.0h.7M72.6 518.2h.7M65.6 520.2h.7" stroke="#5a68c0" stroke-width="0.7" fill="none" opacity="0.45"/>
<ellipse cx="0" cy="0" rx="5.6" ry="3.4" fill="url(#ggrn2)" opacity="1" transform="translate(73.10,504.80) rotate(0)"/>
<ellipse cx="0" cy="0" rx="5.2" ry="6.0" fill="url(#gjet2)" opacity="1" transform="translate(73.10,518.20) rotate(-10)"/>
<ellipse cx="95.7" cy="496.6" rx="11.8" ry="2.3" fill="none" stroke="#c99bd0" stroke-width="0.65" transform="rotate(4 95.7 496.6)"/>
<ellipse cx="95.5" cy="499.8" rx="17.5" ry="3.0" fill="none" stroke="#b89fd6" stroke-width="0.6" transform="rotate(-3 95.5 499.8)"/>
<ellipse cx="88.5" cy="502" rx="23" ry="4.6" fill="none" stroke="#a9addf" stroke-width="0.55" opacity="0.8" transform="rotate(-6 88.5 502)"/>
<rect x="58.50" y="480.80" width="59.20" height="44.20" fill="none" stroke="#111" stroke-width="1.3" />
<text transform="translate(89.10,478.40) scale(0.92,1)" font-size="8.6" font-style="italic" fill="#222" text-anchor="middle">Ubr5<tspan font-size="5.9" dx="0.6" dy="-3.4">WT</tspan></text>
<path d="M161.8 502.2h.7M150.9 503.6h.7M154.5 498.1h.7M160.1 502.0h.7M156.5 500.0h.7M151.2 502.2h.7M133.2 503.2h.7M139.0 500.6h.7M156.5 502.9h.7M153.5 498.2h.7M122.8 503.3h.7M145.3 499.8h.7M166.5 504.0h.7M154.7 497.1h.7M163.9 499.5h.7M149.2 501.3h.7M140.6 502.2h.7M158.3 502.7h.7M176.8 496.4h.7M158.0 498.0h.7M155.6 502.9h.7M161.2 498.8h.7M174.8 500.2h.7M168.1 499.0h.7M169.3 498.3h.7M163.9 499.3h.7M153.4 496.7h.7M165.3 500.5h.7M146.7 501.2h.7M161.0 501.1h.7M130.3 506.3h.7M142.5 506.0h.7M167.1 499.2h.7M156.3 500.7h.7M149.5 504.3h.7M146.0 499.9h.7M150.8 496.9h.7M165.6 496.3h.7M171.6 500.7h.7M177.1 496.5h.7M150.3 499.6h.7M162.9 497.3h.7M149.6 495.3h.7M154.5 500.7h.7M176.8 495.9h.7M165.3 500.5h.7M163.9 496.6h.7M165.2 499.5h.7M171.3 503.6h.7M145.7 500.2h.7M171.3 494.5h.7M124.7 504.0h.7M158.1 503.5h.7M162.4 499.3h.7M146.8 496.7h.7M159.9 498.2h.7M149.5 501.5h.7M130.0 502.6h.7M147.1 505.8h.7M152.8 503.1h.7M141.9 497.8h.7M164.2 498.4h.7M138.5 504.5h.7M159.4 495.6h.7M151.7 505.3h.7M154.9 497.0h.7M144.4 504.6h.7M171.7 500.1h.7M136.4 504.1h.7M144.1 500.1h.7M148.3 503.5h.7M160.0 501.0h.7M148.6 499.6h.7M166.4 497.5h.7M150.7 502.0h.7M152.1 502.9h.7M160.7 501.1h.7M178.3 494.7h.7M144.0 495.3h.7M145.8 499.2h.7M162.6 502.4h.7M166.5 498.5h.7M131.1 492.6h.7M149.2 496.1h.7M164.0 497.0h.7M161.5 497.9h.7M159.4 497.4h.7M159.1 504.2h.7M158.0 496.6h.7M144.7 501.6h.7M163.2 496.3h.7M142.7 497.5h.7M174.8 498.8h.7M157.7 498.8h.7M176.8 499.3h.7M153.0 503.4h.7M160.8 498.9h.7M149.6 500.8h.7M169.9 495.2h.7M134.4 504.0h.7M166.8 502.5h.7M160.4 496.0h.7M163.7 499.7h.7M141.6 497.7h.7M135.7 502.4h.7M138.7 502.8h.7M152.2 502.0h.7M164.0 497.0h.7M149.7 502.6h.7M146.6 503.6h.7M161.2 501.7h.7M147.0 502.9h.7M151.4 501.1h.7M161.3 498.2h.7M152.8 494.6h.7M145.9 502.7h.7M140.5 496.5h.7M136.9 501.4h.7M162.0 500.8h.7M137.3 503.0h.7M139.7 504.5h.7M158.4 498.3h.7M148.4 500.7h.7M147.4 503.8h.7M157.4 498.5h.7M158.9 496.4h.7M155.7 499.3h.7M147.2 500.9h.7M156.2 496.5h.7M159.0 507.0h.7M163.1 497.9h.7M158.5 503.9h.7M141.7 505.6h.7M150.2 505.3h.7M144.5 503.8h.7M147.5 504.0h.7M164.4 500.0h.7M144.4 503.9h.7M158.0 497.2h.7M160.4 499.2h.7M152.3 498.0h.7M156.5 502.1h.7M144.3 503.3h.7M132.7 502.8h.7M156.7 497.6h.7M155.4 496.9h.7M175.8 499.0h.7M166.3 496.7h.7M127.7 502.8h.7M169.4 498.3h.7M167.4 499.9h.7M158.0 502.4h.7M146.9 500.0h.7M166.7 500.1h.7M147.4 498.3h.7M170.2 490.6h.7M164.4 498.8h.7M139.0 502.9h.7M160.0 505.3h.7M156.6 493.8h.7M143.4 503.3h.7M148.3 500.7h.7M153.3 503.9h.7M157.6 499.5h.7M146.8 503.5h.7M146.0 502.1h.7M158.9 501.6h.7M163.0 500.0h.7M176.6 499.8h.7M145.0 499.0h.7M146.3 504.4h.7M141.8 505.4h.7M158.6 498.3h.7M142.5 501.2h.7M162.5 499.2h.7M162.1 499.8h.7M169.2 497.5h.7M152.1 497.7h.7M150.0 498.2h.7M136.6 501.6h.7M161.0 494.0h.7M139.1 498.4h.7M158.2 501.2h.7M157.5 499.5h.7M145.2 501.7h.7M144.0 500.8h.7M158.3 499.2h.7M166.9 493.6h.7M136.2 504.6h.7M147.4 499.8h.7M147.6 500.8h.7M152.2 501.4h.7M164.8 503.7h.7M129.9 502.5h.7M143.9 501.9h.7M142.5 501.6h.7M157.0 499.9h.7M156.7 501.6h.7M142.0 501.4h.7M165.9 501.3h.7M164.7 497.1h.7M146.7 503.5h.7M154.0 501.0h.7M150.1 502.9h.7M155.6 497.7h.7M157.9 499.0h.7M151.1 502.0h.7M155.4 498.7h.7M140.6 500.6h.7M152.0 497.6h.7M147.5 506.7h.7M146.7 501.2h.7M139.9 501.0h.7M156.7 500.4h.7M134.9 502.4h.7M143.1 504.1h.7M153.1 504.3h.7M157.6 497.0h.7M164.4 498.0h.7M152.6 500.7h.7M139.6 504.7h.7M155.3 497.6h.7M138.6 503.0h.7M167.6 499.8h.7M157.2 498.9h.7M166.3 500.3h.7M144.7 499.8h.7M129.9 505.6h.7M158.9 501.6h.7M152.0 505.7h.7M142.3 499.5h.7M172.2 500.6h.7M162.3 499.2h.7M153.4 500.7h.7M158.5 498.3h.7M165.9 503.3h.7M147.7 498.6h.7M155.9 506.1h.7M143.4 504.7h.7M146.1 499.3h.7M166.0 498.6h.7M153.5 502.1h.7M166.6 499.5h.7M171.1 496.8h.7M148.2 502.6h.7M160.7 495.3h.7M150.5 502.3h.7M152.5 504.8h.7M136.1 502.7h.7M144.0 497.5h.7M151.2 500.4h.7M149.0 499.3h.7M163.2 496.8h.7M146.5 497.7h.7M166.5 495.4h.7" stroke="#6f78c6" stroke-width="0.7" fill="none" opacity="0.42"/>
<path d="M142.1 502.4h.7M135.1 509.1h.7M131.1 508.3h.7M130.2 503.6h.7M137.5 505.7h.7M136.6 505.7h.7M141.5 500.6h.7M132.6 507.1h.7M129.5 503.0h.7M145.0 508.4h.7M137.3 505.0h.7M134.7 502.5h.7M131.9 502.2h.7M130.3 505.2h.7M137.0 502.4h.7M135.8 501.4h.7M136.8 504.0h.7M135.0 505.3h.7M140.5 505.4h.7M132.7 505.3h.7M136.9 506.2h.7M139.5 502.7h.7M130.6 506.5h.7M130.8 506.0h.7M146.1 508.1h.7M129.5 502.7h.7M136.9 504.1h.7M138.1 505.5h.7M136.6 506.3h.7M129.1 507.8h.7M129.7 502.5h.7M125.7 504.8h.7M136.9 503.9h.7M130.6 499.1h.7M137.5 501.8h.7M133.9 505.5h.7M135.0 505.9h.7M141.9 506.7h.7M131.3 504.7h.7M134.4 502.6h.7M137.9 503.8h.7M136.2 506.5h.7M143.7 503.3h.7M138.2 510.5h.7M141.7 505.6h.7M132.4 505.3h.7M132.8 503.8h.7M128.4 504.1h.7M127.3 507.5h.7M137.4 503.8h.7M135.5 505.2h.7M134.3 505.6h.7M134.6 506.1h.7M132.1 505.0h.7M142.0 502.7h.7M132.1 507.3h.7M136.6 505.3h.7M136.1 503.8h.7M133.2 506.2h.7M136.0 506.6h.7M137.1 510.7h.7M135.7 508.6h.7M135.9 510.8h.7M139.2 502.9h.7M141.7 503.4h.7M139.4 502.9h.7M136.8 505.3h.7M141.0 499.2h.7M127.6 507.5h.7M138.3 503.5h.7M135.7 500.3h.7M133.8 503.2h.7M138.9 505.6h.7M134.7 507.9h.7M132.7 506.9h.7M134.4 506.1h.7M134.2 508.6h.7M133.6 510.2h.7M138.5 502.7h.7M133.6 508.4h.7M141.2 501.7h.7M136.0 506.5h.7M144.9 506.7h.7M134.5 507.4h.7M135.7 502.7h.7M135.2 504.3h.7M134.5 505.1h.7M136.8 502.9h.7M138.0 500.8h.7M138.0 506.2h.7M137.0 501.0h.7M133.3 505.5h.7M137.2 506.9h.7M129.2 505.0h.7M139.7 501.9h.7M130.5 503.7h.7M134.3 504.2h.7M140.4 505.7h.7M127.7 507.0h.7M135.7 507.2h.7M135.2 508.6h.7M135.9 503.7h.7M130.5 507.4h.7M134.8 500.4h.7M138.7 508.4h.7M126.9 506.4h.7M138.0 509.5h.7M140.3 503.0h.7M137.2 506.9h.7M129.4 508.8h.7M137.3 507.2h.7M131.8 507.1h.7M135.2 504.2h.7M135.5 505.9h.7M129.2 505.0h.7M136.8 500.7h.7M142.2 511.7h.7M138.0 505.0h.7M131.2 502.1h.7M130.4 507.3h.7M131.8 505.5h.7M133.6 507.3h.7M140.5 507.4h.7M138.0 507.8h.7M142.2 502.7h.7M136.4 503.3h.7M135.5 504.4h.7M135.8 506.9h.7M130.1 498.2h.7M136.4 507.8h.7M133.7 508.9h.7M144.4 505.2h.7M134.5 506.3h.7M138.4 501.1h.7M137.3 499.6h.7M131.0 505.6h.7M136.6 501.9h.7M135.5 508.4h.7M128.7 506.5h.7M140.5 501.5h.7M140.1 506.2h.7M134.1 505.1h.7M135.2 505.1h.7M134.5 503.1h.7M139.0 509.5h.7M134.6 508.7h.7M132.2 501.6h.7M137.9 505.6h.7M137.2 502.5h.7M133.7 507.7h.7M141.8 505.7h.7M136.9 498.1h.7M132.7 508.4h.7M143.0 502.8h.7M125.1 506.3h.7M130.1 503.9h.7M132.9 504.0h.7M131.4 506.7h.7M136.5 501.6h.7M129.0 510.5h.7M137.6 505.6h.7M128.5 510.7h.7M131.1 505.3h.7M136.7 503.1h.7M135.8 503.8h.7M127.0 501.4h.7M132.8 503.6h.7M137.1 509.4h.7M134.3 510.8h.7M133.6 505.3h.7M134.4 500.6h.7M135.0 504.5h.7M132.0 507.0h.7M136.9 504.2h.7M131.8 505.8h.7M132.1 502.8h.7M133.3 507.5h.7M134.1 504.6h.7M133.9 506.6h.7M134.6 507.2h.7M134.7 507.3h.7M134.1 503.1h.7M136.9 504.5h.7M133.4 508.8h.7M133.3 503.0h.7M133.9 508.8h.7M129.9 508.1h.7M137.3 504.0h.7M133.9 503.1h.7M127.1 502.6h.7M129.6 500.8h.7M133.5 506.6h.7M131.5 504.2h.7M132.1 504.5h.7M136.8 508.2h.7M137.6 506.0h.7M140.7 506.9h.7M137.1 506.5h.7M138.5 502.3h.7M131.6 505.3h.7M128.1 504.3h.7M133.8 505.9h.7M137.9 508.5h.7M125.7 505.6h.7M136.5 508.8h.7M132.7 506.2h.7M134.5 502.6h.7M136.1 507.6h.7M133.7 505.3h.7M139.5 504.6h.7M133.9 505.8h.7M136.9 506.1h.7M140.1 506.2h.7M130.3 500.8h.7M134.7 509.5h.7M135.3 503.9h.7M136.2 506.5h.7M140.1 501.7h.7M138.2 505.5h.7M138.4 507.9h.7M126.2 507.5h.7M137.1 503.0h.7M134.6 507.8h.7M129.1 507.4h.7M138.3 509.7h.7M131.7 503.4h.7M139.1 504.3h.7M136.7 498.2h.7M144.7 500.1h.7M128.5 506.4h.7M137.1 502.9h.7M126.3 506.5h.7M136.0 502.6h.7M135.6 503.5h.7M131.0 506.9h.7M135.1 505.2h.7M130.1 503.2h.7M134.0 503.5h.7M136.5 505.1h.7M134.2 504.6h.7M136.7 507.7h.7M130.8 507.6h.7M138.7 507.1h.7M132.9 505.6h.7M143.5 501.5h.7M138.4 504.4h.7M141.7 505.4h.7M138.5 503.4h.7M133.1 509.3h.7M130.0 503.7h.7M134.1 501.7h.7M137.6 501.8h.7M135.3 504.4h.7M126.3 505.4h.7M128.9 505.1h.7M125.7 503.6h.7M138.3 505.8h.7M139.6 509.4h.7M138.0 504.5h.7M134.6 506.7h.7" stroke="#5f6cc2" stroke-width="0.7" fill="none" opacity="0.45"/>
<path d="M131.8 507.8h.7M135.1 518.6h.7M132.2 512.8h.7M133.3 514.6h.7M136.1 511.7h.7M137.6 510.9h.7M130.7 520.0h.7M134.8 513.1h.7M137.2 508.7h.7M133.9 508.9h.7M136.7 513.4h.7M135.7 506.8h.7M132.9 506.2h.7M131.5 509.0h.7M135.9 513.8h.7M130.3 514.3h.7M136.1 518.0h.7M137.4 506.0h.7M136.4 512.8h.7M136.0 509.0h.7M139.0 512.2h.7M133.6 504.8h.7M134.5 506.5h.7M131.2 518.2h.7M135.0 515.6h.7M138.1 514.7h.7M134.0 507.3h.7M134.7 512.3h.7M134.8 510.7h.7M135.5 506.2h.7M138.0 507.2h.7M135.5 508.4h.7M138.8 509.7h.7M132.7 510.4h.7M137.5 507.0h.7M131.7 509.8h.7M137.2 500.4h.7M137.6 520.7h.7M134.7 515.5h.7M134.8 504.6h.7M134.0 514.2h.7M132.2 510.7h.7M133.4 513.4h.7M141.8 512.1h.7M131.7 518.3h.7M134.4 510.2h.7M136.5 514.8h.7M135.7 513.2h.7M135.6 507.1h.7M137.2 515.2h.7M133.0 505.0h.7M133.5 512.5h.7M138.9 512.7h.7M126.4 509.4h.7M135.3 512.8h.7M131.1 510.4h.7M135.5 514.5h.7M137.3 518.3h.7M133.3 510.1h.7M133.9 513.8h.7M140.5 512.5h.7M135.6 508.2h.7M131.7 518.8h.7M134.9 517.4h.7M137.4 509.9h.7M135.8 508.3h.7M136.9 511.2h.7M137.3 516.7h.7M133.6 515.0h.7M136.3 509.7h.7M135.9 516.7h.7M135.6 515.6h.7M136.1 516.8h.7M134.8 510.5h.7M136.9 502.8h.7M133.8 517.8h.7M133.2 519.1h.7M139.5 509.9h.7M133.1 513.4h.7M137.6 518.7h.7M139.3 509.0h.7M137.5 509.8h.7M138.1 513.6h.7M139.1 511.5h.7M137.4 506.8h.7M132.5 513.8h.7M135.4 515.3h.7M141.4 509.4h.7M132.0 507.6h.7M133.5 516.4h.7M136.2 510.6h.7M137.0 511.1h.7M135.9 511.7h.7M131.5 515.0h.7M135.7 520.6h.7M135.5 509.4h.7M135.7 508.9h.7M135.1 510.3h.7M136.1 508.1h.7M134.9 510.2h.7M132.5 511.5h.7M137.1 514.7h.7M136.0 511.3h.7M137.8 510.7h.7M137.0 504.9h.7M131.9 508.9h.7M138.3 510.7h.7M136.4 507.4h.7M131.1 522.9h.7M139.7 518.7h.7M135.2 509.1h.7M135.9 510.8h.7M133.9 502.0h.7M135.8 503.0h.7M133.8 505.7h.7M140.7 506.7h.7M134.1 513.2h.7M134.3 512.7h.7M137.7 509.2h.7M136.6 511.2h.7M131.6 512.9h.7M132.3 515.9h.7M135.2 512.4h.7M138.0 508.4h.7M133.0 517.4h.7M137.2 513.5h.7M129.8 511.8h.7M132.6 509.3h.7M130.7 505.2h.7M134.0 513.2h.7M133.8 511.0h.7M135.4 517.1h.7M133.6 512.2h.7M142.8 511.6h.7M137.5 507.0h.7M132.3 509.9h.7M143.7 509.2h.7M139.1 509.7h.7M131.8 504.2h.7M135.7 515.9h.7" stroke="#6f78c6" stroke-width="0.7" fill="none" opacity="0.45"/>
<path d="M132.4 516.7h.7M131.3 515.2h.7M138.9 516.0h.7M131.5 521.1h.7M136.2 518.2h.7M142.6 519.7h.7M139.4 513.0h.7M135.0 524.0h.7M137.9 522.4h.7M130.0 517.2h.7M124.2 510.1h.7M140.1 521.9h.7M140.0 506.1h.7M135.6 521.9h.7M139.7 514.1h.7M139.1 521.9h.7M139.8 522.3h.7M133.6 519.6h.7M144.1 514.6h.7M142.5 520.3h.7M132.8 515.2h.7M140.9 519.8h.7M132.9 517.5h.7M133.9 517.8h.7M141.8 515.4h.7M134.1 505.0h.7M137.1 522.5h.7M142.8 515.7h.7M134.2 516.6h.7M130.7 518.4h.7M132.4 517.4h.7M135.8 521.7h.7M136.5 520.7h.7M137.2 518.0h.7M138.8 519.1h.7M130.4 516.1h.7M140.7 511.3h.7M141.7 518.9h.7M136.2 523.9h.7M136.1 516.3h.7M127.3 515.7h.7M131.0 521.4h.7M135.7 514.2h.7M139.6 522.3h.7M143.5 519.5h.7M130.8 518.8h.7M138.1 522.3h.7M130.4 520.5h.7M137.8 520.1h.7M129.3 516.3h.7M134.9 517.4h.7M138.7 516.7h.7M128.5 509.0h.7M137.1 514.8h.7M135.1 523.2h.7M133.4 518.2h.7M130.0 513.0h.7M137.5 523.4h.7M132.9 517.5h.7M136.5 516.4h.7M135.6 516.6h.7M137.5 516.1h.7M133.5 512.3h.7M132.5 511.8h.7M134.8 522.7h.7M130.5 514.6h.7M132.5 520.3h.7M134.2 516.9h.7M131.8 517.1h.7M134.0 514.8h.7M140.5 520.4h.7M134.7 519.7h.7M143.8 521.0h.7M133.3 518.2h.7M139.5 520.3h.7M134.3 518.7h.7M131.2 516.9h.7M133.8 517.2h.7M140.3 518.4h.7M139.6 518.3h.7M129.8 523.6h.7M133.3 517.8h.7M139.4 524.4h.7M135.9 523.8h.7M133.5 521.1h.7M131.9 522.5h.7M133.2 521.1h.7M141.3 517.1h.7M135.5 514.1h.7M134.6 512.0h.7M138.0 518.0h.7M139.6 518.3h.7M134.5 514.7h.7M137.7 517.7h.7M130.9 511.8h.7M138.8 517.8h.7M135.1 515.9h.7M133.4 518.2h.7M136.0 513.1h.7M144.5 522.2h.7M128.2 518.5h.7M139.5 515.4h.7M130.3 520.6h.7M133.0 518.2h.7M141.4 518.3h.7M140.2 514.9h.7M128.6 516.6h.7M133.9 521.2h.7M136.9 509.7h.7M131.2 516.4h.7M132.6 515.4h.7M134.1 518.9h.7M129.8 514.2h.7M131.9 523.4h.7M134.7 511.8h.7M137.1 522.2h.7M129.3 513.0h.7M137.0 518.5h.7M137.8 522.5h.7M133.5 524.3h.7M132.7 519.7h.7M127.9 516.5h.7M138.2 514.3h.7M133.6 508.9h.7M134.0 512.6h.7M135.5 516.2h.7M132.8 516.8h.7M133.8 518.2h.7M134.3 523.1h.7M139.2 507.4h.7M140.3 517.3h.7M136.6 514.3h.7M137.5 520.7h.7M133.2 513.4h.7M137.2 520.1h.7M132.0 509.0h.7M131.2 519.9h.7M140.0 514.0h.7M133.2 513.5h.7M136.6 514.8h.7M141.5 520.7h.7M134.6 516.5h.7M139.0 516.5h.7M133.9 518.7h.7M139.2 524.3h.7M134.0 512.9h.7M132.0 517.5h.7M137.7 506.9h.7M137.7 519.9h.7M136.1 511.8h.7M135.7 516.0h.7M131.9 520.8h.7M139.9 519.0h.7M137.5 522.5h.7M135.5 516.4h.7M140.8 515.5h.7M134.3 519.6h.7M133.8 514.1h.7M139.4 518.1h.7M132.8 515.7h.7M137.5 521.7h.7M136.1 523.1h.7M138.7 513.3h.7M135.0 519.6h.7M135.3 514.0h.7M137.1 517.9h.7M130.0 512.7h.7M134.0 522.1h.7M135.3 519.0h.7M138.8 517.2h.7M135.5 517.8h.7M138.7 515.4h.7M136.8 515.1h.7M135.7 522.8h.7M132.6 520.2h.7M135.7 519.1h.7M137.3 518.5h.7M132.9 513.6h.7M138.1 519.8h.7M142.6 515.5h.7M138.0 515.8h.7M133.7 515.6h.7M132.5 514.2h.7M134.3 517.5h.7M135.6 521.6h.7M132.2 517.8h.7M132.3 521.7h.7M132.2 516.7h.7M132.6 522.7h.7M131.1 513.3h.7M134.0 516.7h.7M132.2 522.9h.7M133.5 509.3h.7M134.7 512.6h.7M133.1 516.1h.7M132.2 516.4h.7M134.0 520.8h.7M144.4 515.2h.7M133.8 522.9h.7M141.5 521.5h.7M135.7 523.2h.7M133.5 512.9h.7M140.2 514.4h.7M131.7 518.7h.7M132.1 521.0h.7M135.7 517.3h.7M133.5 524.3h.7M140.3 523.0h.7M137.3 515.3h.7M129.6 515.3h.7M139.7 516.3h.7M141.2 512.7h.7M137.7 517.7h.7M130.5 519.8h.7M134.0 516.9h.7M128.1 513.9h.7M133.1 517.5h.7M134.0 519.0h.7M134.3 523.5h.7M137.4 522.4h.7M130.0 518.8h.7M134.9 520.9h.7M133.1 518.8h.7M132.0 516.7h.7M136.7 516.0h.7M132.4 517.6h.7M136.6 519.9h.7M131.2 516.4h.7M131.3 513.9h.7M143.8 523.3h.7M137.9 517.0h.7M139.7 521.2h.7M138.1 521.8h.7M136.6 519.8h.7M134.0 511.0h.7M137.1 521.0h.7M135.3 521.4h.7M134.8 517.8h.7M137.6 510.9h.7M140.3 516.5h.7M137.3 520.8h.7M130.8 514.1h.7M136.0 511.2h.7M137.5 517.7h.7M132.6 521.8h.7M132.0 515.0h.7M135.3 521.9h.7M134.6 516.7h.7M136.0 516.6h.7M128.8 522.1h.7M137.0 522.9h.7M135.8 520.2h.7M129.4 512.4h.7M128.5 523.2h.7M132.8 523.8h.7M136.8 516.3h.7M134.9 514.8h.7M133.7 519.6h.7M137.7 516.1h.7M129.7 523.0h.7M131.4 521.2h.7M129.9 514.3h.7M128.2 521.0h.7M141.9 518.7h.7M128.0 517.2h.7M136.1 519.7h.7M135.8 513.9h.7M133.3 516.5h.7M131.0 515.5h.7M139.5 519.7h.7M133.4 516.6h.7M138.1 515.8h.7M132.4 516.8h.7M126.1 523.0h.7M132.3 521.4h.7M135.2 522.5h.7M137.1 517.3h.7M136.3 509.4h.7M131.2 509.5h.7M136.4 512.0h.7M129.7 519.8h.7M137.4 517.3h.7M140.3 519.2h.7M142.4 521.8h.7M142.5 506.9h.7M137.9 521.5h.7M140.5 520.7h.7M136.6 519.5h.7M135.9 520.6h.7M140.9 511.4h.7M133.6 512.0h.7M133.1 519.4h.7M135.8 519.8h.7M137.8 520.0h.7M134.0 517.7h.7M131.4 516.3h.7M134.8 519.8h.7M129.5 522.9h.7M134.9 511.6h.7M134.6 520.6h.7" stroke="#5a68c0" stroke-width="0.7" fill="none" opacity="0.45"/>
<ellipse cx="0" cy="0" rx="5.6" ry="3.4" fill="url(#ggrn2)" opacity="1" transform="translate(135.40,504.80) rotate(0)"/>
<ellipse cx="0" cy="0" rx="5.2" ry="6.0" fill="url(#gjet2)" opacity="1" transform="translate(135.40,518.20) rotate(-10)"/>
<ellipse cx="158.0" cy="496.6" rx="11.8" ry="2.3" fill="none" stroke="#c99bd0" stroke-width="0.65" transform="rotate(4 158.0 496.6)"/>
<ellipse cx="157.8" cy="499.8" rx="17.5" ry="3.0" fill="none" stroke="#b89fd6" stroke-width="0.6" transform="rotate(-3 157.8 499.8)"/>
<ellipse cx="150.8" cy="502" rx="23" ry="4.6" fill="none" stroke="#a9addf" stroke-width="0.55" opacity="0.8" transform="rotate(-6 150.8 502)"/>
<rect x="120.80" y="480.80" width="59.20" height="44.20" fill="none" stroke="#dcdcdc" stroke-width="1.3" />
<text transform="translate(151.40,478.40) scale(0.92,1)" font-size="8.6" font-style="italic" fill="#222" text-anchor="middle">Ubr5<tspan font-size="5.9" dx="0.6" dy="-3.4">&#916;HECT/WT</tspan></text>
<path d="M217.0 499.2h.7M205.6 502.0h.7M218.0 500.9h.7M211.8 503.8h.7M194.6 502.6h.7M196.3 497.7h.7M218.3 502.1h.7M212.6 501.8h.7M214.1 503.3h.7M209.1 502.4h.7M219.4 496.2h.7M229.5 497.5h.7M202.3 500.2h.7M225.9 498.3h.7M224.8 497.1h.7M218.5 495.9h.7M212.8 503.8h.7M209.7 501.4h.7M195.0 506.6h.7M213.3 501.7h.7M211.0 498.4h.7M211.6 500.0h.7M203.6 501.3h.7M204.2 500.4h.7M219.5 500.5h.7M213.1 501.6h.7M236.0 499.1h.7M217.1 500.0h.7M219.9 501.5h.7M190.2 508.1h.7M227.1 500.3h.7M208.6 500.9h.7M207.1 504.5h.7M207.3 497.4h.7M212.9 498.6h.7M218.0 500.5h.7M205.4 497.7h.7M211.4 497.7h.7M213.4 501.0h.7M211.0 501.2h.7M211.3 504.8h.7M194.6 500.0h.7M228.4 496.1h.7M222.8 499.1h.7M215.2 497.0h.7M210.7 500.5h.7M190.6 503.0h.7M209.8 495.6h.7M217.2 499.3h.7M198.1 505.0h.7M213.7 497.8h.7M205.1 502.2h.7M209.1 502.7h.7M200.9 502.5h.7M220.8 501.1h.7M205.7 499.1h.7M202.1 502.0h.7M191.9 509.5h.7M212.4 503.6h.7M211.9 503.9h.7M212.5 503.1h.7M227.0 499.9h.7M200.8 502.9h.7M217.0 499.5h.7M212.8 502.3h.7M191.4 504.2h.7M233.7 496.9h.7M229.3 497.8h.7M211.7 499.9h.7M214.8 498.6h.7M208.3 500.6h.7M204.5 501.4h.7M226.8 497.2h.7M217.3 498.4h.7M201.9 501.8h.7M212.1 503.1h.7M223.3 499.8h.7M208.0 504.4h.7M199.9 500.2h.7M223.6 500.5h.7M222.3 499.1h.7M223.8 502.3h.7M193.1 504.0h.7M226.0 496.8h.7M204.3 502.4h.7M222.3 499.6h.7M196.4 502.9h.7M213.8 499.6h.7M226.4 494.1h.7M216.2 498.9h.7M221.7 498.9h.7M235.0 498.7h.7M208.6 497.2h.7M212.0 500.6h.7M233.3 499.4h.7M217.0 498.0h.7M217.3 497.9h.7M199.1 503.1h.7M209.7 497.8h.7M228.6 501.9h.7M219.9 496.0h.7M205.3 499.1h.7M218.9 508.0h.7M225.6 499.0h.7M205.1 498.1h.7M206.8 501.7h.7M212.5 501.8h.7M220.9 497.1h.7M224.8 499.4h.7M233.6 498.1h.7M211.1 500.5h.7M229.4 500.1h.7M228.9 501.4h.7M219.6 505.4h.7M214.2 499.9h.7M227.8 496.3h.7M219.2 502.3h.7M204.6 497.0h.7M199.3 504.7h.7M200.0 499.0h.7M233.5 500.2h.7M222.9 497.8h.7M222.8 497.8h.7M221.7 497.9h.7M200.7 500.8h.7M220.2 500.6h.7M209.3 503.1h.7M196.5 497.7h.7M222.3 499.2h.7M214.8 499.3h.7M221.6 500.2h.7M231.1 496.4h.7M200.9 501.5h.7M212.5 499.9h.7M190.8 503.8h.7M235.0 499.1h.7M229.9 500.2h.7M218.7 500.9h.7M228.2 500.1h.7M223.1 499.4h.7M207.1 502.0h.7M211.1 502.1h.7M190.3 507.1h.7M231.2 502.3h.7M219.9 497.4h.7M210.8 498.1h.7M220.4 499.8h.7M217.1 495.8h.7M197.9 497.0h.7M232.1 499.8h.7M216.3 499.4h.7M194.9 501.6h.7M210.7 498.8h.7M226.9 494.3h.7M217.9 502.0h.7M224.8 495.8h.7M232.3 498.2h.7M212.8 501.4h.7M228.4 499.2h.7M212.0 501.2h.7M220.9 504.6h.7M216.0 498.1h.7M238.6 501.4h.7M233.0 496.3h.7M208.7 497.8h.7M214.9 503.5h.7M227.0 499.2h.7M218.9 501.1h.7M214.2 498.0h.7M208.4 505.0h.7M204.8 498.7h.7M222.7 498.8h.7M212.2 501.0h.7M214.2 496.5h.7M227.3 499.6h.7M236.5 500.1h.7M209.3 499.9h.7M207.3 495.9h.7M224.7 497.8h.7M227.9 499.4h.7M215.3 504.2h.7M205.7 505.5h.7M212.4 505.7h.7M229.8 497.6h.7M237.1 499.1h.7M220.4 498.9h.7M215.7 499.3h.7M212.6 502.5h.7M226.3 502.1h.7M230.5 498.6h.7M225.2 498.7h.7M223.4 501.0h.7M220.7 497.9h.7M203.0 505.7h.7M207.0 499.8h.7M221.0 498.9h.7M221.9 502.9h.7M198.4 502.4h.7M223.2 496.2h.7M225.5 502.8h.7M217.1 501.3h.7M213.3 502.9h.7M210.5 500.9h.7M208.5 499.4h.7M230.1 498.7h.7M226.7 495.4h.7M202.4 499.6h.7M239.2 500.6h.7M223.8 500.4h.7M213.7 502.0h.7M216.4 501.4h.7M195.5 500.0h.7M205.3 505.4h.7M226.7 496.9h.7M222.3 498.3h.7M203.1 499.5h.7M215.9 503.3h.7M219.6 497.3h.7M225.8 497.3h.7M216.0 500.6h.7M204.3 507.8h.7M216.6 498.9h.7M213.4 499.8h.7M187.1 503.7h.7M230.4 499.3h.7M221.8 499.5h.7M196.3 503.8h.7M224.4 497.0h.7M203.2 500.3h.7M200.5 496.1h.7M211.8 499.3h.7M218.3 502.9h.7M205.6 497.7h.7M215.5 502.0h.7M233.8 500.7h.7M218.2 500.2h.7M196.5 504.0h.7M225.8 499.1h.7M213.2 501.6h.7M221.9 500.9h.7M221.2 496.2h.7M209.7 497.1h.7M226.6 505.3h.7M207.3 500.9h.7M219.4 498.3h.7M236.6 498.6h.7M222.1 497.9h.7M232.0 498.0h.7M207.1 500.8h.7M229.6 497.0h.7M214.2 502.6h.7M213.5 502.7h.7M230.8 497.6h.7" stroke="#6f78c6" stroke-width="0.7" fill="none" opacity="0.42"/>
<path d="M193.2 501.7h.7M203.3 506.2h.7M198.4 503.8h.7M202.4 503.5h.7M209.3 505.6h.7M191.4 507.4h.7M199.1 504.7h.7M197.3 507.8h.7M196.0 508.7h.7M194.9 507.1h.7M191.8 507.2h.7M194.0 504.1h.7M201.1 502.8h.7M200.2 504.7h.7M203.4 507.0h.7M199.0 504.3h.7M194.3 508.3h.7M197.0 501.5h.7M194.7 499.9h.7M194.4 503.6h.7M199.0 507.1h.7M201.4 500.1h.7M196.0 506.2h.7M199.4 504.7h.7M194.7 506.5h.7M197.6 504.1h.7M197.5 504.1h.7M199.2 507.5h.7M198.3 503.1h.7M197.5 504.3h.7M200.0 506.7h.7M204.8 507.0h.7M191.0 502.6h.7M192.8 505.5h.7M207.6 505.9h.7M195.6 508.2h.7M200.5 502.6h.7M194.0 508.5h.7M201.1 499.4h.7M194.9 506.1h.7M192.4 504.7h.7M194.3 500.5h.7M195.8 503.4h.7M199.1 500.4h.7M199.0 503.8h.7M191.3 507.8h.7M196.1 505.8h.7M204.4 505.8h.7M201.8 505.2h.7M195.5 505.2h.7M191.4 505.9h.7M201.3 505.8h.7M195.1 501.7h.7M194.8 504.0h.7M192.0 509.6h.7M194.6 505.0h.7M196.0 505.0h.7M189.0 502.1h.7M197.8 504.6h.7M199.5 503.4h.7M201.3 505.3h.7M197.7 504.8h.7M202.3 504.6h.7M204.4 505.0h.7M198.9 504.7h.7M199.1 505.9h.7M195.3 506.7h.7M208.6 506.1h.7M198.4 502.7h.7M194.7 502.6h.7M199.0 503.0h.7M204.5 503.6h.7M194.2 502.4h.7M197.5 504.3h.7M201.7 502.9h.7M199.3 507.1h.7M196.7 500.3h.7M198.9 507.3h.7M199.5 504.7h.7M189.8 508.8h.7M197.1 501.7h.7M196.5 505.1h.7M198.1 502.4h.7M207.9 507.9h.7M202.0 506.3h.7M196.2 501.7h.7M192.6 507.4h.7M198.2 508.8h.7M188.5 508.1h.7M199.8 503.3h.7M201.5 503.0h.7M196.7 506.0h.7M198.5 505.4h.7M198.8 507.3h.7M194.3 499.6h.7M194.0 498.6h.7M206.0 503.0h.7M197.7 505.6h.7M194.6 503.4h.7M198.9 504.7h.7M201.2 504.1h.7M195.1 501.0h.7M190.8 505.4h.7M199.2 503.7h.7M202.9 497.9h.7M200.5 501.7h.7M196.4 504.1h.7M194.7 504.0h.7M199.0 510.8h.7M197.9 506.5h.7M201.3 502.3h.7M199.9 503.7h.7M201.6 503.2h.7M202.3 502.4h.7M195.9 506.9h.7M202.1 506.9h.7M206.2 507.3h.7M197.8 507.1h.7M194.4 506.8h.7M199.5 504.3h.7M194.8 507.4h.7M189.5 504.3h.7M192.0 503.8h.7M196.0 502.6h.7M195.3 505.4h.7M206.1 509.1h.7M197.1 503.6h.7M200.4 502.6h.7M191.7 507.2h.7M196.1 508.6h.7M199.3 501.0h.7M199.1 505.9h.7M198.1 501.2h.7M191.6 509.4h.7M186.2 502.3h.7M201.2 509.3h.7M200.5 504.6h.7M199.4 507.6h.7M195.6 507.9h.7M198.9 505.2h.7M199.7 505.5h.7M194.0 508.7h.7M195.8 504.0h.7M188.0 500.5h.7M200.2 504.5h.7M197.4 503.8h.7M200.4 503.1h.7M191.7 500.6h.7M194.5 505.5h.7M203.9 506.1h.7M195.0 501.3h.7M201.3 506.0h.7M197.6 506.3h.7M200.3 506.0h.7M203.4 500.8h.7M195.1 503.3h.7M193.7 509.7h.7M199.3 505.8h.7M201.2 504.1h.7M201.4 504.2h.7M201.0 506.1h.7M203.3 500.8h.7M194.0 502.8h.7M194.4 505.7h.7M201.9 503.8h.7M202.3 507.0h.7M195.4 506.4h.7M203.8 503.5h.7M188.7 506.1h.7M199.1 506.3h.7M200.0 504.6h.7M197.8 502.7h.7M206.0 508.7h.7M197.3 502.5h.7M199.7 508.8h.7M198.1 502.6h.7M201.8 505.4h.7M194.6 504.2h.7M198.6 501.9h.7M199.1 508.0h.7M202.3 507.9h.7M201.0 504.5h.7M200.5 507.9h.7M198.1 506.1h.7M195.3 504.8h.7M195.9 502.0h.7M199.6 510.4h.7M190.9 503.5h.7M198.7 502.9h.7M198.6 506.9h.7M191.2 504.5h.7M200.4 506.2h.7M205.5 505.3h.7M203.1 503.3h.7M194.2 503.4h.7M196.1 507.0h.7M201.1 504.8h.7M194.2 505.1h.7M196.2 503.8h.7M190.7 508.8h.7M200.4 512.4h.7M209.1 504.9h.7M207.1 503.7h.7M209.5 504.6h.7M190.3 504.7h.7M201.3 509.2h.7M202.0 509.3h.7M198.7 500.9h.7M198.6 502.5h.7M201.4 499.3h.7M193.9 501.8h.7M198.4 507.4h.7M196.7 501.4h.7M195.8 504.4h.7M202.8 505.1h.7M203.7 497.5h.7M205.4 510.4h.7M195.8 511.7h.7M191.5 507.2h.7M192.6 503.2h.7M200.1 505.4h.7M199.2 504.3h.7M190.3 500.6h.7M194.4 502.2h.7M196.0 500.4h.7M197.5 506.0h.7M195.9 508.2h.7M198.8 507.2h.7M194.2 505.3h.7M192.0 499.9h.7M190.7 503.7h.7M199.0 510.3h.7M199.3 503.8h.7M202.4 505.1h.7M198.0 505.1h.7M202.0 508.9h.7M192.0 505.0h.7M196.0 504.8h.7M207.9 504.2h.7M187.7 507.0h.7M196.0 502.4h.7M207.2 510.0h.7M202.2 505.4h.7M194.9 508.6h.7M196.9 505.4h.7M197.2 505.2h.7M189.7 501.6h.7M192.6 499.1h.7M193.1 503.5h.7M197.2 504.6h.7M196.1 507.5h.7M189.3 503.4h.7M197.0 502.5h.7M203.7 504.5h.7M202.6 506.2h.7M196.8 507.3h.7M191.8 501.6h.7M196.3 498.6h.7M196.2 504.2h.7M190.6 502.1h.7" stroke="#5f6cc2" stroke-width="0.7" fill="none" opacity="0.45"/>
<path d="M194.3 520.4h.7M201.5 513.7h.7M198.6 516.5h.7M198.3 516.2h.7M200.4 519.5h.7M200.9 509.3h.7M199.7 515.7h.7M199.8 519.8h.7M198.8 509.9h.7M200.5 515.8h.7M197.9 513.4h.7M198.4 512.4h.7M199.0 509.9h.7M200.0 512.8h.7M202.8 512.6h.7M198.3 506.8h.7M204.3 510.6h.7M196.6 510.4h.7M198.0 511.1h.7M202.7 509.6h.7M197.3 509.8h.7M199.7 505.2h.7M200.8 510.1h.7M194.0 517.0h.7M194.3 514.1h.7M198.0 508.9h.7M193.3 508.7h.7M200.1 511.2h.7M196.4 515.1h.7M198.1 511.7h.7M195.6 506.2h.7M196.7 512.5h.7M196.8 512.6h.7M197.3 510.5h.7M197.9 512.8h.7M191.7 511.4h.7M197.4 509.7h.7M200.7 515.8h.7M201.2 514.2h.7M199.3 511.9h.7M200.1 508.9h.7M197.6 512.6h.7M197.6 506.7h.7M197.7 509.8h.7M196.2 513.7h.7M201.0 511.7h.7M194.8 510.7h.7M197.5 507.4h.7M196.3 511.9h.7M196.3 513.0h.7M194.3 513.8h.7M196.0 511.8h.7M198.0 509.4h.7M200.9 504.7h.7M198.5 513.8h.7M197.3 511.1h.7M194.8 511.2h.7M198.4 509.1h.7M198.0 510.0h.7M195.1 511.0h.7M195.8 514.6h.7M195.7 516.6h.7M197.9 511.2h.7M195.9 513.0h.7M195.1 505.5h.7M199.2 503.5h.7M201.1 509.3h.7M202.4 512.2h.7M202.6 505.9h.7M196.7 512.3h.7M196.4 511.6h.7M197.5 513.8h.7M202.0 503.2h.7M199.7 507.0h.7M202.5 505.8h.7M195.6 513.2h.7M197.5 513.9h.7M199.0 508.4h.7M193.4 515.6h.7M197.3 510.9h.7M197.1 510.3h.7M195.9 511.5h.7M198.7 506.7h.7M193.5 513.4h.7M200.4 509.3h.7M197.5 509.4h.7M199.1 511.0h.7M196.4 508.4h.7M199.2 512.7h.7M196.7 512.8h.7M189.2 509.7h.7M198.4 503.7h.7M196.3 512.2h.7M201.5 512.8h.7M194.5 514.6h.7M197.2 514.4h.7M194.0 505.2h.7M193.4 513.5h.7M201.3 512.2h.7M198.4 510.9h.7M198.5 507.5h.7M201.4 514.3h.7M200.7 511.0h.7M200.3 514.9h.7M205.1 515.3h.7M195.8 508.3h.7M200.4 513.1h.7M199.5 511.5h.7M195.7 511.8h.7M193.8 512.3h.7M204.4 514.0h.7M195.5 508.1h.7M204.8 513.7h.7M196.5 513.5h.7M197.0 507.4h.7M198.4 513.2h.7M201.6 506.6h.7M202.2 510.4h.7M192.3 515.0h.7M200.8 513.3h.7M200.3 508.0h.7M199.4 505.2h.7M196.1 520.7h.7M202.7 512.8h.7M199.4 511.6h.7M199.8 512.1h.7M195.3 510.0h.7M192.5 508.1h.7M197.5 512.7h.7M204.3 505.3h.7M204.0 509.7h.7M196.7 511.0h.7M204.2 507.3h.7M196.9 513.3h.7M200.7 512.8h.7M198.3 515.0h.7M195.2 517.2h.7M196.6 512.7h.7M195.3 509.0h.7M200.8 513.4h.7" stroke="#6f78c6" stroke-width="0.7" fill="none" opacity="0.45"/>
<path d="M197.3 521.3h.7M209.8 507.9h.7M190.4 518.8h.7M191.7 522.2h.7M194.9 518.0h.7M203.6 511.0h.7M200.4 516.7h.7M203.4 519.4h.7M195.2 516.2h.7M198.3 515.9h.7M196.5 521.5h.7M201.2 518.6h.7M198.4 516.7h.7M189.3 522.8h.7M203.5 517.2h.7M199.0 512.5h.7M197.2 518.8h.7M197.7 518.2h.7M201.6 520.9h.7M200.9 515.6h.7M196.1 518.0h.7M192.1 512.1h.7M199.2 518.1h.7M198.3 522.9h.7M190.1 519.7h.7M197.1 512.7h.7M200.4 523.8h.7M192.5 518.2h.7M201.5 518.2h.7M196.3 522.0h.7M191.7 517.8h.7M195.6 517.7h.7M193.3 518.8h.7M202.5 519.9h.7M193.2 515.9h.7M195.2 511.9h.7M200.7 520.1h.7M197.3 524.1h.7M200.6 515.6h.7M198.1 517.5h.7M197.9 523.4h.7M202.7 514.1h.7M205.2 511.5h.7M200.5 522.9h.7M198.5 520.1h.7M195.6 524.1h.7M197.2 515.9h.7M192.5 513.9h.7M199.8 518.2h.7M204.4 520.6h.7M199.2 514.8h.7M200.0 512.2h.7M195.2 523.7h.7M199.0 513.3h.7M195.7 517.5h.7M199.2 518.9h.7M201.0 505.9h.7M200.7 510.4h.7M196.3 518.6h.7M201.9 515.5h.7M193.1 514.7h.7M193.4 516.0h.7M195.4 522.7h.7M200.1 517.4h.7M197.0 513.5h.7M198.1 513.0h.7M198.8 521.7h.7M196.7 521.9h.7M196.7 520.5h.7M201.0 521.4h.7M201.5 520.1h.7M200.6 521.9h.7M199.8 520.5h.7M199.1 517.9h.7M191.3 517.8h.7M198.2 515.9h.7M196.4 523.3h.7M197.1 508.9h.7M196.1 517.6h.7M202.6 519.4h.7M199.9 515.9h.7M195.9 511.6h.7M200.4 518.2h.7M195.4 518.4h.7M202.1 522.0h.7M201.0 522.9h.7M198.9 518.2h.7M198.0 520.1h.7M191.8 519.3h.7M198.2 514.5h.7M196.0 522.9h.7M196.6 517.8h.7M203.5 514.2h.7M197.9 516.4h.7M196.1 517.4h.7M200.1 517.0h.7M201.5 521.2h.7M194.1 518.4h.7M197.4 512.9h.7M191.5 522.3h.7M199.1 523.2h.7M203.8 521.3h.7M199.4 523.4h.7M197.6 516.5h.7M201.6 520.8h.7M196.2 516.5h.7M196.7 516.1h.7M195.9 516.0h.7M198.5 518.3h.7M200.9 508.0h.7M198.2 515.7h.7M205.3 516.0h.7M200.5 519.1h.7M197.5 514.1h.7M198.6 519.0h.7M204.7 512.0h.7M192.4 520.4h.7M192.6 506.6h.7M196.8 522.8h.7M191.4 512.0h.7M203.4 514.5h.7M194.8 517.5h.7M203.9 517.3h.7M200.9 517.5h.7M194.1 519.2h.7M191.4 522.3h.7M192.1 518.7h.7M190.2 517.7h.7M199.5 515.1h.7M205.1 518.1h.7M199.6 512.1h.7M196.2 519.1h.7M200.7 520.5h.7M192.9 512.1h.7M193.9 522.7h.7M191.6 513.1h.7M198.4 517.9h.7M197.8 514.7h.7M199.2 517.6h.7M197.3 519.0h.7M197.2 517.3h.7M202.1 521.0h.7M198.3 518.7h.7M203.0 512.7h.7M191.0 518.2h.7M191.7 513.8h.7M198.8 518.9h.7M196.7 515.0h.7M192.7 515.2h.7M195.0 518.0h.7M201.4 516.9h.7M193.9 519.8h.7M202.4 519.4h.7M196.3 516.5h.7M196.8 513.8h.7M201.3 516.8h.7M205.0 523.0h.7M196.3 514.9h.7M191.5 518.1h.7M199.4 516.6h.7M197.6 520.0h.7M195.1 517.9h.7M197.0 524.2h.7M200.4 517.7h.7M194.3 517.5h.7M195.1 516.6h.7M199.2 521.4h.7M201.6 515.7h.7M198.7 518.0h.7M201.7 521.8h.7M198.9 520.2h.7M190.8 519.5h.7M197.4 517.9h.7M199.0 513.2h.7M196.6 521.5h.7M200.5 518.9h.7M200.0 514.9h.7M203.4 509.8h.7M196.7 515.0h.7M196.3 519.0h.7M198.4 522.1h.7M204.9 520.2h.7M194.6 518.2h.7M195.2 514.9h.7M196.5 522.0h.7M195.1 519.5h.7M195.3 521.7h.7M202.2 512.3h.7M200.7 514.6h.7M199.2 517.8h.7M201.1 513.0h.7M204.9 519.5h.7M195.7 523.3h.7M202.9 520.3h.7M196.2 514.9h.7M198.2 518.1h.7M196.7 523.1h.7M196.7 521.6h.7M191.6 515.0h.7M199.2 514.3h.7M204.9 509.9h.7M199.4 520.3h.7M199.6 517.9h.7M199.0 515.7h.7M197.9 522.6h.7M202.9 515.9h.7M189.7 523.0h.7M204.9 512.1h.7M196.2 517.8h.7M197.1 520.6h.7M197.6 520.6h.7M195.1 511.8h.7M204.6 519.2h.7M199.4 513.5h.7M199.6 518.0h.7M199.8 518.7h.7M201.8 523.8h.7M196.7 516.6h.7M200.6 512.3h.7M195.5 516.7h.7M197.0 517.3h.7M193.8 520.4h.7M196.4 513.4h.7M199.2 524.4h.7M192.7 518.1h.7M205.8 517.4h.7M198.8 521.9h.7M203.9 520.8h.7M192.6 513.6h.7M197.2 515.7h.7M197.4 510.6h.7M192.2 521.1h.7M197.3 519.9h.7M196.6 518.1h.7M201.8 512.8h.7M196.4 519.6h.7M196.5 518.0h.7M198.8 510.7h.7M200.7 520.1h.7M194.5 517.4h.7M197.7 517.1h.7M198.2 512.0h.7M198.2 519.9h.7M199.4 520.0h.7M196.0 518.8h.7M201.5 518.5h.7M198.8 518.5h.7M199.9 513.0h.7M197.8 521.6h.7M194.8 520.5h.7M196.4 516.5h.7M194.0 514.5h.7M202.2 512.3h.7M198.5 512.7h.7M205.3 521.1h.7M195.1 513.6h.7M197.0 519.6h.7M204.0 524.1h.7M194.5 519.2h.7M201.3 515.3h.7M196.3 522.0h.7M193.0 518.4h.7M197.7 517.0h.7M198.1 511.6h.7M201.0 516.4h.7M203.1 514.9h.7M197.1 523.1h.7M195.4 516.8h.7M189.0 512.5h.7M193.8 515.3h.7M195.4 519.3h.7M198.9 516.7h.7M193.1 519.2h.7M200.2 518.0h.7M202.9 516.4h.7M201.0 519.3h.7M193.8 510.8h.7M201.7 519.5h.7M199.2 516.4h.7M195.3 523.1h.7M199.7 516.0h.7M198.2 519.4h.7M193.3 515.6h.7M199.8 518.8h.7M193.1 519.5h.7M205.1 520.7h.7M193.3 516.3h.7M195.8 515.0h.7M195.0 515.8h.7M197.7 513.2h.7M201.3 519.5h.7M205.0 521.6h.7M201.4 520.3h.7M197.6 513.9h.7M200.4 518.6h.7M195.7 519.9h.7" stroke="#5a68c0" stroke-width="0.7" fill="none" opacity="0.45"/>
<ellipse cx="0" cy="0" rx="5.6" ry="3.4" fill="url(#ggrn2)" opacity="1" transform="translate(198.10,504.80) rotate(0)"/>
<ellipse cx="0" cy="0" rx="5.2" ry="6.0" fill="url(#gjet2)" opacity="1" transform="translate(198.10,518.20) rotate(-10)"/>
<ellipse cx="220.7" cy="496.6" rx="11.8" ry="2.3" fill="none" stroke="#c99bd0" stroke-width="0.65" transform="rotate(4 220.7 496.6)"/>
<ellipse cx="220.5" cy="499.8" rx="17.5" ry="3.0" fill="none" stroke="#b89fd6" stroke-width="0.6" transform="rotate(-3 220.5 499.8)"/>
<ellipse cx="213.5" cy="502" rx="23" ry="4.6" fill="none" stroke="#a9addf" stroke-width="0.55" opacity="0.8" transform="rotate(-6 213.5 502)"/>
<rect x="183.50" y="480.80" width="59.50" height="44.20" fill="none" stroke="#111" stroke-width="1.3" />
<text transform="translate(214.25,478.40) scale(0.92,1)" font-size="8.6" font-style="italic" fill="#222" text-anchor="middle">Ubr5<tspan font-size="5.9" dx="0.6" dy="-3.4">&#916;HECT</tspan></text>
<text transform="translate(43.80,491.60) scale(0.95,1)" font-size="8.1" text-anchor="start" font-weight="normal" font-style="normal" fill="#1a1a1a" style="stroke:none">prepro</text>
<text transform="translate(63.20,500.30) scale(0.95,1)" font-size="8.1" text-anchor="start" font-weight="normal" font-style="normal" fill="#1a1a1a" style="stroke:none">19.5</text>
<text transform="translate(116.90,487.60) scale(0.95,1)" font-size="8.1" text-anchor="end" font-weight="normal" font-style="normal" fill="#1a1a1a" style="stroke:none">recirculating</text>
<text transform="translate(112.30,494.50) scale(0.95,1)" font-size="8.1" text-anchor="end" font-weight="normal" font-style="normal" fill="#1a1a1a" style="stroke:none">2.33</text>
<text transform="translate(116.20,512.90) scale(0.95,1)" font-size="8.1" text-anchor="end" font-weight="normal" font-style="normal" fill="#1a1a1a" style="stroke:none">7.28</text>
<text transform="translate(116.20,522.90) scale(0.95,1)" font-size="8.1" text-anchor="end" font-weight="normal" font-style="normal" fill="#1a1a1a" style="stroke:none">immature</text>
<text transform="translate(123.50,499.60) scale(0.95,1)" font-size="8.1" text-anchor="start" font-weight="normal" font-style="normal" fill="#1a1a1a" style="stroke:none">21.9</text>
<text transform="translate(168.00,490.70) scale(0.95,1)" font-size="8.1" text-anchor="end" font-weight="normal" font-style="normal" fill="#1a1a1a" style="stroke:none">3.3</text>
<text transform="translate(176.50,521.40) scale(0.95,1)" font-size="8.1" text-anchor="end" font-weight="normal" font-style="normal" fill="#1a1a1a" style="stroke:none">8.61</text>
<text transform="translate(185.80,499.60) scale(0.95,1)" font-size="8.1" text-anchor="start" font-weight="normal" font-style="normal" fill="#1a1a1a" style="stroke:none">26.4</text>
<text transform="translate(234.20,490.70) scale(0.95,1)" font-size="8.1" text-anchor="end" font-weight="normal" font-style="normal" fill="#1a1a1a" style="stroke:none">1.27</text>
<text transform="translate(239.60,521.40) scale(0.95,1)" font-size="8.1" text-anchor="end" font-weight="normal" font-style="normal" fill="#1a1a1a" style="stroke:none">6.52</text>
<path d="M34.6 504.2V522.7H54.7" fill="none" stroke="#111" stroke-width="1.35"/>
<path d="M32.5 505.59999999999997L34.6 501.2L36.7 505.59999999999997z" fill="#111"/>
<path d="M53.300000000000004 520.6L57.7 522.7L53.300000000000004 524.8000000000001z" fill="#111"/>
<text font-size="9.6" text-anchor="middle" fill="#222" transform="translate(28.70,514.00) rotate(-90) scale(0.78,1)" >B220</text>
<text transform="translate(34.90,534.80) scale(0.85,1)" font-size="9.2" text-anchor="start" font-weight="normal" font-style="normal" fill="#222" >IgM</text>
<line x1="58.50" y1="528.60" x2="117.70" y2="528.60" stroke="#c8c8c8" stroke-width="0.9"/>
<line x1="120.80" y1="528.60" x2="180.00" y2="528.60" stroke="#dcdcdc" stroke-width="0.9"/>
<line x1="183.50" y1="528.60" x2="245.00" y2="528.60" stroke="#c8c8c8" stroke-width="0.9"/>
<path d="M87.1 551.9h.7M89.6 552.7h.7M86.7 560.2h.7M85.3 553.5h.7M87.4 553.4h.7M85.3 549.6h.7M86.9 553.2h.7M88.2 559.9h.7M86.4 558.8h.7M84.9 562.8h.7M85.2 554.4h.7M85.6 552.7h.7M88.1 555.0h.7M84.5 558.8h.7M86.5 557.8h.7M86.9 552.8h.7M82.5 553.6h.7M84.5 560.9h.7M85.9 562.2h.7M91.4 560.7h.7M91.6 550.6h.7M85.3 550.0h.7M83.5 548.9h.7M88.4 551.2h.7M85.7 557.8h.7M85.5 562.5h.7M89.0 558.5h.7M90.1 557.6h.7M86.8 560.4h.7M88.7 548.6h.7M88.8 560.0h.7M81.5 564.9h.7M86.8 561.9h.7M83.8 556.1h.7M84.9 551.1h.7M87.0 548.1h.7M86.4 558.4h.7M84.8 549.9h.7M87.6 559.5h.7M88.4 552.5h.7M85.5 561.7h.7M88.3 556.7h.7M86.9 554.3h.7M87.7 558.5h.7M86.5 556.4h.7M83.4 554.4h.7M89.9 556.2h.7M83.4 552.9h.7M86.6 562.1h.7M91.1 554.9h.7M86.1 555.8h.7M84.0 561.5h.7M83.8 558.6h.7M85.4 550.2h.7M87.1 563.1h.7M83.8 556.2h.7M84.9 560.3h.7M83.2 549.0h.7M85.6 548.9h.7M88.5 548.0h.7M86.5 552.8h.7M88.6 552.6h.7M86.0 563.2h.7M87.8 561.2h.7M89.5 557.5h.7M87.1 547.1h.7M82.7 553.2h.7M87.0 560.5h.7M84.7 553.6h.7M90.9 549.8h.7M86.0 554.6h.7M84.9 562.3h.7M82.9 553.7h.7M82.8 551.8h.7M89.8 545.5h.7M82.8 555.2h.7M87.2 551.6h.7M87.4 554.2h.7M85.6 555.6h.7M89.1 549.5h.7M88.3 556.5h.7M85.9 551.6h.7M87.1 559.0h.7M84.4 558.7h.7M86.5 559.1h.7M87.0 554.2h.7M86.9 558.2h.7M83.2 555.2h.7M81.1 556.1h.7M85.4 555.3h.7" stroke="#8a90d0" stroke-width="0.7" fill="none" opacity="0.4"/>
<path d="M89.2 567.9h.7M90.3 567.9h.7M86.1 563.2h.7M93.3 563.6h.7M85.7 566.5h.7M84.5 565.8h.7M87.1 563.9h.7M83.9 565.5h.7M87.7 562.7h.7M87.0 565.7h.7M84.3 566.5h.7M83.1 567.8h.7M84.8 568.1h.7M86.9 565.5h.7M83.2 567.4h.7M83.8 571.3h.7M87.7 565.9h.7M86.7 567.2h.7M87.8 566.4h.7M88.9 565.0h.7M90.8 561.3h.7M82.4 566.9h.7M86.5 561.3h.7M83.5 563.5h.7M89.9 567.1h.7M82.3 561.8h.7M87.0 562.1h.7M85.0 563.8h.7M86.7 566.9h.7M84.8 564.0h.7M87.3 569.7h.7M87.7 564.4h.7M89.0 565.0h.7M83.1 567.1h.7M90.8 562.4h.7M88.6 562.1h.7M86.4 565.1h.7M85.7 565.1h.7M88.4 564.0h.7M86.0 564.6h.7M87.3 563.6h.7M88.6 566.2h.7M85.1 561.9h.7M85.9 568.1h.7M88.3 565.4h.7M91.8 569.5h.7M88.0 569.1h.7M86.0 564.4h.7M87.2 560.3h.7M86.7 564.0h.7M90.1 566.9h.7M90.6 564.2h.7M90.4 565.8h.7M88.0 566.5h.7M83.4 567.8h.7M85.5 567.1h.7M86.5 562.7h.7M85.8 566.1h.7M85.8 569.9h.7M89.7 565.6h.7M85.7 569.3h.7M86.7 568.5h.7M83.1 560.0h.7M88.6 567.8h.7M86.2 564.9h.7M87.8 566.8h.7M86.4 565.4h.7M87.2 568.3h.7M88.5 558.4h.7M87.5 564.5h.7M89.4 567.3h.7M85.3 565.1h.7M80.6 565.0h.7M83.8 565.7h.7M84.8 568.7h.7M90.0 564.4h.7M84.3 568.9h.7M83.1 564.4h.7M85.6 566.0h.7M86.8 562.9h.7M88.9 566.4h.7M87.5 569.6h.7M91.5 566.0h.7M85.6 564.6h.7M86.3 562.5h.7M84.8 564.0h.7M88.0 567.4h.7M80.3 561.0h.7M85.0 562.5h.7M86.5 560.6h.7M86.0 565.9h.7M87.6 564.2h.7M87.7 567.4h.7M85.7 562.5h.7M85.3 566.1h.7M87.3 560.8h.7M82.7 561.0h.7M91.3 566.5h.7M87.1 562.2h.7M81.2 570.8h.7M88.2 558.7h.7M90.8 566.4h.7M86.5 566.0h.7M88.9 560.0h.7M87.3 561.9h.7M85.6 564.8h.7M85.5 563.3h.7M87.1 564.3h.7M87.3 567.4h.7M84.4 564.8h.7M84.4 567.5h.7M88.5 568.1h.7M89.4 565.7h.7M84.0 563.3h.7M89.7 565.7h.7M88.7 563.8h.7M86.0 570.5h.7M89.1 561.1h.7M84.8 565.7h.7M89.3 567.9h.7M88.8 568.6h.7M88.4 567.6h.7M84.4 562.1h.7M85.3 568.8h.7M90.1 562.4h.7M85.9 565.5h.7M88.1 566.2h.7M90.4 566.0h.7M86.1 564.7h.7M89.4 564.7h.7M88.0 564.2h.7M83.6 559.6h.7M85.9 563.2h.7M88.7 564.3h.7M84.2 567.3h.7M85.5 571.0h.7M85.4 565.5h.7M84.6 569.5h.7M87.4 564.7h.7M86.4 559.7h.7M89.9 565.4h.7M89.6 563.1h.7M90.3 563.6h.7M86.7 570.8h.7M85.3 565.4h.7M86.2 565.6h.7M87.0 564.9h.7M87.7 564.2h.7M90.0 567.2h.7M83.7 563.9h.7M85.8 567.9h.7M81.6 568.3h.7M81.5 563.7h.7M84.4 564.4h.7M88.6 567.8h.7M86.3 564.8h.7M84.1 568.5h.7M85.4 572.6h.7M82.6 563.5h.7M88.4 570.3h.7M85.8 566.5h.7M85.0 565.9h.7M81.1 567.1h.7M85.2 566.5h.7M86.3 562.7h.7M82.6 562.7h.7M86.5 567.3h.7M89.5 567.9h.7M91.9 568.0h.7M91.2 567.5h.7M87.4 560.7h.7M89.1 565.0h.7M85.6 561.7h.7M89.9 565.3h.7M85.5 563.2h.7M86.4 566.5h.7M88.2 565.6h.7M87.2 565.5h.7M85.5 568.4h.7M86.3 563.8h.7M91.1 562.8h.7M85.4 565.7h.7M86.2 565.1h.7M89.1 568.0h.7M83.2 570.4h.7M83.6 562.6h.7M88.4 562.6h.7M83.5 567.6h.7M87.9 566.4h.7M90.2 568.1h.7M85.4 564.1h.7M87.7 564.2h.7M87.3 567.7h.7M87.3 561.5h.7M90.9 565.2h.7M87.5 560.9h.7M86.5 561.9h.7M90.7 564.1h.7M83.0 565.0h.7M84.2 565.5h.7" stroke="#6f78c4" stroke-width="0.7" fill="none" opacity="0.5"/>
<ellipse cx="0" cy="0" rx="4.0" ry="4.2" fill="url(#gyg)" opacity="1" transform="translate(86.60,565.30) rotate(0)"/>
<rect x="80.40" y="541.20" width="13.50" height="20.20" fill="none" stroke="#d6c6de" stroke-width="0.7" />
<rect x="59.00" y="531.50" width="58.00" height="41.00" fill="none" stroke="#f3f3f3" stroke-width="0.8" />
<text transform="translate(97.70,554.80) scale(0.95,1)" font-size="8.1" text-anchor="start" font-weight="normal" font-style="normal" fill="#1a1a1a" style="stroke:none">11.2</text>
<path d="M146.8 546.8h.7M148.5 553.6h.7M147.2 558.3h.7M150.7 554.6h.7M148.7 556.8h.7M150.9 555.9h.7M146.4 558.1h.7M154.1 558.1h.7M149.6 552.4h.7M145.6 557.5h.7M150.2 557.2h.7M149.2 561.2h.7M148.7 546.0h.7M148.6 555.9h.7M150.6 557.8h.7M150.4 557.3h.7M149.6 549.5h.7M148.2 559.9h.7M152.5 542.3h.7M148.6 553.0h.7M150.8 545.6h.7M147.7 556.0h.7M147.1 546.8h.7M153.0 553.9h.7M149.0 558.0h.7M153.1 551.7h.7M148.6 553.4h.7M151.0 559.5h.7M152.4 553.0h.7M146.2 552.0h.7M144.7 556.7h.7M144.4 557.1h.7M146.6 557.1h.7M152.1 554.5h.7M148.6 555.2h.7M147.5 556.7h.7M148.3 555.8h.7M147.1 557.6h.7M149.6 550.9h.7M148.7 548.4h.7M145.8 549.7h.7M149.8 553.2h.7M148.8 556.4h.7M148.3 554.2h.7M147.6 565.4h.7M147.1 558.0h.7M148.3 563.7h.7M146.4 554.6h.7M149.7 552.7h.7M153.5 556.3h.7M149.8 547.0h.7M149.8 549.3h.7M150.1 556.8h.7M148.6 552.4h.7M147.1 552.0h.7M152.3 551.2h.7M148.2 557.0h.7M145.9 553.0h.7M151.4 556.2h.7M150.1 558.5h.7M148.8 543.7h.7M150.5 557.8h.7M143.7 554.0h.7M152.0 549.5h.7M150.9 562.0h.7M148.6 553.7h.7M146.7 558.1h.7M149.4 557.7h.7M148.7 555.2h.7M147.6 560.2h.7M148.6 561.0h.7M150.8 551.5h.7M146.4 560.0h.7M149.7 553.3h.7M151.2 545.3h.7M150.1 553.3h.7M150.5 552.3h.7M147.8 558.3h.7M149.7 548.1h.7M150.0 558.4h.7M145.3 550.5h.7M146.4 550.3h.7M147.4 564.1h.7M146.7 550.5h.7M148.3 561.4h.7M148.0 559.6h.7M151.1 553.1h.7M149.7 559.8h.7M149.4 562.8h.7M149.7 562.6h.7" stroke="#8a90d0" stroke-width="0.7" fill="none" opacity="0.4"/>
<path d="M146.5 565.9h.7M142.9 561.5h.7M147.6 564.2h.7M148.5 566.7h.7M145.3 560.7h.7M151.0 566.1h.7M151.5 567.6h.7M149.9 563.9h.7M150.3 562.8h.7M145.7 564.4h.7M154.8 562.7h.7M152.5 564.8h.7M153.5 564.0h.7M146.0 563.6h.7M148.5 566.8h.7M147.2 565.9h.7M155.1 565.4h.7M150.8 572.4h.7M147.1 565.3h.7M148.2 566.0h.7M147.0 564.5h.7M150.9 565.3h.7M144.1 568.4h.7M150.0 570.5h.7M146.9 566.3h.7M146.7 567.4h.7M147.6 568.8h.7M149.3 559.5h.7M146.1 567.1h.7M151.0 568.0h.7M150.3 564.1h.7M149.4 565.4h.7M149.1 568.0h.7M146.6 564.5h.7M152.4 565.0h.7M150.5 563.9h.7M149.2 568.8h.7M153.2 565.4h.7M147.4 569.3h.7M144.1 564.8h.7M150.9 571.6h.7M151.7 565.0h.7M148.9 565.2h.7M146.6 564.2h.7M149.9 560.8h.7M146.9 557.3h.7M151.5 565.6h.7M144.7 561.3h.7M147.2 569.7h.7M150.3 562.3h.7M147.7 560.9h.7M146.5 560.7h.7M153.7 567.2h.7M152.4 566.5h.7M147.1 567.9h.7M150.3 563.4h.7M144.8 565.2h.7M145.9 564.5h.7M143.7 560.4h.7M151.5 566.8h.7M149.4 564.6h.7M149.5 562.7h.7M151.0 569.6h.7M147.4 561.1h.7M149.1 560.6h.7M154.2 565.0h.7M150.1 565.8h.7M147.7 563.3h.7M146.2 570.6h.7M149.2 568.2h.7M152.9 564.5h.7M147.7 564.2h.7M150.0 562.6h.7M151.5 564.6h.7M147.0 567.2h.7M152.7 562.9h.7M148.5 564.8h.7M150.4 567.4h.7M148.7 562.8h.7M147.4 567.6h.7M153.8 565.8h.7M146.9 572.1h.7M152.0 563.3h.7M145.7 562.8h.7M156.8 568.7h.7M146.4 563.2h.7M148.1 561.8h.7M150.5 562.3h.7M148.4 566.9h.7M148.4 567.9h.7M147.6 568.5h.7M147.3 563.7h.7M145.2 566.2h.7M150.8 565.3h.7M152.8 567.0h.7M149.9 560.8h.7M148.6 566.2h.7M145.9 569.3h.7M149.9 569.3h.7M145.8 570.2h.7M152.6 565.6h.7M148.1 569.7h.7M146.5 564.7h.7M152.0 565.0h.7M146.9 562.1h.7M147.7 568.7h.7M156.2 562.6h.7M145.8 567.0h.7M148.6 564.1h.7M148.6 568.9h.7M151.0 563.2h.7M150.4 561.9h.7M152.0 559.7h.7M147.9 567.7h.7M153.5 566.7h.7M143.8 564.7h.7M151.5 567.0h.7M150.0 563.7h.7M144.0 563.9h.7M149.4 563.4h.7M146.8 566.3h.7M148.1 565.8h.7M151.8 563.3h.7M151.6 562.2h.7M151.3 566.4h.7M150.3 567.3h.7M149.6 560.5h.7M153.5 565.9h.7M149.6 565.4h.7M150.1 564.6h.7M145.5 562.0h.7M153.7 566.9h.7M146.2 569.7h.7M149.8 562.2h.7M147.0 563.4h.7M152.0 567.3h.7M148.4 564.6h.7M147.2 565.6h.7M146.3 567.7h.7M148.8 567.9h.7M153.2 566.1h.7M151.3 556.8h.7M146.6 565.9h.7M146.7 568.2h.7M148.2 564.8h.7M143.5 567.1h.7M147.7 568.8h.7M150.4 565.1h.7M151.3 564.5h.7M146.9 565.1h.7M148.4 568.3h.7M147.2 562.3h.7M152.6 567.7h.7M148.1 565.6h.7M144.8 569.8h.7M147.6 559.3h.7M148.7 566.7h.7M150.8 565.9h.7M149.7 564.8h.7M148.8 564.6h.7M155.6 565.5h.7M149.4 559.6h.7M148.9 566.8h.7M150.9 561.0h.7M148.9 569.6h.7M148.5 564.7h.7M150.6 565.0h.7M147.6 563.5h.7M144.5 565.8h.7M150.5 566.9h.7M147.1 566.4h.7M146.3 560.7h.7M150.7 561.7h.7M145.4 564.4h.7M148.2 569.5h.7M151.8 571.1h.7M149.5 560.7h.7M145.7 566.0h.7M145.4 566.5h.7M151.8 566.9h.7M144.6 568.4h.7M153.6 568.1h.7M155.3 563.0h.7M148.7 567.6h.7M151.7 569.4h.7M148.6 563.3h.7M148.5 563.3h.7M149.3 564.3h.7M151.1 563.3h.7M151.5 563.1h.7M152.3 568.7h.7M149.0 564.7h.7M150.0 566.5h.7M146.4 567.2h.7M144.2 562.0h.7M145.9 565.8h.7M146.8 558.7h.7M151.9 563.7h.7M148.2 566.2h.7M150.0 566.9h.7" stroke="#6f78c4" stroke-width="0.7" fill="none" opacity="0.5"/>
<ellipse cx="0" cy="0" rx="4.0" ry="4.2" fill="url(#gyg)" opacity="1" transform="translate(149.10,565.30) rotate(0)"/>
<rect x="142.90" y="541.20" width="13.50" height="20.20" fill="none" stroke="#d6c6de" stroke-width="0.7" />
<rect x="121.30" y="531.50" width="58.00" height="41.00" fill="none" stroke="#f3f3f3" stroke-width="0.8" />
<text transform="translate(160.20,554.80) scale(0.95,1)" font-size="8.1" text-anchor="start" font-weight="normal" font-style="normal" fill="#1a1a1a" style="stroke:none">11.8</text>
<path d="M208.8 556.5h.7M213.8 558.7h.7M215.0 547.7h.7M214.4 547.8h.7M209.2 555.9h.7M216.9 560.9h.7M211.4 555.4h.7M214.1 548.8h.7M210.9 552.0h.7M214.3 557.7h.7M212.4 561.0h.7M211.1 550.4h.7M213.7 545.8h.7M212.3 554.9h.7M208.1 555.9h.7M209.7 561.8h.7M213.4 559.4h.7M213.9 554.9h.7M214.2 558.0h.7M212.9 560.3h.7M216.1 546.6h.7M210.7 547.7h.7M208.9 558.4h.7M209.5 553.9h.7M210.4 559.8h.7M215.3 555.5h.7M210.1 552.1h.7M211.3 546.9h.7M209.0 555.9h.7M212.2 555.8h.7M212.4 551.3h.7M211.4 550.0h.7M212.2 545.0h.7M212.9 556.1h.7M210.8 555.7h.7M214.0 555.3h.7M216.0 561.0h.7M211.9 554.0h.7M209.1 549.6h.7M212.1 555.6h.7M212.5 563.3h.7M212.6 556.9h.7M211.2 549.6h.7M210.7 554.5h.7M213.3 558.4h.7M209.4 554.4h.7M213.4 547.9h.7M211.2 547.8h.7M210.2 560.7h.7M212.5 565.8h.7M209.4 559.5h.7M211.3 547.1h.7M212.1 556.1h.7M211.1 561.0h.7M211.0 558.6h.7M211.7 552.4h.7M212.6 560.3h.7M214.9 560.9h.7M208.0 548.4h.7M211.1 560.9h.7M207.5 555.7h.7M209.1 558.9h.7M214.0 553.6h.7M214.7 558.7h.7M211.4 562.2h.7M216.4 554.6h.7M212.3 556.7h.7M213.5 553.0h.7M211.2 560.9h.7M211.5 561.6h.7M212.3 563.5h.7M215.0 549.3h.7M213.3 553.8h.7M210.4 559.3h.7M214.1 557.6h.7M214.2 563.1h.7M212.5 558.1h.7M212.8 562.5h.7M209.8 554.7h.7M209.1 552.3h.7M212.5 553.3h.7M210.1 553.9h.7M214.2 565.4h.7M212.0 551.4h.7M212.2 552.0h.7M212.5 558.5h.7M216.0 551.4h.7M211.5 551.0h.7M214.1 550.4h.7M214.6 564.0h.7" stroke="#8a90d0" stroke-width="0.7" fill="none" opacity="0.4"/>
<path d="M207.5 568.4h.7M217.9 565.7h.7M211.8 571.0h.7M211.4 565.1h.7M209.6 567.2h.7M215.4 563.2h.7M214.1 566.8h.7M216.1 565.1h.7M210.0 566.0h.7M213.2 564.6h.7M209.5 567.2h.7M207.8 562.2h.7M211.7 561.6h.7M213.3 560.9h.7M211.5 566.5h.7M215.5 563.0h.7M212.7 568.7h.7M209.9 566.4h.7M214.9 568.5h.7M211.8 566.4h.7M210.1 566.9h.7M213.1 563.9h.7M218.2 567.2h.7M209.8 565.5h.7M213.3 562.5h.7M209.6 567.5h.7M211.8 565.2h.7M214.7 564.6h.7M208.1 562.3h.7M211.6 564.8h.7M211.0 562.9h.7M207.4 564.7h.7M213.1 566.1h.7M213.6 573.6h.7M208.9 563.7h.7M212.4 558.7h.7M213.8 565.1h.7M220.3 565.1h.7M211.7 565.4h.7M211.4 563.5h.7M214.8 566.3h.7M212.8 564.6h.7M207.0 564.1h.7M206.1 563.6h.7M212.9 564.6h.7M212.2 569.8h.7M213.4 568.2h.7M211.1 564.4h.7M208.3 569.5h.7M214.9 565.2h.7M213.2 566.1h.7M215.5 566.8h.7M211.7 562.4h.7M205.6 558.8h.7M211.3 568.7h.7M210.1 564.7h.7M213.6 569.9h.7M205.8 565.0h.7M210.7 567.6h.7M210.9 560.5h.7M205.8 560.7h.7M210.9 562.4h.7M208.4 570.9h.7M208.0 564.5h.7M215.1 565.3h.7M206.6 565.4h.7M211.9 569.1h.7M209.8 561.0h.7M210.9 562.2h.7M212.5 567.1h.7M211.7 565.2h.7M208.7 561.4h.7M212.7 569.3h.7M214.0 572.1h.7M209.3 559.4h.7M211.8 566.1h.7M209.7 560.0h.7M215.5 560.0h.7M213.3 567.7h.7M215.4 565.2h.7M214.4 564.6h.7M213.9 569.0h.7M211.8 560.4h.7M213.0 556.9h.7M215.6 563.6h.7M210.5 568.1h.7M214.2 566.7h.7M210.4 567.3h.7M212.3 564.3h.7M209.8 566.7h.7M209.9 569.0h.7M207.2 562.5h.7M212.4 560.5h.7M216.8 561.4h.7M210.3 564.1h.7M212.4 569.2h.7M210.8 563.9h.7M215.3 565.3h.7M214.0 565.5h.7M210.5 563.6h.7M209.3 563.1h.7M212.4 565.2h.7M214.0 565.6h.7M213.0 562.9h.7M207.6 568.2h.7M216.6 564.5h.7M214.2 562.8h.7M209.5 566.4h.7M214.2 566.9h.7M214.8 565.6h.7M211.5 565.6h.7M209.6 564.3h.7M207.5 562.0h.7M214.0 563.8h.7M205.9 562.1h.7M214.0 565.1h.7M211.7 567.0h.7M215.0 564.4h.7M212.5 570.9h.7M213.5 563.8h.7M209.7 564.0h.7M215.0 559.5h.7M213.6 564.1h.7M213.6 565.8h.7M207.7 563.9h.7M206.6 564.9h.7M209.9 567.9h.7M207.1 566.1h.7M209.3 563.9h.7M207.4 570.5h.7M211.3 565.5h.7M218.0 560.4h.7M211.6 562.7h.7M211.2 564.1h.7M213.2 567.4h.7M212.1 568.6h.7M211.0 561.7h.7M207.4 567.7h.7M211.0 566.6h.7M213.8 562.7h.7M215.3 567.4h.7M216.3 567.3h.7M208.9 566.9h.7M212.2 561.3h.7M214.2 564.6h.7M213.0 569.9h.7M215.4 564.1h.7M213.8 568.2h.7M212.3 568.3h.7M213.4 564.1h.7M215.6 564.6h.7M210.6 564.2h.7M207.2 568.3h.7M208.7 560.2h.7M212.8 559.2h.7M211.1 567.4h.7M212.8 566.4h.7M211.1 562.6h.7M212.7 567.5h.7M211.7 568.0h.7M205.5 562.7h.7M204.9 564.1h.7M212.3 561.7h.7M210.5 565.1h.7M209.7 564.7h.7M214.4 565.3h.7M214.7 566.5h.7M210.5 565.5h.7M214.3 563.7h.7M210.2 568.8h.7M214.1 567.1h.7M210.5 564.8h.7M212.9 566.5h.7M214.2 562.2h.7M214.3 562.5h.7M209.4 563.9h.7M210.5 568.2h.7M215.1 571.3h.7M210.1 565.7h.7M215.4 560.5h.7M214.0 570.6h.7M214.5 563.2h.7M211.7 565.7h.7M210.1 562.4h.7M215.0 562.9h.7M214.7 562.3h.7M209.8 558.9h.7M205.3 570.6h.7M210.2 564.2h.7M214.2 561.2h.7M211.9 568.5h.7M214.0 569.5h.7M211.6 561.0h.7M212.0 566.8h.7M209.2 564.4h.7M211.8 571.5h.7M210.2 563.1h.7M211.4 563.5h.7M212.0 563.8h.7M208.6 563.3h.7" stroke="#6f78c4" stroke-width="0.7" fill="none" opacity="0.5"/>
<ellipse cx="0" cy="0" rx="4.0" ry="4.2" fill="url(#gyg)" opacity="1" transform="translate(211.90,565.30) rotate(0)"/>
<rect x="205.70" y="541.20" width="13.50" height="20.20" fill="none" stroke="#d6c6de" stroke-width="0.7" />
<rect x="184.00" y="531.50" width="58.00" height="41.00" fill="none" stroke="#f3f3f3" stroke-width="0.8" />
<text transform="translate(223.00,554.80) scale(0.95,1)" font-size="8.1" text-anchor="start" font-weight="normal" font-style="normal" fill="#1a1a1a" style="stroke:none">9.61</text>
<line x1="183.60" y1="573.80" x2="244.70" y2="573.80" stroke="#c8c8c8" stroke-width="0.9"/>
<path d="M33.5 547.2V566.8H54.3" fill="none" stroke="#111" stroke-width="1.35"/>
<path d="M31.4 548.6L33.5 544.2L35.6 548.6z" fill="#111"/>
<path d="M52.9 564.6999999999999L57.3 566.8L52.9 568.9z" fill="#111"/>
<text font-size="9.2" text-anchor="middle" fill="#222" transform="translate(28.60,561.20) rotate(-90) scale(0.85,1)" >cKit</text>
<text transform="translate(33.80,579.20) scale(0.78,1)" font-size="9.6" text-anchor="start" font-weight="normal" font-style="normal" fill="#222" >B220</text>
<path d="M81.4 618.6h.7M89.5 606.7h.7M86.6 612.0h.7M86.9 601.7h.7M84.0 612.8h.7M85.5 610.3h.7M85.1 613.3h.7M85.7 609.1h.7M87.5 594.3h.7M88.3 616.2h.7M84.9 596.9h.7M87.1 601.7h.7M83.7 617.7h.7M85.8 600.4h.7M83.0 610.1h.7M86.9 610.1h.7M83.3 603.0h.7M86.1 604.9h.7M86.3 605.3h.7M86.0 608.7h.7M87.7 615.9h.7M86.0 594.2h.7M89.6 597.6h.7M86.7 615.4h.7M87.6 616.2h.7M86.1 622.0h.7M87.4 596.7h.7M87.9 605.4h.7M88.8 602.9h.7M88.2 599.0h.7M85.4 606.8h.7M88.9 602.2h.7M86.9 614.8h.7M81.7 617.7h.7M85.9 608.9h.7M90.9 607.1h.7M87.9 615.8h.7M89.7 615.6h.7M84.6 610.0h.7M82.6 599.4h.7M85.4 605.5h.7M84.7 602.5h.7M90.3 598.9h.7M87.4 599.2h.7M86.9 601.9h.7M82.0 594.2h.7M89.0 615.6h.7M85.4 606.3h.7M86.9 597.3h.7M87.7 627.1h.7M85.0 596.6h.7M84.7 607.5h.7M85.3 618.9h.7M87.6 603.7h.7M86.7 604.5h.7M84.2 617.5h.7M85.7 603.7h.7M89.6 605.6h.7M88.6 590.1h.7M87.8 600.1h.7M85.2 613.4h.7M90.4 592.3h.7M89.4 605.5h.7M84.9 614.4h.7M85.8 603.7h.7M85.6 606.0h.7M84.9 614.6h.7M90.1 601.5h.7M84.5 606.6h.7M84.2 608.1h.7M86.5 607.4h.7M84.3 609.5h.7M83.0 604.9h.7M85.7 607.8h.7M88.1 606.2h.7M83.7 610.2h.7M85.8 612.6h.7M90.1 617.5h.7M86.0 601.0h.7M86.7 606.2h.7M84.3 597.4h.7M88.9 601.0h.7M88.6 614.5h.7M83.8 610.1h.7M85.9 597.9h.7M84.6 608.4h.7M88.4 602.7h.7M85.6 614.3h.7M85.1 603.0h.7M82.4 610.3h.7M84.4 601.0h.7M85.0 602.5h.7M93.2 603.8h.7M87.9 599.0h.7M88.2 609.8h.7M85.2 622.2h.7M83.8 600.2h.7M79.1 592.1h.7M84.4 607.0h.7M88.0 606.9h.7M84.2 601.0h.7M90.0 604.4h.7M90.3 606.8h.7M85.2 605.0h.7M87.3 612.7h.7M85.2 610.8h.7M83.0 596.6h.7M82.2 604.3h.7M84.5 612.1h.7M85.2 604.6h.7M85.3 597.7h.7M83.1 620.1h.7M87.5 597.9h.7M83.1 609.8h.7M80.8 592.2h.7M84.9 603.6h.7M88.0 600.3h.7M83.0 610.3h.7M83.7 608.4h.7M81.5 604.9h.7M90.5 597.9h.7M85.9 606.6h.7M86.4 606.4h.7M87.9 602.9h.7M83.8 608.7h.7M86.6 595.4h.7M87.9 604.9h.7M88.4 607.4h.7M83.1 604.9h.7M87.7 614.3h.7M85.6 611.7h.7M89.3 609.3h.7M89.6 611.7h.7M83.8 599.2h.7M84.1 618.7h.7M88.9 601.4h.7M86.0 621.1h.7M84.1 607.5h.7M85.2 613.1h.7M81.5 609.7h.7M86.5 615.0h.7M87.1 610.0h.7M83.8 609.3h.7M84.9 619.4h.7M86.9 607.7h.7M86.5 608.0h.7M85.1 611.8h.7M86.1 601.6h.7M88.2 612.5h.7M88.8 604.8h.7M88.4 617.5h.7M87.7 610.2h.7M86.0 597.2h.7M83.6 607.1h.7M88.6 611.0h.7M84.8 609.0h.7M85.8 602.7h.7M86.0 613.2h.7M83.4 604.8h.7M86.0 600.8h.7M83.9 610.5h.7M91.3 608.1h.7M84.9 618.0h.7M86.5 595.1h.7M84.8 594.8h.7M85.3 617.2h.7M91.0 629.3h.7M88.5 605.4h.7M84.6 605.0h.7M83.5 601.4h.7M87.0 608.5h.7M86.6 606.5h.7M82.5 611.3h.7M86.2 612.9h.7M86.5 601.0h.7M88.4 612.8h.7M85.5 612.3h.7M87.2 604.5h.7M86.7 602.6h.7M89.4 604.7h.7M88.4 619.5h.7M86.3 612.1h.7M89.7 595.3h.7M91.3 611.6h.7M83.2 608.7h.7M91.3 608.3h.7M89.4 614.7h.7M84.6 610.1h.7M90.3 602.5h.7M86.4 604.0h.7M84.9 606.4h.7M81.0 603.5h.7M82.0 601.4h.7M84.8 614.5h.7M83.5 613.4h.7M85.1 602.6h.7M82.1 608.7h.7M85.9 612.9h.7M84.6 594.0h.7M87.4 616.5h.7M86.2 608.5h.7M87.3 609.4h.7M92.3 607.0h.7M87.4 613.6h.7M87.4 596.5h.7M87.1 605.5h.7M83.7 613.8h.7M84.5 610.4h.7M84.5 611.7h.7M89.3 602.1h.7M84.2 613.9h.7M84.0 614.7h.7M87.0 601.8h.7M84.8 616.4h.7M88.2 608.7h.7M86.7 614.9h.7M84.7 610.0h.7M87.2 616.5h.7M85.3 606.6h.7M86.8 606.3h.7M85.5 611.4h.7M85.0 606.0h.7M86.8 608.6h.7M85.2 607.2h.7M83.2 602.9h.7M84.4 600.6h.7M89.8 621.6h.7M85.6 607.2h.7M85.8 605.4h.7M84.8 613.7h.7M87.4 599.3h.7M86.6 602.3h.7M87.6 602.8h.7M86.9 602.9h.7M85.7 610.2h.7M87.8 598.7h.7M84.8 602.4h.7M82.1 609.4h.7M85.6 605.8h.7M84.2 619.4h.7M84.0 590.6h.7M85.3 609.7h.7M83.5 606.9h.7M80.6 606.1h.7M86.3 601.6h.7M83.5 600.8h.7M84.8 614.6h.7M86.4 603.7h.7M84.9 612.8h.7M84.5 601.9h.7M88.0 607.7h.7M89.3 606.1h.7M85.4 610.5h.7M86.6 608.0h.7M83.9 603.3h.7M84.3 604.4h.7M89.2 601.8h.7M87.2 610.6h.7M82.4 614.4h.7M86.7 610.1h.7M86.6 614.2h.7M87.0 603.4h.7M84.6 602.1h.7M84.2 602.1h.7M86.7 614.0h.7M85.6 614.4h.7M88.8 612.1h.7M82.2 590.8h.7M88.7 610.9h.7M82.8 602.8h.7M86.6 607.6h.7M83.0 607.3h.7M82.6 606.0h.7M87.6 609.4h.7M84.7 611.8h.7M90.7 605.8h.7M86.4 598.3h.7M88.0 597.1h.7M85.6 613.6h.7M87.5 586.3h.7M84.2 591.8h.7M85.4 598.1h.7M91.5 615.4h.7M83.7 605.6h.7M86.2 614.0h.7M89.4 612.0h.7M83.1 587.0h.7M82.4 600.0h.7M87.9 598.9h.7M89.2 612.8h.7M86.3 613.1h.7M84.4 614.5h.7M86.3 603.7h.7M84.2 594.0h.7M85.3 611.1h.7M85.1 604.6h.7M90.2 626.4h.7M82.9 615.8h.7M86.0 607.5h.7M84.1 605.9h.7M86.8 610.4h.7M84.7 604.1h.7M87.7 617.5h.7M85.1 611.0h.7M87.9 610.0h.7M83.9 607.8h.7M86.3 600.3h.7M86.2 607.5h.7M84.4 618.4h.7M86.8 602.0h.7M89.0 605.7h.7M83.7 599.7h.7M88.7 599.8h.7M86.9 610.6h.7M84.7 612.5h.7M88.6 607.1h.7M86.1 612.0h.7M86.3 616.2h.7M87.9 608.2h.7M86.7 605.0h.7" stroke="#6a74c4" stroke-width="0.7" fill="none" opacity="0.5"/>
<ellipse cx="0" cy="0" rx="3.2" ry="8" fill="url(#gyel)" opacity="0.75" transform="translate(86.10,607.70) rotate(0)"/>
<rect x="80.40" y="590.40" width="12.10" height="16.30" fill="none" stroke="#d6c6de" stroke-width="0.7" />
<rect x="59.00" y="580.00" width="57.00" height="39.00" fill="none" stroke="#f3f3f3" stroke-width="0.8" />
<text transform="translate(96.40,603.00) scale(0.95,1)" font-size="8.1" text-anchor="start" font-weight="normal" font-style="normal" fill="#1a1a1a" style="stroke:none">36.6</text>
<path d="M150.2 602.8h.7M148.5 599.3h.7M154.3 609.5h.7M148.7 610.7h.7M144.6 617.1h.7M144.7 611.7h.7M147.7 612.5h.7M150.2 609.3h.7M151.0 605.5h.7M149.2 605.5h.7M147.0 600.4h.7M149.5 618.9h.7M146.6 604.3h.7M147.0 610.2h.7M143.8 608.7h.7M146.8 601.0h.7M149.2 608.9h.7M149.3 615.6h.7M145.2 614.9h.7M149.9 623.6h.7M151.9 611.0h.7M144.0 609.3h.7M152.3 613.0h.7M148.4 599.4h.7M148.7 597.9h.7M146.7 604.9h.7M149.6 603.4h.7M148.5 607.4h.7M149.3 611.6h.7M149.8 605.7h.7M149.0 603.4h.7M145.7 603.7h.7M148.6 594.2h.7M150.5 609.9h.7M144.8 600.7h.7M146.5 592.4h.7M144.4 610.3h.7M143.8 622.1h.7M152.0 617.9h.7M149.8 615.3h.7M151.8 601.1h.7M152.4 602.3h.7M147.8 590.1h.7M147.8 596.2h.7M154.1 610.0h.7M150.8 604.3h.7M150.9 611.2h.7M147.7 611.2h.7M147.6 599.0h.7M143.7 596.7h.7M150.0 620.6h.7M147.5 603.5h.7M151.8 606.5h.7M149.4 607.7h.7M142.7 598.5h.7M149.4 608.2h.7M147.9 598.6h.7M148.9 605.6h.7M146.2 606.0h.7M149.2 621.9h.7M151.3 601.4h.7M150.5 597.0h.7M142.9 602.2h.7M153.3 612.5h.7M146.9 610.2h.7M143.5 606.2h.7M146.2 599.1h.7M147.6 602.1h.7M149.4 599.0h.7M149.5 610.5h.7M150.6 611.8h.7M150.3 614.6h.7M151.7 614.7h.7M151.5 598.7h.7M148.0 617.4h.7M147.1 612.5h.7M151.2 616.6h.7M147.1 609.2h.7M148.3 611.9h.7M143.9 607.0h.7M151.5 607.4h.7M151.1 617.1h.7M149.0 604.7h.7M147.2 599.4h.7M147.5 606.3h.7M151.0 602.9h.7M146.9 607.1h.7M148.1 616.1h.7M148.7 617.1h.7M148.8 589.9h.7M148.2 600.0h.7M148.7 601.3h.7M150.9 605.6h.7M147.7 621.6h.7M147.8 604.4h.7M147.8 612.5h.7M149.2 607.8h.7M151.5 603.5h.7M150.4 613.1h.7M149.4 604.2h.7M148.3 615.1h.7M142.0 617.7h.7M146.3 613.9h.7M149.9 610.4h.7M149.9 604.3h.7M152.6 607.9h.7M150.7 606.2h.7M147.8 614.9h.7M146.2 607.3h.7M146.6 596.7h.7M151.1 607.7h.7M144.1 607.1h.7M154.4 614.7h.7M148.1 610.0h.7M147.9 609.1h.7M148.3 608.8h.7M147.5 613.3h.7M145.7 595.9h.7M144.5 603.0h.7M148.9 611.4h.7M150.6 597.2h.7M144.8 611.8h.7M153.0 611.8h.7M148.3 614.5h.7M152.7 614.3h.7M149.1 605.5h.7M147.3 604.6h.7M145.7 609.9h.7M151.2 605.6h.7M150.5 612.1h.7M148.3 607.2h.7M152.3 602.5h.7M146.9 604.8h.7M146.8 611.4h.7M150.1 605.7h.7M150.2 595.5h.7M148.9 623.6h.7M151.0 600.6h.7M150.8 603.2h.7M150.1 612.2h.7M145.2 620.0h.7M145.3 604.6h.7M150.3 611.7h.7M149.2 605.4h.7M150.6 610.1h.7M147.8 615.2h.7M152.5 603.6h.7M147.7 600.5h.7M145.7 608.8h.7M151.0 597.9h.7M148.1 609.8h.7M147.2 613.5h.7M150.1 607.2h.7M151.5 610.0h.7M151.4 611.8h.7M148.0 617.9h.7M147.0 610.2h.7M147.9 602.1h.7M145.5 615.5h.7M152.0 615.1h.7M143.9 612.1h.7M148.9 611.8h.7M149.3 611.7h.7M149.8 615.0h.7M149.0 604.1h.7M143.3 609.7h.7M143.5 603.7h.7M148.6 606.8h.7M146.8 619.5h.7M145.2 615.8h.7M147.9 606.8h.7M148.8 610.8h.7M144.4 611.1h.7M148.3 607.5h.7M148.7 606.8h.7M151.3 601.7h.7M146.8 611.1h.7M148.2 613.9h.7M141.7 606.0h.7M148.8 619.7h.7M151.2 601.4h.7M151.3 602.0h.7M149.4 605.2h.7M145.3 613.1h.7M150.0 605.5h.7M146.6 602.4h.7M148.3 615.1h.7M147.6 607.2h.7M147.7 599.3h.7M147.7 603.4h.7M151.6 608.8h.7M151.8 607.1h.7M149.1 617.1h.7M149.8 608.2h.7M149.8 609.9h.7M151.4 603.5h.7M147.5 601.6h.7M151.6 612.0h.7M147.9 611.5h.7M153.3 613.0h.7M148.5 601.3h.7M150.1 625.2h.7M151.5 605.6h.7M144.9 614.2h.7M146.6 604.9h.7M153.9 604.9h.7M148.1 625.4h.7M152.8 591.8h.7M150.6 606.0h.7M149.1 603.5h.7M149.4 612.0h.7M147.9 613.0h.7M150.5 599.8h.7M153.0 608.7h.7M150.8 617.2h.7M148.6 623.8h.7M146.5 600.6h.7M147.8 620.0h.7M152.6 613.2h.7M146.3 605.0h.7M148.2 608.3h.7M145.9 607.9h.7M147.5 610.6h.7M146.3 604.0h.7M149.0 612.1h.7M148.8 608.8h.7M148.3 603.5h.7M147.6 601.8h.7M149.9 610.2h.7M148.2 601.8h.7M147.7 606.5h.7M151.1 605.3h.7M149.1 603.2h.7M150.2 605.8h.7M146.6 594.8h.7M147.8 605.2h.7M151.5 599.2h.7M147.2 599.3h.7M150.5 609.3h.7M147.7 611.6h.7M149.0 604.3h.7M148.5 611.5h.7M150.9 619.2h.7M149.3 608.0h.7M148.9 602.1h.7M148.2 611.3h.7M147.7 605.5h.7M145.5 611.5h.7M151.2 607.5h.7M149.0 608.8h.7M148.7 606.1h.7M151.0 622.4h.7M151.1 609.5h.7M147.7 599.4h.7M151.1 606.2h.7M150.0 604.1h.7M142.7 621.3h.7M145.7 611.5h.7M151.4 596.6h.7M149.1 606.8h.7M144.9 619.1h.7M147.4 611.0h.7M148.7 620.0h.7M146.4 604.9h.7M149.3 612.3h.7M148.6 615.1h.7M151.4 610.3h.7M145.3 601.3h.7M144.7 604.4h.7M150.8 618.2h.7M149.1 613.3h.7M147.7 605.6h.7M150.4 596.7h.7M148.2 601.8h.7M149.2 611.4h.7M149.1 616.6h.7M148.9 615.9h.7M149.2 594.1h.7M148.6 601.7h.7M147.7 591.8h.7M148.0 605.3h.7M145.9 606.0h.7M150.6 608.0h.7M150.3 601.7h.7M152.7 601.5h.7M145.7 608.8h.7M150.0 616.1h.7M150.4 613.9h.7M144.9 608.8h.7M147.2 593.3h.7M152.2 599.7h.7M150.2 613.1h.7M147.9 601.0h.7M151.8 607.6h.7M149.0 608.4h.7M149.4 611.6h.7M149.0 614.0h.7M148.5 598.6h.7M146.7 611.2h.7M146.5 609.0h.7M150.4 603.2h.7M148.5 599.2h.7M145.6 610.8h.7M149.1 600.3h.7M147.6 603.0h.7M147.8 603.3h.7M147.4 622.3h.7M147.4 598.8h.7M147.6 615.6h.7M148.1 611.9h.7M147.8 604.8h.7M152.1 609.3h.7M147.2 612.1h.7M145.3 597.7h.7M147.9 604.7h.7M148.8 599.4h.7M149.6 606.2h.7M148.0 609.6h.7M147.7 614.3h.7M146.5 609.5h.7" stroke="#6a74c4" stroke-width="0.7" fill="none" opacity="0.5"/>
<ellipse cx="0" cy="0" rx="3.2" ry="8" fill="url(#gyel)" opacity="0.75" transform="translate(148.60,607.70) rotate(0)"/>
<rect x="142.90" y="590.40" width="12.10" height="16.30" fill="none" stroke="#d6c6de" stroke-width="0.7" />
<rect x="121.30" y="580.00" width="57.00" height="39.00" fill="none" stroke="#f3f3f3" stroke-width="0.8" />
<text transform="translate(158.90,603.00) scale(0.95,1)" font-size="8.1" text-anchor="start" font-weight="normal" font-style="normal" fill="#1a1a1a" style="stroke:none">35.6</text>
<path d="M211.0 592.5h.7M209.0 604.2h.7M212.4 599.0h.7M210.0 604.2h.7M208.0 603.9h.7M213.7 613.6h.7M208.9 602.4h.7M209.7 593.4h.7M216.7 602.5h.7M212.1 604.2h.7M210.7 597.4h.7M208.8 606.3h.7M209.7 611.9h.7M210.1 610.0h.7M212.6 599.5h.7M214.2 606.1h.7M217.2 603.7h.7M213.8 612.2h.7M207.7 597.1h.7M207.8 612.9h.7M211.4 613.6h.7M208.7 612.4h.7M211.3 611.4h.7M212.8 608.2h.7M214.6 598.2h.7M210.5 614.2h.7M208.9 612.3h.7M211.4 609.4h.7M205.6 601.7h.7M213.0 599.6h.7M213.2 612.1h.7M204.3 608.2h.7M208.6 600.5h.7M207.5 609.4h.7M214.3 624.0h.7M214.8 604.3h.7M207.4 614.4h.7M213.2 607.8h.7M208.0 599.5h.7M210.8 617.4h.7M215.0 601.2h.7M207.1 606.7h.7M213.3 602.4h.7M211.6 613.4h.7M207.3 619.5h.7M214.7 607.9h.7M212.0 611.1h.7M209.6 612.4h.7M211.5 602.4h.7M211.1 605.6h.7M210.2 612.2h.7M213.2 613.7h.7M210.3 611.9h.7M210.7 618.6h.7M208.8 614.3h.7M210.0 596.1h.7M213.1 598.8h.7M209.2 607.0h.7M212.3 606.7h.7M212.3 609.3h.7M207.4 615.6h.7M214.8 603.6h.7M213.0 605.6h.7M209.3 605.6h.7M206.7 603.3h.7M212.9 614.1h.7M212.5 609.1h.7M209.8 613.8h.7M215.9 609.8h.7M215.5 608.3h.7M210.8 613.4h.7M211.6 606.0h.7M210.0 608.4h.7M211.3 596.9h.7M212.5 618.7h.7M212.2 610.6h.7M212.6 613.4h.7M213.2 605.4h.7M208.6 610.5h.7M212.4 604.0h.7M210.7 610.6h.7M215.1 603.6h.7M209.1 607.4h.7M209.5 604.3h.7M209.1 615.2h.7M212.4 608.7h.7M215.1 628.4h.7M212.8 613.2h.7M209.1 611.3h.7M209.9 597.8h.7M212.3 603.8h.7M214.8 605.9h.7M210.7 602.0h.7M211.0 607.0h.7M212.9 602.6h.7M209.7 600.6h.7M209.8 604.9h.7M211.0 603.2h.7M213.5 602.8h.7M211.9 606.6h.7M212.2 608.1h.7M210.4 607.5h.7M210.1 606.6h.7M214.1 613.0h.7M214.6 602.1h.7M214.2 610.4h.7M212.9 605.8h.7M215.5 601.8h.7M212.0 598.8h.7M210.7 610.1h.7M212.0 609.4h.7M214.5 600.8h.7M207.3 614.2h.7M207.8 605.5h.7M216.8 612.3h.7M211.1 613.6h.7M209.4 612.4h.7M210.4 603.1h.7M209.1 603.7h.7M212.0 619.3h.7M213.6 613.6h.7M211.1 618.6h.7M211.1 616.9h.7M208.5 611.5h.7M208.9 605.5h.7M210.9 595.8h.7M212.3 608.1h.7M207.3 606.9h.7M211.1 597.4h.7M209.8 614.2h.7M210.4 606.3h.7M211.1 606.2h.7M208.8 606.6h.7M206.8 608.6h.7M210.6 598.9h.7M207.8 608.9h.7M210.3 603.5h.7M210.1 609.0h.7M213.8 604.8h.7M206.9 601.9h.7M209.2 610.3h.7M214.0 609.9h.7M209.4 613.7h.7M210.3 599.9h.7M210.9 620.7h.7M211.3 603.1h.7M213.1 602.5h.7M214.0 612.1h.7M208.3 604.9h.7M210.5 602.4h.7M212.2 606.0h.7M215.3 609.3h.7M213.6 613.8h.7M212.4 612.8h.7M209.8 614.0h.7M213.7 614.5h.7M210.1 604.0h.7M214.1 607.1h.7M217.3 610.9h.7M208.7 611.7h.7M212.0 595.4h.7M210.0 593.5h.7M217.5 600.1h.7M209.4 605.4h.7M209.5 615.4h.7M210.8 598.5h.7M213.2 609.7h.7M208.1 613.6h.7M208.3 601.8h.7M214.8 604.3h.7M211.5 602.2h.7M210.7 594.5h.7M210.7 602.5h.7M213.5 604.7h.7M209.4 604.4h.7M206.9 610.1h.7M207.2 599.6h.7M212.0 605.5h.7M216.1 598.6h.7M212.2 619.0h.7M209.9 599.1h.7M213.8 619.5h.7M209.6 612.9h.7M212.9 608.3h.7M213.3 605.8h.7M212.9 605.9h.7M211.0 600.6h.7M211.3 606.9h.7M209.3 602.8h.7M210.5 616.5h.7M212.5 611.8h.7M214.4 612.0h.7M215.3 616.6h.7M213.1 606.9h.7M211.7 607.0h.7M209.7 597.7h.7M212.4 598.9h.7M213.0 618.7h.7M211.6 601.5h.7M209.9 611.4h.7M211.2 604.7h.7M212.0 600.1h.7M209.0 610.0h.7M209.7 611.5h.7M210.3 608.0h.7M211.0 615.6h.7M210.7 608.1h.7M208.8 608.4h.7M211.0 609.5h.7M206.7 611.5h.7M211.6 609.5h.7M212.3 614.0h.7M209.1 604.2h.7M212.0 598.0h.7M216.6 594.7h.7M212.6 604.4h.7M212.9 617.1h.7M215.8 603.0h.7M211.5 602.7h.7M208.2 608.3h.7M209.9 599.6h.7M210.6 603.7h.7M208.7 608.8h.7M212.6 609.9h.7M209.8 601.8h.7M206.0 612.0h.7M213.7 602.0h.7M208.2 599.9h.7M214.7 606.3h.7M210.4 608.0h.7M211.4 605.5h.7M211.0 611.6h.7M213.6 600.5h.7M211.1 607.1h.7M211.8 622.7h.7M213.0 612.2h.7M211.2 611.0h.7M214.2 615.3h.7M209.5 608.6h.7M212.2 600.7h.7M210.6 604.6h.7M213.5 607.8h.7M216.0 610.9h.7M210.4 609.2h.7M211.6 602.5h.7M212.3 598.8h.7M211.8 604.6h.7M211.6 603.1h.7M215.4 603.4h.7M213.2 608.0h.7M214.1 603.2h.7M208.5 611.9h.7M213.8 611.7h.7M202.5 618.3h.7M214.8 607.7h.7M209.3 610.8h.7M207.4 605.6h.7M212.8 616.2h.7M210.5 606.2h.7M208.2 606.7h.7M209.8 607.6h.7M209.7 610.4h.7M211.2 603.3h.7M212.7 610.9h.7M210.8 606.4h.7M213.3 610.7h.7M211.0 619.8h.7M210.3 599.4h.7M209.9 608.9h.7M207.3 619.4h.7M213.5 601.5h.7M212.3 599.6h.7M211.3 606.1h.7M215.0 595.9h.7M210.2 595.7h.7M210.3 605.5h.7M211.4 614.0h.7M209.3 604.1h.7M214.8 607.8h.7M209.1 607.7h.7M208.8 602.1h.7M210.1 598.1h.7M215.6 605.0h.7M211.9 606.0h.7M211.1 602.4h.7M212.4 604.8h.7M209.4 613.3h.7M214.9 610.3h.7M212.6 605.5h.7M211.7 612.0h.7M211.5 615.8h.7M214.7 609.0h.7M211.9 602.3h.7M210.4 603.4h.7M210.6 601.9h.7M212.3 609.6h.7M211.0 617.7h.7M212.0 607.2h.7M211.8 603.8h.7M213.1 601.9h.7M211.3 619.9h.7M212.0 600.9h.7M208.8 614.7h.7M207.0 617.8h.7M214.5 604.6h.7M212.0 604.6h.7M209.2 610.2h.7M209.8 611.3h.7M212.1 603.7h.7M211.6 607.8h.7M211.0 606.1h.7M214.2 603.0h.7M211.7 613.9h.7M212.3 605.0h.7M208.7 605.8h.7M206.9 604.8h.7M211.3 615.7h.7M212.8 614.0h.7M212.5 609.0h.7M207.7 604.0h.7" stroke="#6a74c4" stroke-width="0.7" fill="none" opacity="0.5"/>
<ellipse cx="0" cy="0" rx="3.2" ry="8" fill="url(#gyel)" opacity="0.75" transform="translate(211.40,607.70) rotate(0)"/>
<rect x="205.70" y="590.40" width="12.10" height="16.30" fill="none" stroke="#d6c6de" stroke-width="0.7" />
<rect x="184.00" y="580.00" width="57.00" height="39.00" fill="none" stroke="#f3f3f3" stroke-width="0.8" />
<text transform="translate(221.70,603.00) scale(0.95,1)" font-size="8.1" text-anchor="start" font-weight="normal" font-style="normal" fill="#1a1a1a" style="stroke:none">24.4</text>
<line x1="58.50" y1="577.30" x2="117.00" y2="577.30" stroke="#c8c8c8" stroke-width="0.9"/>
<line x1="121.40" y1="577.30" x2="121.40" y2="621.00" stroke="#c4c4c4" stroke-width="1.5"/>
<line x1="183.60" y1="577.30" x2="242.00" y2="577.30" stroke="#c8c8c8" stroke-width="0.9"/>
<line x1="183.60" y1="577.30" x2="183.60" y2="620.00" stroke="#c8c8c8" stroke-width="0.9"/>
<path d="M34.2 594.2V612.7H54.3" fill="none" stroke="#111" stroke-width="1.35"/>
<path d="M32.1 595.6L34.2 591.2L36.300000000000004 595.6z" fill="#111"/>
<path d="M52.9 610.6L57.3 612.7L52.9 614.8000000000001z" fill="#111"/>
<text font-size="9.6" text-anchor="middle" fill="#222" transform="translate(28.90,603.50) rotate(-90) scale(0.74,1)" >CD25</text>
<text transform="translate(34.20,624.60) scale(0.78,1)" font-size="9.6" text-anchor="start" font-weight="normal" font-style="normal" fill="#222" >B220</text>
</svg></body></html>
